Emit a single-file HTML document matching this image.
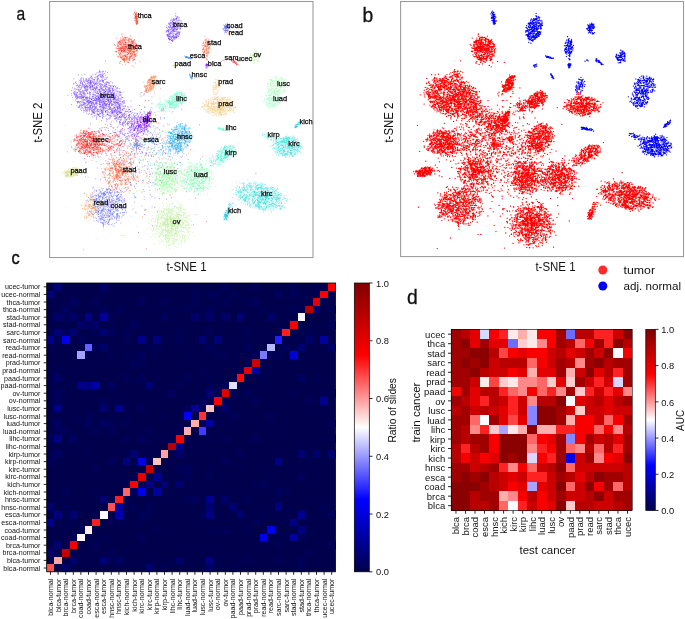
<!DOCTYPE html><html><head><meta charset="utf-8"><title>figure</title><style>html,body{margin:0;padding:0;background:#fff}svg{display:block;will-change:transform}text{font-family:"Liberation Sans",sans-serif;fill:#111}</style></head><body>
<svg width="685" height="619" viewBox="0 0 685 619">
<rect width="685" height="619" fill="#fff"/>
<defs>
<path id="p_thca_T" d="M118.4 53.3h0M129.8 60.7h0M124.7 39.7h0M131.2 49.3h0M127.0 55.0h0M136.4 46.2h0M127.3 48.6h0M121.1 41.3h0M134.4 54.9h0M124.3 55.6h0M131.5 50.0h0M127.8 55.0h0M132.2 50.0h0M130.8 53.7h0M121.9 42.7h0M132.6 53.9h0M132.2 58.2h0M135.3 42.1h0M122.9 56.8h0M120.7 61.5h0M130.4 51.5h0M128.0 44.5h0M123.3 40.7h0M125.2 48.4h0M125.5 47.6h0M132.7 54.0h0M126.4 57.7h0M118.1 43.1h0M133.8 46.5h0M129.8 41.2h0M122.2 42.4h0M121.5 48.3h0M127.6 49.1h0M130.1 45.9h0M133.3 52.4h0M130.1 53.0h0M124.9 43.1h0M127.0 48.6h0M129.0 38.1h0M122.8 50.5h0M128.7 53.5h0M135.4 51.3h0M130.9 42.7h0M135.3 47.6h0M127.2 59.1h0M132.3 41.8h0M124.7 50.7h0M123.8 57.7h0M120.1 48.7h0M137.2 49.6h0M121.8 51.2h0M129.0 56.7h0M126.4 47.0h0M119.2 48.9h0M130.6 44.3h0M129.9 46.3h0M123.0 59.2h0M125.6 56.3h0M136.7 44.4h0M117.2 48.7h0M132.7 53.8h0M133.5 51.3h0M134.5 48.5h0M124.1 47.2h0M133.7 51.9h0M121.6 48.6h0M121.1 48.8h0M124.6 50.1h0M136.5 45.4h0M131.8 47.1h0M131.0 53.9h0M130.2 54.5h0M119.5 54.6h0M131.6 39.4h0M124.7 46.5h0M125.6 38.1h0M119.1 44.4h0M129.1 59.2h0M130.6 39.4h0M130.8 49.4h0M125.5 44.5h0M130.0 59.2h0M120.9 50.3h0M130.7 48.3h0M117.2 46.2h0M134.6 52.4h0M119.9 52.9h0M123.9 43.6h0M132.9 51.6h0M126.8 54.6h0M128.8 49.3h0M115.2 45.5h0M121.8 54.5h0M119.8 48.8h0M125.2 55.3h0M122.1 40.7h0M127.4 50.3h0M131.9 45.0h0M128.1 48.6h0M123.3 49.2h0M116.7 51.6h0M132.4 41.2h0M125.2 56.4h0M129.1 41.4h0M124.8 59.1h0M125.8 42.4h0M123.1 56.6h0M119.7 42.8h0M132.2 45.9h0M132.8 51.5h0M130.1 38.9h0M118.5 46.4h0M124.3 51.8h0M121.0 58.4h0M127.2 49.2h0M126.4 59.8h0M119.9 41.1h0M129.7 51.3h0M123.8 42.6h0M135.7 46.5h0M127.7 48.9h0M133.0 43.0h0M129.9 39.3h0M130.1 56.8h0M134.5 47.3h0M128.2 54.3h0M129.8 45.2h0M131.1 44.2h0M124.0 45.8h0M120.6 48.0h0M129.4 58.4h0M118.7 47.8h0M125.3 55.8h0M130.6 53.4h0M134.4 58.1h0M128.8 42.0h0M135.9 43.4h0M131.8 56.2h0M134.6 49.8h0M126.0 61.0h0M131.9 55.6h0M130.0 58.0h0M120.3 44.6h0M117.1 55.1h0M120.8 52.4h0M129.2 58.5h0M125.5 46.4h0M125.2 56.4h0M122.5 52.7h0M116.3 51.9h0M130.2 46.3h0M127.0 58.5h0M125.3 39.8h0M123.1 60.0h0M133.1 43.3h0M118.3 56.8h0M119.9 48.7h0M132.2 42.9h0M124.8 44.5h0M128.5 50.3h0M129.4 52.4h0M136.2 48.4h0M136.8 51.2h0M125.8 52.6h0M134.7 46.6h0M134.7 49.9h0M130.7 56.3h0M128.8 58.6h0M132.0 52.6h0M115.9 51.3h0M120.3 44.0h0M123.3 58.1h0M133.1 54.9h0M128.5 44.3h0M127.5 46.8h0M121.9 46.6h0M133.2 57.7h0M117.7 46.1h0M120.5 41.1h0M124.5 50.3h0M133.3 40.4h0M120.0 55.6h0M117.8 48.3h0M131.1 53.3h0M117.8 44.5h0M127.1 46.5h0M126.7 47.2h0M126.8 50.3h0M131.8 48.7h0M125.8 42.9h0M124.2 50.6h0M120.2 53.6h0M127.2 46.9h0M130.7 57.9h0M123.9 44.8h0M125.0 37.9h0M125.6 48.8h0M130.9 44.2h0M115.8 51.6h0M119.9 50.8h0M124.8 59.8h0M135.0 43.7h0M122.8 59.5h0M125.4 44.4h0M120.3 53.9h0M128.5 48.2h0M137.1 44.9h0M137.1 51.3h0M138.2 48.5h0M125.4 47.7h0M132.0 52.0h0M121.3 49.1h0M130.1 50.2h0M118.1 45.8h0M129.9 57.4h0M123.4 53.3h0M123.4 60.2h0M119.8 42.9h0M128.1 46.0h0M136.3 44.3h0M121.8 59.8h0M122.7 46.7h0M134.3 49.3h0M120.4 56.8h0M134.5 46.7h0M129.2 51.6h0M132.1 42.5h0M122.5 41.8h0M124.2 60.0h0M128.4 39.0h0M125.3 56.0h0M134.1 42.4h0M134.6 54.2h0M134.3 57.0h0M126.8 44.7h0M125.4 49.6h0M131.5 56.3h0M122.5 48.6h0M124.3 58.8h0M114.5 44.4h0M126.5 40.1h0M129.9 44.4h0M133.4 52.0h0M118.6 42.7h0M129.8 48.6h0M121.4 50.6h0M127.3 44.9h0M134.2 55.0h0M133.0 41.7h0M122.4 46.1h0M130.8 45.1h0M128.7 39.8h0M129.7 45.5h0M131.4 51.0h0M125.6 42.3h0M129.3 57.1h0M126.6 51.9h0M122.5 59.0h0M120.9 44.5h0M123.2 44.6h0M128.9 47.9h0M137.2 50.0h0M128.0 52.7h0M124.8 51.8h0M128.2 45.5h0M124.4 48.1h0M115.9 48.0h0M127.1 44.1h0M124.1 44.3h0M124.5 59.5h0M135.8 55.4h0M122.3 50.3h0M131.7 43.7h0M118.0 41.7h0M134.0 51.9h0M118.8 52.7h0M124.8 51.2h0M118.0 43.1h0M118.5 43.0h0M136.7 45.4h0M122.6 57.1h0M120.6 53.7h0M124.8 46.9h0M132.8 43.0h0M124.2 37.9h0M123.6 49.7h0M129.0 43.1h0M119.5 49.8h0M136.1 46.5h0M124.6 61.4h0M129.1 51.7h0M128.5 45.5h0M124.0 60.0h0M131.3 41.7h0M120.2 42.6h0M116.9 48.3h0M135.3 55.0h0M128.5 40.7h0M136.5 54.0h0M133.2 47.3h0M133.6 41.4h0M125.2 54.6h0M133.2 56.7h0M132.4 43.4h0M118.9 50.2h0M131.0 53.9h0M121.0 49.1h0M127.0 56.8h0M125.8 49.8h0M120.4 39.9h0M132.3 45.2h0M128.9 41.8h0M130.8 56.5h0M118.3 50.4h0M120.7 49.4h0M135.9 48.3h0M135.0 54.8h0M121.7 48.6h0M129.9 46.9h0M117.9 56.7h0M125.9 64.1h0M122.9 47.3h0M122.8 59.1h0M134.8 44.4h0M137.0 56.0h0M127.7 52.7h0M129.3 50.6h0M124.4 37.3h0M126.0 52.7h0M130.0 46.4h0M133.0 43.4h0M132.4 46.3h0M126.5 59.2h0M132.1 49.0h0M119.1 56.7h0M131.2 47.8h0M127.7 37.6h0M129.2 50.1h0M125.0 42.1h0M128.2 48.1h0M132.9 47.6h0M125.6 42.4h0M132.7 41.0h0M131.2 41.1h0M125.6 50.8h0M135.6 56.3h0M125.5 38.1h0M134.6 59.5h0M124.0 52.0h0M132.7 48.8h0M122.7 47.1h0M123.3 48.4h0M128.4 48.4h0M125.1 58.6h0M129.6 49.0h0M130.6 46.3h0M120.6 57.4h0M123.8 55.8h0M129.9 52.7h0M133.5 44.5h0M128.4 53.2h0M134.0 49.5h0M130.2 45.7h0M121.2 44.4h0M122.8 40.2h0M126.0 39.9h0M134.1 51.3h0M134.5 54.8h0M118.6 49.0h0M130.4 50.4h0M123.7 48.9h0M126.6 45.8h0M120.7 38.2h0M119.7 41.5h0M130.4 50.2h0M127.8 62.2h0M130.4 45.9h0M132.3 55.2h0M119.7 47.2h0M137.2 52.9h0M128.5 48.2h0M129.9 55.6h0M119.7 54.3h0M124.5 48.2h0M125.9 43.3h0M132.3 46.4h0M126.0 37.6h0M121.7 57.5h0M135.6 54.2h0M124.8 40.2h0M137.1 46.9h0M136.7 50.2h0M128.0 40.4h0M130.1 56.6h0M121.7 50.5h0M123.0 48.4h0M120.5 42.5h0M130.8 48.7h0M123.2 38.8h0M120.2 55.2h0M125.7 43.0h0M116.8 51.5h0M123.3 51.5h0M120.5 57.3h0M124.3 49.1h0M124.9 60.4h0M127.2 57.3h0M133.0 58.7h0M122.6 51.0h0M124.4 59.1h0M131.4 40.3h0M131.2 41.9h0M121.7 58.0h0M122.2 44.0h0M131.0 45.6h0M122.2 55.6h0M118.1 45.4h0M121.3 51.4h0M121.9 41.1h0M130.3 48.0h0M131.5 55.5h0M136.7 46.5h0M125.6 46.5h0M129.4 39.1h0M126.2 48.2h0M134.5 39.5h0M123.8 55.8h0M125.4 42.6h0M126.1 58.4h0M118.2 48.5h0M123.0 39.2h0M127.8 52.4h0M133.2 59.6h0M124.5 55.3h0M129.7 60.9h0M133.8 60.1h0M132.2 65.6h0M128.1 50.6h0M121.8 50.8h0M134.7 53.8h0M133.0 60.9h0M135.3 63.0h0M126.8 57.0h0M127.7 58.9h0M124.8 57.8h0M134.8 49.5h0M128.5 53.5h0M128.2 62.2h0M127.0 61.9h0M119.9 63.5h0M124.5 61.1h0M128.2 45.1h0M123.8 59.1h0M134.5 59.4h0M128.5 50.9h0M134.0 67.0h0M127.4 56.9h0M119.8 62.4h0M139.9 61.6h0M133.2 60.7h0M122.7 64.7h0M121.6 56.9h0M128.6 62.4h0M129.2 59.9h0M123.8 51.6h0M127.6 54.4h0M121.2 51.7h0M125.0 48.7h0M121.0 49.8h0M128.2 60.0h0M136.7 50.5h0M124.1 62.6h0M126.3 56.4h0M135.3 56.3h0M121.9 51.4h0M125.8 46.2h0M119.4 41.1h0M126.5 47.3h0M122.1 47.5h0M126.6 37.9h0M123.3 46.7h0M122.4 36.4h0M123.5 48.0h0M130.4 36.2h0M134.2 40.5h0M128.1 49.9h0M128.2 45.6h0M120.2 47.5h0M121.8 34.9h0M135.1 47.8h0M131.3 41.4h0M130.0 51.4h0M130.3 44.9h0M120.0 44.3h0M116.3 38.2h0M124.9 41.0h0M123.9 44.6h0M131.7 50.2h0M124.3 49.8h0M121.6 43.7h0M127.9 40.0h0M123.5 39.7h0M124.9 51.5h0M121.7 45.9h0M121.2 40.4h0M119.9 50.8h0M133.3 46.9h0M121.8 47.8h0M123.3 48.2h0M125.6 46.1h0M126.8 42.7h0M123.0 38.1h0M122.9 39.3h0M124.0 41.2h0M124.9 46.8h0M119.2 41.7h0M121.0 48.0h0M130.9 48.4h0M123.2 50.9h0M118.9 51.0h0M122.1 33.9h0M134.4 51.3h0M120.7 45.7h0M123.7 45.4h0M119.0 42.3h0M126.3 45.9h0M129.0 45.3h0M133.3 42.1h0M125.5 37.3h0M119.8 50.3h0M121.0 47.1h0M124.3 40.8h0M123.2 42.9h0M172.3 111.8h0M92.4 192.9h0M111.7 219.2h0M152.0 96.9h0"/>
<path id="p_brca_T" d="M107.8 96.0h0M92.1 112.2h0M110.5 86.1h0M83.4 108.9h0M83.4 97.5h0M103.5 106.9h0M113.1 95.2h0M78.9 101.4h0M97.0 88.3h0M105.6 101.7h0M97.4 96.3h0M96.5 103.7h0M76.1 92.9h0M93.8 83.0h0M102.3 114.0h0M93.1 94.4h0M107.5 91.7h0M103.3 114.2h0M75.6 91.1h0M98.2 101.1h0M104.0 110.3h0M78.2 89.6h0M77.5 92.7h0M92.7 87.1h0M104.2 94.7h0M97.3 76.5h0M84.1 104.1h0M76.9 89.6h0M93.5 81.8h0M101.7 94.9h0M95.8 88.5h0M92.8 94.9h0M102.3 105.6h0M106.3 94.6h0M90.9 105.8h0M85.6 97.6h0M110.8 94.8h0M97.5 114.8h0M100.0 97.0h0M96.4 103.1h0M112.9 113.2h0M81.2 88.7h0M106.9 87.1h0M85.2 97.8h0M110.5 90.9h0M87.1 98.0h0M109.9 87.6h0M109.0 112.8h0M93.0 102.8h0M99.3 99.7h0M101.1 83.8h0M84.1 93.3h0M91.8 82.7h0M93.6 111.6h0M101.1 81.4h0M120.3 106.0h0M110.2 109.3h0M80.3 109.2h0M111.6 93.3h0M107.5 93.0h0M110.6 93.8h0M95.8 107.8h0M80.5 82.9h0M112.1 112.1h0M89.5 96.3h0M90.9 90.8h0M92.9 106.9h0M81.2 96.3h0M78.5 102.4h0M112.8 112.6h0M117.6 114.5h0M105.0 86.9h0M115.2 105.0h0M111.1 101.9h0M106.7 96.1h0M98.3 97.3h0M108.7 83.0h0M106.9 101.2h0M101.7 102.9h0M91.6 101.2h0M100.0 109.2h0M116.7 112.6h0M98.9 97.0h0M107.6 96.8h0M106.2 81.4h0M91.8 111.0h0M113.8 90.7h0M107.5 89.9h0M90.6 101.5h0M109.7 117.1h0M105.6 111.8h0M82.0 97.4h0M103.8 93.4h0M104.0 103.2h0M81.6 95.7h0M86.5 101.1h0M101.4 96.5h0M102.5 109.0h0M92.9 85.3h0M90.0 102.0h0M92.0 85.3h0M105.6 91.6h0M108.1 90.2h0M110.7 91.1h0M88.1 107.4h0M93.4 103.1h0M109.6 115.6h0M92.8 107.9h0M105.4 108.7h0M105.7 86.5h0M116.4 110.5h0M100.0 116.8h0M110.9 81.6h0M105.8 82.6h0M118.4 103.3h0M89.9 98.3h0M115.4 109.5h0M104.2 91.3h0M91.2 104.8h0M100.8 91.8h0M109.8 103.7h0M99.7 98.4h0M83.3 80.3h0M94.3 79.6h0M81.0 83.4h0M89.6 92.1h0M85.7 83.4h0M107.5 114.2h0M100.3 99.4h0M91.5 99.5h0M86.6 89.2h0M93.9 106.7h0M99.0 104.0h0M81.5 94.4h0M83.5 97.3h0M90.3 109.4h0M114.5 98.2h0M113.7 99.4h0M106.9 103.7h0M80.7 91.4h0M93.5 112.6h0M82.1 105.1h0M102.4 99.9h0M118.5 117.5h0M114.5 107.6h0M103.7 107.0h0M91.9 84.3h0M109.6 108.6h0M114.4 94.3h0M104.6 90.4h0M93.7 103.4h0M95.9 84.5h0M120.1 101.4h0M106.8 110.3h0M94.1 94.3h0M83.9 93.5h0M92.2 101.3h0M96.3 98.5h0M114.7 114.9h0M93.6 88.5h0M98.6 111.3h0M84.5 96.4h0M101.2 97.3h0M84.1 102.7h0M85.2 106.2h0M107.3 97.9h0M86.9 86.3h0M87.0 87.7h0M96.6 104.1h0M89.0 80.2h0M83.0 99.9h0M80.0 84.9h0M80.8 98.5h0M99.1 98.6h0M106.4 95.1h0M95.8 83.6h0M117.1 101.4h0M90.4 103.2h0M90.8 106.0h0M109.4 118.8h0M95.9 98.4h0M91.0 101.1h0M99.4 107.2h0M88.4 114.1h0M91.7 103.3h0M100.6 95.9h0M80.8 94.3h0M108.9 89.0h0M103.8 101.6h0M100.0 113.7h0M107.3 98.9h0M115.7 110.4h0M104.7 103.4h0M76.2 85.7h0M92.0 103.3h0M99.3 113.6h0M83.2 78.3h0M91.9 89.6h0M98.2 101.3h0M80.2 85.6h0M83.4 94.1h0M109.6 91.7h0M113.8 111.2h0M95.1 108.2h0M85.1 86.5h0M114.4 107.5h0M106.2 93.1h0M113.8 101.4h0M89.9 101.6h0M102.6 89.2h0M94.5 105.2h0M109.6 99.1h0M96.8 117.0h0M103.5 99.8h0M105.4 103.9h0M80.7 93.2h0M109.4 104.8h0M108.6 100.7h0M90.4 84.9h0M85.3 86.3h0M87.8 81.3h0M75.7 96.5h0M116.3 94.0h0M98.0 85.3h0M82.2 95.7h0M91.4 104.8h0M102.5 107.4h0M82.7 108.1h0M93.8 98.4h0M105.6 105.0h0M115.0 98.0h0M91.5 110.1h0M87.0 90.0h0M116.4 113.2h0M84.9 87.6h0M91.0 83.1h0M102.1 101.5h0M125.5 105.7h0M98.9 101.2h0M92.5 106.7h0M101.8 79.4h0M82.2 105.0h0M114.7 93.3h0M92.3 116.9h0M91.0 102.0h0M97.1 93.5h0M111.1 92.5h0M102.2 96.2h0M85.2 111.6h0M95.9 96.0h0M83.3 97.2h0M95.4 88.4h0M97.2 98.7h0M110.0 90.7h0M97.7 91.8h0M102.7 117.5h0M86.5 105.5h0M88.0 102.0h0M120.3 98.9h0M77.3 92.7h0M90.6 87.2h0M117.3 98.7h0M76.2 99.0h0M117.1 100.2h0M89.8 105.6h0M119.4 108.0h0M115.4 119.0h0M96.2 86.2h0M90.0 98.4h0M115.4 87.1h0M79.1 85.6h0M96.1 88.7h0M87.7 100.8h0M88.9 88.0h0M96.0 78.0h0M83.2 100.1h0M89.3 93.8h0M101.4 95.2h0M110.4 98.0h0M76.9 105.4h0M103.3 102.0h0M109.6 91.3h0M74.2 93.1h0M99.1 97.4h0M101.7 88.7h0M81.2 101.5h0M103.2 94.7h0M76.0 81.6h0M98.3 78.7h0M105.7 95.6h0M82.7 82.5h0M115.1 100.0h0M81.6 98.4h0M88.0 98.9h0M90.7 83.7h0M86.2 97.5h0M97.5 87.2h0M89.6 92.2h0M102.5 80.3h0M113.1 87.1h0M87.2 88.1h0M115.3 97.0h0M106.6 84.7h0M107.5 93.5h0M109.3 103.4h0M116.8 107.0h0M92.0 87.1h0M83.6 104.7h0M119.7 91.7h0M86.3 98.4h0M102.4 81.3h0M95.8 102.0h0M88.9 82.6h0M120.9 95.3h0M116.6 91.0h0M71.5 104.4h0M79.1 90.7h0M76.3 83.6h0M87.5 101.5h0M81.1 91.2h0M106.3 99.2h0M102.3 96.1h0M87.7 104.5h0M94.3 79.9h0M118.6 100.7h0M95.2 97.7h0M117.9 88.4h0M103.7 90.7h0M108.7 95.3h0M112.6 112.4h0M121.4 98.1h0M120.1 104.6h0M94.7 106.6h0M89.9 83.6h0M111.9 112.6h0M90.3 88.2h0M97.6 81.8h0M103.0 80.5h0M111.1 92.2h0M83.5 112.2h0M105.4 108.3h0M112.0 86.3h0M117.5 108.5h0M95.2 107.8h0M94.6 108.8h0M105.0 85.7h0M79.9 94.5h0M102.2 94.6h0M91.1 76.1h0M117.7 87.6h0M99.2 94.8h0M123.1 92.0h0M90.5 107.4h0M91.5 99.2h0M87.2 80.0h0M87.5 86.9h0M106.6 83.9h0M110.6 85.9h0M85.7 107.6h0M100.0 100.8h0M102.4 80.2h0M95.0 81.3h0M89.2 109.2h0M107.0 104.4h0M115.4 107.0h0M91.1 114.7h0M92.0 105.6h0M97.5 110.8h0M109.5 105.9h0M97.8 98.2h0M88.8 100.5h0M106.5 106.9h0M97.5 103.0h0M74.3 94.1h0M108.4 92.4h0M113.7 93.0h0M82.6 97.7h0M104.3 107.9h0M89.8 110.1h0M94.4 84.9h0M82.8 97.5h0M84.4 85.4h0M100.7 84.0h0M90.2 77.6h0M109.0 93.1h0M112.6 112.6h0M87.9 106.8h0M103.7 100.9h0M73.8 83.9h0M87.9 83.5h0M94.1 105.1h0M114.7 110.3h0M71.7 90.5h0M102.5 113.5h0M99.5 116.4h0M91.1 98.2h0M116.3 100.0h0M79.6 102.9h0M97.7 78.0h0M77.8 101.8h0M79.0 97.9h0M103.4 108.5h0M99.9 110.1h0M104.0 86.2h0M77.2 95.4h0M87.0 110.2h0M118.5 104.7h0M113.5 93.7h0M95.6 100.5h0M74.9 94.6h0M84.9 86.1h0M102.3 112.3h0M83.5 96.0h0M90.6 105.8h0M109.0 87.6h0M99.7 99.5h0M109.5 101.7h0M94.3 110.4h0M79.7 107.3h0M106.4 105.4h0M115.9 96.9h0M104.6 92.7h0M106.3 104.6h0M81.8 87.7h0M83.2 98.9h0M83.6 79.4h0M79.8 106.4h0M108.6 99.4h0M96.1 113.8h0M108.6 89.3h0M93.0 104.8h0M90.4 80.9h0M71.8 95.2h0M81.0 87.5h0M77.0 85.6h0M93.2 90.0h0M104.2 102.8h0M117.3 112.9h0M110.8 100.8h0M92.6 108.9h0M82.9 102.2h0M96.0 102.5h0M90.3 81.8h0M114.8 103.1h0M89.4 97.5h0M90.0 102.1h0M80.7 103.9h0M117.7 108.8h0M115.3 116.2h0M110.9 106.7h0M88.9 102.6h0M115.0 103.2h0M101.9 105.7h0M83.0 86.5h0M97.5 103.9h0M104.8 101.7h0M108.6 91.2h0M100.1 101.2h0M105.8 112.1h0M108.3 89.1h0M92.8 111.8h0M98.7 114.9h0M123.7 100.9h0M99.1 112.1h0M115.6 86.6h0M89.0 104.4h0M83.2 84.8h0M91.0 102.2h0M85.7 102.9h0M118.8 99.0h0M117.4 96.3h0M101.5 112.7h0M99.8 80.3h0M102.2 106.1h0M85.6 108.7h0M99.3 98.7h0M92.8 86.7h0M98.6 89.7h0M100.4 88.4h0M106.8 82.7h0M95.3 97.2h0M99.7 106.3h0M112.6 103.9h0M76.6 94.2h0M118.8 99.1h0M84.4 94.7h0M92.0 89.2h0M123.0 97.4h0M103.1 95.3h0M98.4 93.5h0M90.5 89.3h0M95.2 108.3h0M103.3 81.1h0M76.3 96.6h0M97.3 80.3h0M96.1 107.4h0M117.4 99.7h0M102.6 112.5h0M104.1 89.5h0M103.3 96.2h0M100.8 104.8h0M117.4 91.1h0M90.5 82.4h0M84.5 80.9h0M96.3 100.0h0M81.3 106.8h0M95.1 107.3h0M71.4 93.3h0M90.7 82.1h0M99.8 83.6h0M97.2 79.8h0M84.6 102.6h0M84.5 103.8h0M100.1 91.9h0M116.4 102.7h0M96.4 106.7h0M92.6 97.0h0M94.1 102.1h0M114.7 102.2h0M106.2 101.6h0M120.5 94.2h0M100.3 92.1h0M95.9 97.9h0M92.8 74.8h0M86.5 99.9h0M90.7 84.4h0M85.0 96.3h0M106.2 97.1h0M82.9 93.8h0M111.9 85.6h0M94.9 94.6h0M78.5 101.6h0M123.0 103.8h0M99.2 114.9h0M109.4 96.6h0M108.2 100.6h0M105.4 93.7h0M89.9 86.9h0M87.5 81.7h0M98.5 97.1h0M76.0 94.9h0M111.3 88.1h0M98.7 95.1h0M102.5 95.3h0M76.0 94.1h0M90.6 80.5h0M105.0 105.3h0M114.3 112.2h0M103.7 105.0h0M100.0 86.3h0M91.6 99.2h0M114.2 96.5h0M102.8 102.1h0M100.1 106.4h0M112.2 89.3h0M80.6 96.6h0M96.0 111.5h0M108.0 82.8h0M94.2 111.3h0M107.5 100.0h0M89.4 109.2h0M103.6 94.9h0M87.1 93.6h0M114.2 98.8h0M93.9 100.7h0M104.7 97.4h0M86.4 107.3h0M74.2 92.9h0M91.1 85.8h0M84.2 86.8h0M95.4 89.6h0M96.1 82.5h0M91.0 108.4h0M120.5 108.0h0M97.9 93.9h0M81.4 77.7h0M82.5 84.5h0M83.8 91.4h0M114.4 98.3h0M84.2 110.6h0M112.0 96.9h0M100.2 105.9h0M96.2 84.7h0M124.3 100.8h0M99.5 101.9h0M103.8 86.5h0M96.4 98.7h0M111.9 108.5h0M77.2 95.2h0M97.2 93.3h0M88.1 109.2h0M119.6 101.1h0M104.6 100.2h0M91.2 108.1h0M83.2 103.8h0M85.6 100.0h0M86.4 107.8h0M120.8 109.8h0M97.2 112.2h0M92.3 107.4h0M96.4 93.0h0M89.8 98.6h0M99.3 82.0h0M78.8 94.3h0M81.2 104.9h0M102.7 111.0h0M94.7 113.4h0M109.5 96.2h0M75.9 92.5h0M88.7 103.8h0M96.5 108.2h0M110.6 94.2h0M97.0 80.9h0M96.5 87.2h0M99.1 95.6h0M96.4 100.8h0M99.0 89.3h0M117.4 114.9h0M92.3 81.0h0M87.0 104.0h0M92.3 82.3h0M96.7 102.1h0M83.2 102.4h0M92.2 78.7h0M113.6 99.1h0M84.1 103.5h0M101.5 110.4h0M102.4 104.8h0M94.2 85.2h0M111.1 95.5h0M112.6 105.0h0M89.1 100.8h0M101.6 110.9h0M110.5 99.7h0M105.6 111.2h0M106.3 104.7h0M104.8 84.2h0M110.8 102.7h0M103.7 87.3h0M111.0 115.9h0M79.8 97.6h0M78.9 86.9h0M109.8 96.0h0M104.7 79.4h0M109.5 106.7h0M73.3 92.2h0M108.0 82.0h0M80.0 85.0h0M91.2 76.8h0M115.9 102.0h0M122.0 105.0h0M103.9 93.7h0M79.1 80.4h0M85.3 107.4h0M100.2 104.4h0M100.4 106.6h0M90.2 82.6h0M104.5 85.8h0M103.0 95.1h0M121.5 97.0h0M90.4 105.5h0M78.4 107.4h0M98.8 111.3h0M81.8 86.2h0M110.6 99.2h0M99.6 92.3h0M90.9 96.2h0M102.7 111.1h0M112.4 90.0h0M114.2 95.4h0M102.1 88.9h0M87.9 107.7h0M85.6 98.6h0M80.6 80.0h0M122.5 97.5h0M95.5 103.4h0M77.0 96.4h0M114.3 110.6h0M116.0 105.4h0M92.2 114.0h0M108.2 88.1h0M94.5 84.8h0M83.5 92.6h0M75.7 97.5h0M89.6 111.7h0M101.0 90.7h0M72.6 87.8h0M106.2 104.8h0M93.0 89.7h0M104.8 99.9h0M110.8 109.1h0M108.6 101.7h0M102.8 103.3h0M93.4 100.5h0M111.4 101.3h0M117.0 102.7h0M97.9 99.2h0M98.6 85.8h0M86.2 81.5h0M93.9 97.3h0M103.0 89.9h0M84.9 74.4h0M94.8 115.6h0M74.3 88.1h0M97.6 90.0h0M88.0 82.5h0M84.0 87.7h0M99.3 90.1h0M103.9 108.6h0M118.5 111.4h0M120.7 111.4h0M89.0 84.3h0M93.2 96.5h0M112.4 89.1h0M117.5 102.8h0M108.2 111.6h0M87.5 99.0h0M79.2 96.5h0M82.1 86.1h0M111.1 96.7h0M88.8 86.6h0M91.0 102.9h0M94.4 87.8h0M94.3 98.9h0M87.4 89.3h0M113.0 115.3h0M96.3 96.0h0M81.8 91.9h0M89.5 80.1h0M85.8 86.9h0M84.1 84.8h0M99.3 89.7h0M105.7 111.5h0M103.4 81.8h0M87.1 80.8h0M95.5 83.5h0M77.3 98.6h0M112.2 112.1h0M115.4 97.8h0M109.5 89.5h0M107.7 100.2h0M74.5 91.6h0M117.0 93.8h0M117.7 91.9h0M85.6 88.3h0M120.0 95.4h0M101.7 93.8h0M106.5 108.0h0M100.5 102.4h0M86.8 97.4h0M77.9 84.9h0M95.5 92.3h0M85.3 86.8h0M106.0 95.1h0M109.6 85.3h0M101.3 101.6h0M86.9 102.3h0M118.9 93.9h0M103.7 82.6h0M116.7 107.0h0M86.6 79.3h0M98.9 99.3h0M80.6 89.4h0M120.1 106.1h0M109.4 108.1h0M110.7 88.3h0M90.4 94.5h0M103.4 98.9h0M112.7 91.9h0M112.1 109.3h0M92.2 86.3h0M98.9 96.5h0M89.5 108.2h0M97.4 91.9h0M91.7 110.8h0M97.8 111.2h0M82.0 105.8h0M94.3 100.5h0M113.2 100.8h0M96.3 102.2h0M75.6 95.8h0M78.5 90.2h0M96.3 88.1h0M117.7 102.7h0M85.8 80.7h0M108.1 93.5h0M107.6 114.4h0M94.0 87.3h0M102.4 115.1h0M107.3 94.5h0M81.7 79.0h0M99.4 100.5h0M113.7 90.4h0M86.1 90.5h0M84.3 92.3h0M110.2 109.6h0M101.3 96.9h0M86.5 91.4h0M101.7 95.8h0M112.3 110.8h0M96.0 90.0h0M83.7 100.1h0M84.8 88.8h0M92.4 89.0h0M113.7 86.7h0M112.4 97.7h0M103.5 116.1h0M115.6 90.9h0M110.9 116.3h0M106.9 101.6h0M94.6 99.8h0M89.1 107.6h0M100.9 91.3h0M95.3 95.2h0M75.4 100.2h0M105.6 87.7h0M113.6 98.8h0M94.2 90.5h0M90.0 79.0h0M110.7 92.8h0M92.5 102.5h0M119.3 106.0h0M102.7 118.4h0M120.1 112.8h0M113.6 86.3h0M101.3 111.8h0M87.8 102.2h0M84.7 90.5h0M102.8 104.2h0M79.7 96.1h0M93.2 98.6h0M99.0 98.5h0M86.9 84.0h0M84.8 94.6h0M103.9 114.5h0M109.5 82.7h0M77.7 97.4h0M112.9 105.9h0M120.4 92.4h0M80.7 97.4h0M116.8 118.2h0M86.1 110.4h0M96.4 99.6h0M108.7 104.7h0M85.5 104.0h0M99.8 104.8h0M97.1 105.5h0M92.9 79.1h0M98.6 99.9h0M105.9 101.6h0M100.7 111.1h0M91.6 103.2h0M100.9 107.3h0M78.5 74.9h0M119.7 92.6h0M109.3 90.1h0M89.7 94.8h0M102.7 90.5h0M109.2 83.6h0M88.8 81.3h0M100.5 94.2h0M84.7 99.6h0M101.1 86.8h0M78.7 86.5h0M100.6 85.4h0M99.2 90.8h0M99.5 98.7h0M106.9 91.8h0M114.7 108.0h0M76.3 95.5h0M86.9 85.5h0M113.6 86.4h0M106.0 103.7h0M94.8 87.3h0M80.0 104.9h0M120.9 112.7h0M85.9 103.6h0M88.4 79.1h0M112.6 112.2h0M115.1 89.6h0M108.3 104.4h0M93.3 112.5h0M88.3 102.4h0M108.5 106.3h0M115.1 98.1h0M108.3 99.8h0M100.3 96.9h0M98.7 114.3h0M113.1 88.3h0M78.1 107.0h0M93.0 102.3h0M96.2 87.4h0M109.0 108.9h0M118.4 106.7h0M114.6 98.5h0M88.2 100.5h0M108.5 85.3h0M67.9 95.2h0M113.0 114.2h0M73.9 89.8h0M101.3 110.5h0M105.8 105.2h0M118.5 108.3h0M79.6 98.3h0M89.7 113.8h0M88.2 101.9h0M110.4 100.1h0M103.9 93.1h0M97.2 77.0h0M92.8 111.8h0M101.5 86.3h0M96.3 82.0h0M85.1 89.7h0M94.0 109.8h0M97.5 109.8h0M87.1 96.7h0M92.8 103.9h0M105.3 95.7h0M85.5 93.9h0M94.1 82.6h0M103.0 96.5h0M85.7 79.2h0M99.9 103.9h0M88.5 103.3h0M116.2 97.9h0M103.9 101.5h0M95.9 111.2h0M89.6 85.5h0M112.6 91.3h0M114.1 85.5h0M99.9 84.5h0M97.3 92.2h0M77.1 101.8h0M110.8 107.8h0M88.5 80.5h0M104.9 103.8h0M105.8 88.6h0M105.7 111.2h0M111.3 104.9h0M119.0 106.3h0M99.8 104.6h0M81.1 80.7h0M112.1 109.0h0M114.0 102.5h0M122.4 110.1h0M95.4 83.6h0M116.9 88.1h0M87.0 107.9h0M117.3 106.4h0M109.3 104.6h0M110.6 107.7h0M99.8 91.5h0M77.5 85.2h0M119.4 94.9h0M93.3 89.7h0M84.6 82.5h0M98.3 115.1h0M97.1 100.0h0M113.7 102.3h0M112.6 99.9h0M85.8 95.6h0M99.5 94.9h0M99.1 81.2h0M91.9 105.0h0M98.3 109.4h0M100.2 89.6h0M115.2 101.3h0M111.0 101.7h0M81.3 102.7h0M113.7 110.8h0M85.0 105.8h0M104.5 103.3h0M103.0 99.0h0M85.1 107.7h0M116.5 88.9h0M92.7 111.1h0M124.1 103.2h0M75.3 88.6h0M109.9 90.2h0M88.1 85.9h0M101.7 89.3h0M112.1 110.4h0M105.1 105.0h0M83.2 102.0h0M111.7 94.0h0M100.1 96.9h0M97.8 83.7h0M89.7 87.8h0M113.7 108.8h0M119.1 98.6h0M91.5 80.7h0M86.2 80.9h0M109.0 91.5h0M95.2 106.4h0M90.5 86.5h0M94.2 79.9h0M106.0 77.7h0M104.3 104.7h0M97.7 95.6h0M115.5 95.9h0M86.5 78.8h0M102.1 113.0h0M118.6 97.5h0M107.3 108.9h0M94.5 112.8h0M105.2 94.2h0M86.6 85.4h0M82.0 105.2h0M104.1 91.0h0M90.5 81.8h0M103.9 106.3h0M94.2 112.9h0M109.9 86.9h0M106.5 89.7h0M119.9 117.8h0M79.6 87.1h0M98.3 79.1h0M95.7 98.1h0M103.2 101.8h0M81.5 96.7h0M121.0 99.5h0M100.5 81.0h0M96.5 119.3h0M101.8 95.0h0M91.3 76.8h0M86.1 110.1h0M90.9 108.4h0M100.4 109.2h0M77.1 98.0h0M89.1 99.8h0M87.3 109.7h0M112.9 93.4h0M102.1 87.7h0M87.4 93.0h0M98.1 97.2h0M95.7 90.2h0M122.5 101.8h0M104.3 92.6h0M94.9 92.3h0M96.4 86.9h0M105.4 84.9h0M102.8 85.3h0M120.1 91.7h0M80.1 105.6h0M77.4 103.1h0M91.6 114.0h0M110.4 97.5h0M104.6 96.6h0M73.9 93.6h0M86.7 97.7h0M105.7 111.4h0M108.9 100.5h0M92.1 77.3h0M109.1 99.9h0M90.0 83.9h0M86.2 91.3h0M103.0 81.9h0M113.9 94.5h0M112.4 90.3h0M88.0 101.2h0M89.1 93.1h0M124.1 101.2h0M77.7 87.8h0M107.8 87.3h0M73.9 83.5h0M112.6 88.5h0M104.8 103.3h0M117.9 106.0h0M105.3 105.5h0M81.6 95.2h0M85.1 100.4h0M115.1 101.0h0M124.9 108.5h0M106.0 112.3h0M110.2 90.1h0M78.9 88.0h0M113.9 89.1h0M77.7 102.3h0M105.0 85.1h0M120.4 107.5h0M84.0 93.3h0M92.3 99.9h0M94.6 104.3h0M83.7 110.3h0M83.9 96.6h0M82.4 90.8h0M85.7 90.3h0M99.0 90.2h0M101.3 94.6h0M102.5 98.2h0M92.9 81.4h0M93.3 106.4h0M86.9 86.7h0M75.2 94.2h0M93.8 112.9h0M83.7 104.8h0M95.2 109.6h0M75.6 82.6h0M101.2 100.1h0M85.7 88.9h0M72.3 97.3h0M111.4 103.5h0M86.6 113.2h0M106.3 99.5h0M93.2 92.8h0M118.2 114.5h0M87.1 87.1h0M97.1 84.0h0M107.0 114.2h0M87.4 97.6h0M96.4 118.1h0M86.9 89.8h0M105.7 91.5h0M95.6 103.7h0M103.9 109.4h0M102.9 107.4h0M81.8 75.1h0M101.1 100.1h0M93.5 94.7h0M102.3 93.1h0M105.0 83.5h0M93.6 83.6h0M112.9 104.6h0M74.5 94.9h0M93.4 110.1h0M95.0 95.7h0M101.6 106.8h0M107.3 114.9h0M110.8 99.5h0M120.8 92.5h0M108.3 109.6h0M105.0 92.4h0M98.1 97.5h0M89.5 101.0h0M110.3 102.1h0M115.4 99.4h0M80.6 92.5h0M96.9 83.5h0M86.9 98.9h0M100.5 95.7h0M89.5 103.0h0M97.7 114.0h0M98.5 99.1h0M89.1 82.6h0M83.0 85.6h0M114.3 96.0h0M102.2 107.2h0M105.7 89.5h0M116.7 99.9h0M103.2 80.6h0M104.7 107.1h0M99.4 101.7h0M100.7 100.4h0M79.2 107.0h0M101.5 88.4h0M99.9 102.1h0M80.7 94.0h0M117.9 111.2h0M94.3 83.2h0M103.4 104.0h0M105.4 88.4h0M90.7 87.7h0M97.8 99.1h0M96.0 76.8h0M86.3 101.6h0M90.4 93.0h0M74.0 78.7h0M89.2 110.4h0M77.3 96.7h0M103.5 89.5h0M105.5 94.6h0M109.6 91.9h0M85.5 86.6h0M118.3 91.9h0M108.5 118.6h0M124.1 106.3h0M109.1 105.1h0M116.5 95.5h0M100.9 93.2h0M81.7 99.1h0M100.1 94.1h0M104.8 98.6h0M99.7 103.7h0M92.4 85.6h0M108.4 102.0h0M91.3 78.3h0M101.9 100.6h0M95.9 91.8h0M114.8 107.1h0M81.9 97.9h0M114.6 92.2h0M85.2 107.7h0M116.6 102.3h0M78.9 91.6h0M100.7 113.2h0M103.5 97.7h0M100.3 104.1h0M83.8 81.6h0M106.3 98.3h0M113.8 99.2h0M88.1 89.8h0M97.1 109.2h0M79.9 89.3h0M89.3 106.1h0M88.1 104.2h0M89.5 102.8h0M98.3 114.9h0M116.1 109.3h0M102.2 84.7h0M120.1 108.4h0M82.5 83.3h0M79.3 102.1h0M91.3 82.8h0M81.7 81.5h0M79.5 91.1h0M106.3 84.2h0M80.6 81.8h0M103.4 96.5h0M85.4 84.6h0M114.1 93.4h0M101.8 95.7h0M97.3 79.5h0M84.2 104.9h0M76.8 89.5h0M108.3 107.4h0M99.3 84.3h0M88.9 78.6h0M106.6 90.4h0M117.0 116.8h0M104.1 108.0h0M92.5 86.4h0M99.4 87.9h0M104.2 103.2h0M111.5 105.5h0M90.4 101.6h0M79.5 106.0h0M119.0 113.1h0M102.0 102.3h0M97.6 100.9h0M98.6 97.6h0M106.0 115.8h0M102.5 99.9h0M80.4 101.5h0M101.0 87.3h0M94.5 88.6h0M90.2 87.9h0M82.0 92.8h0M97.9 99.4h0M121.5 114.3h0M100.4 113.6h0M108.0 98.8h0M103.2 92.6h0M82.2 83.5h0M88.0 83.9h0M100.7 87.1h0M105.7 91.4h0M93.8 109.7h0M112.5 82.9h0M92.6 86.1h0M87.6 111.1h0M89.0 107.3h0M100.9 109.2h0M84.5 87.7h0M116.8 102.3h0M106.6 86.5h0M101.9 110.9h0M103.0 105.3h0M90.3 106.6h0M104.0 116.8h0M103.7 109.5h0M100.9 80.5h0M84.6 106.8h0M82.5 84.3h0M93.0 100.4h0M119.9 104.9h0M80.8 78.6h0M103.0 107.7h0M107.5 82.4h0M88.0 108.0h0M93.3 96.1h0M95.2 99.8h0M87.4 93.2h0M87.3 105.7h0M82.1 107.6h0M99.5 102.3h0M101.0 97.8h0M97.5 114.2h0M90.1 106.7h0M83.2 97.3h0M110.1 115.3h0M94.1 116.1h0M77.2 97.7h0M81.9 81.2h0M96.5 96.4h0M90.1 99.0h0M93.3 79.6h0M103.9 77.7h0M95.5 100.6h0M94.1 109.4h0M90.9 86.5h0M82.3 97.2h0M104.9 92.6h0M109.8 103.0h0M87.5 90.3h0M91.6 99.5h0M97.0 110.5h0M108.6 94.0h0M96.1 115.7h0M106.6 86.2h0M119.4 88.8h0M111.5 100.8h0M110.9 116.2h0M103.0 111.1h0M111.7 111.4h0M81.1 108.3h0M109.1 96.5h0M90.8 83.2h0M103.5 112.0h0M101.7 102.4h0M102.0 84.9h0M94.0 91.6h0M109.6 102.4h0M87.2 86.2h0M100.2 116.5h0M85.8 109.6h0M105.6 106.8h0M105.3 100.0h0M79.6 93.1h0M89.4 85.4h0M97.8 109.1h0M77.0 101.6h0M90.2 81.3h0M101.8 84.4h0M112.6 96.4h0M92.8 110.2h0M93.2 112.6h0M76.6 98.2h0M81.6 110.4h0M109.6 88.5h0M82.1 100.9h0M92.4 98.2h0M83.1 90.6h0M80.6 82.9h0M87.7 100.7h0M115.0 105.4h0M98.4 93.2h0M102.8 104.4h0M107.6 93.2h0M96.3 100.4h0M91.9 109.8h0M90.4 92.5h0M118.6 96.3h0M84.2 99.5h0M82.5 92.0h0M78.4 96.9h0M107.5 110.7h0M95.0 99.9h0M109.0 97.2h0M114.2 99.2h0M94.3 104.4h0M108.8 97.4h0M117.3 107.3h0M98.8 82.4h0M107.8 103.0h0M82.8 96.1h0M78.4 97.1h0M92.7 96.5h0M110.2 98.8h0M98.4 75.8h0M106.8 78.9h0M101.1 77.2h0M99.3 71.4h0M102.8 75.6h0M102.7 74.9h0M102.1 73.7h0M102.5 77.1h0M101.1 77.0h0M96.3 73.0h0M105.3 79.4h0M101.9 74.7h0M97.7 75.9h0M103.4 71.3h0M102.8 76.2h0M102.4 72.2h0M102.7 71.3h0M105.4 75.3h0M98.0 78.4h0M104.4 73.4h0M107.4 72.5h0M102.1 78.0h0M94.9 77.5h0M101.0 75.0h0M98.2 75.8h0M98.1 72.6h0M100.0 71.9h0M105.6 71.7h0M99.1 74.2h0M101.2 77.0h0M103.5 74.2h0M100.1 75.1h0M103.5 76.7h0M99.8 69.9h0M107.2 77.4h0M102.0 75.9h0M99.8 72.5h0M100.3 74.4h0M99.5 71.4h0M100.3 76.4h0M99.8 75.1h0M95.4 74.5h0M100.9 71.9h0M135.7 118.2h0M128.5 109.4h0M124.9 118.3h0M110.7 117.8h0M107.5 103.3h0M124.1 103.1h0M123.1 114.1h0M131.5 113.4h0M128.8 112.3h0M131.7 118.3h0M121.2 118.0h0M119.7 123.2h0M130.8 111.4h0M119.7 111.3h0M119.4 117.0h0M132.1 121.8h0M120.8 117.0h0M120.3 101.2h0M123.7 108.3h0M114.5 113.1h0M128.8 115.4h0M117.5 109.6h0M110.0 103.0h0M115.0 111.5h0M109.3 109.7h0M109.2 112.8h0M127.4 111.6h0M121.0 112.7h0M119.2 119.4h0M116.4 110.7h0M136.7 118.7h0M120.2 108.8h0M127.9 123.7h0M119.9 112.4h0M115.1 109.2h0M126.4 116.9h0M132.5 119.0h0M134.8 117.3h0M128.1 123.8h0M118.8 109.8h0M115.2 115.3h0M119.9 122.7h0M115.8 118.3h0M131.4 123.7h0M121.5 104.1h0M116.0 112.6h0M122.5 102.2h0M126.5 111.4h0M117.9 108.1h0M111.0 114.0h0M122.6 115.5h0M118.6 102.2h0M120.5 103.5h0M126.2 109.6h0M124.3 120.0h0M130.1 121.9h0M124.6 113.4h0M119.9 109.9h0M126.2 119.9h0M121.8 112.5h0M125.8 117.7h0M119.3 107.1h0M114.0 104.3h0M123.2 106.2h0M124.9 117.9h0M134.2 116.6h0M134.5 118.7h0M135.7 122.3h0M127.4 106.9h0M117.6 114.5h0M133.9 120.7h0M117.0 103.9h0M122.7 109.2h0M119.6 103.6h0M120.7 120.5h0M132.6 112.7h0M119.0 104.6h0M119.4 121.3h0M110.6 111.6h0M124.9 122.3h0M118.0 111.5h0M128.3 117.6h0M106.3 110.5h0M116.1 111.7h0M129.4 109.5h0M125.0 117.7h0M127.4 124.7h0M125.5 106.5h0M125.5 122.1h0M114.3 99.2h0M128.0 111.0h0M117.2 107.7h0M124.9 117.4h0M120.8 119.5h0M113.1 104.3h0M137.3 121.0h0M119.6 105.3h0M122.3 101.6h0M115.6 103.3h0M120.7 113.2h0M119.0 108.1h0M132.6 121.8h0M118.6 112.0h0M125.6 111.6h0M120.6 122.3h0M118.6 102.8h0M122.6 109.6h0M122.5 116.0h0M134.6 113.1h0M118.2 119.2h0M129.1 117.1h0M111.6 113.8h0M115.9 102.1h0M139.0 121.4h0M124.9 112.1h0M109.4 104.7h0M121.5 119.9h0M119.1 107.9h0M116.1 104.7h0M122.9 114.5h0M117.5 112.4h0M126.0 114.5h0M110.5 102.8h0M122.5 123.2h0M119.7 107.0h0M113.5 108.8h0M134.6 117.1h0M113.4 107.2h0M129.1 119.7h0M123.9 122.8h0M122.9 122.7h0M130.7 117.5h0M111.0 112.8h0M119.6 113.1h0M131.4 119.1h0M120.5 122.4h0M117.3 103.7h0M137.2 120.5h0M129.4 115.3h0M123.6 121.4h0M115.2 109.1h0M119.3 116.5h0M122.0 109.9h0M119.6 116.5h0M122.1 116.6h0M117.4 117.1h0M125.1 121.1h0M124.1 102.5h0M114.6 118.6h0M111.7 110.5h0M115.0 118.8h0M112.8 111.7h0M116.7 115.2h0M113.0 113.2h0M122.8 106.1h0M123.4 126.0h0M121.3 102.1h0M119.1 113.2h0M127.5 122.0h0M123.4 116.5h0M134.4 116.2h0M131.8 123.3h0M116.2 117.6h0M125.9 113.2h0M126.6 119.7h0M121.1 116.2h0M116.5 118.2h0M130.7 111.7h0M127.2 123.8h0M129.5 116.7h0M126.7 123.3h0M117.5 107.8h0M128.3 107.0h0M111.7 101.4h0M119.7 111.4h0M109.8 107.8h0M116.6 120.4h0M128.4 117.7h0M120.3 112.6h0M121.6 112.6h0M114.3 102.6h0M123.0 113.7h0M119.4 117.2h0M125.1 125.9h0M124.6 113.7h0M111.4 104.7h0M118.8 104.8h0M130.1 114.5h0M122.9 130.4h0M129.3 109.5h0M120.9 115.6h0M130.0 126.9h0M132.0 116.1h0M131.0 106.8h0M90.4 123.8h0M107.6 112.2h0M113.8 132.7h0M113.7 128.0h0M123.7 108.4h0M108.5 130.4h0M135.9 134.4h0M156.1 127.9h0M134.4 122.7h0M131.9 119.7h0M117.9 150.2h0M104.3 127.5h0M136.5 126.2h0M116.9 121.7h0M123.8 110.2h0M129.6 118.8h0M122.5 133.0h0M115.4 129.8h0M121.6 129.6h0M131.1 127.2h0M116.4 113.9h0M118.1 126.2h0M140.5 138.0h0M123.1 125.0h0M107.5 95.1h0M117.9 115.3h0M108.3 100.8h0M137.4 113.4h0M106.5 154.0h0M132.3 119.7h0M139.3 113.9h0M152.0 103.8h0M111.6 122.0h0M119.2 142.0h0M107.5 114.2h0M133.1 131.0h0M143.7 128.1h0M160.4 117.5h0M132.1 134.7h0M125.3 119.8h0M123.2 115.2h0M113.9 116.4h0M108.0 128.4h0M107.4 150.2h0M153.2 137.8h0M126.6 115.9h0M146.6 125.8h0M137.3 114.1h0M144.3 113.1h0M131.0 101.0h0M120.3 129.9h0M123.2 117.6h0M140.4 122.4h0M146.7 92.1h0M137.3 129.9h0M107.9 106.5h0M141.6 109.5h0M120.5 131.1h0M124.8 129.5h0M117.3 127.2h0M144.4 127.5h0M98.8 131.7h0M130.2 111.6h0M148.7 100.7h0M155.4 115.1h0M151.3 122.7h0M110.8 124.5h0M134.0 130.3h0M144.1 111.7h0M136.2 132.8h0M125.6 111.2h0M116.0 133.0h0M140.5 112.6h0M110.7 139.3h0M107.7 125.3h0M118.1 100.6h0M131.1 120.8h0M149.4 152.7h0M126.7 136.5h0M143.9 116.5h0M117.3 144.1h0M124.2 122.9h0M125.3 121.5h0M120.9 133.0h0M146.8 118.4h0M110.1 123.9h0M108.6 115.0h0M146.4 153.3h0M134.5 109.5h0M140.2 94.2h0M119.7 143.0h0M139.7 105.4h0M106.2 134.3h0M128.7 115.6h0M135.1 115.8h0M102.6 133.7h0M120.3 110.3h0M110.8 126.5h0M118.1 131.3h0M125.6 137.3h0M123.9 114.8h0M101.9 109.1h0M139.3 162.8h0M111.9 109.9h0M134.0 129.5h0M119.9 124.3h0M107.0 119.4h0M141.9 144.4h0M127.0 119.9h0M135.6 137.6h0M136.1 113.6h0M134.3 135.8h0M119.4 106.0h0M136.4 128.0h0M142.8 124.4h0M120.4 117.7h0M115.0 111.1h0M121.6 117.1h0M144.9 107.5h0M128.7 115.7h0M150.1 126.7h0M124.2 133.9h0M130.3 117.2h0M150.7 132.5h0M153.5 138.3h0M140.2 125.1h0M114.4 132.6h0M130.5 132.1h0M129.3 114.5h0M115.5 132.5h0M147.4 119.7h0M135.8 141.3h0M117.9 119.0h0M113.9 138.7h0M133.1 117.5h0M106.5 121.1h0M143.4 119.6h0M99.9 128.7h0M115.0 169.2h0M116.9 149.9h0M132.3 167.7h0M103.1 135.1h0M134.6 186.5h0M119.6 136.9h0M151.7 156.4h0M135.1 197.3h0M118.3 172.2h0M178.7 144.0h0M187.5 172.0h0M143.2 189.5h0M140.9 96.2h0M142.0 151.4h0M102.7 172.2h0M123.5 134.7h0M186.3 182.7h0M171.4 197.6h0M106.8 199.7h0M112.8 131.3h0M144.4 147.7h0M175.7 147.5h0M151.4 155.6h0M119.4 149.6h0M126.8 159.9h0M133.3 176.1h0M130.2 162.8h0M174.1 167.6h0M200.4 159.0h0M144.1 170.6h0M163.5 174.6h0M136.3 151.8h0M127.9 156.4h0M102.1 127.5h0M110.6 189.8h0M142.8 180.5h0M131.6 164.0h0M118.0 110.5h0M131.0 144.3h0M122.6 123.4h0M150.1 174.5h0M149.1 181.5h0M117.8 170.0h0M135.2 144.7h0M137.1 133.7h0M129.1 155.6h0M96.3 191.3h0M158.9 174.7h0M175.9 171.8h0M150.4 194.7h0M125.8 124.7h0M158.2 150.5h0M160.2 171.6h0M120.9 154.7h0M111.7 157.2h0M132.9 175.1h0M179.8 162.6h0M130.5 159.0h0M134.9 145.6h0M142.4 129.9h0M117.8 162.0h0M158.4 168.4h0M130.6 182.6h0M144.2 196.9h0M148.5 156.1h0M109.5 186.2h0M159.4 188.6h0M169.5 156.6h0M144.1 191.4h0M120.9 150.3h0M145.7 100.6h0M131.5 171.0h0M142.2 166.9h0M141.3 92.5h0M112.1 92.9h0M152.0 196.5h0M146.8 90.4h0M129.2 190.9h0M157.7 189.8h0M169.3 124.8h0M150.2 174.1h0M108.8 142.5h0M138.4 232.4h0M177.4 164.4h0M144.7 106.9h0"/>
<path id="p_sarc_T" d="M151.5 88.4h0M146.4 89.5h0M149.2 79.3h0M153.4 81.0h0M145.5 90.5h0M151.9 87.5h0M151.1 87.2h0M146.5 89.6h0M150.9 77.3h0M153.3 76.0h0M152.7 77.2h0M153.8 81.4h0M151.9 79.2h0M151.9 78.2h0M150.2 80.5h0M152.0 77.3h0M153.8 76.6h0M153.5 84.6h0M149.7 87.4h0M150.7 82.9h0M150.4 90.0h0M148.9 88.8h0M154.4 82.7h0M144.3 87.4h0M149.2 79.6h0M148.2 90.5h0M147.8 81.8h0M152.4 86.1h0M149.6 78.9h0M154.4 83.7h0M151.2 82.0h0M152.0 77.0h0M149.8 82.2h0M144.4 91.8h0M151.4 82.6h0M145.4 87.6h0M148.7 86.1h0M149.0 80.8h0M153.7 84.5h0M153.3 77.9h0M151.5 80.2h0M150.3 89.0h0M155.4 77.4h0M149.5 84.4h0M151.1 75.2h0M150.1 82.7h0M155.7 76.0h0M153.5 87.9h0M150.8 86.1h0M145.9 91.7h0M148.5 90.4h0M151.8 79.5h0M150.6 91.2h0M151.1 87.9h0M149.6 82.7h0M151.4 86.6h0M155.5 76.7h0M144.9 90.7h0M147.6 88.2h0M150.2 79.8h0M153.8 84.6h0M146.3 90.9h0M150.3 84.7h0M145.7 88.2h0M155.4 76.1h0M153.2 83.2h0M149.9 88.5h0M153.5 87.7h0M148.0 87.6h0M147.4 88.0h0M154.1 76.8h0M151.9 78.9h0M154.0 76.9h0M148.1 85.6h0M146.9 85.3h0M153.2 83.5h0M152.6 88.0h0M153.3 86.8h0M153.0 86.2h0M154.4 79.2h0M147.7 81.3h0M152.4 78.0h0M151.6 77.8h0M152.4 81.6h0M148.2 80.9h0M146.8 88.5h0M150.7 86.8h0M147.4 85.6h0M148.4 91.2h0M152.6 83.3h0M153.8 78.0h0M145.8 91.6h0M148.6 82.4h0M149.9 83.9h0M150.3 79.5h0M153.8 83.5h0M146.0 91.7h0M150.6 78.0h0M147.7 82.1h0M153.3 83.8h0M147.4 92.3h0M151.6 76.8h0M150.8 85.5h0M148.3 80.0h0M154.7 83.9h0M153.5 76.7h0M153.4 87.7h0M152.8 84.7h0M149.2 81.7h0M149.5 78.9h0M153.0 83.6h0M149.8 79.4h0M148.4 89.4h0M145.6 85.7h0M154.4 76.3h0M146.7 86.5h0M150.1 86.2h0M149.4 84.8h0M150.9 89.1h0M151.0 89.1h0M150.5 86.4h0M149.2 83.0h0M147.1 88.3h0M149.7 87.7h0M154.0 76.5h0M150.5 81.2h0M156.3 76.8h0M149.2 91.3h0M150.7 79.8h0M146.8 91.0h0M147.3 82.4h0M148.4 84.4h0M149.8 79.9h0M150.2 82.8h0M151.5 83.6h0M150.9 77.3h0M145.9 88.6h0M154.7 77.8h0M150.2 86.0h0M154.2 77.9h0M149.7 80.0h0M147.9 89.2h0M153.0 79.2h0M150.6 89.2h0M150.8 84.3h0M146.9 90.4h0M148.7 82.7h0M150.9 79.9h0M146.3 89.6h0M149.8 80.3h0M154.4 85.0h0M153.8 85.8h0M153.5 76.6h0M145.4 91.3h0M147.5 83.4h0M153.0 80.8h0M155.1 80.8h0M152.0 83.9h0M146.2 87.0h0M145.5 89.6h0M149.2 85.6h0M152.6 80.8h0M154.2 83.9h0M149.1 79.6h0M147.6 84.6h0M151.9 77.8h0M147.0 85.5h0M149.6 80.4h0M148.8 90.3h0M151.1 89.3h0M145.9 86.6h0M146.8 90.7h0M149.7 89.6h0M154.4 84.2h0M151.6 80.7h0M148.9 85.2h0M154.1 85.5h0M150.7 87.3h0M147.5 87.1h0M156.3 79.8h0M152.2 84.1h0M154.2 78.5h0M149.5 87.9h0M149.3 79.9h0M152.1 89.3h0M152.3 89.0h0M154.7 80.3h0M152.7 85.3h0M151.1 89.1h0M150.7 86.6h0M151.6 81.3h0M151.0 77.4h0M149.9 85.9h0M146.1 86.2h0M154.3 93.8h0M155.0 87.7h0M146.1 85.6h0M149.4 89.8h0M147.3 88.1h0M153.5 89.4h0M160.0 98.4h0M144.3 85.1h0M143.5 82.1h0M152.0 83.0h0M144.7 86.5h0M153.2 86.1h0M147.9 92.4h0M151.7 90.1h0M153.9 82.9h0M150.5 84.7h0M154.2 91.9h0M144.8 94.4h0M144.2 93.6h0M150.5 83.6h0M144.4 86.4h0M149.4 84.4h0M112.0 146.6h0M141.0 146.2h0M146.3 182.7h0M116.2 117.7h0M114.6 116.3h0M117.5 148.6h0M95.4 155.5h0M133.6 115.7h0M124.5 114.1h0M125.2 201.7h0M121.8 235.4h0M145.9 119.2h0M170.9 176.5h0"/>
<path id="p_lihc_T" d="M184.4 99.2h0M171.8 106.8h0M174.8 95.1h0M172.1 102.0h0M182.1 100.7h0M176.8 96.2h0M180.5 92.4h0M171.8 104.1h0M175.3 103.3h0M180.8 98.1h0M179.1 99.5h0M174.4 104.3h0M181.5 100.1h0M181.9 96.1h0M169.2 98.4h0M176.1 107.0h0M170.2 100.9h0M181.9 102.1h0M180.2 95.8h0M173.3 101.9h0M173.2 97.4h0M178.2 100.8h0M175.1 101.2h0M172.8 96.3h0M175.2 102.4h0M185.7 97.8h0M170.2 104.9h0M177.7 93.8h0M169.3 105.9h0M179.1 98.4h0M171.7 101.3h0M179.5 95.1h0M186.3 96.1h0M174.9 99.8h0M169.9 103.5h0M173.7 107.4h0M178.6 97.4h0M183.8 99.3h0M170.3 104.2h0M176.5 104.2h0M181.9 95.7h0M175.5 93.1h0M180.3 102.7h0M180.8 100.4h0M183.4 97.0h0M177.8 100.6h0M182.9 93.4h0M177.5 98.4h0M176.6 92.3h0M171.6 107.2h0M170.1 104.4h0M167.1 101.8h0M177.1 93.6h0M181.6 97.3h0M181.8 102.7h0M168.9 101.2h0M179.4 100.5h0M183.1 93.7h0M181.5 98.3h0M182.6 95.7h0M178.8 102.1h0M179.4 101.8h0M170.2 107.2h0M169.9 98.9h0M178.0 99.1h0M169.3 105.2h0M180.6 94.4h0M181.6 92.2h0M184.2 95.0h0M175.0 104.1h0M170.3 104.6h0M181.4 97.8h0M172.3 107.4h0M174.2 106.6h0M180.8 100.3h0M178.4 92.6h0M177.9 106.5h0M180.3 100.4h0M180.0 100.1h0M177.3 99.7h0M174.3 94.6h0M174.5 100.9h0M172.0 102.1h0M170.6 107.5h0M181.6 96.2h0M174.5 104.1h0M174.6 101.5h0M175.3 99.2h0M181.7 94.7h0M177.8 97.3h0M181.5 91.6h0M177.5 100.5h0M180.4 96.6h0M177.2 97.2h0M175.1 107.4h0M176.9 94.0h0M179.1 97.9h0M176.0 98.9h0M175.6 98.4h0M178.7 92.5h0M179.9 94.2h0M175.6 94.0h0M182.7 98.9h0M180.6 103.4h0M183.5 100.4h0M174.4 101.8h0M185.6 97.9h0M168.9 102.4h0M182.2 93.9h0M180.7 97.3h0M180.6 98.5h0M170.0 96.4h0M183.6 101.4h0M179.8 92.8h0M183.8 97.1h0M182.9 99.7h0M175.4 107.6h0M184.6 95.7h0M172.4 98.5h0M182.4 104.8h0M175.6 98.8h0M181.3 95.9h0M169.8 105.2h0M170.4 104.7h0M182.8 96.4h0M176.1 106.1h0M180.8 93.1h0M174.6 98.0h0M183.8 96.3h0M176.9 105.2h0M174.7 97.8h0M178.3 99.5h0M179.3 93.6h0M178.7 97.4h0M175.0 95.7h0M177.1 94.9h0M172.3 100.3h0M177.1 92.3h0M174.7 101.6h0M172.8 105.0h0M173.2 97.3h0M173.7 102.3h0M176.4 104.3h0M178.7 106.0h0M173.6 103.1h0M172.7 106.9h0M175.4 97.0h0M176.0 95.5h0M176.5 95.2h0M177.2 98.3h0M173.3 107.6h0M174.3 104.9h0M177.6 96.6h0M179.8 101.6h0M171.3 95.8h0M168.0 103.8h0M172.2 98.3h0M173.3 97.6h0M172.1 98.1h0M177.5 101.1h0M185.7 96.0h0M177.1 99.6h0M177.9 98.2h0M171.2 103.0h0M171.6 98.3h0M177.1 100.0h0M172.6 103.4h0M167.9 101.1h0M171.7 96.3h0M177.7 101.1h0M184.8 99.2h0M182.3 95.5h0M179.9 90.7h0M180.6 101.9h0M177.3 95.9h0M177.1 95.1h0M181.6 102.6h0M176.8 95.9h0M173.5 105.4h0M175.3 105.9h0M180.8 101.4h0M169.1 100.8h0M168.5 99.9h0M169.7 103.6h0M183.2 99.6h0M176.5 96.8h0M176.1 105.4h0M177.5 102.5h0M173.8 99.5h0M180.5 102.1h0M179.1 96.9h0M174.4 99.4h0M176.1 94.3h0M174.4 108.0h0M175.4 101.4h0M178.5 103.7h0M177.3 101.3h0M172.6 105.0h0M176.1 95.1h0M169.5 104.0h0M177.0 98.6h0M182.9 100.0h0M177.3 105.4h0M183.8 97.3h0M181.4 94.2h0M186.1 97.6h0M170.2 102.3h0M170.5 97.2h0M178.7 101.6h0M182.3 96.1h0M179.6 98.0h0M178.9 103.4h0M184.3 101.4h0M169.5 98.2h0M171.1 102.7h0M172.2 100.2h0M171.6 99.8h0M184.4 93.5h0M175.5 96.1h0M176.4 103.3h0M173.7 94.4h0M171.1 105.0h0M182.6 95.8h0M169.4 105.1h0M184.4 96.0h0M177.2 99.3h0M178.0 106.2h0M177.6 93.9h0M173.0 100.0h0M174.1 95.4h0M174.3 96.3h0M181.1 94.1h0M178.5 92.4h0M173.5 99.3h0M175.3 107.7h0M170.1 104.0h0M177.0 101.5h0M175.2 105.6h0M175.9 100.7h0M170.3 107.3h0M177.3 106.1h0M176.6 103.9h0M176.2 106.8h0M182.0 103.4h0M169.4 101.1h0M181.1 99.6h0M177.4 101.4h0M182.9 102.6h0M172.1 96.1h0M177.5 104.1h0M181.8 99.7h0M177.4 95.3h0M173.0 103.6h0M176.8 93.9h0M175.9 105.7h0M174.7 106.1h0M169.7 101.9h0M179.1 99.5h0M178.8 98.5h0M179.8 100.4h0M181.6 93.9h0M170.8 98.1h0M174.6 93.7h0M181.4 104.2h0M181.3 92.9h0M170.2 102.5h0M171.3 103.7h0M162.7 107.5h0M163.7 108.7h0M157.4 104.2h0M158.6 104.4h0M161.3 110.0h0M159.5 103.9h0M159.9 103.5h0M164.3 102.8h0M169.8 108.3h0M160.7 104.1h0M161.5 109.4h0M169.8 100.6h0M160.2 105.1h0M166.6 101.4h0M166.1 103.3h0M169.9 111.3h0M167.6 105.9h0M164.2 100.6h0M172.7 104.9h0M170.0 103.1h0M160.9 102.3h0M164.3 107.0h0M162.3 104.2h0M169.5 107.0h0M159.5 104.2h0M170.8 101.5h0M171.9 103.5h0M172.6 100.9h0M165.3 106.8h0M161.5 110.2h0M169.1 103.4h0M166.1 100.7h0M162.1 110.1h0M171.2 103.2h0M166.1 105.9h0M162.2 104.5h0M160.2 107.8h0M168.5 102.5h0M170.4 104.5h0M164.0 110.7h0M161.0 108.2h0M172.8 105.5h0M161.1 104.5h0M167.4 102.4h0M169.4 102.3h0M171.6 108.0h0M159.8 108.1h0M175.4 101.4h0M165.8 106.0h0M160.7 101.0h0M165.5 108.1h0M171.5 100.3h0M163.8 105.8h0M169.6 101.6h0M171.4 105.0h0M158.0 105.3h0M161.4 109.5h0M170.0 106.5h0M163.3 108.1h0M164.8 104.4h0M158.8 106.2h0M160.2 105.8h0M165.5 106.8h0M162.2 107.2h0M162.3 108.1h0M168.6 103.1h0M168.5 102.1h0M158.3 111.2h0M159.4 108.3h0M165.1 111.0h0M163.1 106.2h0M171.1 107.4h0M171.6 102.6h0M160.4 110.6h0M172.3 103.6h0M165.0 110.9h0M174.1 100.4h0M165.1 108.0h0M160.9 111.4h0M173.0 102.2h0M165.5 100.3h0M163.2 109.6h0M167.0 106.8h0M163.3 108.5h0M161.8 111.0h0M168.3 102.9h0M158.3 107.6h0M167.7 104.2h0M172.9 102.6h0M169.2 100.8h0M162.5 108.9h0M162.7 109.2h0M160.0 107.0h0M171.9 113.2h0M158.6 102.9h0M195.5 107.9h0M166.2 108.9h0M176.6 102.4h0M170.8 108.0h0M174.0 109.0h0M164.2 104.0h0M148.8 112.9h0M156.6 106.2h0M182.0 106.1h0M173.5 107.1h0M174.2 108.3h0M164.4 114.6h0M166.4 101.7h0M165.9 110.7h0M159.5 111.9h0M174.7 118.3h0M163.3 111.3h0M155.1 106.1h0M169.4 110.1h0M168.1 107.7h0M148.0 146.2h0M144.6 186.3h0M148.9 152.4h0M140.3 141.2h0M132.3 194.2h0M119.5 149.6h0M138.3 160.7h0M150.0 124.5h0M121.1 149.8h0M139.3 166.9h0M142.2 153.6h0M96.1 238.8h0M131.9 188.7h0M238.5 143.1h0M122.5 184.9h0M66.2 207.9h0M117.4 220.3h0"/>
<path id="p_prad_T" d="M210.2 110.1h0M204.5 106.6h0M220.5 106.6h0M222.7 108.7h0M209.4 113.7h0M221.9 108.5h0M221.0 115.4h0M222.4 101.2h0M219.4 104.8h0M217.3 97.7h0M212.0 104.7h0M234.2 101.8h0M220.8 114.5h0M209.1 101.0h0M206.3 110.6h0M222.5 105.7h0M217.9 107.5h0M219.8 112.2h0M220.2 100.8h0M222.5 101.5h0M217.2 100.9h0M222.2 97.9h0M224.3 114.6h0M208.3 101.6h0M206.1 104.7h0M232.0 101.7h0M215.8 108.0h0M219.1 107.5h0M216.0 111.3h0M205.4 105.9h0M229.9 105.8h0M217.7 104.2h0M218.2 103.7h0M213.1 107.2h0M208.1 111.4h0M227.2 104.3h0M208.4 108.5h0M226.5 110.9h0M221.8 98.0h0M223.6 115.0h0M213.8 109.1h0M213.8 103.8h0M223.0 102.5h0M220.4 106.5h0M210.5 99.4h0M223.9 109.7h0M211.4 101.6h0M213.1 103.8h0M206.8 105.8h0M210.5 109.0h0M208.0 104.8h0M224.8 105.6h0M215.1 109.7h0M213.6 107.1h0M223.2 109.7h0M207.0 112.5h0M231.1 108.9h0M220.4 106.0h0M212.3 112.3h0M230.9 103.6h0M221.9 108.4h0M215.7 103.3h0M205.8 100.6h0M215.8 103.4h0M223.3 98.0h0M229.3 109.5h0M218.0 96.7h0M229.2 107.5h0M217.3 109.7h0M226.2 100.6h0M208.9 103.7h0M222.5 105.6h0M228.9 99.7h0M207.0 110.2h0M216.2 115.0h0M222.1 112.5h0M230.0 108.2h0M217.8 102.9h0M224.9 97.2h0M230.0 108.5h0M202.0 107.0h0M225.3 100.0h0M208.6 99.1h0M210.7 109.3h0M222.3 105.9h0M205.6 110.7h0M218.1 107.9h0M213.5 106.6h0M212.5 112.0h0M217.3 107.4h0M211.3 106.6h0M232.3 110.6h0M211.4 103.1h0M208.7 103.0h0M218.7 105.6h0M219.5 111.8h0M224.2 107.3h0M215.7 99.2h0M212.5 110.7h0M210.6 103.0h0M218.0 111.3h0M211.7 112.6h0M218.2 112.7h0M201.6 107.0h0M213.8 102.3h0M219.6 109.9h0M215.6 111.1h0M200.9 109.1h0M216.7 102.5h0M208.8 113.0h0M231.7 109.5h0M211.5 106.0h0M213.8 107.4h0M223.2 106.5h0M210.5 103.7h0M231.6 108.7h0M214.8 103.3h0M230.9 110.5h0M218.0 107.2h0M234.1 108.5h0M214.7 104.6h0M225.9 114.1h0M222.8 105.7h0M225.8 117.1h0M228.9 105.3h0M225.8 104.1h0M216.2 106.3h0M210.8 107.6h0M211.1 110.4h0M219.0 99.0h0M224.9 114.8h0M216.9 108.2h0M229.3 108.8h0M217.3 107.0h0M220.6 108.8h0M228.3 103.5h0M208.2 108.6h0M221.6 115.1h0M217.2 113.8h0M221.1 108.9h0M228.9 110.1h0M233.2 109.4h0M216.1 98.2h0M228.1 110.6h0M222.8 103.1h0M229.8 105.2h0M226.7 103.8h0M224.0 112.3h0M222.5 99.3h0M212.3 103.7h0M227.8 104.7h0M215.6 113.8h0M206.7 100.8h0M213.9 103.8h0M222.7 111.9h0M208.4 101.9h0M217.6 101.0h0M223.9 98.9h0M225.9 101.4h0M223.8 107.0h0M219.6 100.7h0M216.6 109.4h0M220.2 99.8h0M224.4 110.9h0M213.6 109.7h0M209.6 110.2h0M214.5 98.9h0M209.1 101.3h0M224.6 98.8h0M235.6 106.9h0M216.1 114.6h0M218.6 103.3h0M220.1 115.9h0M222.6 103.4h0M216.4 110.4h0M211.9 99.2h0M224.8 107.7h0M232.9 101.8h0M230.5 112.2h0M219.0 106.5h0M208.3 111.8h0M213.8 115.5h0M208.0 105.0h0M208.6 105.5h0M221.9 100.8h0M230.1 105.4h0M222.7 100.1h0M216.7 98.2h0M223.4 113.9h0M220.1 109.1h0M226.1 106.8h0M219.9 106.8h0M219.7 104.7h0M225.3 107.9h0M217.0 116.3h0M212.9 109.8h0M224.6 111.4h0M214.9 110.4h0M218.9 116.2h0M214.6 108.2h0M222.5 110.7h0M228.2 107.4h0M224.1 104.6h0M218.9 104.2h0M220.1 101.8h0M218.9 109.5h0M220.7 106.1h0M227.7 97.8h0M212.5 109.0h0M218.8 107.2h0M222.4 99.5h0M228.3 107.2h0M206.2 102.8h0M225.2 102.6h0M223.8 104.8h0M228.0 103.8h0M212.2 108.4h0M229.2 107.1h0M214.2 110.4h0M218.2 110.4h0M213.2 104.7h0M217.7 101.5h0M225.9 106.0h0M214.6 112.2h0M212.9 110.7h0M234.6 112.0h0M222.0 103.5h0M202.8 106.6h0M220.0 111.4h0M209.0 106.4h0M202.4 107.4h0M224.2 99.8h0M220.8 114.4h0M207.1 106.2h0M211.3 108.1h0M229.0 110.8h0M227.2 112.1h0M219.2 108.1h0M215.1 107.5h0M203.5 103.2h0M218.7 98.4h0M233.0 101.3h0M225.0 108.8h0M235.9 104.8h0M212.4 108.9h0M220.1 103.4h0M215.0 110.7h0M217.7 99.8h0M217.9 104.8h0M234.2 107.6h0M230.7 99.4h0M224.3 107.4h0M208.8 106.8h0M221.9 114.5h0M212.3 103.9h0M222.9 111.5h0M213.9 104.0h0M220.6 99.6h0M211.7 103.6h0M226.5 99.4h0M214.9 108.8h0M218.2 105.5h0M203.9 109.6h0M224.4 104.7h0M227.3 109.8h0M228.2 100.8h0M227.3 106.9h0M227.9 99.9h0M225.7 108.8h0M217.2 103.2h0M221.6 107.6h0M222.1 97.5h0M220.3 110.5h0M233.0 110.4h0M225.9 102.2h0M206.2 102.6h0M221.9 104.1h0M222.1 100.0h0M233.7 112.3h0M230.2 111.0h0M218.0 103.5h0M227.5 99.3h0M224.9 113.7h0M223.4 104.3h0M232.1 107.8h0M219.5 104.2h0M216.2 104.8h0M217.9 107.1h0M209.3 111.7h0M217.0 109.7h0M215.8 106.8h0M208.1 106.5h0M226.7 114.1h0M223.3 106.7h0M206.4 105.2h0M221.4 109.9h0M228.8 110.5h0M218.9 112.6h0M223.8 110.1h0M220.1 105.9h0M216.7 111.9h0M213.2 101.9h0M230.2 106.9h0M215.3 103.0h0M238.0 103.2h0M219.1 105.4h0M219.6 103.3h0M208.5 110.0h0M214.0 106.9h0M225.3 103.9h0M220.1 113.5h0M204.2 106.2h0M217.7 100.5h0M214.1 111.3h0M207.5 107.7h0M220.8 106.7h0M212.0 97.3h0M225.2 112.8h0M218.4 113.9h0M220.0 109.8h0M217.0 100.3h0M207.2 111.6h0M221.4 106.4h0M223.4 98.6h0M230.0 103.2h0M212.8 97.7h0M219.8 109.7h0M212.0 114.9h0M211.4 111.7h0M220.7 109.6h0M214.2 107.1h0M222.9 98.0h0M210.2 105.8h0M222.6 110.1h0M218.1 101.3h0M230.7 105.0h0M213.8 107.0h0M222.7 109.1h0M217.6 99.5h0M205.0 104.4h0M223.5 99.7h0M204.7 99.9h0M224.5 103.2h0M227.3 106.9h0M213.9 102.3h0M211.4 103.2h0M220.4 102.2h0M221.8 114.4h0M212.6 104.2h0M218.0 112.2h0M219.4 100.1h0M233.6 111.2h0M222.9 109.9h0M229.8 104.3h0M218.6 103.0h0M218.9 115.4h0M215.1 112.2h0M217.2 107.0h0M220.2 113.0h0M225.3 110.9h0M226.4 105.7h0M220.9 111.0h0M219.1 106.3h0M216.7 99.5h0M218.1 100.3h0M214.7 114.0h0M221.4 114.4h0M212.6 103.1h0M229.7 106.3h0M210.9 110.6h0M221.8 114.4h0M212.0 106.3h0M221.0 109.3h0M217.2 108.1h0M218.3 101.7h0M219.6 113.2h0M208.2 108.6h0M211.0 100.5h0M226.2 113.0h0M221.3 108.1h0M229.1 105.2h0M224.1 103.3h0M222.6 104.7h0M208.1 103.3h0M206.6 106.3h0M220.8 107.3h0M219.8 113.4h0M222.5 108.2h0M204.5 104.7h0M207.7 109.4h0M220.7 108.3h0M228.0 110.2h0M212.0 104.4h0M223.4 109.6h0M230.3 107.0h0M220.6 112.1h0M224.3 97.6h0M210.7 98.9h0M204.4 105.6h0M220.5 112.0h0M204.7 108.3h0M222.3 106.6h0M213.8 112.5h0M209.2 107.3h0M230.4 110.8h0M217.1 105.9h0M210.0 108.5h0M222.5 107.2h0M223.4 109.9h0M203.9 107.2h0M222.8 104.9h0M229.9 108.9h0M208.0 103.8h0M217.4 110.9h0M212.5 109.7h0M228.2 103.7h0M217.3 105.4h0M216.7 113.0h0M205.7 109.0h0M233.1 105.5h0M228.2 100.6h0M211.3 108.8h0M207.6 105.2h0M209.3 108.0h0M221.3 108.3h0M231.3 105.0h0M220.0 110.6h0M221.1 112.7h0M228.3 111.0h0M230.6 103.9h0M225.5 104.2h0M209.2 99.7h0M214.9 106.1h0M208.5 103.0h0M215.0 109.1h0M230.6 100.9h0M202.2 102.8h0M226.6 100.9h0M214.4 98.9h0M213.4 99.6h0M212.8 99.7h0M221.4 98.4h0M225.5 97.6h0M216.8 103.4h0M213.2 113.7h0M218.6 110.0h0M222.4 112.0h0M224.5 102.4h0M209.5 107.0h0M231.7 106.5h0M206.8 101.3h0M227.0 101.1h0M222.0 105.5h0M225.5 105.0h0M220.9 105.4h0M225.3 113.8h0M210.6 106.0h0M215.4 98.5h0M215.4 103.7h0M209.8 113.2h0M234.1 108.6h0M230.7 101.1h0M221.0 100.1h0M230.0 99.3h0M213.9 109.2h0M219.3 114.4h0M227.7 99.0h0M213.0 101.3h0M213.9 101.2h0M226.8 107.5h0M225.7 109.6h0M220.6 99.3h0M224.2 103.8h0M217.5 107.8h0M229.5 100.2h0M215.4 93.0h0M215.3 94.6h0M215.8 98.5h0M213.7 99.6h0M219.3 96.1h0M213.6 94.8h0M215.3 94.4h0M213.8 97.1h0M215.1 96.6h0M214.0 101.6h0M217.4 97.2h0M215.7 103.5h0M214.9 99.3h0M217.3 93.1h0M214.7 99.6h0M218.0 97.3h0M216.3 97.3h0M214.9 97.7h0M214.0 94.0h0M216.7 94.7h0M217.5 97.7h0M218.3 101.8h0"/>
<path id="p_blca_T" d="M145.2 119.8h0M150.6 116.0h0M149.6 120.7h0M148.2 116.3h0M145.5 120.9h0M147.8 116.9h0M147.1 119.6h0M147.9 113.6h0M149.6 115.6h0M148.3 120.7h0M148.0 117.9h0M147.6 120.9h0M149.2 119.4h0M150.4 113.7h0M146.0 117.0h0M148.9 120.1h0M147.7 114.9h0M145.5 116.8h0M149.2 118.8h0M150.7 118.4h0M150.7 115.1h0M146.0 116.7h0M149.7 114.7h0M149.1 113.5h0M145.5 121.6h0M149.8 112.2h0M144.9 122.1h0M143.2 120.1h0M147.8 119.8h0M147.0 123.4h0M145.5 117.0h0M148.8 116.2h0M149.9 113.7h0M147.2 119.1h0M146.5 116.7h0M144.5 122.4h0M146.0 122.4h0M145.4 119.9h0M147.8 116.0h0M148.7 117.4h0M147.6 120.0h0M145.1 121.8h0M147.6 117.4h0M146.0 117.4h0M145.1 119.8h0M151.0 112.2h0M150.1 120.4h0M149.8 117.4h0M146.1 120.4h0M148.5 116.6h0M151.2 113.0h0M150.3 114.3h0M147.3 115.5h0M147.7 114.6h0M149.1 121.3h0M144.5 119.2h0M147.4 112.2h0M145.9 120.8h0M147.8 116.0h0M145.9 115.1h0M147.7 116.1h0M148.4 116.9h0M146.1 119.6h0M147.4 115.2h0M148.1 119.3h0M148.9 115.5h0M150.5 113.4h0M148.6 112.6h0M147.5 117.3h0M145.9 114.4h0M144.1 122.4h0M151.2 111.7h0M147.2 120.7h0M146.6 114.6h0M147.6 121.4h0M149.6 112.6h0M144.6 116.5h0M147.4 116.7h0M146.3 123.6h0M143.7 120.0h0M148.1 113.0h0M144.9 118.7h0M149.0 113.2h0M147.6 119.3h0M144.7 120.8h0M147.6 122.0h0M149.2 113.4h0M144.3 120.3h0M148.1 116.3h0M147.8 117.1h0M147.9 118.8h0M147.3 117.1h0M150.3 113.3h0M148.4 117.4h0M147.9 121.2h0M148.0 121.8h0M145.7 118.4h0M150.0 111.8h0M147.6 123.3h0M148.8 118.7h0M148.8 113.3h0M149.4 119.6h0M150.7 109.9h0M144.3 119.2h0M146.7 121.2h0M147.5 116.8h0M149.5 111.4h0M147.3 114.2h0M144.1 125.2h0M146.6 121.5h0M148.9 121.7h0M146.6 122.4h0M145.2 120.3h0M145.9 119.8h0M147.5 118.5h0M149.7 115.2h0M146.4 121.8h0M148.2 121.4h0M146.2 121.6h0M145.5 118.5h0M147.4 113.6h0M147.9 120.5h0M140.8 126.8h0M139.8 125.1h0M144.1 126.5h0M148.6 120.4h0M145.4 118.9h0M136.6 132.0h0M132.8 123.6h0M144.2 124.2h0M141.7 118.4h0M137.8 119.1h0M144.7 122.4h0M146.2 128.9h0M137.6 119.4h0M147.6 122.2h0M144.4 122.1h0M149.1 125.1h0M146.6 125.8h0M138.2 117.3h0M138.5 116.8h0M131.3 125.5h0M140.7 127.7h0M139.5 120.6h0M131.1 121.9h0M147.5 122.4h0M145.4 127.5h0M136.8 121.2h0M131.7 125.7h0M137.3 130.1h0M133.1 127.0h0M144.2 130.4h0M134.1 124.5h0M144.2 125.0h0M145.9 120.0h0M140.4 121.6h0M138.2 125.4h0M149.0 117.2h0M134.9 120.8h0M138.5 124.2h0M134.4 122.1h0M137.6 121.6h0M148.0 118.7h0M139.3 119.7h0M140.7 124.6h0M147.3 122.3h0M145.1 117.1h0M136.0 117.4h0M132.4 124.8h0M138.3 125.4h0M143.6 120.6h0M146.9 121.8h0M145.0 125.8h0M140.4 127.1h0M144.5 121.4h0M137.3 121.7h0M132.2 123.9h0M139.1 131.7h0M145.7 126.2h0M146.7 120.8h0M147.7 126.1h0M146.6 127.4h0M136.4 126.2h0M139.1 128.1h0M148.2 117.8h0M145.2 117.0h0M133.4 125.8h0M146.1 126.8h0M140.4 130.8h0M144.3 122.3h0M133.9 121.2h0M138.7 127.8h0M141.8 122.0h0M140.4 129.0h0M141.9 116.5h0M139.0 126.7h0M139.0 123.5h0M139.5 127.5h0M139.9 117.5h0M144.6 129.2h0M144.4 125.7h0M148.4 121.7h0M138.2 129.3h0M136.9 119.1h0M134.3 129.6h0M141.4 117.4h0M133.2 124.6h0M131.7 127.4h0M135.0 127.4h0M144.7 122.5h0M131.4 124.5h0M144.8 127.3h0M145.8 123.4h0M143.6 124.1h0M144.2 125.8h0M134.0 123.2h0M142.1 131.7h0M141.6 131.5h0M137.5 128.5h0M146.6 117.9h0M142.7 129.0h0M141.3 132.0h0M141.3 125.7h0M140.4 125.6h0M141.4 131.5h0M140.9 117.0h0M144.3 120.9h0M139.1 126.5h0M140.9 122.3h0M144.8 124.2h0M134.1 128.7h0M140.4 121.0h0M144.4 123.8h0M147.2 119.7h0M138.6 127.3h0M137.4 125.9h0M147.2 116.5h0M145.9 115.9h0M146.3 129.7h0M139.3 125.0h0M138.5 121.4h0M135.6 128.5h0M143.6 120.2h0M146.7 129.3h0M144.0 121.0h0M134.4 123.2h0M136.8 123.7h0M137.7 122.3h0M143.0 130.5h0M134.8 130.2h0M144.3 128.4h0M140.0 119.6h0M139.9 129.9h0M148.0 126.2h0M142.8 118.7h0M140.1 125.3h0M142.9 121.4h0M134.5 130.5h0M137.6 123.0h0M138.5 115.9h0M137.1 125.7h0M145.5 118.3h0M140.0 118.3h0M142.7 119.2h0M135.9 125.8h0M148.1 125.5h0M146.1 127.1h0M146.7 126.0h0M134.8 126.2h0M141.5 122.8h0M131.2 126.5h0M138.7 126.2h0M145.1 124.4h0M137.7 131.4h0M147.2 128.4h0M133.9 130.4h0M138.3 126.0h0M147.3 115.3h0M139.7 125.3h0M140.9 122.6h0M149.2 121.0h0M138.7 133.3h0M136.2 119.2h0M135.0 129.8h0M146.7 123.2h0M139.8 126.1h0M133.3 125.9h0M146.0 118.4h0M142.8 127.7h0M147.0 123.6h0M138.0 119.0h0M137.7 123.7h0M139.0 130.6h0M138.8 127.3h0M140.2 126.8h0M138.2 123.0h0M142.3 117.4h0M141.0 128.9h0M142.2 120.9h0M138.6 126.6h0M136.0 127.0h0M140.6 124.5h0M146.3 123.5h0M142.0 125.4h0M141.7 126.6h0M138.8 125.8h0M132.8 129.0h0M141.8 115.2h0M138.6 130.6h0M137.6 117.0h0M142.3 127.9h0M135.7 127.7h0M148.0 122.9h0M143.4 117.6h0M138.4 132.8h0M136.4 122.9h0M131.7 125.9h0M131.8 130.0h0M144.4 130.3h0M140.6 117.6h0M134.5 128.9h0M149.3 125.9h0M144.7 124.0h0M133.2 128.2h0M138.4 124.4h0M141.5 127.6h0M143.8 128.9h0M140.9 116.6h0M137.4 122.1h0M146.6 125.9h0M139.9 118.2h0M142.9 123.4h0M140.6 122.6h0M140.9 118.9h0M147.7 125.1h0M147.0 119.4h0M144.1 117.1h0M143.2 125.7h0M131.5 135.6h0M128.7 121.7h0M145.9 129.4h0M135.8 141.2h0M119.6 121.9h0M159.7 129.8h0M122.3 128.8h0M127.3 118.8h0M129.0 131.2h0M133.2 137.0h0M115.0 116.0h0M141.6 126.9h0M146.2 134.5h0M118.4 136.9h0M122.6 134.1h0M146.3 153.2h0M132.6 138.6h0M136.5 139.6h0M106.4 127.4h0M136.4 136.2h0M125.4 139.9h0M145.0 132.1h0M130.9 127.7h0M134.8 143.5h0M149.1 126.6h0M123.5 123.3h0M143.7 133.7h0M136.5 136.4h0M137.3 130.2h0M122.4 125.1h0M134.6 135.4h0M129.4 127.2h0M147.7 126.6h0M135.7 128.2h0M124.3 115.9h0M127.7 123.0h0M142.2 119.6h0M129.0 138.1h0M132.1 136.5h0M142.1 114.4h0M129.0 121.6h0M147.5 130.2h0M138.5 148.8h0M129.6 132.2h0M137.6 128.7h0M146.5 139.8h0M143.8 131.9h0M129.7 127.8h0M129.5 114.7h0M137.1 139.7h0M133.2 126.4h0M133.7 133.7h0M136.7 149.7h0M124.4 135.1h0M140.5 132.2h0M130.9 121.0h0M127.1 138.6h0M148.4 124.7h0M138.2 136.7h0M143.8 133.9h0M137.9 140.5h0M121.2 131.9h0M114.9 111.4h0M124.7 115.8h0M138.5 141.4h0M130.1 130.0h0M130.9 128.7h0M134.7 134.9h0M128.5 123.4h0M127.9 139.5h0M128.9 146.0h0M130.8 145.2h0M120.9 124.4h0M138.2 136.3h0M131.6 151.9h0M134.0 134.3h0M127.4 148.0h0M142.1 135.5h0M116.4 135.0h0M128.4 135.3h0M142.7 123.8h0M135.5 140.2h0M134.9 128.0h0M122.3 124.6h0M120.2 141.3h0M134.3 119.1h0M133.2 118.4h0M99.4 143.5h0M145.3 116.5h0M125.8 133.4h0M129.3 122.7h0M127.9 128.9h0M127.5 133.4h0M130.8 123.7h0M133.5 114.6h0M148.1 113.9h0M132.3 134.7h0M137.5 133.9h0M146.2 120.0h0M132.5 132.8h0M128.1 125.3h0M146.4 124.1h0M128.3 128.5h0M131.0 132.9h0M131.1 135.0h0M134.6 136.1h0M147.2 122.8h0M150.1 126.8h0M140.0 132.9h0M130.1 111.7h0M149.7 123.7h0M125.1 141.9h0M133.9 150.2h0M150.4 138.3h0M135.7 138.8h0M167.9 173.2h0M129.4 171.8h0M120.0 133.3h0M146.0 155.1h0M144.8 214.5h0M147.7 161.5h0M186.1 138.2h0M134.5 145.7h0M135.9 212.6h0M92.3 188.1h0M106.7 118.8h0M134.2 155.0h0M130.6 130.3h0M153.6 126.0h0M152.6 225.8h0M107.1 163.8h0M140.9 120.1h0M138.3 181.3h0M160.3 174.2h0M124.5 154.8h0M117.4 186.1h0M120.8 131.5h0M124.5 199.0h0M100.4 179.3h0M156.4 144.5h0M143.3 121.6h0M147.5 169.2h0M120.4 162.3h0M139.2 171.9h0M155.1 184.2h0M136.1 172.3h0M159.7 198.6h0M104.2 144.9h0M105.4 61.0h0M85.8 162.4h0M170.7 160.0h0M141.6 129.5h0M120.9 140.5h0M105.8 160.9h0M166.5 199.1h0M203.1 188.0h0M255.9 173.3h0M108.8 114.9h0M154.9 198.0h0M178.0 168.8h0"/>
<path id="p_ucec_T" d="M82.0 146.2h0M80.9 142.8h0M82.7 139.7h0M92.1 141.4h0M94.6 144.3h0M82.3 139.5h0M77.8 143.5h0M90.5 145.7h0M84.1 135.8h0M85.9 132.0h0M94.7 148.3h0M100.4 151.4h0M81.6 143.4h0M101.3 139.7h0M89.5 140.1h0M80.3 132.3h0M75.6 151.0h0M98.6 140.0h0M82.0 143.8h0M96.5 152.1h0M77.0 136.4h0M97.7 148.7h0M94.9 135.9h0M81.0 142.9h0M86.6 130.7h0M91.8 138.2h0M90.2 134.4h0M89.8 136.2h0M89.0 138.2h0M82.4 147.0h0M103.1 145.4h0M87.6 145.6h0M81.2 135.2h0M83.9 150.4h0M92.5 142.6h0M86.4 145.5h0M85.3 135.2h0M92.9 147.3h0M80.7 144.7h0M90.0 137.1h0M92.5 140.4h0M97.0 146.9h0M92.3 131.9h0M93.8 141.8h0M95.4 144.0h0M91.9 134.5h0M95.5 144.9h0M85.4 138.9h0M98.5 142.3h0M94.4 146.5h0M87.7 142.4h0M93.3 147.0h0M76.4 137.3h0M86.0 145.2h0M74.7 138.7h0M88.3 133.6h0M92.0 152.9h0M84.0 153.0h0M96.0 149.4h0M76.2 149.5h0M91.9 145.0h0M91.6 143.6h0M86.6 133.8h0M85.1 135.4h0M98.2 144.7h0M83.0 137.1h0M82.2 133.6h0M83.2 148.9h0M84.3 153.1h0M87.9 144.6h0M81.2 138.7h0M92.5 147.6h0M75.1 139.6h0M83.5 145.4h0M78.2 142.4h0M88.4 132.5h0M89.2 151.5h0M82.6 153.6h0M78.6 143.9h0M85.5 146.8h0M84.6 137.0h0M93.8 149.5h0M96.6 138.5h0M94.4 140.8h0M95.3 149.7h0M77.1 143.8h0M83.7 148.0h0M80.9 151.8h0M90.4 150.2h0M75.1 140.3h0M91.2 134.0h0M87.8 143.8h0M89.8 134.6h0M87.6 138.6h0M83.4 139.0h0M96.0 136.9h0M76.8 135.9h0M92.0 131.5h0M93.4 141.6h0M93.0 137.0h0M76.5 138.0h0M84.3 154.0h0M85.1 141.3h0M86.4 136.8h0M85.6 133.4h0M83.8 145.5h0M87.7 141.6h0M84.4 148.1h0M94.1 148.8h0M98.7 140.4h0M97.2 138.4h0M77.0 147.8h0M77.9 140.2h0M96.9 143.8h0M100.7 139.5h0M80.0 151.7h0M78.3 136.1h0M97.7 152.8h0M90.6 145.9h0M85.7 142.0h0M83.2 135.6h0M96.3 142.0h0M83.7 132.5h0M81.7 138.7h0M78.6 136.9h0M85.8 153.2h0M83.0 147.4h0M87.0 142.4h0M92.6 147.9h0M86.0 147.4h0M90.2 146.8h0M94.9 144.4h0M82.4 144.5h0M81.4 148.6h0M78.9 140.0h0M81.0 147.3h0M98.0 147.4h0M91.3 139.3h0M99.1 145.5h0M100.7 144.5h0M100.1 144.5h0M88.8 139.3h0M82.1 148.2h0M99.2 139.5h0M83.8 150.5h0M80.9 146.8h0M84.1 133.7h0M100.2 139.3h0M96.7 138.2h0M82.2 147.7h0M80.8 130.2h0M97.2 146.3h0M79.8 139.7h0M84.9 139.8h0M84.6 158.6h0M80.1 133.1h0M86.2 146.5h0M88.3 138.0h0M100.7 148.5h0M83.9 142.6h0M99.0 139.8h0M80.2 136.2h0M95.8 140.2h0M100.0 139.4h0M88.4 136.1h0M91.7 133.1h0M86.4 131.7h0M79.2 142.5h0M90.3 134.1h0M90.7 132.6h0M90.8 139.8h0M94.7 143.3h0M99.0 145.3h0M77.7 145.0h0M87.0 140.0h0M73.8 149.7h0M80.5 148.7h0M93.8 143.7h0M84.6 140.9h0M101.5 139.5h0M76.7 134.5h0M88.0 150.1h0M83.4 138.8h0M79.6 150.5h0M84.3 146.3h0M95.6 145.5h0M84.6 131.2h0M102.5 143.1h0M92.5 136.4h0M91.0 143.1h0M89.6 134.0h0M79.6 152.8h0M83.8 147.7h0M83.8 143.2h0M89.1 145.9h0M91.3 154.3h0M85.2 133.6h0M95.4 138.7h0M91.7 147.3h0M86.5 149.7h0M93.4 142.4h0M84.3 135.9h0M95.0 139.4h0M80.1 148.8h0M88.1 139.8h0M84.0 130.4h0M87.3 133.7h0M76.8 144.4h0M84.3 153.5h0M85.8 144.9h0M94.2 150.2h0M95.0 146.4h0M80.0 149.2h0M96.5 133.4h0M86.4 145.0h0M81.2 140.7h0M91.0 137.2h0M95.8 148.4h0M79.3 150.7h0M79.8 150.2h0M85.1 133.9h0M92.2 140.3h0M97.1 143.4h0M80.3 141.2h0M91.5 143.1h0M84.0 152.8h0M75.0 151.0h0M85.9 150.9h0M82.7 145.6h0M80.7 150.2h0M78.8 143.1h0M87.7 151.0h0M86.2 144.0h0M89.8 152.4h0M78.2 147.5h0M84.7 133.3h0M96.0 144.4h0M98.9 142.9h0M91.7 147.7h0M90.4 134.4h0M85.8 150.0h0M100.4 148.3h0M91.1 131.2h0M81.3 140.6h0M86.8 152.4h0M85.2 145.0h0M93.8 137.0h0M84.1 131.9h0M86.8 147.3h0M88.7 153.1h0M79.3 139.8h0M98.9 152.2h0M88.9 150.9h0M92.1 132.5h0M86.2 134.5h0M101.5 144.9h0M71.8 147.7h0M79.4 148.3h0M87.2 137.3h0M78.9 146.8h0M89.3 152.7h0M93.7 134.9h0M91.1 150.9h0M81.6 136.0h0M86.9 146.3h0M84.0 140.1h0M93.4 152.3h0M93.5 138.1h0M78.9 151.2h0M83.8 135.7h0M87.7 135.8h0M82.7 143.9h0M73.2 139.9h0M93.4 147.5h0M77.5 140.7h0M83.9 142.3h0M98.9 135.5h0M84.6 146.6h0M93.8 150.6h0M77.0 149.2h0M89.2 137.4h0M97.1 143.6h0M95.9 144.6h0M99.0 142.9h0M82.5 141.3h0M86.4 137.4h0M76.9 145.0h0M92.1 153.6h0M81.3 133.3h0M88.0 148.3h0M80.1 145.1h0M88.5 145.5h0M94.9 139.0h0M82.2 146.8h0M83.5 133.1h0M91.3 149.8h0M85.5 141.4h0M87.4 143.9h0M93.2 147.4h0M84.9 148.5h0M100.4 147.6h0M77.9 136.6h0M82.0 141.2h0M91.6 138.6h0M91.1 143.5h0M83.9 145.2h0M97.8 142.1h0M86.1 145.0h0M99.8 147.0h0M90.1 136.7h0M98.1 149.0h0M85.5 134.6h0M83.8 142.4h0M96.4 135.7h0M71.1 141.8h0M86.0 139.8h0M87.1 154.5h0M101.4 141.7h0M90.3 151.6h0M93.9 134.1h0M86.9 141.5h0M81.3 143.6h0M78.2 151.4h0M97.5 148.0h0M89.6 137.1h0M89.1 151.6h0M93.1 138.2h0M91.4 140.3h0M90.2 151.6h0M85.0 152.1h0M87.1 140.8h0M88.8 132.6h0M89.0 143.4h0M89.4 140.2h0M90.6 137.3h0M86.2 141.7h0M94.5 138.2h0M99.4 141.5h0M89.6 148.7h0M98.2 139.6h0M89.8 140.8h0M84.2 141.1h0M96.6 149.4h0M89.5 142.6h0M87.1 131.5h0M78.7 151.3h0M87.4 143.6h0M101.5 139.2h0M89.0 152.4h0M93.9 131.7h0M75.3 147.0h0M83.3 132.1h0M92.8 133.9h0M100.5 151.0h0M86.8 154.7h0M98.3 151.0h0M84.4 145.0h0M96.8 152.8h0M97.5 138.0h0M89.7 135.7h0M80.1 139.3h0M89.3 146.7h0M89.5 149.1h0M75.1 135.8h0M96.0 138.3h0M101.0 137.8h0M94.1 140.4h0M85.0 147.7h0M83.4 132.0h0M73.9 141.6h0M80.3 140.7h0M83.9 136.4h0M87.0 145.2h0M86.9 149.2h0M75.3 149.6h0M89.4 156.5h0M93.0 137.5h0M78.7 151.8h0M93.1 144.2h0M80.1 135.7h0M103.2 141.8h0M79.9 140.8h0M85.4 152.3h0M98.9 136.2h0M84.0 139.6h0M81.7 138.2h0M79.4 144.8h0M88.6 137.0h0M85.3 139.3h0M83.2 141.8h0M81.3 152.5h0M89.4 136.1h0M94.3 139.4h0M96.1 147.7h0M95.0 144.1h0M98.8 149.9h0M93.6 137.7h0M85.3 141.1h0M81.5 147.1h0M97.0 141.7h0M98.4 139.6h0M75.0 148.7h0M86.2 144.4h0M77.9 141.2h0M80.3 138.8h0M93.0 136.0h0M93.1 138.6h0M85.9 150.0h0M94.7 135.1h0M95.9 146.8h0M90.8 152.9h0M77.8 147.7h0M90.6 144.3h0M82.5 149.4h0M99.5 144.8h0M89.8 137.9h0M83.1 135.1h0M87.1 150.7h0M82.9 142.4h0M82.2 146.9h0M90.8 137.2h0M84.4 153.0h0M88.1 146.8h0M89.6 133.2h0M88.0 135.8h0M83.6 131.0h0M93.4 145.1h0M98.0 145.4h0M98.2 138.7h0M95.7 141.8h0M91.0 152.8h0M79.4 143.4h0M76.4 145.3h0M85.7 151.1h0M98.7 148.1h0M87.4 156.3h0M99.2 140.5h0M78.1 146.1h0M89.3 147.8h0M97.9 147.5h0M79.8 134.1h0M95.2 132.8h0M87.6 147.6h0M88.0 133.3h0M89.1 143.2h0M90.3 145.3h0M82.6 137.7h0M91.6 145.2h0M76.4 145.2h0M78.2 143.8h0M96.8 144.4h0M94.3 131.3h0M87.2 136.6h0M89.6 136.6h0M83.2 137.5h0M87.3 144.5h0M84.7 135.8h0M77.3 138.7h0M80.5 136.8h0M87.9 132.2h0M85.3 151.2h0M93.0 140.3h0M85.9 143.4h0M85.4 147.6h0M78.4 141.6h0M96.0 141.8h0M85.2 135.6h0M90.4 144.6h0M87.4 144.5h0M82.3 134.0h0M95.0 141.3h0M76.6 140.6h0M74.7 140.1h0M95.3 143.0h0M92.8 149.3h0M91.9 133.2h0M87.9 147.1h0M74.2 140.3h0M84.1 136.0h0M81.6 139.4h0M88.7 134.7h0M81.2 135.8h0M83.8 151.7h0M77.0 137.5h0M87.0 141.3h0M91.5 144.5h0M96.8 141.3h0M86.0 141.6h0M97.1 141.7h0M94.1 136.5h0M97.3 144.7h0M96.7 147.4h0M91.7 138.6h0M88.0 151.5h0M90.6 141.4h0M89.8 142.8h0M88.9 134.2h0M84.1 139.9h0M83.3 144.5h0M93.3 139.9h0M80.1 136.1h0M92.2 145.6h0M85.9 132.8h0M80.8 153.6h0M96.3 142.4h0M95.1 146.7h0M114.9 132.7h0M122.1 143.8h0M104.5 135.1h0M120.3 145.8h0M98.7 151.1h0M112.5 139.0h0M101.2 144.9h0M118.7 145.1h0M109.7 146.1h0M117.1 139.6h0M95.0 145.2h0M93.6 148.3h0M106.5 140.5h0M109.4 136.6h0M103.4 150.8h0M116.6 149.8h0M115.2 136.3h0M95.8 146.1h0M89.6 144.1h0M110.5 148.9h0M88.7 147.5h0M109.1 139.1h0M117.8 136.2h0M105.5 145.7h0M93.7 134.8h0M106.3 144.4h0M91.8 141.7h0M105.1 136.4h0M102.1 152.8h0M96.3 139.4h0M108.5 151.1h0M100.1 151.8h0M93.5 134.8h0M101.8 143.3h0M104.2 145.4h0M94.8 152.6h0M104.0 134.3h0M94.0 145.2h0M88.2 135.3h0M102.2 149.9h0M93.9 136.4h0M112.3 143.5h0M107.3 143.0h0M104.3 145.7h0M103.9 140.0h0M109.4 149.6h0M85.4 148.0h0M109.5 141.8h0M104.6 150.9h0M113.0 150.0h0M100.0 153.4h0M79.8 139.1h0M114.0 136.9h0M118.0 143.8h0M87.3 140.1h0M115.0 142.8h0M120.7 141.4h0M87.4 144.7h0M99.0 137.0h0M102.3 151.1h0M92.9 143.0h0M106.0 138.4h0M111.0 146.4h0M105.7 149.1h0M98.9 149.3h0M107.9 135.8h0M117.6 135.5h0M103.1 134.0h0M103.2 143.8h0M96.1 151.8h0M101.1 129.1h0M91.0 144.7h0M93.6 150.3h0M111.7 141.9h0M102.5 151.1h0M105.1 135.2h0M109.3 149.7h0M118.5 136.2h0M100.3 149.6h0M109.7 139.8h0M98.4 130.7h0M114.7 134.8h0M95.6 136.7h0M112.1 146.2h0M87.8 149.1h0M121.3 140.5h0M108.6 145.4h0M85.5 139.8h0M90.9 141.0h0M88.5 145.8h0M102.0 145.3h0M96.1 153.1h0M106.7 149.3h0M101.5 154.2h0M111.6 143.2h0M103.0 134.7h0M111.0 138.1h0M105.9 151.1h0M113.3 144.4h0M90.8 148.7h0M113.9 147.4h0M89.3 146.2h0M102.7 149.6h0M92.5 138.6h0M102.6 136.1h0M112.8 136.2h0M99.7 132.2h0M108.0 136.4h0M119.5 141.7h0M97.6 144.4h0M109.4 147.9h0M108.5 148.0h0M89.5 143.9h0M96.9 131.5h0M104.5 140.5h0M108.9 148.1h0M96.7 141.4h0M114.0 145.5h0M90.8 138.3h0M112.5 135.5h0M94.0 150.3h0M94.9 131.6h0M95.9 137.2h0M98.1 137.0h0M106.5 146.7h0M92.8 141.6h0M119.0 145.5h0M89.3 147.2h0M120.0 145.6h0M117.8 140.0h0M100.8 144.0h0M103.3 150.9h0M119.4 135.0h0M86.2 146.7h0M101.0 141.9h0M110.4 137.1h0M90.5 140.9h0M90.7 148.1h0M101.6 130.7h0M102.4 143.3h0M114.7 152.0h0M100.6 134.6h0M86.1 142.2h0M121.8 141.8h0M92.8 140.1h0M116.3 135.8h0M116.4 144.3h0M109.2 142.6h0M98.7 145.7h0M110.9 133.8h0M84.7 143.8h0M95.6 138.3h0M88.1 152.7h0M97.9 146.6h0M93.5 152.6h0M100.7 148.8h0M120.3 144.4h0M98.3 136.1h0M97.9 150.3h0M110.8 139.3h0M90.3 137.1h0M114.6 152.5h0M97.5 154.0h0M108.0 148.7h0M103.4 134.2h0M102.9 148.3h0M93.9 139.8h0M87.0 146.4h0M92.3 149.2h0M109.8 137.4h0M87.5 141.3h0M96.2 152.7h0M111.0 150.9h0M98.0 152.0h0M108.7 150.6h0M95.0 133.8h0M102.5 134.1h0M91.7 137.1h0M99.8 133.9h0M103.0 137.8h0M87.0 137.1h0M111.0 153.9h0M99.1 139.1h0M121.4 143.7h0M86.9 143.5h0M109.1 147.9h0M99.8 136.2h0M100.1 138.8h0M96.5 149.2h0M95.4 139.2h0M99.1 132.3h0M84.5 141.2h0M116.8 151.1h0M88.6 128.2h0M104.7 143.7h0M117.9 147.9h0M142.2 152.4h0M123.6 141.1h0M126.2 152.8h0M124.7 144.8h0M124.1 161.1h0M105.6 124.4h0M126.6 153.2h0M113.0 141.5h0M151.7 141.3h0M100.1 141.1h0M122.4 139.8h0M110.9 148.9h0M110.4 147.1h0M115.4 135.3h0M116.8 134.3h0M128.0 136.6h0M112.8 127.8h0M110.1 133.4h0M135.2 144.6h0M122.6 128.5h0M99.8 144.1h0M98.3 157.1h0M110.6 147.3h0M119.8 144.3h0M125.9 139.1h0M120.6 157.6h0M118.6 147.0h0M111.5 146.3h0M124.5 143.3h0M94.1 147.4h0M113.9 150.4h0M116.3 161.3h0M100.3 136.2h0M124.2 135.6h0M120.0 145.6h0M90.5 152.3h0M133.4 147.8h0M97.8 153.5h0M102.4 144.5h0M121.1 138.1h0M94.0 144.3h0M115.2 137.3h0M105.7 153.0h0M114.6 141.1h0M108.1 147.4h0M116.9 144.0h0M97.9 142.0h0M107.7 146.3h0M130.5 155.0h0M123.9 146.8h0M111.6 148.9h0M109.6 142.3h0M105.0 145.1h0M114.7 163.6h0M122.7 142.0h0M125.5 141.1h0M128.5 153.2h0M152.4 135.1h0M114.7 144.5h0M119.4 152.6h0M103.3 138.6h0M119.5 155.1h0M101.5 130.6h0M130.1 153.8h0M129.4 136.2h0M113.1 147.9h0M121.2 144.5h0M115.0 155.4h0M110.2 140.4h0M110.2 140.7h0M117.3 143.6h0M110.2 159.4h0M119.5 142.4h0M131.6 140.4h0M115.7 144.8h0M92.7 154.4h0M93.8 152.9h0M93.0 155.3h0M94.2 155.4h0M97.9 155.9h0M93.4 154.8h0M93.7 155.6h0M93.2 157.1h0M91.7 155.9h0M147.1 148.1h0M121.0 180.4h0M137.8 177.3h0M199.7 124.7h0M116.9 140.1h0M135.2 197.1h0M148.0 183.3h0M181.7 109.3h0M129.3 140.6h0M147.4 132.2h0M175.3 144.9h0M119.6 131.7h0M106.9 155.7h0M123.6 164.3h0M126.1 167.7h0M142.2 182.8h0M154.3 143.8h0M166.1 143.0h0M116.2 177.7h0M107.9 140.2h0M101.7 120.6h0M143.8 134.2h0M175.9 191.1h0M145.1 140.3h0M136.3 150.1h0M163.0 110.7h0M132.9 158.0h0M146.1 172.8h0M127.6 170.8h0M109.2 182.9h0M145.4 153.1h0M162.6 138.9h0M97.3 168.0h0M138.7 147.9h0M120.8 167.0h0M157.0 134.1h0M104.1 172.3h0M111.5 186.4h0M169.6 142.3h0M190.4 149.8h0M134.7 153.6h0M147.0 176.0h0M144.8 139.4h0M129.2 119.1h0M113.0 160.2h0M136.8 142.5h0M141.9 138.2h0M135.8 157.4h0M159.6 180.4h0M113.3 146.7h0M206.6 221.7h0M202.0 167.2h0M158.7 123.2h0M115.9 187.2h0M121.6 168.0h0M109.9 141.5h0M105.0 177.5h0M121.2 171.5h0M165.3 153.9h0M146.3 248.9h0M164.1 223.7h0M195.8 198.2h0M163.6 109.0h0M162.3 131.4h0M101.2 164.5h0M184.1 188.3h0M170.2 195.0h0M172.0 129.4h0"/>
<path id="p_hnsc_T" d="M167.6 137.6h0M175.2 128.9h0M185.5 124.2h0M179.3 136.3h0M168.5 138.1h0M179.1 149.1h0M171.4 138.6h0M176.7 137.2h0M175.1 141.8h0M180.4 149.3h0M187.0 135.9h0M176.8 151.7h0M169.5 141.3h0M174.1 136.5h0M179.4 141.0h0M180.8 136.3h0M179.4 145.4h0M189.1 131.3h0M187.5 145.3h0M187.2 144.8h0M179.1 137.7h0M175.5 133.9h0M175.7 137.0h0M184.7 137.7h0M181.6 134.1h0M181.1 136.8h0M185.2 130.6h0M185.4 133.2h0M185.3 132.5h0M184.9 136.6h0M185.5 127.7h0M178.4 146.2h0M175.6 135.0h0M181.2 131.1h0M174.9 134.7h0M174.2 134.3h0M172.9 143.3h0M179.1 143.6h0M188.9 136.5h0M175.6 139.7h0M187.4 145.2h0M168.8 143.1h0M186.3 142.2h0M186.8 144.0h0M183.9 140.2h0M178.3 144.9h0M187.1 145.9h0M185.8 141.5h0M173.5 147.8h0M190.0 141.9h0M173.0 148.8h0M172.1 141.8h0M185.6 140.7h0M178.0 140.4h0M190.8 128.8h0M189.2 131.7h0M177.2 138.4h0M182.0 149.6h0M184.0 133.7h0M179.6 149.9h0M176.2 139.3h0M179.1 139.6h0M189.0 136.3h0M172.2 147.5h0M173.5 130.5h0M180.6 123.7h0M177.8 140.7h0M177.5 134.7h0M183.4 126.3h0M187.8 141.9h0M170.8 137.6h0M173.7 141.5h0M171.2 142.6h0M179.4 137.9h0M173.9 142.8h0M169.1 139.1h0M178.7 131.1h0M181.4 133.7h0M182.7 129.2h0M179.4 125.0h0M180.3 145.9h0M180.5 126.7h0M175.4 150.9h0M184.0 135.4h0M185.5 136.9h0M170.7 149.9h0M188.6 140.0h0M178.0 128.3h0M182.4 131.0h0M183.2 128.4h0M180.1 124.3h0M180.9 149.5h0M174.9 127.4h0M186.8 140.9h0M186.7 132.5h0M169.5 136.0h0M189.3 142.4h0M187.7 136.6h0M177.5 137.7h0M184.3 135.4h0M174.2 146.0h0M180.4 150.2h0M169.2 131.5h0M188.2 130.0h0M181.6 128.5h0M170.0 146.7h0M172.3 134.0h0M182.3 133.9h0M184.3 126.0h0M182.7 138.6h0M180.0 148.0h0M184.3 127.6h0M179.9 127.0h0M173.0 146.1h0M187.1 139.9h0M172.8 134.2h0M178.7 130.8h0M185.9 141.5h0M173.2 131.2h0M179.8 129.6h0M174.0 126.9h0M186.8 133.4h0M180.6 124.2h0M180.2 147.8h0M186.1 147.2h0M184.2 137.2h0M183.3 131.3h0M180.8 145.0h0M188.1 134.6h0M179.7 126.9h0M176.2 127.4h0M184.2 129.5h0M187.7 138.2h0M171.1 146.4h0M186.8 148.2h0M180.2 130.8h0M169.3 147.1h0M181.7 131.6h0M181.1 126.2h0M180.6 126.2h0M184.8 133.3h0M179.5 142.0h0M179.2 140.6h0M178.8 137.4h0M179.0 148.0h0M172.1 133.1h0M177.4 141.1h0M181.6 139.0h0M180.6 137.3h0M187.1 129.1h0M190.6 133.5h0M174.9 147.1h0M173.7 132.3h0M176.5 126.0h0M183.2 142.7h0M178.4 140.0h0M187.3 131.9h0M176.2 143.5h0M185.9 137.2h0M176.3 136.9h0M171.1 132.8h0M182.4 152.2h0M189.4 132.8h0M175.1 138.5h0M177.5 143.5h0M179.2 142.8h0M179.0 150.9h0M185.1 130.3h0M176.1 139.4h0M175.9 129.2h0M174.8 140.7h0M182.7 138.0h0M175.0 134.5h0M177.8 137.5h0M186.0 138.9h0M186.7 131.7h0M185.5 140.7h0M185.1 129.5h0M175.0 149.2h0M173.4 136.3h0M183.8 133.0h0M175.7 147.3h0M173.0 136.9h0M180.4 143.4h0M168.1 136.4h0M176.7 134.2h0M178.7 146.9h0M177.7 133.3h0M180.2 150.7h0M170.8 133.1h0M182.2 123.5h0M181.9 132.0h0M170.5 137.4h0M178.7 147.8h0M183.1 139.5h0M175.9 133.9h0M170.3 133.5h0M184.3 143.3h0M182.0 133.8h0M182.2 134.8h0M181.4 132.5h0M171.1 135.9h0M175.4 136.8h0M183.7 134.7h0M190.2 138.6h0M177.3 132.7h0M178.2 125.7h0M189.1 131.8h0M171.4 143.2h0M178.5 148.4h0M184.1 129.7h0M176.4 125.8h0M173.6 141.7h0M189.5 131.8h0M184.8 128.6h0M182.3 140.9h0M178.9 137.6h0M182.2 127.0h0M186.6 137.1h0M182.2 128.3h0M175.1 147.7h0M179.7 143.4h0M183.5 139.2h0M187.9 134.0h0M173.6 138.0h0M171.6 138.7h0M180.5 136.4h0M178.4 124.6h0M177.0 141.8h0M168.7 132.8h0M189.2 142.0h0M172.6 136.7h0M185.1 142.8h0M181.2 143.2h0M179.5 139.0h0M179.2 128.5h0M176.5 139.2h0M179.5 132.4h0M177.7 140.2h0M185.5 131.2h0M171.8 133.5h0M191.5 139.0h0M182.6 133.2h0M170.2 134.1h0M185.5 140.2h0M178.7 138.7h0M173.7 136.0h0M168.9 143.3h0M187.6 146.1h0M172.8 144.1h0M183.9 145.6h0M182.9 151.2h0M181.4 146.1h0M175.7 139.4h0M178.1 136.1h0M174.7 130.2h0M178.9 133.4h0M177.2 152.4h0M169.4 149.7h0M181.0 146.5h0M188.3 136.8h0M179.5 142.8h0M177.7 126.5h0M173.8 134.7h0M184.4 147.0h0M186.7 132.9h0M171.7 132.7h0M177.3 134.7h0M186.2 125.6h0M172.3 145.0h0M172.5 139.8h0M180.2 146.7h0M185.0 136.2h0M170.5 140.7h0M188.3 133.1h0M187.6 133.7h0M172.6 138.9h0M176.2 129.4h0M176.3 145.0h0M172.2 134.8h0M172.3 144.2h0M188.2 138.3h0M180.3 125.1h0M181.0 137.7h0M173.9 148.5h0M177.4 145.8h0M185.4 141.8h0M175.7 129.7h0M171.2 147.2h0M178.1 139.9h0M168.0 135.7h0M174.3 129.4h0M184.6 128.7h0M187.3 135.9h0M177.8 146.7h0M170.2 132.9h0M187.7 137.7h0M169.6 146.2h0M173.5 129.9h0M170.6 136.6h0M186.1 125.5h0M180.1 136.5h0M167.6 140.1h0M174.6 145.6h0M178.8 133.8h0M189.5 138.7h0M174.1 138.9h0M171.6 133.2h0M174.9 146.9h0M191.2 134.9h0M185.9 146.7h0M171.2 140.5h0M183.9 148.4h0M169.6 136.8h0M178.0 133.8h0M181.6 145.4h0M179.7 134.0h0M177.6 140.9h0M177.2 146.0h0M177.8 139.1h0M185.0 138.2h0M185.0 136.3h0M173.7 143.9h0M185.0 143.5h0M181.2 142.6h0M168.9 135.8h0M187.4 145.2h0M181.2 127.3h0M176.1 128.7h0M169.7 138.8h0M179.7 143.4h0M189.9 140.4h0M173.4 140.5h0M176.8 143.3h0M184.4 140.4h0M185.7 126.5h0M174.4 132.2h0M169.9 143.2h0M189.3 128.8h0M182.4 126.0h0M186.7 136.0h0M188.4 141.7h0M176.0 131.1h0M182.4 135.8h0M190.6 137.1h0M176.6 149.1h0M178.4 132.0h0M186.2 134.2h0M185.7 131.5h0M185.6 125.1h0M172.7 136.2h0M189.4 133.7h0M177.0 136.7h0M172.5 145.7h0M174.0 137.2h0M187.0 132.2h0M181.9 142.6h0M181.9 139.8h0M182.7 143.0h0M181.1 148.8h0M176.1 146.0h0M180.3 145.0h0M188.5 145.4h0M177.6 140.7h0M176.8 129.7h0M184.6 127.6h0M175.6 136.6h0M184.4 138.1h0M184.3 143.6h0M184.5 136.4h0M184.4 144.2h0M177.2 131.5h0M177.0 147.6h0M180.0 136.3h0M184.4 128.5h0M185.7 132.6h0M177.4 140.3h0M179.5 146.2h0M182.5 133.0h0M180.4 132.2h0M167.3 135.3h0M176.2 137.8h0M170.0 132.0h0M184.7 139.2h0M181.1 146.8h0M178.3 134.9h0M191.9 132.0h0M183.5 149.6h0M184.1 128.6h0M184.3 134.1h0M175.6 145.4h0M170.5 143.4h0M173.6 137.9h0M187.1 142.0h0M191.0 136.7h0M184.5 138.2h0M175.1 139.8h0M189.7 135.1h0M169.6 132.2h0M178.8 136.1h0M179.5 133.8h0M184.6 126.7h0M167.7 146.0h0M168.9 142.0h0M180.4 142.4h0M187.0 135.1h0M170.7 136.1h0M190.1 140.8h0M174.0 146.4h0M179.1 136.0h0M181.9 139.4h0M181.4 129.3h0M183.3 137.2h0M187.3 138.5h0M173.9 132.2h0M178.1 148.5h0M177.8 128.0h0M179.4 136.5h0M172.0 144.0h0M179.3 139.7h0M172.4 142.0h0M182.3 134.3h0M172.9 143.5h0M188.5 128.2h0M167.6 143.3h0M189.8 127.7h0M176.3 127.0h0M187.9 139.0h0M175.5 148.5h0M181.4 135.3h0M177.9 137.7h0M176.5 149.4h0M179.0 150.1h0M175.4 145.8h0M180.3 131.1h0M189.7 132.4h0M175.0 142.5h0M174.2 141.3h0M182.1 150.3h0M172.6 131.4h0M182.4 148.2h0M171.3 145.2h0M193.0 136.3h0M174.8 134.2h0M174.7 142.4h0M184.3 129.5h0M185.0 141.5h0M182.5 131.5h0M186.5 131.3h0M168.5 132.6h0M176.5 148.1h0M176.9 145.1h0M183.5 137.3h0M182.6 128.4h0M189.8 141.9h0M178.6 143.2h0M170.6 138.3h0M181.8 135.1h0M178.3 135.5h0M173.7 135.3h0M181.4 150.7h0M187.9 139.1h0M175.9 149.9h0M183.1 127.4h0M176.0 127.3h0M187.0 128.6h0M184.4 130.9h0M171.4 135.8h0M179.2 137.7h0M180.8 140.5h0M182.7 132.1h0M174.8 143.9h0M181.5 146.7h0M180.0 138.6h0M168.8 150.0h0M180.9 146.8h0M179.2 143.3h0M171.0 139.2h0M170.5 143.2h0M172.9 147.7h0M177.9 151.9h0M177.0 129.3h0M179.4 138.0h0M174.3 139.2h0M177.8 146.6h0M184.1 132.3h0M181.8 144.6h0M170.4 140.7h0M176.4 149.5h0M180.4 135.6h0M169.9 141.6h0M173.9 155.6h0M167.7 139.8h0M168.4 153.0h0M168.9 146.5h0M171.3 146.4h0M163.1 147.7h0M166.8 141.2h0M166.1 153.3h0M162.7 142.8h0M174.5 139.9h0M177.0 142.2h0M180.4 144.3h0M170.1 150.7h0M178.5 151.8h0M181.3 148.6h0M175.3 152.4h0M170.2 143.3h0M174.0 153.2h0M172.1 138.7h0M180.8 150.0h0M172.8 140.4h0M163.5 151.4h0M175.7 153.3h0M164.5 143.1h0M171.2 144.7h0M177.6 149.1h0M165.6 149.9h0M179.4 151.9h0M174.2 146.2h0M166.2 149.1h0M165.9 147.9h0M165.9 143.8h0M175.5 138.7h0M178.3 144.4h0M162.5 152.3h0M163.1 150.8h0M172.3 145.3h0M170.4 138.8h0M168.2 141.6h0M173.9 139.9h0M176.1 145.0h0M176.7 148.7h0M163.0 143.7h0M170.6 151.5h0M176.9 144.2h0M177.5 147.8h0M168.9 148.4h0M168.5 147.4h0M175.4 149.1h0M168.3 151.4h0M163.2 153.3h0M177.1 150.9h0M171.7 142.4h0M165.8 153.1h0M161.6 149.0h0M174.4 138.6h0M179.3 142.6h0M170.7 153.4h0M171.3 139.1h0M170.4 149.1h0M178.4 145.0h0M172.4 146.4h0M162.7 147.2h0M178.2 151.1h0M175.0 142.5h0M169.6 143.9h0M172.9 141.2h0M167.3 146.7h0M177.2 145.7h0M165.5 153.3h0M171.3 145.4h0M178.6 151.7h0M181.4 142.1h0M169.1 150.0h0M177.6 153.8h0M163.8 150.5h0M178.1 153.6h0M166.0 144.7h0M161.5 140.2h0M149.6 172.0h0M154.2 163.9h0M154.7 164.9h0M170.4 149.9h0M185.0 142.7h0M160.1 143.5h0M154.1 148.4h0M152.1 148.7h0M180.2 134.7h0M148.7 142.5h0M157.5 162.0h0M170.7 156.7h0M165.0 175.8h0M150.2 140.5h0M162.4 154.0h0M160.1 143.6h0M148.2 149.2h0M154.8 147.2h0M150.7 165.3h0M167.7 170.4h0M157.0 152.6h0M159.9 152.2h0M159.9 150.4h0M140.8 149.3h0M170.4 132.6h0M158.8 157.7h0M176.8 151.1h0M167.8 169.4h0M177.1 147.5h0M156.0 162.1h0M165.2 146.6h0M160.1 155.1h0M160.5 149.5h0M160.1 137.2h0M182.0 164.1h0M179.5 150.7h0M164.1 157.7h0M171.8 133.8h0M166.6 142.1h0M161.9 145.4h0M181.6 157.3h0M162.4 165.8h0M95.8 203.7h0M87.3 154.1h0M100.4 157.0h0M141.4 170.3h0M122.0 172.6h0M120.3 133.2h0M117.8 137.2h0M175.2 177.0h0M151.0 107.5h0M134.2 170.9h0M95.4 178.9h0M111.2 155.2h0M142.1 152.9h0M135.8 166.9h0M163.4 192.2h0M168.1 159.1h0M89.8 129.1h0M125.2 170.9h0M163.9 146.7h0M120.9 158.1h0M141.2 172.4h0M154.3 150.8h0M78.9 145.8h0M67.4 151.8h0M199.0 185.4h0M145.0 209.2h0M112.2 165.7h0M149.0 139.4h0M123.3 172.6h0M109.4 170.2h0M180.8 165.7h0M121.0 147.7h0M130.1 143.6h0M109.6 224.6h0M152.1 107.9h0M152.1 185.9h0M174.2 130.3h0M83.7 249.4h0M102.6 116.2h0M152.0 206.8h0"/>
<path id="p_esca_T" d="M136.5 143.6h0M136.2 144.3h0M136.7 146.7h0M136.3 144.9h0M139.0 145.6h0M138.8 145.3h0M133.6 142.8h0M132.8 147.3h0M137.6 144.1h0M134.3 145.7h0M136.3 145.6h0M134.7 142.8h0M140.2 143.1h0M136.6 147.7h0M132.4 146.4h0M136.8 144.7h0M137.2 142.6h0M131.5 148.7h0M136.0 146.8h0M139.2 145.6h0M137.7 146.4h0M140.3 146.0h0M139.5 144.4h0M135.6 145.2h0M137.5 146.1h0M141.1 146.7h0M136.8 148.9h0M137.4 145.7h0M137.8 144.3h0M134.1 145.3h0M135.9 143.3h0M136.9 144.6h0M135.3 141.5h0M136.2 148.5h0M138.7 147.1h0M136.6 147.1h0M135.1 144.1h0M137.8 142.2h0M136.8 145.6h0M140.5 143.6h0M137.6 143.7h0M135.4 139.7h0M134.5 147.3h0M137.8 145.3h0M142.3 146.1h0M133.8 144.6h0M136.5 148.2h0M134.6 145.8h0M138.9 143.4h0M136.8 141.0h0M152.2 134.7h0M151.3 142.4h0M152.8 139.1h0M152.3 143.3h0M153.0 141.1h0M151.2 138.2h0M150.1 138.7h0M150.7 141.0h0M153.2 138.8h0M151.0 133.3h0M150.9 139.6h0M153.2 132.9h0M147.6 139.3h0M150.1 138.6h0M151.1 140.2h0M148.6 137.9h0M153.7 139.4h0M150.5 139.9h0M152.5 137.3h0M153.3 140.3h0M151.8 140.9h0M149.8 140.5h0M151.7 137.2h0M150.9 141.3h0M151.0 138.3h0M150.8 137.4h0M153.8 143.4h0M154.5 140.0h0M153.4 138.3h0M138.2 127.0h0M165.0 137.7h0M135.2 133.9h0M147.7 135.0h0M145.3 144.2h0M163.6 126.1h0M149.2 133.2h0M139.2 162.9h0M153.7 137.1h0M151.9 141.8h0M160.4 135.8h0M151.9 139.4h0M145.3 140.1h0M136.6 143.5h0M158.7 134.3h0M139.8 146.8h0M134.7 153.3h0M154.9 112.6h0M136.1 128.3h0M156.6 154.2h0M128.6 133.3h0M144.0 137.4h0M155.1 154.7h0M153.3 156.1h0M158.1 141.2h0M139.2 132.7h0M156.4 153.6h0M159.2 137.9h0M139.8 145.5h0M162.4 146.7h0M148.3 131.6h0M151.3 149.0h0M132.1 164.7h0M132.5 154.1h0M142.4 144.2h0M134.4 134.9h0M154.8 139.7h0M140.5 153.5h0M155.0 144.3h0M148.4 164.2h0M142.9 147.2h0M151.1 124.3h0M118.6 143.8h0M157.2 144.8h0M137.9 133.8h0M156.4 138.4h0M123.1 150.9h0M148.5 147.1h0M159.5 159.1h0M152.9 140.0h0M116.1 146.0h0M143.2 159.1h0M162.8 148.3h0M164.1 141.2h0M144.6 131.4h0M140.9 144.9h0M159.8 132.8h0M156.2 172.1h0M126.7 138.9h0M145.5 155.0h0M172.5 158.0h0M144.7 131.3h0M144.4 141.7h0M148.5 130.7h0M166.2 132.9h0M154.6 144.9h0M130.1 143.0h0M145.5 139.8h0M156.3 136.1h0M180.2 156.6h0M132.6 110.2h0M162.5 145.4h0M146.3 129.6h0M125.3 118.2h0M180.5 162.7h0M137.5 166.2h0M119.6 151.1h0M154.9 131.1h0M138.8 128.7h0M145.7 159.0h0M158.9 147.5h0M160.6 119.1h0M173.1 141.4h0M126.9 137.2h0M136.1 143.3h0M149.4 112.0h0M162.5 164.3h0M130.7 161.1h0M162.5 155.1h0M167.7 124.1h0M155.1 129.0h0M177.9 129.5h0M128.1 156.6h0M153.7 142.4h0M147.0 150.0h0M169.1 132.8h0M137.3 134.6h0M144.0 142.2h0M127.1 146.0h0M127.4 138.0h0M141.6 138.9h0M165.7 163.3h0M160.1 162.6h0M141.0 160.3h0M144.3 145.0h0M148.8 124.7h0M136.5 140.0h0M150.1 140.4h0M133.1 127.0h0M145.2 126.7h0M128.6 140.7h0M147.5 131.2h0M120.2 145.7h0M156.4 136.7h0M139.8 111.8h0M157.6 127.8h0M155.1 134.3h0M143.0 139.6h0M119.9 177.7h0M123.2 143.4h0M133.7 138.9h0M164.3 117.8h0M66.8 175.5h0M148.4 155.0h0M158.2 165.4h0M152.7 152.5h0M135.0 167.8h0M131.2 129.5h0M109.4 164.9h0M119.0 136.8h0M122.4 174.4h0M88.6 97.6h0M142.6 152.3h0M172.9 149.9h0M103.3 163.8h0M145.0 165.4h0M146.0 209.4h0M129.3 166.5h0M136.4 115.2h0M109.0 134.6h0M129.7 127.1h0M170.1 154.0h0M114.1 138.5h0M138.0 140.9h0M111.5 126.2h0M136.0 197.9h0M71.6 146.4h0M137.1 135.7h0M188.1 159.6h0M96.2 161.7h0M108.2 174.5h0M136.2 183.9h0M113.5 164.5h0M174.1 149.1h0M116.7 157.6h0M148.1 166.0h0M119.3 180.3h0M78.9 137.6h0M148.0 168.1h0M143.3 181.1h0M153.1 156.7h0M201.0 164.5h0M235.4 107.5h0M177.1 122.3h0M89.4 132.5h0M143.5 130.9h0M130.9 184.2h0"/>
<path id="p_stad_T" d="M117.7 173.2h0M119.1 172.7h0M114.6 161.5h0M111.7 168.2h0M122.3 170.9h0M126.7 171.1h0M119.4 171.6h0M109.6 173.7h0M112.8 168.4h0M130.5 163.7h0M119.1 172.1h0M119.1 170.5h0M115.6 181.5h0M108.2 164.9h0M126.1 173.5h0M114.5 165.6h0M117.2 185.0h0M121.0 164.8h0M119.7 167.1h0M126.1 172.1h0M124.9 171.4h0M128.9 172.8h0M119.9 164.9h0M116.3 172.6h0M115.9 184.2h0M118.4 166.3h0M123.5 167.6h0M120.5 170.0h0M114.8 178.1h0M118.9 176.5h0M116.7 162.7h0M112.1 167.6h0M117.5 170.8h0M121.1 163.7h0M119.6 163.8h0M114.9 184.6h0M125.0 168.5h0M127.6 178.3h0M123.0 178.6h0M117.2 169.8h0M114.0 173.7h0M112.0 167.7h0M120.8 167.7h0M120.2 180.5h0M113.4 178.2h0M115.0 165.4h0M119.6 176.2h0M114.8 166.5h0M116.2 166.5h0M119.4 166.6h0M117.1 172.4h0M116.3 176.8h0M115.0 166.3h0M128.9 178.8h0M118.8 175.1h0M120.2 167.7h0M121.9 172.2h0M125.0 160.4h0M122.6 171.4h0M114.9 168.1h0M116.4 163.2h0M115.5 174.8h0M110.7 168.4h0M106.3 167.3h0M120.5 170.2h0M118.7 164.3h0M121.4 165.5h0M123.1 171.7h0M116.5 178.7h0M116.4 176.1h0M119.0 170.5h0M123.6 172.9h0M118.4 169.9h0M119.5 171.0h0M116.8 164.8h0M105.2 169.9h0M117.2 177.2h0M120.8 176.8h0M127.4 169.9h0M114.1 175.0h0M115.4 169.1h0M125.8 173.5h0M124.1 163.1h0M118.6 176.7h0M111.9 171.6h0M120.5 157.8h0M126.6 166.6h0M117.8 179.7h0M109.3 173.1h0M116.2 170.8h0M114.3 178.0h0M112.7 172.5h0M121.2 170.0h0M117.1 169.1h0M123.7 173.0h0M118.0 164.5h0M119.3 173.5h0M118.3 178.4h0M108.7 184.2h0M117.5 164.2h0M109.5 175.3h0M121.4 169.3h0M118.2 171.5h0M116.3 176.9h0M121.7 169.9h0M110.1 178.1h0M116.0 164.8h0M125.1 173.3h0M108.2 161.4h0M116.4 163.6h0M117.7 184.9h0M133.8 170.3h0M122.6 175.4h0M117.9 162.4h0M124.0 169.6h0M120.8 174.4h0M114.3 179.8h0M118.9 171.8h0M116.3 174.5h0M123.7 167.5h0M121.5 168.2h0M112.2 168.7h0M121.6 173.6h0M124.0 166.8h0M116.9 171.0h0M121.7 169.9h0M113.6 162.0h0M124.6 176.5h0M115.1 178.7h0M118.2 173.1h0M125.0 167.9h0M114.5 161.0h0M120.1 173.1h0M123.0 173.9h0M119.1 176.9h0M113.3 172.7h0M121.2 169.9h0M127.4 173.0h0M125.5 175.5h0M117.6 181.3h0M124.2 170.7h0M117.9 164.9h0M117.8 169.3h0M119.6 168.3h0M121.5 170.1h0M110.4 167.8h0M113.9 163.6h0M117.2 175.6h0M112.8 159.5h0M117.7 187.1h0M115.5 172.1h0M116.4 175.3h0M126.0 169.7h0M124.6 164.6h0M119.6 163.6h0M119.5 167.2h0M119.8 164.4h0M119.7 171.2h0M115.6 166.2h0M112.5 168.4h0M120.6 169.9h0M119.4 177.6h0M116.9 172.2h0M122.8 173.5h0M120.6 171.1h0M128.5 170.2h0M116.6 173.9h0M127.0 178.4h0M118.7 175.2h0M121.2 171.1h0M121.9 174.1h0M119.3 180.2h0M116.6 178.3h0M129.4 182.3h0M120.0 169.6h0M110.4 170.3h0M131.1 162.0h0M110.6 175.3h0M121.8 160.6h0M118.3 172.5h0M110.8 175.9h0M111.8 176.9h0M119.6 166.8h0M110.3 168.8h0M118.1 169.9h0M115.5 169.5h0M123.1 165.6h0M117.5 173.2h0M118.5 175.4h0M126.6 168.7h0M119.7 154.4h0M116.8 174.3h0M112.8 178.0h0M108.9 178.1h0M115.9 165.0h0M116.1 169.1h0M113.3 163.0h0M115.9 175.8h0M120.6 178.0h0M115.4 168.6h0M116.8 171.4h0M120.9 180.3h0M128.9 176.6h0M121.1 168.6h0M113.4 163.7h0M116.9 175.0h0M113.4 179.2h0M119.0 161.7h0M131.9 173.3h0M108.0 175.0h0M124.5 172.3h0M105.6 170.4h0M121.4 184.2h0M117.3 160.5h0M123.2 165.0h0M130.8 184.8h0M121.4 177.6h0M127.0 180.4h0M138.9 179.1h0M119.0 177.8h0M107.1 175.6h0M112.1 170.5h0M110.4 175.3h0M124.7 167.7h0M125.4 183.9h0M139.5 169.9h0M121.4 162.2h0M126.8 176.9h0M133.7 179.7h0M126.8 179.7h0M112.0 167.7h0M105.9 168.9h0M120.4 184.5h0M118.3 170.4h0M112.6 187.5h0M124.6 159.9h0M119.4 163.6h0M122.5 191.6h0M130.5 179.4h0M115.2 170.4h0M128.3 179.2h0M107.6 169.2h0M112.0 159.9h0M126.5 182.6h0M122.4 162.2h0M108.8 183.2h0M115.3 169.5h0M105.4 173.4h0M118.5 165.4h0M113.4 175.3h0M109.4 173.5h0M112.5 176.5h0M127.2 184.4h0M109.3 163.2h0M126.0 175.8h0M108.8 181.6h0M122.8 163.9h0M124.4 170.6h0M129.6 162.5h0M120.4 167.5h0M135.9 172.1h0M135.3 174.0h0M109.5 182.6h0M117.1 168.2h0M123.9 179.6h0M116.3 170.4h0M115.5 184.3h0M130.3 165.8h0M124.6 179.1h0M126.8 184.4h0M114.3 167.0h0M104.3 168.8h0M111.0 166.0h0M112.1 169.4h0M131.9 178.2h0M111.4 168.6h0M107.4 180.2h0M124.3 184.6h0M123.4 170.2h0M119.2 159.6h0M112.5 163.3h0M116.8 177.3h0M125.8 182.5h0M133.6 175.0h0M123.5 172.2h0M109.3 177.1h0M117.5 175.3h0M116.8 188.1h0M110.3 180.7h0M109.2 163.8h0M105.8 180.5h0M124.1 168.2h0M125.7 187.6h0M135.3 188.5h0M123.9 171.0h0M125.1 187.2h0M118.9 179.8h0M120.2 167.2h0M133.6 177.3h0M119.7 174.9h0M115.5 185.4h0M127.0 172.5h0M117.6 174.5h0M109.1 174.0h0M116.0 169.1h0M123.2 168.0h0M116.8 189.1h0M131.5 176.6h0M110.0 168.5h0M117.0 176.3h0M125.0 191.6h0M117.9 160.9h0M119.8 165.4h0M133.7 173.4h0M133.1 170.9h0M121.8 185.0h0M113.1 181.5h0M120.7 170.6h0M136.8 176.8h0M122.0 172.5h0M118.9 172.3h0M115.6 188.2h0M133.7 163.2h0M105.8 178.1h0M121.4 182.0h0M126.6 161.3h0M125.6 172.3h0M125.1 180.4h0M132.3 171.1h0M128.5 188.1h0M115.9 163.9h0M104.7 175.8h0M128.8 166.9h0M131.4 174.4h0M130.7 182.1h0M114.9 176.6h0M130.6 164.3h0M114.9 178.8h0M125.0 182.7h0M115.5 175.5h0M134.5 178.7h0M125.6 184.4h0M130.0 163.3h0M124.0 169.8h0M124.8 164.5h0M136.4 180.9h0M111.5 162.4h0M114.0 176.9h0M118.7 171.5h0M114.3 184.8h0M116.4 189.2h0M131.1 170.2h0M116.1 163.5h0M109.6 163.3h0M103.3 173.8h0M117.8 184.7h0M115.9 176.8h0M124.3 172.2h0M130.2 162.5h0M127.3 179.5h0M124.0 161.9h0M114.9 164.8h0M108.9 158.4h0M115.8 185.0h0M127.2 172.5h0M105.9 168.8h0M129.0 163.3h0M136.3 183.5h0M104.1 174.5h0M121.8 191.9h0M110.0 181.4h0M120.5 175.4h0M105.0 169.3h0M126.9 181.5h0M116.9 176.3h0M114.8 186.8h0M112.9 158.1h0M121.0 190.2h0M117.5 179.8h0M120.3 183.5h0M129.5 171.6h0M128.5 180.1h0M127.0 189.5h0M131.3 165.1h0M113.4 182.1h0M120.8 164.1h0M128.4 179.0h0M125.6 180.7h0M109.6 166.9h0M128.2 187.1h0M121.5 188.9h0M108.4 188.5h0M108.3 163.2h0M130.5 190.8h0M133.8 180.4h0M113.7 180.5h0M115.0 164.2h0M125.7 162.5h0M113.4 171.8h0M116.4 183.5h0M122.7 174.1h0M114.3 189.8h0M122.9 156.8h0M121.1 170.4h0M115.0 166.2h0M112.6 173.5h0M123.0 183.2h0M109.1 170.0h0M137.8 175.9h0M130.7 171.9h0M109.6 173.3h0M102.9 177.3h0M138.0 169.6h0M122.3 173.1h0M118.1 184.0h0M135.1 169.0h0M126.8 171.5h0M125.5 183.1h0M106.1 181.6h0M114.8 180.0h0M110.5 171.2h0M113.4 164.9h0M117.1 177.4h0M116.4 168.1h0M119.0 173.4h0M117.4 175.0h0M134.2 177.2h0M119.7 187.7h0M110.7 184.3h0M118.8 166.6h0M111.3 185.7h0M120.6 181.4h0M128.1 176.9h0M120.0 172.2h0M108.8 187.3h0M110.6 173.4h0M127.2 169.1h0M113.8 164.8h0M121.0 182.1h0M117.5 192.0h0M115.4 170.0h0M122.3 172.4h0M127.1 188.1h0M109.4 181.3h0M122.4 180.4h0M128.5 181.8h0M118.5 169.1h0M108.1 183.5h0M108.5 182.4h0M122.5 172.5h0M128.9 175.7h0M122.0 183.9h0M135.1 179.9h0M133.7 176.6h0M103.9 171.9h0M112.7 190.7h0M114.5 162.2h0M125.9 187.8h0M131.2 185.6h0M119.6 163.0h0M132.8 178.8h0M105.9 170.3h0M133.0 179.0h0M128.4 171.8h0M122.8 173.5h0M135.1 180.1h0M122.9 174.2h0M109.7 171.1h0M119.7 158.9h0M124.4 169.7h0M105.4 179.5h0M108.9 178.1h0M112.2 189.1h0M106.9 163.4h0M122.9 175.4h0M118.1 169.2h0M119.1 160.1h0M116.4 164.0h0M116.2 170.9h0M115.5 185.5h0M116.8 166.5h0M112.1 182.3h0M118.0 171.6h0M120.6 190.9h0M119.4 189.3h0M115.4 167.8h0M125.5 183.5h0M130.2 159.5h0M127.4 161.5h0M101.6 168.7h0M129.2 146.6h0M125.3 167.0h0M139.8 138.7h0M119.5 148.5h0M139.5 149.7h0M134.4 153.9h0M112.7 161.3h0M115.7 168.6h0M135.6 175.7h0M117.0 178.5h0M137.0 138.7h0M149.6 179.8h0M116.7 163.8h0M113.6 158.3h0M129.1 167.2h0M118.9 159.5h0M117.8 164.4h0M133.9 160.7h0M138.8 168.8h0M130.9 173.6h0M114.6 159.4h0M109.2 159.6h0M122.4 169.7h0M122.7 152.3h0M126.2 158.3h0M132.4 149.5h0M112.0 141.0h0M138.8 144.9h0M122.5 146.7h0M136.1 153.2h0M139.6 151.5h0M130.2 168.9h0M137.0 145.7h0M123.5 158.9h0M108.7 168.3h0M131.2 165.9h0M113.1 162.1h0M131.6 172.1h0M121.9 168.0h0M147.1 154.8h0M123.1 156.1h0M112.1 155.6h0M143.7 148.9h0M125.3 174.1h0M133.0 162.7h0M123.9 158.6h0M127.4 168.1h0M128.1 171.1h0M108.4 169.7h0M121.9 160.1h0M123.0 167.6h0M126.1 167.4h0M119.1 162.2h0M139.7 173.2h0M123.7 161.7h0M123.6 158.6h0M127.5 174.4h0M133.2 177.3h0M142.9 145.0h0M130.4 154.7h0M111.0 147.2h0M122.2 179.8h0M128.2 157.8h0M127.0 151.2h0M129.1 159.0h0M110.9 153.8h0M161.3 167.5h0M126.4 167.9h0M117.5 161.1h0M136.2 141.1h0M120.0 155.3h0M124.5 154.0h0M130.1 172.1h0M130.8 172.1h0M137.9 153.1h0M130.1 155.7h0M134.0 156.0h0M125.5 180.1h0M125.6 141.8h0M128.6 163.6h0M122.3 160.9h0M137.6 154.0h0M125.5 151.8h0M130.7 158.6h0M118.1 158.3h0M145.8 140.1h0M124.5 131.0h0M168.2 156.3h0M81.3 171.6h0M107.9 189.3h0M161.8 109.9h0M144.6 155.9h0M150.9 127.8h0M104.3 177.4h0M91.8 153.8h0M146.7 173.6h0M144.7 210.2h0M164.3 152.5h0M133.6 139.0h0M141.3 206.1h0M153.0 154.0h0M109.6 97.5h0M135.0 138.1h0M145.3 129.8h0M153.8 150.7h0M122.6 163.4h0M125.9 155.1h0M119.7 167.1h0M98.1 153.6h0M149.6 176.5h0M149.2 186.7h0M142.4 216.9h0M124.8 108.3h0M86.6 111.3h0M135.9 115.5h0M102.7 172.1h0M95.3 157.2h0M156.3 183.5h0M141.7 122.7h0M113.5 189.6h0M172.7 145.6h0M156.3 173.5h0M128.3 180.5h0M115.8 169.6h0M150.2 152.2h0M123.4 192.4h0M118.1 134.6h0M104.2 150.4h0M132.1 136.5h0M162.2 158.8h0M150.0 123.0h0M129.1 193.1h0M161.1 167.2h0M163.3 173.7h0M144.1 166.1h0M148.3 147.1h0M177.9 214.3h0M141.3 156.3h0M192.0 168.0h0M151.4 168.6h0M140.2 149.5h0M156.5 122.7h0M162.7 193.5h0M133.1 148.8h0M183.8 153.8h0M125.6 180.2h0M113.0 108.3h0M138.6 145.5h0M120.4 140.2h0M124.1 150.6h0M85.6 176.4h0M130.5 148.7h0M131.0 177.2h0M145.2 210.6h0M88.1 177.3h0M160.7 88.3h0M151.2 154.6h0M134.8 157.1h0M144.2 199.5h0M129.6 183.0h0M188.8 153.1h0M92.2 160.4h0M140.2 160.2h0M176.7 137.6h0M132.0 158.6h0M137.0 177.4h0M148.6 80.7h0M180.2 147.8h0M166.2 167.1h0M163.3 211.2h0M136.9 148.4h0M156.2 160.8h0M202.6 156.5h0M124.2 235.3h0M121.1 192.7h0M124.0 188.5h0M196.8 214.5h0M131.1 185.4h0M184.3 170.2h0"/>
<path id="p_paad_T" d="M67.7 174.2h0M75.8 168.7h0M68.6 176.2h0M75.7 173.0h0M75.5 168.3h0M69.7 177.3h0M65.5 176.4h0M72.5 168.6h0M72.1 174.0h0M76.4 170.7h0M77.5 172.0h0M71.8 168.3h0M76.4 168.2h0M67.9 171.4h0M73.9 174.5h0M78.2 173.7h0M72.1 170.1h0M70.7 169.9h0M72.8 167.8h0M76.0 171.4h0M64.1 171.0h0M73.2 172.0h0M74.2 172.0h0M67.5 172.0h0M72.3 169.0h0M73.7 173.5h0M80.9 170.7h0M65.8 173.7h0M70.1 172.8h0M70.2 171.2h0M76.0 168.7h0M71.6 173.8h0M71.8 172.0h0M73.3 170.7h0M71.0 173.0h0M68.8 173.7h0M76.5 169.3h0M68.8 176.3h0M73.4 169.4h0M76.9 169.2h0M70.4 173.7h0M70.2 175.2h0M75.0 175.1h0M74.0 174.8h0M77.3 167.8h0M71.4 174.9h0M71.6 176.4h0M70.0 171.7h0M71.0 176.0h0M70.9 176.7h0M78.8 169.5h0M75.2 171.8h0M71.9 169.5h0M73.1 167.8h0M68.3 175.2h0M67.8 176.5h0M75.0 167.6h0M67.7 172.9h0M73.8 175.1h0M70.1 174.9h0M70.1 168.8h0M70.7 173.3h0M73.6 169.3h0M72.0 172.7h0M73.6 172.2h0M77.0 174.6h0M74.7 173.1h0M75.1 175.3h0M79.0 170.6h0M69.8 171.5h0M67.4 174.4h0M76.3 174.2h0M73.5 169.5h0M67.0 170.7h0M71.9 174.3h0M66.1 174.0h0M75.1 169.3h0M77.2 170.8h0M78.0 170.3h0M65.3 171.8h0M66.6 173.0h0M66.8 175.0h0M77.0 171.7h0M70.9 175.0h0M72.4 171.7h0M66.9 176.8h0M69.2 171.1h0M79.0 170.7h0M72.5 170.6h0M70.0 175.5h0M72.9 175.6h0M77.9 169.7h0M73.6 174.9h0M69.2 168.5h0M69.9 171.8h0M63.6 172.3h0M71.1 173.8h0M78.6 170.7h0M71.9 172.3h0M70.4 173.3h0M76.9 175.4h0M67.1 175.1h0M73.0 172.4h0M72.9 173.3h0M72.3 173.8h0M77.2 175.2h0M66.1 172.9h0M77.5 174.8h0M76.7 173.1h0M78.3 172.8h0M74.0 171.0h0M77.8 173.0h0M75.7 171.2h0M76.4 170.5h0M69.0 172.9h0M74.5 170.7h0M79.5 171.6h0M71.7 171.4h0M68.9 172.8h0M68.4 171.7h0M75.2 171.9h0M76.6 175.1h0M69.9 176.2h0M68.6 169.7h0M75.1 174.9h0M76.5 170.2h0M75.2 174.4h0M67.8 175.0h0M71.2 168.9h0M76.6 168.6h0M72.8 169.5h0M72.2 171.9h0M65.6 175.9h0M67.7 175.6h0M64.1 172.8h0M74.2 174.1h0M68.1 172.8h0M65.6 172.6h0M70.5 174.6h0M75.3 173.9h0M76.0 173.0h0M68.6 175.4h0M70.8 172.6h0M77.9 171.0h0M72.8 173.4h0M77.4 171.8h0M70.8 175.0h0M65.0 174.5h0M64.5 171.9h0M68.1 176.9h0M75.4 170.7h0M73.7 175.3h0M71.9 177.1h0M72.1 176.3h0M77.7 170.8h0M67.4 173.7h0M69.9 174.4h0M77.2 172.4h0M68.5 172.3h0M70.7 175.2h0M70.9 174.0h0M70.0 170.7h0M71.9 171.9h0M66.2 172.2h0M66.4 173.7h0M70.4 175.3h0M68.2 171.8h0M67.8 170.7h0M66.6 176.7h0M66.5 172.1h0M70.1 173.4h0M70.5 171.3h0M65.7 175.4h0M66.7 172.7h0M69.1 169.5h0M68.0 171.7h0M69.9 172.3h0M62.6 174.4h0M61.8 172.2h0M66.7 171.8h0M68.5 174.7h0M66.2 171.8h0M70.4 173.9h0M70.4 173.5h0M67.9 172.0h0M67.2 174.6h0M72.4 176.6h0M65.8 172.5h0M68.5 172.6h0M65.5 177.0h0M72.5 172.6h0M67.3 172.9h0M65.3 172.3h0M70.5 176.0h0M81.6 174.6h0M73.1 161.7h0M83.8 171.4h0M77.4 175.6h0M73.5 168.2h0M74.5 175.5h0M81.9 165.8h0M85.0 170.9h0M79.6 168.7h0M86.0 172.1h0M83.6 168.1h0M80.8 171.1h0M76.8 168.6h0M74.7 167.6h0"/>
<path id="p_lusc_T" d="M163.4 177.2h0M164.1 167.2h0M178.6 183.1h0M165.8 184.6h0M172.7 170.1h0M175.7 179.3h0M161.2 163.3h0M172.5 175.0h0M175.9 163.4h0M173.9 188.7h0M174.3 186.1h0M155.4 190.2h0M173.3 180.7h0M166.0 177.2h0M160.7 167.8h0M160.2 162.2h0M174.5 162.1h0M164.7 183.0h0M169.3 178.2h0M171.9 189.2h0M171.0 168.8h0M170.6 183.4h0M178.1 187.4h0M163.0 167.8h0M157.1 169.3h0M177.3 171.6h0M172.5 163.4h0M171.2 173.6h0M170.0 175.7h0M175.5 178.7h0M168.1 177.6h0M166.3 185.5h0M178.7 186.4h0M175.4 171.6h0M162.2 194.3h0M175.1 189.3h0M162.4 175.9h0M173.8 163.8h0M160.7 191.2h0M167.9 176.6h0M182.6 174.6h0M163.0 177.1h0M168.0 187.5h0M163.4 189.8h0M172.2 188.0h0M153.7 183.5h0M162.3 181.7h0M162.9 194.4h0M157.4 185.1h0M166.6 183.0h0M167.3 177.5h0M173.7 173.8h0M164.8 179.0h0M169.2 180.2h0M163.1 192.6h0M166.0 175.7h0M174.2 177.0h0M167.0 175.1h0M172.1 180.5h0M160.6 187.5h0M179.5 184.1h0M155.4 173.0h0M162.8 181.4h0M153.4 183.0h0M163.7 193.5h0M173.1 182.2h0M168.3 171.0h0M161.6 186.5h0M181.3 185.3h0M170.9 191.8h0M177.2 181.6h0M173.1 171.3h0M171.7 187.8h0M175.7 174.2h0M172.6 176.9h0M176.0 187.4h0M169.5 167.1h0M168.6 186.2h0M164.1 165.5h0M178.1 175.4h0M162.3 179.2h0M169.3 189.5h0M160.7 167.5h0M157.8 170.1h0M167.0 181.8h0M162.0 176.7h0M156.1 177.4h0M156.3 185.2h0M162.3 183.1h0M174.2 173.9h0M160.0 166.2h0M159.2 183.2h0M155.5 172.8h0M162.5 173.2h0M173.7 170.2h0M159.0 180.7h0M172.0 165.3h0M171.2 185.1h0M165.6 167.5h0M163.4 165.8h0M172.5 178.5h0M159.8 168.3h0M172.0 180.7h0M171.1 175.1h0M153.1 172.7h0M174.8 189.6h0M166.1 170.6h0M165.7 187.1h0M176.5 182.8h0M156.7 173.5h0M170.4 166.4h0M165.2 170.1h0M171.9 162.4h0M165.0 170.0h0M158.3 186.2h0M170.1 194.6h0M162.6 185.4h0M171.6 169.1h0M180.2 180.1h0M173.0 181.4h0M179.3 170.6h0M176.8 178.7h0M156.6 174.0h0M174.1 172.0h0M156.7 176.5h0M166.8 173.8h0M181.4 181.0h0M165.6 158.6h0M158.3 169.6h0M156.9 166.1h0M164.7 192.4h0M157.1 169.3h0M167.1 175.7h0M174.1 166.6h0M180.3 185.6h0M174.0 171.4h0M163.7 164.0h0M156.4 174.7h0M165.7 162.6h0M166.7 166.6h0M158.1 174.9h0M169.1 175.2h0M173.4 170.9h0M168.4 173.9h0M168.5 187.5h0M155.2 188.9h0M178.2 171.4h0M157.6 173.6h0M172.1 188.0h0M170.2 168.5h0M171.6 188.1h0M182.3 174.2h0M158.3 163.4h0M173.5 175.6h0M161.6 191.8h0M174.5 170.6h0M163.6 187.7h0M174.0 182.0h0M167.1 170.4h0M173.4 174.8h0M180.6 170.4h0M176.5 189.5h0M162.2 176.2h0M159.1 163.3h0M162.8 188.4h0M165.2 163.2h0M158.8 186.5h0M173.9 169.5h0M162.5 176.1h0M161.7 180.7h0M155.0 177.9h0M154.5 185.9h0M158.0 178.9h0M162.6 164.3h0M163.8 184.2h0M171.4 178.7h0M165.6 175.1h0M154.9 182.2h0M174.0 169.2h0M175.4 179.3h0M168.0 166.7h0M165.4 182.9h0M171.3 167.2h0M161.4 190.1h0M172.4 183.7h0M163.4 173.0h0M170.2 192.6h0M170.1 166.9h0M161.8 176.1h0M174.2 167.4h0M159.5 162.5h0M159.0 180.6h0M156.9 169.9h0M178.0 182.3h0M174.2 183.7h0M166.9 188.4h0M159.4 177.3h0M176.8 170.0h0M173.1 178.4h0M166.2 187.8h0M169.4 179.7h0M172.0 166.3h0M169.1 175.9h0M158.1 174.7h0M169.2 190.9h0M172.3 166.8h0M162.2 187.0h0M157.9 169.1h0M167.9 174.3h0M162.4 185.7h0M169.5 190.3h0M172.3 180.7h0M178.6 171.0h0M180.0 181.3h0M171.4 167.6h0M180.5 171.8h0M162.3 180.9h0M172.3 184.5h0M163.9 170.2h0M169.3 185.3h0M159.9 181.1h0M162.7 186.0h0M164.9 162.7h0M166.8 168.4h0M156.0 167.2h0M152.7 177.2h0M166.0 162.3h0M171.3 188.2h0M169.7 188.0h0M169.8 183.8h0M172.3 193.1h0M158.9 180.6h0M175.2 189.2h0M178.5 171.9h0M177.3 183.3h0M174.3 174.4h0M171.7 159.8h0M162.4 176.3h0M153.6 175.6h0M168.8 171.3h0M161.8 188.3h0M169.7 171.0h0M154.0 184.3h0M170.3 167.4h0M163.2 177.6h0M178.1 176.2h0M160.5 171.9h0M164.4 174.6h0M168.1 190.7h0M170.4 178.0h0M173.3 180.9h0M172.6 179.0h0M160.8 186.3h0M184.7 175.8h0M166.7 181.9h0M180.9 185.0h0M163.9 184.8h0M167.9 166.6h0M169.8 166.2h0M177.8 184.2h0M162.7 180.6h0M157.5 182.9h0M172.0 188.4h0M169.0 181.1h0M159.9 193.7h0M160.2 184.5h0M157.3 169.9h0M159.5 166.5h0M162.8 174.2h0M161.0 181.4h0M170.8 186.2h0M180.5 190.4h0M176.8 190.4h0M165.6 164.0h0M169.6 185.5h0M158.2 179.6h0M167.2 188.5h0M166.0 188.4h0M166.5 164.2h0M168.8 169.8h0M159.7 176.2h0M157.9 168.4h0M158.5 167.7h0M171.2 163.3h0M172.6 178.1h0M165.6 190.1h0M168.5 172.0h0M181.8 177.9h0M163.4 166.3h0M167.5 176.8h0M172.0 190.5h0M180.4 181.5h0M171.0 176.2h0M167.5 191.7h0M166.4 181.5h0M157.8 166.8h0M151.4 176.3h0M172.3 169.4h0M167.6 191.2h0M171.4 187.6h0M175.0 182.7h0M170.0 165.6h0M157.9 164.0h0M163.1 169.6h0M165.7 190.3h0M169.0 184.5h0M165.1 163.8h0M169.3 170.4h0M164.3 189.5h0M164.3 184.4h0M169.4 168.3h0M169.1 171.4h0M168.6 181.4h0M166.2 188.0h0M167.1 174.6h0M165.6 172.8h0M159.9 185.0h0M171.0 164.3h0M163.4 168.2h0M164.6 179.1h0M156.7 178.2h0M169.4 188.3h0M161.4 181.9h0M174.2 184.7h0M156.4 176.9h0M177.3 183.5h0M177.1 178.6h0M179.6 174.7h0M176.4 189.9h0M162.1 189.0h0M173.9 171.3h0M168.2 178.8h0M157.2 172.6h0M159.0 178.0h0M158.1 172.3h0M162.9 171.7h0M156.2 178.2h0M172.4 173.8h0M163.3 173.3h0M168.6 180.7h0M156.9 172.2h0M172.8 180.2h0M166.4 184.8h0M174.0 172.7h0M171.9 180.0h0M166.1 179.2h0M171.0 180.0h0M176.5 169.8h0M177.1 182.0h0M155.0 172.6h0M154.2 181.3h0M174.7 170.3h0M179.6 182.2h0M180.6 179.4h0M168.5 174.7h0M170.2 185.9h0M166.1 178.3h0M175.9 171.9h0M160.1 194.1h0M169.1 187.8h0M173.1 165.3h0M171.3 164.1h0M170.3 177.9h0M167.9 174.2h0M157.1 170.4h0M170.1 190.9h0M167.0 172.7h0M154.4 173.2h0M156.0 184.2h0M163.1 175.6h0M171.8 185.6h0M179.6 171.9h0M157.3 188.6h0M179.3 171.7h0M169.6 162.7h0M160.0 168.0h0M163.9 193.5h0M163.4 166.5h0M160.3 185.8h0M174.4 173.4h0M162.8 183.2h0M171.8 171.6h0M172.1 179.7h0M170.6 167.4h0M156.7 177.9h0M155.6 169.1h0M163.3 174.4h0M180.5 176.4h0M157.9 168.9h0M181.7 172.6h0M166.5 176.2h0M155.1 182.2h0M177.8 171.6h0M167.0 175.1h0M163.9 168.3h0M173.7 173.9h0M169.8 186.0h0M167.8 180.0h0M155.4 168.6h0M163.9 182.4h0M175.7 192.1h0M166.2 183.9h0M177.3 180.9h0M174.8 163.2h0M174.4 185.8h0M179.8 180.4h0M159.4 175.1h0M166.4 184.7h0M174.9 189.9h0M157.1 176.7h0M156.7 184.4h0M159.6 184.7h0M159.7 165.7h0M172.3 187.8h0M157.4 178.7h0M178.4 171.1h0M156.1 191.8h0M166.1 169.2h0M161.9 183.3h0M167.6 191.3h0M161.4 182.8h0M171.8 180.5h0M164.7 188.1h0M163.6 187.2h0M169.0 173.8h0M173.5 168.5h0M167.9 167.2h0M163.1 178.1h0M174.9 182.1h0M163.3 168.6h0M160.6 177.9h0M171.1 166.2h0M152.7 184.0h0M163.3 188.4h0M167.2 175.3h0M161.4 177.7h0M168.2 175.6h0M182.2 180.4h0M158.7 179.5h0M172.3 181.9h0M163.5 174.4h0M160.8 170.8h0M162.4 180.8h0M162.1 190.2h0M167.7 175.9h0M165.3 189.1h0M155.3 180.6h0M181.5 185.9h0M160.1 179.8h0M164.1 198.2h0M161.5 177.1h0M163.5 169.2h0M145.8 177.3h0M168.6 176.0h0M168.4 184.2h0M169.7 167.3h0M174.5 184.9h0M170.3 179.1h0M165.5 175.2h0M168.0 185.3h0M162.1 184.6h0M162.7 183.1h0M164.6 184.9h0M177.0 180.5h0M162.6 176.0h0M169.2 175.6h0M171.3 181.0h0M170.9 175.2h0M159.8 173.9h0M167.9 173.6h0M169.7 164.8h0M161.5 177.9h0M154.6 174.8h0M156.6 178.5h0M164.1 184.1h0M160.5 167.8h0M162.3 179.9h0M166.1 180.2h0M172.8 176.6h0M164.3 173.2h0M162.0 186.2h0M167.7 161.0h0M172.7 165.3h0M163.1 185.7h0M166.3 182.9h0M170.7 181.1h0M158.0 181.6h0M161.4 162.4h0M163.8 182.8h0M166.3 179.1h0M175.9 180.9h0M171.0 181.3h0M175.4 176.5h0M172.6 191.6h0M163.3 186.3h0M157.5 181.3h0M170.0 173.3h0M154.9 179.4h0M163.6 180.4h0M167.3 184.8h0M174.9 182.1h0M156.5 183.8h0M167.9 180.1h0M175.1 181.0h0M163.5 182.3h0M156.1 185.8h0M166.0 190.8h0M169.7 181.8h0M166.8 171.0h0M165.2 181.2h0M171.6 182.2h0M169.8 183.9h0M162.5 181.3h0M164.4 170.6h0M156.7 184.9h0M174.3 189.0h0M160.6 189.6h0M175.0 174.0h0M168.6 191.0h0M166.3 187.4h0M162.0 176.9h0M171.0 178.1h0M166.5 179.9h0M159.6 189.6h0M164.9 177.0h0M163.1 179.7h0M160.2 185.2h0M163.7 184.7h0M160.5 172.2h0M160.2 180.8h0M157.9 185.1h0M163.8 185.4h0M163.4 184.8h0M159.6 171.7h0M169.3 175.4h0M172.0 174.4h0M168.8 173.6h0M155.3 189.1h0M164.5 185.9h0M166.8 167.4h0M168.0 186.7h0M173.4 190.5h0M168.0 178.5h0M166.1 171.2h0M170.1 184.2h0M167.8 173.8h0M169.5 175.4h0M173.1 175.0h0M162.5 177.0h0M159.5 173.0h0M164.0 162.2h0M177.6 181.7h0M167.4 173.1h0M166.8 179.1h0M166.2 168.9h0M164.9 166.1h0M164.4 173.0h0M162.0 176.9h0M170.6 187.6h0M165.8 171.7h0M174.5 169.4h0M162.3 177.6h0M161.2 188.3h0M168.0 186.5h0M163.8 185.1h0M164.7 178.1h0M167.4 181.8h0M169.0 177.6h0M156.6 176.9h0M149.5 177.1h0M160.7 184.7h0M149.3 192.9h0M163.5 168.0h0M168.1 182.4h0M168.1 194.1h0M160.5 181.1h0M166.4 174.3h0M167.3 187.7h0M160.4 182.1h0M171.6 183.5h0M155.9 181.0h0M163.2 187.5h0M164.8 192.6h0M158.1 182.5h0M160.3 191.3h0M174.9 172.6h0M170.0 178.7h0M155.8 171.8h0M166.1 182.6h0M163.3 181.1h0M167.4 181.0h0M158.4 180.0h0M168.7 168.7h0M174.8 189.1h0M166.5 193.5h0M160.7 172.5h0M161.8 174.0h0M176.6 179.4h0M165.2 181.5h0M175.1 180.2h0M163.3 180.9h0M173.1 177.6h0M174.0 181.1h0M164.5 182.4h0M177.4 177.3h0M173.8 182.9h0M166.5 179.4h0M170.5 183.3h0M167.8 183.6h0M160.4 174.5h0M159.5 176.6h0M164.3 176.5h0M168.7 172.5h0M164.1 185.0h0M175.6 179.4h0M172.7 188.5h0M159.5 180.7h0M159.3 176.4h0M168.0 170.3h0M168.7 178.1h0M164.1 182.7h0M160.6 167.3h0M165.7 174.1h0M164.3 171.4h0M159.9 171.9h0M157.9 173.4h0M160.8 179.2h0M184.4 174.7h0M156.0 183.0h0M158.1 172.8h0M163.4 179.2h0M165.9 180.6h0M164.8 186.6h0M170.5 175.2h0M164.2 169.6h0M169.4 177.5h0M176.8 174.3h0M174.5 172.6h0M155.4 173.0h0M167.5 185.9h0M160.2 185.5h0M162.3 175.4h0M163.6 190.2h0M166.5 181.0h0M156.5 180.0h0M167.1 190.1h0M160.3 174.0h0M160.0 174.4h0M169.4 173.4h0M173.0 179.1h0M160.0 174.4h0M157.3 168.9h0M172.2 184.9h0M159.6 175.8h0M174.9 173.9h0M166.7 182.3h0M164.2 177.5h0M163.3 179.6h0M156.1 179.1h0M166.4 169.7h0M168.0 172.4h0M149.8 165.5h0M165.9 182.6h0M162.8 168.8h0M164.3 185.0h0M165.0 168.7h0M168.1 177.4h0M164.2 179.2h0M168.6 178.0h0M159.6 178.0h0M161.7 174.2h0M149.3 161.2h0M152.5 165.2h0M155.5 132.5h0M169.2 156.1h0M150.5 147.8h0M150.7 149.9h0M159.1 164.0h0M159.7 166.1h0M152.9 168.5h0M159.5 166.9h0M166.1 159.0h0M171.8 170.4h0M156.7 179.8h0M175.6 147.6h0M140.0 156.5h0M164.7 171.8h0M166.5 162.5h0M169.3 169.6h0M156.5 164.4h0M170.2 156.4h0M154.8 154.5h0M173.8 169.2h0M168.2 159.1h0M160.3 174.6h0M158.0 174.3h0M160.4 162.5h0M165.6 171.1h0M176.5 159.4h0M175.9 155.3h0M152.8 141.0h0M168.3 177.2h0M149.7 159.6h0M158.3 147.6h0M161.3 165.7h0M156.1 152.8h0M161.9 168.6h0M147.8 161.8h0M165.7 135.5h0M163.6 179.6h0M149.0 175.6h0M158.0 168.7h0M159.2 151.7h0M142.5 142.3h0M133.7 172.0h0M131.9 138.4h0M145.7 153.0h0M139.7 127.9h0M135.5 147.2h0M103.0 192.9h0M140.0 162.0h0M156.9 189.5h0M160.5 139.8h0M142.0 141.9h0M131.5 165.5h0M164.5 130.6h0M154.8 165.4h0M112.9 226.0h0M134.3 185.1h0M135.7 165.3h0M157.7 157.7h0M137.3 186.5h0M162.9 215.8h0M144.2 113.9h0M103.6 169.2h0M113.7 122.0h0M163.9 117.4h0M99.0 160.6h0M165.1 176.0h0M110.3 174.8h0M113.4 163.7h0M65.3 125.8h0M145.5 152.5h0M146.2 62.6h0M169.4 177.2h0M179.2 137.3h0M146.7 140.3h0M145.7 142.4h0M229.6 209.6h0M139.4 161.8h0M192.3 141.9h0M136.9 150.0h0M146.6 228.1h0M124.1 121.9h0M107.8 144.3h0M99.0 121.9h0"/>
<path id="p_luad_T" d="M182.7 188.4h0M183.1 183.9h0M203.2 183.5h0M203.5 189.3h0M203.1 176.4h0M192.2 163.3h0M206.4 168.8h0M204.0 171.4h0M199.8 171.9h0M189.1 185.5h0M211.5 182.7h0M184.4 183.0h0M199.4 177.6h0M207.7 188.7h0M184.8 175.3h0M203.3 189.7h0M197.5 175.3h0M205.9 164.1h0M205.5 185.9h0M193.7 175.2h0M196.6 178.0h0M193.4 184.2h0M179.1 178.1h0M187.0 181.8h0M190.1 183.4h0M187.5 177.9h0M199.8 188.2h0M187.8 177.7h0M192.4 179.4h0M207.5 173.9h0M188.5 184.5h0M208.7 170.3h0M195.3 174.7h0M206.0 172.8h0M211.3 173.1h0M203.0 171.1h0M182.2 180.4h0M190.0 165.4h0M203.0 190.2h0M202.4 176.1h0M199.2 174.1h0M184.0 179.7h0M201.9 163.6h0M188.0 169.1h0M204.8 181.4h0M191.4 190.4h0M204.6 181.0h0M188.9 169.1h0M197.1 176.9h0M204.2 188.5h0M209.6 189.7h0M209.2 183.4h0M190.4 177.5h0M202.4 177.0h0M207.7 174.2h0M192.4 171.9h0M190.6 187.8h0M206.5 168.3h0M207.4 179.4h0M188.0 178.5h0M186.3 172.4h0M209.5 177.3h0M188.6 189.1h0M210.6 176.5h0M185.3 187.2h0M206.2 175.1h0M185.8 171.8h0M192.3 185.7h0M184.8 174.7h0M193.4 175.6h0M194.6 179.2h0M207.0 189.8h0M210.0 180.1h0M186.0 176.2h0M197.4 177.7h0M201.4 182.4h0M194.3 191.5h0M191.3 176.3h0M196.9 179.8h0M181.5 183.0h0M204.6 169.4h0M191.7 179.9h0M199.5 171.2h0M210.2 171.8h0M206.4 170.9h0M190.7 182.9h0M193.9 165.1h0M189.5 185.1h0M197.3 172.3h0M189.5 169.3h0M192.6 170.4h0M195.0 192.2h0M190.0 191.2h0M209.1 171.0h0M200.7 164.7h0M190.6 186.8h0M193.9 168.5h0M202.3 181.5h0M193.1 186.7h0M185.1 184.4h0M193.6 177.0h0M194.8 174.7h0M209.5 184.6h0M190.7 180.3h0M199.2 188.8h0M205.5 176.5h0M201.7 179.7h0M189.7 191.8h0M195.7 188.3h0M197.8 179.5h0M194.4 190.9h0M201.0 191.1h0M191.8 174.7h0M183.4 173.3h0M193.8 173.6h0M203.7 177.8h0M187.0 186.4h0M206.1 163.9h0M189.5 161.9h0M199.1 163.2h0M190.8 165.8h0M201.1 179.5h0M199.4 176.7h0M193.0 175.4h0M207.5 175.9h0M198.7 176.9h0M202.0 179.8h0M196.0 180.2h0M187.6 179.6h0M202.4 169.5h0M200.0 183.0h0M190.2 173.8h0M199.0 191.7h0M188.4 183.7h0M193.3 185.8h0M207.9 189.2h0M206.8 168.9h0M191.5 169.9h0M200.1 176.0h0M199.4 184.3h0M187.8 167.0h0M188.5 175.1h0M200.8 174.2h0M198.7 183.9h0M197.7 189.1h0M184.0 186.4h0M211.6 177.2h0M200.7 194.7h0M180.8 177.5h0M193.6 191.9h0M209.1 181.4h0M202.0 168.9h0M190.0 180.5h0M187.5 187.7h0M201.0 174.1h0M191.3 171.6h0M207.8 174.4h0M201.2 186.2h0M196.6 175.6h0M203.2 186.0h0M197.8 164.8h0M185.8 181.4h0M206.7 170.0h0M193.4 181.3h0M201.3 165.5h0M191.4 184.7h0M203.3 181.8h0M186.2 169.5h0M197.5 188.0h0M197.2 168.5h0M197.8 170.5h0M190.1 183.9h0M202.8 191.0h0M199.9 169.4h0M207.0 172.2h0M211.2 172.0h0M197.7 168.0h0M200.1 190.1h0M198.3 175.7h0M188.6 183.7h0M183.6 178.2h0M195.8 191.3h0M196.8 166.6h0M205.3 176.4h0M186.6 188.4h0M198.2 183.1h0M185.4 179.5h0M199.2 185.3h0M197.0 179.0h0M183.6 180.1h0M183.0 182.3h0M211.4 179.1h0M201.0 176.7h0M208.9 177.4h0M200.3 170.1h0M193.7 185.2h0M189.4 170.2h0M208.3 171.9h0M200.8 164.7h0M204.8 176.6h0M195.1 163.5h0M191.0 188.3h0M194.4 187.6h0M197.8 194.1h0M204.9 176.5h0M192.5 180.8h0M187.8 172.5h0M197.1 167.2h0M208.5 181.1h0M194.4 189.3h0M198.2 176.6h0M189.7 180.3h0M194.7 183.0h0M188.6 168.1h0M197.1 181.6h0M196.9 165.4h0M193.0 173.0h0M207.8 168.9h0M199.9 188.7h0M204.4 187.9h0M190.3 162.2h0M180.9 172.3h0M200.1 176.0h0M208.2 173.1h0M208.2 171.2h0M205.6 180.1h0M195.7 173.0h0M200.1 165.6h0M189.9 166.8h0M196.5 183.4h0M185.2 184.9h0M184.2 180.8h0M204.3 186.5h0M187.1 168.9h0M198.6 188.2h0M198.6 193.3h0M190.6 170.4h0M190.9 184.3h0M200.9 169.5h0M204.9 178.5h0M209.4 174.1h0M191.8 165.3h0M191.7 188.3h0M182.7 186.4h0M204.8 170.4h0M205.8 174.9h0M193.8 186.5h0M189.3 167.0h0M184.8 179.8h0M194.9 170.2h0M196.5 172.3h0M189.1 181.5h0M204.1 188.1h0M199.7 181.5h0M202.5 166.8h0M183.7 181.6h0M200.3 171.1h0M198.7 173.9h0M194.5 165.9h0M200.9 186.7h0M209.6 177.3h0M183.0 185.4h0M201.6 177.0h0M208.9 179.1h0M196.7 172.1h0M204.2 170.9h0M199.0 173.6h0M190.6 170.3h0M205.3 177.9h0M196.5 183.2h0M191.6 179.5h0M197.3 187.2h0M199.0 170.8h0M184.1 173.5h0M197.3 172.4h0M203.4 181.5h0M212.8 182.7h0M204.5 182.6h0M199.6 174.0h0M190.7 176.9h0M209.0 183.1h0M202.0 180.1h0M195.7 172.5h0M201.6 189.1h0M192.7 171.6h0M197.4 181.1h0M204.9 172.0h0M193.1 183.1h0M197.0 169.4h0M193.1 186.0h0M206.5 178.5h0M199.1 182.4h0M200.3 165.8h0M192.7 183.0h0M191.3 162.5h0M200.5 187.9h0M193.8 178.9h0M182.2 173.5h0M196.7 170.8h0M197.3 177.6h0M186.4 188.6h0M194.1 185.4h0M198.2 186.6h0M190.6 163.5h0M188.2 163.0h0M195.6 182.7h0M200.4 191.1h0M206.7 185.3h0M207.7 188.6h0M196.9 171.0h0M197.1 175.5h0M186.5 179.7h0M197.6 167.5h0M188.3 176.5h0M185.6 170.2h0M197.8 176.5h0M182.4 181.3h0M186.3 176.2h0M199.0 177.9h0M203.3 177.5h0M186.4 169.6h0M189.1 178.1h0M203.5 178.7h0M188.2 180.2h0M194.1 186.7h0M191.1 179.7h0M197.0 185.2h0M208.6 177.0h0M197.4 188.6h0M193.5 173.6h0M209.5 180.3h0M189.6 182.2h0M206.6 177.6h0M188.8 184.5h0M208.1 185.7h0M190.9 167.2h0M202.6 170.2h0M205.7 180.5h0M190.6 173.0h0M206.0 183.5h0M199.4 167.4h0M188.4 171.7h0M198.2 174.2h0M205.6 174.9h0M196.2 174.5h0M200.5 165.2h0M191.0 180.3h0M192.2 187.0h0M205.9 173.9h0M195.9 178.8h0M205.9 169.0h0M190.4 179.4h0M208.1 179.7h0M184.1 169.8h0M196.3 169.9h0M203.0 179.0h0M199.5 177.8h0M192.2 184.4h0M184.2 181.2h0M195.9 168.1h0M189.8 174.4h0M184.7 180.0h0M211.5 174.8h0M202.7 184.8h0M194.9 171.5h0M204.9 178.8h0M196.9 172.8h0M193.7 167.1h0M185.8 184.4h0M192.6 180.1h0M191.5 175.8h0M207.7 170.1h0M201.8 186.1h0M190.3 183.1h0M181.4 181.8h0M191.2 184.5h0M196.8 188.1h0M183.6 179.1h0M188.7 190.4h0M187.4 172.5h0M194.7 178.7h0M201.3 169.3h0M202.7 167.6h0M186.1 175.1h0M199.5 174.9h0M185.2 177.4h0M188.1 188.4h0M186.4 173.1h0M202.1 170.2h0M181.7 173.8h0M198.5 171.7h0M191.7 183.8h0M191.8 170.6h0M188.5 174.7h0M189.6 168.4h0M182.0 182.9h0M203.4 185.5h0M209.4 179.3h0M211.5 187.1h0M209.0 184.0h0M185.0 183.6h0M184.6 189.1h0M191.4 172.9h0M202.0 182.6h0M196.9 175.4h0M197.7 181.8h0M196.5 172.3h0M197.1 176.0h0M202.5 175.8h0M196.7 190.6h0M201.6 173.3h0M206.0 176.7h0M194.4 183.0h0M190.9 178.6h0M202.3 183.6h0M196.0 175.9h0M198.6 186.5h0M188.8 184.1h0M200.8 187.5h0M192.6 186.1h0M194.1 180.9h0M196.8 163.9h0M198.7 181.5h0M204.0 175.1h0M192.4 183.4h0M197.0 185.5h0M207.3 177.6h0M198.1 174.6h0M187.4 179.0h0M203.3 185.6h0M199.0 190.5h0M196.1 178.9h0M196.0 176.3h0M197.5 174.8h0M196.7 180.8h0M199.8 172.6h0M202.0 174.0h0M201.8 179.5h0M188.1 172.7h0M204.6 175.1h0M195.4 176.4h0M199.8 182.6h0M197.4 189.5h0M195.9 176.2h0M198.1 180.1h0M207.6 193.6h0M197.2 178.1h0M202.8 178.4h0M204.1 172.5h0M204.1 165.6h0M202.2 183.3h0M213.5 173.5h0M203.2 183.1h0M193.7 180.7h0M194.3 171.9h0M190.4 177.7h0M193.0 166.2h0M200.8 168.4h0M203.1 180.6h0M194.3 169.2h0M193.8 170.6h0M196.9 176.7h0M213.5 166.0h0M195.6 182.5h0M205.1 187.4h0M193.3 184.1h0M182.2 177.6h0M204.1 183.5h0M190.8 173.8h0M186.4 174.3h0M191.0 180.7h0M194.6 182.8h0M198.4 176.9h0M209.4 186.3h0M191.3 187.7h0M203.5 187.4h0M201.7 167.6h0M196.8 163.6h0M190.8 174.6h0M206.5 179.2h0M200.3 183.6h0M193.7 186.0h0M200.3 172.9h0M195.6 177.4h0M202.6 188.0h0M197.2 177.5h0M209.6 199.2h0M209.7 180.2h0M196.9 183.3h0M200.8 173.9h0M207.0 195.1h0M194.0 174.0h0M196.0 170.9h0M203.8 169.8h0M203.0 181.5h0M203.4 169.5h0M199.9 180.7h0M204.3 181.4h0M195.6 186.2h0M207.2 187.6h0M194.6 182.3h0M193.6 177.9h0M203.5 169.8h0M215.5 186.8h0M194.5 175.3h0M198.6 178.1h0M191.8 178.1h0M189.8 175.0h0M209.7 178.6h0M196.7 189.0h0M200.9 183.0h0M195.6 186.0h0M197.1 184.6h0M202.9 190.0h0M205.0 178.9h0M192.7 177.0h0M194.9 188.8h0M196.4 164.3h0M201.3 184.2h0M193.5 183.6h0M191.1 180.5h0M198.1 181.0h0M201.6 174.6h0M203.9 175.7h0M199.7 188.1h0M193.5 179.4h0M208.6 187.1h0M194.9 175.0h0M202.3 174.8h0M199.5 170.2h0M202.8 168.6h0M199.8 183.5h0M195.0 168.8h0M191.4 166.6h0M209.8 166.5h0M191.3 181.1h0M199.3 185.6h0M206.9 181.9h0M198.6 175.3h0M197.9 185.1h0M202.7 183.0h0M188.9 174.0h0M194.9 175.4h0M192.6 183.4h0M205.4 190.7h0M195.8 178.3h0M199.6 178.9h0M194.0 184.1h0M186.8 175.8h0M187.5 183.0h0M190.6 171.5h0M198.9 172.2h0M200.5 176.4h0M210.9 171.0h0M194.1 182.7h0M199.7 181.9h0M197.3 185.1h0M201.1 187.6h0M190.8 180.6h0M197.7 181.6h0M193.3 184.3h0M191.0 184.8h0M202.4 167.3h0M201.5 166.4h0M202.5 168.6h0M198.6 177.2h0M189.2 166.9h0M202.1 175.8h0M205.6 178.7h0M215.8 180.1h0M209.8 181.3h0M199.6 182.5h0M194.5 174.8h0M209.1 177.8h0M192.1 182.4h0M194.0 179.6h0M206.0 187.5h0M210.2 186.7h0M203.2 182.7h0M201.0 178.9h0M213.0 178.7h0M209.4 178.4h0M206.6 160.7h0M200.2 175.2h0M208.8 189.1h0M195.5 178.8h0M205.0 181.3h0M200.0 185.7h0M191.4 189.9h0M202.2 160.6h0M193.9 178.9h0M213.3 179.4h0M190.4 188.4h0M202.0 179.5h0M206.0 177.1h0M198.9 186.2h0M202.3 186.0h0M197.4 190.7h0M191.1 170.7h0M202.8 177.7h0M201.0 180.0h0M198.8 172.8h0M201.6 188.3h0M194.7 192.1h0M209.3 174.3h0M204.7 172.7h0M199.1 172.7h0M196.6 167.7h0M198.9 173.0h0M194.4 167.0h0M200.1 192.2h0M197.6 178.8h0M192.9 176.7h0M194.6 169.6h0M194.4 176.4h0M201.7 177.6h0M201.5 188.2h0M205.4 177.0h0M189.0 178.5h0M188.7 184.9h0M189.3 199.2h0M184.9 182.1h0M179.4 168.8h0M185.1 178.4h0M194.3 151.6h0M198.3 188.8h0M200.5 183.6h0M186.7 181.2h0M199.8 169.0h0M194.1 180.8h0M186.5 191.1h0M181.3 168.9h0M187.3 171.7h0M200.2 163.4h0M175.5 179.2h0M194.7 167.1h0M199.8 161.3h0M197.3 169.5h0M183.2 191.0h0M187.0 171.4h0M189.8 191.7h0M188.2 170.4h0M189.5 166.6h0M181.1 172.0h0M193.5 172.6h0M192.0 185.7h0M202.2 163.0h0M187.0 167.2h0M193.4 178.4h0M187.4 172.2h0M178.5 162.9h0M196.4 174.8h0M187.7 179.0h0M194.8 191.5h0M185.8 181.6h0M172.2 173.3h0M180.8 171.4h0M198.2 177.3h0M188.0 177.0h0M185.3 174.7h0M181.4 172.1h0M183.4 175.0h0M170.0 176.9h0M187.1 179.7h0M177.1 169.0h0M194.8 170.7h0M191.8 171.0h0M176.3 164.8h0M181.7 172.6h0M185.9 142.9h0M158.8 171.0h0M132.2 168.8h0M139.2 173.0h0M132.8 158.5h0M119.4 146.5h0M142.1 164.1h0M146.2 178.2h0M119.8 138.1h0M98.0 187.8h0M182.7 165.7h0M152.2 138.1h0M140.3 191.0h0M144.8 122.5h0M144.3 156.8h0M158.0 196.8h0M138.7 169.1h0M160.8 136.0h0M132.5 116.9h0M143.6 174.6h0M146.0 168.1h0M120.0 137.0h0M117.3 184.6h0M154.1 153.7h0M158.0 168.1h0M141.8 134.6h0M172.4 165.4h0M138.5 153.4h0M150.5 163.2h0"/>
<path id="p_kirp_T" d="M220.4 149.1h0M217.6 156.5h0M235.4 151.5h0M225.6 145.4h0M229.4 153.3h0M225.9 151.0h0M232.2 155.2h0M230.6 148.9h0M221.5 147.9h0M218.6 157.4h0M217.8 162.7h0M221.7 153.8h0M230.6 152.1h0M230.3 146.1h0M226.0 152.5h0M228.5 145.7h0M230.2 148.3h0M219.9 151.0h0M224.1 153.0h0M224.5 147.5h0M225.3 154.4h0M230.3 147.0h0M229.8 159.4h0M221.9 152.6h0M218.2 155.5h0M226.6 149.7h0M229.9 148.7h0M224.0 160.6h0M217.8 157.3h0M221.2 160.5h0M224.6 161.8h0M226.9 152.2h0M218.8 150.9h0M224.2 147.7h0M233.3 156.5h0M227.8 148.9h0M226.3 150.0h0M230.1 158.7h0M227.8 156.2h0M220.5 154.5h0M218.1 152.4h0M225.1 155.9h0M229.2 149.4h0M226.9 149.0h0M220.2 158.9h0M235.3 152.4h0M227.4 155.2h0M227.1 156.2h0M218.1 151.6h0M221.6 153.5h0M232.3 149.1h0M218.4 154.3h0M220.6 160.1h0M221.0 155.1h0M225.2 147.1h0M223.2 149.7h0M226.7 151.6h0M224.8 154.8h0M221.7 153.4h0M226.0 151.7h0M232.1 152.7h0M220.8 156.5h0M221.9 151.1h0M227.3 146.6h0M231.1 149.8h0M233.4 152.5h0M233.6 147.6h0M227.3 152.6h0M225.5 151.4h0M227.4 152.8h0M232.1 152.9h0M224.9 155.5h0M227.4 147.5h0M225.3 157.0h0M232.1 150.2h0M220.1 155.9h0M222.1 158.8h0M227.0 153.1h0M232.4 150.0h0M224.3 149.6h0M224.8 157.9h0M225.5 157.8h0M225.1 153.7h0M233.3 153.1h0M223.1 149.0h0M217.7 153.5h0M228.6 156.1h0M222.4 152.5h0M225.3 153.7h0M224.8 155.3h0M216.7 158.5h0M228.5 147.4h0M235.5 149.5h0M228.4 152.2h0M225.5 155.2h0M228.0 157.8h0M224.4 154.3h0M223.5 148.6h0M220.0 156.6h0M223.5 158.6h0M219.4 151.6h0M225.4 152.1h0M231.3 148.7h0M220.1 151.1h0M232.3 146.3h0M233.2 150.9h0M225.5 149.1h0M231.5 154.0h0M227.2 155.4h0M233.7 148.4h0M232.8 147.6h0M224.3 156.9h0M227.1 146.4h0M221.7 156.0h0M230.5 155.1h0M235.3 152.7h0M221.9 160.3h0M226.0 157.3h0M221.1 153.8h0M217.6 151.3h0M235.0 147.4h0M218.8 158.8h0M224.3 148.5h0M224.2 148.4h0M222.2 161.4h0M231.2 152.2h0M224.0 152.7h0M229.7 146.2h0M220.6 159.4h0M231.9 155.9h0M230.5 153.7h0M226.5 157.5h0M226.7 152.7h0M229.0 148.0h0M233.9 146.1h0M227.6 154.9h0M222.9 158.6h0M221.8 150.8h0M232.2 155.9h0M234.6 152.6h0M233.8 152.8h0M218.1 158.2h0M224.4 153.1h0M226.2 157.2h0M225.2 149.0h0M217.9 155.9h0M224.8 155.5h0M228.0 155.4h0M224.8 151.3h0M221.8 158.9h0M226.2 152.8h0M231.0 149.7h0M222.1 151.1h0M224.2 146.8h0M224.5 154.4h0M226.6 146.4h0M225.6 158.4h0M230.2 154.3h0M225.1 152.5h0M221.9 150.7h0M223.8 161.5h0M221.0 149.8h0M228.3 150.7h0M226.0 155.7h0M223.5 149.1h0M218.9 157.5h0M223.3 160.2h0M234.7 147.3h0M218.2 150.0h0M229.7 151.8h0M224.3 149.7h0M226.7 150.2h0M221.6 155.5h0M230.8 152.5h0M224.9 147.9h0M219.8 160.1h0M226.5 149.5h0M219.9 160.6h0M220.8 157.6h0M224.1 150.1h0M227.7 159.4h0M230.6 146.0h0M227.5 157.2h0M229.8 146.2h0M225.3 147.1h0M226.3 158.0h0M222.1 147.6h0M216.6 153.4h0M223.2 158.8h0M218.0 155.2h0M231.0 155.1h0M231.7 150.6h0M231.3 149.6h0M222.8 150.1h0M224.6 146.5h0M224.2 157.5h0M231.1 150.8h0M231.6 151.1h0M225.7 157.8h0M226.8 154.6h0M224.4 153.8h0M226.8 156.8h0M229.1 149.6h0M221.8 159.9h0M224.3 159.2h0M221.8 161.5h0M227.9 156.3h0M233.2 153.9h0M219.8 151.1h0M224.8 157.7h0M224.2 155.3h0M232.3 145.7h0M224.4 147.6h0M227.8 151.3h0M222.7 152.2h0M224.9 146.2h0M224.1 148.0h0M218.5 159.0h0M228.9 148.2h0M224.7 156.5h0M225.8 156.0h0M217.1 155.0h0M220.2 153.2h0M220.3 152.0h0M219.8 153.1h0M232.9 151.9h0M227.0 148.8h0M225.6 151.4h0M233.0 147.0h0M226.2 155.6h0M218.9 157.1h0M212.3 157.0h0M215.4 158.7h0M215.4 163.6h0M210.5 165.7h0M221.4 159.2h0M220.5 162.1h0M219.2 162.9h0M210.1 158.3h0M211.7 158.7h0M221.7 158.8h0M218.2 164.6h0M212.7 155.4h0M218.6 156.0h0M214.0 157.7h0M211.6 161.1h0M221.1 158.9h0M216.2 160.3h0M217.7 159.6h0M219.2 161.3h0M218.8 164.2h0M217.9 153.7h0M216.8 159.6h0M216.8 159.7h0M212.2 163.6h0M224.5 157.9h0M216.6 155.2h0M218.7 158.2h0M213.8 160.5h0M213.6 163.9h0M223.1 162.4h0M217.1 166.4h0M211.5 161.4h0M216.2 155.8h0M222.3 160.7h0M213.7 161.6h0M224.4 157.7h0M214.0 160.4h0M210.3 162.6h0M211.9 162.3h0M218.3 164.7h0M223.1 162.2h0M218.2 158.0h0M222.1 156.1h0M209.0 161.2h0M222.4 156.3h0M213.9 163.3h0M215.3 162.0h0M215.6 161.9h0M222.6 160.1h0M215.0 164.3h0M210.6 165.5h0M213.2 156.1h0M216.2 164.2h0M211.9 166.1h0M215.8 156.4h0M211.2 162.3h0M209.9 158.8h0M210.8 165.4h0M221.2 164.1h0M213.3 163.7h0M211.2 160.7h0M217.9 158.0h0M213.0 165.5h0M220.1 160.9h0M223.4 158.3h0M217.9 159.4h0M213.4 159.2h0M217.5 157.7h0M217.3 156.9h0M210.2 160.6h0M219.5 163.2h0M215.3 160.7h0M221.4 160.2h0M215.8 160.1h0M220.6 156.7h0M211.0 165.2h0M211.6 162.4h0M217.2 163.2h0M123.7 146.5h0M126.1 157.3h0M126.2 165.6h0M130.9 216.7h0"/>
<path id="p_kirc_T" d="M236.2 188.4h0M282.1 205.5h0M239.7 191.3h0M263.4 204.1h0M260.5 191.6h0M275.2 195.7h0M253.6 191.1h0M254.6 191.4h0M265.5 203.5h0M261.0 202.5h0M273.8 205.5h0M272.5 191.7h0M278.0 198.4h0M278.0 195.4h0M249.2 184.6h0M255.7 189.4h0M247.2 185.8h0M279.0 194.6h0M267.1 188.5h0M247.7 192.7h0M241.0 192.0h0M264.2 188.9h0M264.0 209.2h0M244.4 183.7h0M246.6 199.0h0M252.7 186.7h0M245.0 199.1h0M258.5 207.6h0M270.4 189.0h0M243.2 190.1h0M256.1 186.0h0M244.0 187.2h0M275.6 190.7h0M260.8 192.5h0M276.8 198.6h0M258.1 192.2h0M261.1 194.7h0M265.7 194.6h0M247.8 179.5h0M275.0 198.5h0M272.8 208.6h0M269.1 206.3h0M240.6 191.8h0M260.3 189.6h0M250.2 185.6h0M270.2 195.5h0M250.7 186.8h0M248.0 200.3h0M257.6 205.0h0M266.9 197.4h0M250.2 186.1h0M272.5 199.4h0M258.1 196.9h0M236.8 192.6h0M252.4 196.1h0M282.1 199.4h0M252.9 203.6h0M254.1 202.9h0M263.1 196.9h0M259.4 195.0h0M239.3 196.1h0M279.0 205.6h0M251.9 189.5h0M262.7 208.4h0M264.1 203.4h0M265.6 191.1h0M268.5 198.6h0M274.2 197.2h0M277.8 192.4h0M260.0 205.7h0M259.4 201.6h0M241.1 192.6h0M284.6 207.4h0M266.5 190.9h0M248.7 192.5h0M274.9 188.3h0M263.3 193.7h0M249.4 186.9h0M259.0 187.2h0M277.1 199.9h0M255.5 200.5h0M257.7 202.0h0M250.1 193.9h0M266.6 207.1h0M250.4 183.8h0M261.0 196.0h0M252.1 189.7h0M252.2 199.9h0M243.9 185.3h0M248.7 186.9h0M277.4 202.3h0M260.2 186.8h0M257.4 200.3h0M254.3 201.7h0M265.5 199.7h0M266.4 187.8h0M262.6 185.9h0M261.8 207.0h0M247.8 196.9h0M260.4 187.0h0M254.0 195.0h0M250.9 186.7h0M250.5 195.6h0M268.0 187.5h0M265.1 188.7h0M259.6 191.6h0M272.5 206.9h0M243.8 192.4h0M243.1 186.0h0M279.3 206.4h0M257.7 194.4h0M264.4 191.5h0M246.3 187.2h0M267.1 196.4h0M256.2 204.8h0M261.7 185.5h0M259.9 191.8h0M264.0 183.0h0M249.3 194.6h0M247.0 187.1h0M269.5 189.7h0M266.6 197.6h0M245.3 199.8h0M247.3 205.2h0M260.3 197.3h0M255.6 204.7h0M253.8 206.4h0M252.0 198.3h0M253.8 202.7h0M265.7 203.3h0M256.1 193.8h0M254.4 192.6h0M249.1 202.9h0M257.3 189.0h0M253.1 205.0h0M238.6 193.4h0M272.1 205.5h0M274.1 203.4h0M243.4 186.8h0M260.5 195.3h0M287.0 201.0h0M276.4 207.4h0M279.2 203.0h0M242.0 197.2h0M253.0 185.1h0M260.1 196.0h0M241.0 197.0h0M245.3 190.5h0M260.9 196.4h0M258.9 204.5h0M281.4 194.0h0M253.6 203.4h0M268.4 194.4h0M263.9 208.8h0M262.5 209.8h0M254.8 197.9h0M239.5 200.0h0M250.9 195.8h0M253.3 195.0h0M257.5 194.3h0M250.0 206.2h0M239.3 187.4h0M239.5 186.6h0M261.1 188.7h0M266.3 197.3h0M247.2 191.0h0M265.8 193.5h0M274.6 192.0h0M244.8 188.5h0M276.4 197.9h0M269.5 202.7h0M255.3 200.4h0M261.4 186.4h0M268.1 201.6h0M271.6 211.9h0M275.6 204.9h0M271.0 193.7h0M238.5 197.2h0M258.4 200.8h0M276.9 189.9h0M253.8 183.9h0M258.0 203.8h0M261.2 201.0h0M258.8 184.8h0M264.0 196.6h0M261.9 208.2h0M279.6 201.2h0M267.0 195.8h0M259.4 195.7h0M263.3 200.1h0M266.1 208.4h0M254.6 203.0h0M265.5 209.4h0M262.7 193.4h0M286.6 200.9h0M239.9 196.2h0M258.7 203.2h0M257.9 198.2h0M281.8 195.1h0M251.3 183.8h0M277.6 195.2h0M260.6 192.9h0M258.9 197.8h0M259.8 201.8h0M267.2 187.3h0M261.6 195.7h0M280.0 209.1h0M257.7 201.2h0M253.0 200.4h0M255.3 184.4h0M260.9 208.3h0M240.3 192.5h0M241.3 191.3h0M272.6 192.9h0M281.1 203.4h0M232.9 189.7h0M247.4 192.8h0M237.9 199.6h0M279.8 208.2h0M242.3 197.9h0M259.3 193.4h0M275.6 199.2h0M279.5 198.2h0M268.7 195.5h0M274.1 193.0h0M272.0 202.4h0M268.9 195.2h0M258.3 204.7h0M266.9 192.4h0M261.4 183.1h0M262.7 194.3h0M237.5 191.6h0M246.6 196.2h0M241.4 183.7h0M267.3 193.6h0M256.9 193.1h0M255.1 195.2h0M263.5 203.6h0M251.9 192.8h0M275.9 199.2h0M258.7 207.1h0M265.5 184.8h0M266.7 189.2h0M276.7 197.7h0M264.9 191.3h0M257.7 194.3h0M242.1 191.9h0M249.6 195.8h0M243.4 182.4h0M260.3 208.1h0M257.5 197.2h0M271.0 193.3h0M265.0 199.2h0M259.8 196.0h0M258.6 187.6h0M281.4 203.6h0M252.0 194.2h0M236.5 194.5h0M251.6 188.3h0M246.2 196.5h0M279.3 199.5h0M246.6 194.6h0M266.6 198.5h0M250.5 207.2h0M254.6 207.1h0M275.1 207.2h0M279.2 205.5h0M270.4 191.2h0M280.0 205.5h0M272.0 203.3h0M273.6 203.8h0M255.3 191.4h0M243.1 194.2h0M242.2 197.8h0M262.2 190.9h0M252.0 194.7h0M253.4 196.1h0M258.2 188.5h0M254.6 198.7h0M258.0 203.3h0M274.3 191.5h0M264.5 197.6h0M247.6 184.4h0M266.1 198.7h0M265.2 200.8h0M259.7 206.3h0M258.1 208.4h0M254.3 192.6h0M242.2 183.3h0M277.2 196.7h0M263.0 190.8h0M277.0 201.7h0M248.8 196.9h0M261.6 188.3h0M277.9 199.5h0M243.9 195.7h0M281.0 206.1h0M262.0 198.1h0M262.4 184.8h0M261.8 192.1h0M243.8 188.1h0M256.9 192.8h0M264.0 192.2h0M243.4 190.4h0M256.0 204.4h0M248.6 185.5h0M270.8 204.6h0M258.1 189.1h0M242.7 196.9h0M248.3 196.4h0M254.1 191.5h0M256.8 182.8h0M243.7 199.6h0M267.6 194.9h0M263.7 196.3h0M279.0 198.2h0M280.2 195.9h0M255.2 194.7h0M257.6 202.9h0M273.5 190.8h0M246.3 190.8h0M249.5 206.2h0M255.8 194.9h0M242.3 196.5h0M249.4 194.5h0M277.9 197.5h0M257.4 195.5h0M245.2 200.8h0M261.2 187.8h0M272.3 191.2h0M257.8 190.6h0M277.9 206.2h0M247.3 202.7h0M263.0 195.9h0M236.3 181.7h0M265.0 199.2h0M257.0 188.2h0M256.7 188.1h0M255.9 208.1h0M257.9 184.5h0M259.8 199.0h0M285.6 198.6h0M254.3 190.8h0M268.8 207.2h0M252.9 193.0h0M269.7 192.3h0M262.6 200.1h0M271.6 192.6h0M271.6 193.5h0M271.1 204.6h0M277.2 189.1h0M281.7 203.3h0M253.9 191.3h0M244.9 188.0h0M278.7 197.8h0M250.6 190.0h0M255.2 195.6h0M262.9 203.1h0M258.6 189.1h0M268.1 193.6h0M254.7 198.4h0M266.0 196.6h0M272.9 188.0h0M245.7 197.3h0M260.9 207.2h0M244.5 201.0h0M239.4 188.0h0M275.4 207.0h0M284.0 198.2h0M253.5 197.4h0M260.4 202.0h0M243.6 184.0h0M260.6 188.2h0M264.3 201.7h0M249.4 198.7h0M246.5 197.2h0M274.8 189.2h0M256.8 204.8h0M245.3 201.3h0M261.5 200.7h0M238.2 191.0h0M240.4 199.1h0M258.2 191.9h0M244.6 200.8h0M266.3 207.2h0M270.0 206.4h0M255.2 182.8h0M268.3 206.0h0M265.1 204.0h0M257.5 189.4h0M261.6 187.7h0M282.0 206.4h0M272.9 205.8h0M255.5 205.9h0M243.3 203.0h0M240.3 190.9h0M265.9 204.9h0M267.1 195.9h0M267.0 205.4h0M275.8 193.5h0M258.2 198.3h0M258.7 195.5h0M237.1 194.6h0M261.0 198.1h0M273.5 206.8h0M241.1 195.0h0M239.9 195.7h0M275.8 202.2h0M248.3 199.7h0M268.7 199.1h0M276.2 203.9h0M260.0 185.8h0M269.2 195.2h0M265.6 211.0h0M249.2 195.2h0M276.2 195.2h0M249.0 203.8h0M266.7 206.7h0M257.3 189.3h0M258.6 204.0h0M238.7 191.4h0M249.8 205.2h0M244.4 198.4h0M263.4 209.2h0M277.9 201.6h0M243.4 199.5h0M268.0 193.8h0M255.0 187.8h0M269.3 193.9h0M247.5 204.4h0M284.7 203.6h0M263.3 210.3h0M253.8 203.6h0M276.1 193.1h0M279.8 194.6h0M258.8 201.4h0M257.3 205.7h0M253.0 196.0h0M255.9 205.6h0M272.4 187.7h0M256.9 188.5h0M273.6 196.3h0M254.7 196.2h0M275.8 199.8h0M241.2 197.7h0M258.9 209.5h0M267.6 191.1h0M256.0 188.9h0M240.7 195.1h0M255.0 191.8h0M271.3 200.8h0M244.7 189.4h0M281.7 202.8h0M244.1 190.8h0M276.8 189.6h0M276.2 205.5h0M251.2 203.9h0M245.4 204.3h0M265.5 199.6h0M243.2 189.3h0M271.3 187.0h0M251.0 189.6h0M267.7 201.5h0M259.6 202.2h0M238.6 192.6h0M260.3 184.6h0M248.1 198.9h0M265.5 197.3h0M236.2 190.4h0M261.4 196.4h0M263.6 192.7h0M264.6 206.7h0M275.6 193.8h0M244.1 195.7h0M278.0 197.0h0M244.8 198.3h0M265.5 187.6h0M260.0 187.7h0M258.7 198.2h0M267.9 200.3h0M263.8 202.5h0M246.5 198.3h0M269.9 195.1h0M238.1 189.1h0M267.8 195.7h0M263.9 193.9h0M279.9 194.0h0M243.9 187.8h0M251.3 187.5h0M256.6 192.3h0M266.8 196.7h0M271.8 191.3h0M244.5 186.1h0M257.7 194.5h0M247.1 189.0h0M255.3 187.5h0M272.5 189.5h0M266.7 198.3h0M250.8 188.5h0M253.9 182.8h0M271.9 204.9h0M270.5 208.6h0M258.6 187.5h0M252.4 198.9h0M260.0 193.1h0M272.1 198.6h0M258.9 187.7h0M242.3 188.1h0M280.9 208.9h0M267.9 191.1h0M256.4 185.7h0M259.6 200.3h0M269.3 191.9h0M271.2 188.4h0M266.0 193.2h0M253.4 196.9h0M259.8 192.8h0M258.9 195.5h0M257.4 200.5h0M260.5 199.4h0M257.4 199.6h0M274.3 199.9h0M276.9 205.2h0M255.9 183.6h0M278.1 195.6h0M266.3 195.2h0M277.9 188.3h0M249.3 202.8h0M259.7 209.5h0M246.2 197.1h0M255.3 189.1h0M280.5 193.6h0M235.4 193.0h0M270.5 194.4h0M276.2 191.0h0M245.6 197.7h0M263.6 199.5h0M249.7 186.2h0M245.1 197.7h0M278.0 194.2h0M236.7 190.3h0M250.9 192.1h0M246.6 186.1h0M253.0 200.8h0M261.9 209.5h0M253.6 193.3h0M262.0 197.6h0M247.2 187.6h0M244.5 189.3h0M268.9 196.0h0M278.7 203.3h0M258.3 202.2h0M258.7 202.9h0M276.3 195.7h0M232.0 190.0h0M274.3 197.6h0M244.0 190.5h0M260.3 198.9h0M284.1 208.1h0M249.3 186.0h0M275.6 195.9h0M244.0 193.9h0M261.8 196.1h0M242.6 197.4h0M268.9 198.5h0M265.7 195.4h0M236.1 194.8h0M249.8 199.7h0M279.1 200.5h0M240.6 195.2h0M267.0 207.3h0M245.7 200.6h0M255.1 193.8h0M279.3 197.3h0M261.8 194.8h0M247.6 196.8h0M278.3 195.1h0M246.6 184.9h0M257.2 206.1h0M263.8 206.9h0M279.8 205.3h0M264.7 209.9h0M266.3 207.5h0M264.2 202.6h0M261.8 199.6h0M244.0 199.7h0M279.8 203.0h0M258.5 206.3h0M243.6 184.2h0M256.1 195.2h0M254.8 192.2h0M251.9 187.1h0M257.6 185.7h0M267.8 209.9h0M258.7 184.1h0M263.1 193.2h0M256.9 186.6h0M240.2 190.0h0M273.8 206.7h0M259.5 207.2h0M239.2 192.5h0M248.1 201.6h0M240.9 198.4h0M256.9 203.3h0M244.5 193.7h0M267.5 188.6h0M272.3 203.9h0M283.0 199.6h0M264.6 202.6h0M273.6 189.6h0M260.2 202.0h0M256.3 206.7h0M270.4 194.1h0M280.5 197.8h0M237.4 186.1h0M260.7 183.3h0M256.6 205.8h0M264.2 199.0h0M249.2 201.2h0M253.1 201.8h0M247.9 204.1h0M250.1 187.1h0M262.5 202.6h0M245.6 199.5h0M247.9 190.1h0M278.8 198.7h0M246.7 190.0h0M255.9 186.5h0M238.6 191.7h0M266.0 188.4h0M274.9 202.5h0M254.8 196.5h0M261.9 204.5h0M241.1 202.9h0M250.7 205.0h0M254.7 181.5h0M254.8 192.5h0M248.9 182.2h0M243.2 195.5h0M266.2 207.1h0M260.7 206.5h0M242.5 189.2h0M258.7 200.9h0M247.6 195.5h0M273.8 196.0h0M250.9 204.3h0M265.6 200.3h0M264.9 196.7h0M270.5 188.1h0M270.5 204.1h0M274.5 193.6h0M253.6 192.0h0M261.4 199.8h0M261.5 186.5h0M251.3 196.0h0M284.7 195.6h0M268.1 196.9h0M278.1 205.6h0M267.2 193.5h0M272.1 201.2h0M270.7 194.7h0M256.3 195.3h0M271.8 203.3h0M240.7 198.2h0M251.8 200.7h0M257.2 189.9h0M257.4 188.0h0M243.0 200.7h0M257.4 185.3h0M276.2 200.7h0M259.6 207.6h0M263.5 198.9h0M265.5 203.5h0M254.4 202.1h0M263.9 203.5h0M242.7 190.8h0M280.1 198.3h0M274.4 195.9h0M264.4 184.8h0M267.3 189.8h0M273.3 210.2h0M272.4 203.5h0M251.5 185.5h0M240.9 196.5h0M260.0 196.9h0M280.4 208.3h0M252.6 202.3h0M244.6 194.9h0M266.5 198.3h0M253.1 196.6h0M266.0 204.1h0M277.0 191.6h0M259.1 187.3h0M263.5 212.0h0M274.3 208.9h0M263.6 190.0h0M261.5 190.4h0M286.0 200.0h0M266.4 202.7h0M245.4 189.7h0M265.3 192.3h0M233.9 194.4h0M257.4 206.8h0M270.7 205.7h0M252.0 205.9h0M245.6 200.6h0M249.1 183.7h0M274.6 204.4h0M262.6 184.1h0M269.2 204.5h0M255.4 205.9h0M244.8 194.8h0M273.8 202.0h0M247.2 201.8h0M277.6 197.4h0M276.6 197.3h0M266.9 189.7h0M256.9 198.8h0M255.3 194.4h0M270.4 187.9h0M276.6 200.2h0M232.2 197.2h0M245.5 191.0h0M255.8 192.7h0M259.0 206.5h0M252.6 199.5h0M276.1 199.9h0M262.8 197.8h0M273.1 187.2h0M252.3 191.7h0M272.5 198.7h0M247.4 189.0h0M245.8 197.6h0M290.2 199.8h0M239.9 182.6h0M248.7 188.9h0M266.3 192.1h0M246.8 201.6h0M250.7 190.0h0M263.0 191.7h0M261.2 206.1h0M258.1 206.4h0M261.4 188.9h0M266.1 193.6h0M257.0 187.9h0M251.0 187.2h0M266.2 202.3h0M268.6 192.1h0M267.8 197.5h0M270.0 194.0h0M240.4 189.4h0M267.7 203.1h0M245.2 195.2h0M278.7 195.0h0M257.4 192.4h0M269.1 207.3h0M284.0 197.9h0M249.3 183.4h0M263.1 186.8h0M263.0 198.5h0M250.5 189.5h0M262.2 192.9h0M262.6 199.9h0M257.4 199.9h0M263.1 195.0h0M236.2 187.6h0M264.2 188.7h0M263.3 188.7h0M246.1 191.4h0M258.8 196.0h0M259.8 194.0h0M245.1 199.4h0M253.5 186.1h0M269.8 202.4h0M260.8 187.8h0M262.8 188.4h0M271.5 189.2h0M239.3 190.7h0M267.6 190.2h0M259.7 196.5h0M276.5 201.3h0M278.5 192.6h0M266.1 201.8h0M259.8 202.3h0M252.2 207.8h0M268.2 198.8h0M259.3 205.7h0M245.9 197.4h0M268.5 209.1h0M280.8 195.3h0M282.0 206.3h0M255.6 201.0h0M261.9 207.1h0M243.5 189.9h0M273.4 203.8h0M255.0 194.2h0M267.4 206.8h0M262.0 187.6h0M243.6 199.0h0M245.6 199.8h0M265.5 194.0h0M266.2 204.9h0M251.0 193.4h0M259.4 191.3h0M241.8 192.5h0M281.6 201.1h0M280.7 200.9h0M280.7 207.9h0M267.8 196.5h0M264.8 195.1h0M271.7 204.8h0M261.4 190.0h0M253.1 199.4h0M257.9 200.6h0M248.1 192.0h0M277.8 206.4h0M264.2 190.4h0M274.8 197.8h0M256.6 199.6h0M278.8 199.9h0M284.0 197.0h0M246.7 195.4h0M240.1 193.6h0M253.2 189.1h0M265.6 199.0h0M261.2 202.0h0M258.4 195.4h0M244.7 201.1h0M268.4 195.4h0M275.2 193.8h0M271.2 198.1h0M255.9 194.2h0M264.2 202.9h0M271.5 206.8h0M272.9 198.4h0M262.5 199.0h0M265.2 190.4h0M248.6 198.6h0M265.1 208.9h0M261.0 203.1h0M266.9 201.8h0M265.6 204.6h0M270.9 197.8h0M265.6 197.8h0M266.7 200.4h0M263.3 195.4h0M268.0 190.4h0M269.2 201.7h0M242.0 187.5h0M268.4 188.1h0M268.8 204.8h0M269.1 204.6h0M264.5 203.0h0M272.1 199.9h0M268.7 191.1h0M254.1 201.2h0M275.5 197.2h0M255.7 186.3h0M275.3 203.1h0M280.5 209.1h0M281.9 207.2h0M261.9 196.2h0M276.8 194.3h0M271.3 198.2h0M277.3 198.9h0M259.1 202.2h0M238.7 197.7h0M269.2 196.7h0M272.1 198.0h0M271.2 200.7h0M273.3 195.9h0M258.7 206.6h0M268.9 198.7h0M259.3 194.6h0M269.3 193.5h0M266.0 197.6h0M250.0 195.0h0M276.6 199.3h0M264.1 199.8h0M263.0 189.2h0M266.8 196.8h0M259.3 204.4h0M267.8 195.5h0M258.8 205.3h0M274.6 191.9h0M271.6 197.8h0M260.1 203.3h0M272.9 196.3h0M265.3 202.0h0M264.7 200.8h0M259.0 203.9h0M278.7 198.7h0M255.0 193.8h0M273.0 201.7h0M265.5 199.7h0M254.0 195.7h0M265.9 195.7h0M273.3 197.4h0M260.1 201.1h0M271.2 200.6h0M267.6 201.4h0M269.9 194.9h0M270.8 210.5h0M269.6 198.5h0M275.1 204.4h0M260.1 197.0h0M260.3 202.8h0M254.0 202.5h0M260.3 199.1h0M262.2 200.0h0M275.0 204.4h0M256.4 195.3h0M265.3 208.5h0M262.4 196.0h0M259.8 197.2h0M272.6 195.5h0M276.3 208.0h0M272.1 203.7h0M287.3 198.8h0M259.4 208.4h0M255.7 198.0h0M265.7 194.1h0M258.6 196.0h0M267.8 202.0h0M270.9 200.5h0M265.8 202.1h0M262.3 191.2h0M275.2 190.5h0M269.4 206.4h0M258.2 185.5h0M258.8 198.8h0M257.1 202.1h0M272.5 195.4h0M274.0 193.5h0M262.2 199.2h0M276.2 205.6h0M121.1 130.3h0M132.3 174.9h0M143.3 180.5h0"/>
<path id="p_kich_T" d="M229.9 207.8h0M229.8 203.4h0M228.3 209.4h0M227.1 215.0h0M232.7 207.0h0M227.8 210.8h0M232.3 203.2h0M230.1 205.0h0M229.1 205.0h0M235.8 205.8h0M228.3 204.8h0M228.5 207.0h0M228.1 211.7h0M228.9 209.8h0M228.6 211.5h0M233.5 203.6h0M228.0 209.1h0M229.3 205.2h0M227.7 208.8h0M228.1 207.7h0M230.7 204.4h0M226.4 211.0h0M230.4 206.8h0M229.2 203.2h0M231.5 205.2h0M229.6 207.3h0M231.0 209.9h0M229.7 207.5h0M225.3 211.0h0M228.4 207.9h0M230.7 212.7h0M229.1 209.7h0M226.1 215.6h0M224.8 219.1h0M225.5 214.8h0M225.0 216.9h0M228.2 217.4h0M226.7 215.2h0M227.6 214.1h0M227.1 220.0h0M227.1 217.4h0M224.5 219.2h0M225.4 212.6h0M229.5 215.0h0M226.9 210.6h0M226.8 218.4h0M228.1 211.2h0M227.1 213.1h0M226.4 219.0h0M226.7 216.3h0M227.0 219.9h0M224.7 215.6h0M225.7 212.6h0M228.9 212.9h0M225.3 218.0h0M228.5 211.3h0M226.6 214.5h0M223.8 219.6h0M226.6 215.3h0M227.7 216.0h0M224.9 214.5h0M226.9 215.7h0M227.1 217.8h0M227.3 215.0h0M225.0 219.9h0M223.6 217.1h0M227.7 213.7h0M226.1 216.7h0M224.7 214.9h0M228.0 213.3h0M225.6 218.6h0M227.5 213.2h0M226.1 210.2h0M227.9 215.2h0M226.6 214.7h0M224.2 219.1h0M226.2 219.1h0M224.6 216.1h0M228.3 212.8h0M226.2 212.8h0M227.6 216.2h0M225.1 216.6h0M225.7 215.2h0M227.2 213.1h0M227.7 215.8h0M224.0 213.7h0M230.2 210.5h0M227.5 216.2h0M225.1 214.6h0M226.4 211.0h0M226.8 216.1h0M224.8 213.1h0M227.9 211.4h0M228.5 213.9h0M226.5 216.9h0M225.2 215.6h0M226.4 216.2h0M225.3 217.3h0M226.2 219.2h0M229.0 212.5h0M225.5 216.0h0M228.3 214.0h0M226.3 216.0h0M225.6 217.6h0M225.0 216.0h0M225.3 215.9h0M225.7 214.1h0M228.5 213.3h0M226.1 216.8h0M226.7 214.5h0M227.3 213.1h0"/>
<path id="p_ov_T" d="M178.2 231.6h0M186.1 227.5h0M180.9 220.4h0M176.0 216.6h0M174.1 222.1h0M179.9 206.5h0M170.8 222.2h0M177.5 218.5h0M168.8 236.4h0M167.1 221.4h0M181.3 205.9h0M175.4 228.1h0M174.2 208.8h0M160.8 217.4h0M165.3 231.0h0M168.6 237.9h0M171.9 230.5h0M166.8 219.6h0M175.6 232.9h0M166.9 236.6h0M170.2 239.2h0M162.3 221.8h0M177.4 224.3h0M167.6 230.8h0M179.7 221.3h0M178.3 221.1h0M165.8 236.6h0M167.7 220.6h0M178.3 216.1h0M164.6 222.6h0M172.9 233.4h0M170.7 219.1h0M161.9 222.1h0M168.5 235.0h0M159.3 208.9h0M157.2 222.8h0M175.6 239.6h0M159.2 226.3h0M167.1 239.6h0M174.8 238.7h0M171.9 234.6h0M174.9 219.1h0M179.6 222.1h0M154.0 223.9h0M162.2 229.6h0M184.3 227.6h0M176.5 213.6h0M165.7 219.5h0M187.8 221.0h0M174.2 208.1h0M168.0 225.9h0M170.9 222.1h0M175.5 229.2h0M162.3 212.6h0M176.5 232.1h0M161.0 230.9h0M160.7 223.2h0M182.2 209.9h0M171.9 222.7h0M162.8 231.7h0M164.4 218.6h0M163.0 228.7h0M176.4 237.1h0M169.9 217.1h0M183.9 219.0h0M177.4 239.4h0M178.3 208.0h0M163.4 217.4h0M178.6 217.5h0M178.0 226.6h0M173.1 224.4h0M165.7 237.1h0M172.8 238.3h0M164.4 209.0h0M183.1 213.8h0M172.6 221.0h0M170.4 221.4h0M162.8 213.4h0M173.4 217.8h0M185.6 225.1h0M182.9 220.0h0M178.1 218.8h0M163.9 222.1h0M169.9 248.2h0M160.7 218.2h0M177.3 222.7h0M172.7 231.4h0M170.4 217.6h0M160.5 223.6h0M175.9 226.1h0M181.0 220.4h0M173.7 216.5h0M155.8 229.5h0M167.7 230.1h0M166.4 209.9h0M164.1 221.4h0M165.8 221.5h0M175.9 224.0h0M175.2 222.7h0M165.8 215.0h0M153.5 229.5h0M180.3 214.9h0M163.6 216.1h0M174.1 224.9h0M169.4 223.6h0M157.8 222.8h0M169.8 228.5h0M165.5 219.1h0M173.0 248.7h0M166.4 242.8h0M163.8 224.6h0M163.8 236.6h0M172.4 225.9h0M179.7 236.1h0M166.0 226.4h0M167.4 234.8h0M154.3 244.3h0M169.6 205.0h0M173.7 216.4h0M171.7 225.3h0M180.1 207.3h0M174.6 234.8h0M160.9 231.0h0M178.0 219.2h0M155.9 225.6h0M167.6 238.6h0M169.6 230.7h0M174.3 226.0h0M161.4 217.5h0M172.3 223.4h0M170.6 231.3h0M171.9 230.8h0M172.2 227.7h0M167.2 210.4h0M178.4 232.2h0M176.7 216.8h0M180.4 225.1h0M172.8 218.0h0M167.5 218.4h0M174.5 217.9h0M171.2 219.1h0M161.1 224.7h0M172.5 224.9h0M147.5 233.7h0M171.4 215.4h0M187.0 224.4h0M177.5 225.4h0M152.7 235.2h0M162.2 234.2h0M170.4 216.3h0M151.6 219.8h0M163.3 224.5h0M162.5 230.8h0M167.1 220.0h0M187.6 231.4h0M166.2 227.5h0M158.4 217.3h0M170.0 217.3h0M163.3 230.0h0M166.5 216.7h0M166.6 218.1h0M177.8 226.8h0M159.3 236.4h0M180.1 221.5h0M163.4 224.3h0M166.8 228.8h0M171.1 235.7h0M158.3 218.5h0M173.7 219.6h0M168.0 213.5h0M186.8 222.4h0M177.0 217.0h0M167.6 223.4h0M184.6 236.6h0M188.1 238.0h0M183.3 222.1h0M165.8 236.0h0M165.6 229.0h0M166.4 214.5h0M171.9 215.9h0M168.9 232.1h0M169.8 233.2h0M167.8 227.2h0M163.3 236.1h0M155.0 226.7h0M175.9 200.3h0M158.2 210.2h0M170.7 221.7h0M168.6 229.6h0M189.6 214.8h0M174.2 224.5h0M180.1 204.7h0M158.4 214.3h0M162.6 226.2h0M167.5 205.7h0M165.3 209.3h0M165.2 222.2h0M165.0 235.1h0M189.4 228.5h0M158.9 237.0h0M188.1 222.3h0M174.3 234.0h0M172.9 235.4h0M175.7 218.4h0M167.4 221.7h0M165.8 235.9h0M173.9 222.2h0M177.8 224.7h0M179.6 238.7h0M172.7 218.6h0M161.8 240.1h0M174.4 218.5h0M170.5 213.7h0M182.0 226.8h0M168.3 210.6h0M188.2 225.1h0M153.4 218.7h0M171.0 225.3h0M162.5 234.4h0M175.9 224.4h0M166.0 207.8h0M167.6 222.0h0M161.7 226.6h0M177.6 219.6h0M168.0 223.8h0M184.6 236.9h0M157.9 219.4h0M191.7 220.9h0M185.3 228.5h0M181.4 220.7h0M172.0 228.9h0M171.2 223.5h0M182.7 222.5h0M181.9 218.5h0M168.8 230.6h0M175.4 232.8h0M171.6 223.8h0M167.5 209.7h0M168.0 233.4h0M170.8 225.9h0M181.3 215.7h0M174.1 218.9h0M180.4 210.7h0M168.5 219.4h0M168.6 219.0h0M186.3 222.1h0M170.2 211.0h0M160.7 217.2h0M161.6 228.7h0M166.7 219.9h0M170.2 215.8h0M161.2 217.9h0M173.0 223.0h0M164.5 238.4h0M174.3 230.1h0M183.6 215.7h0M179.0 226.3h0M173.7 210.3h0M164.9 224.1h0M171.0 238.0h0M168.3 226.3h0M168.9 212.3h0M168.6 225.0h0M185.2 235.3h0M167.1 216.0h0M171.2 219.0h0M190.9 231.7h0M171.0 219.3h0M162.9 223.3h0M151.0 220.7h0M167.8 237.9h0M157.5 232.3h0M168.7 231.2h0M165.6 227.8h0M178.1 247.1h0M165.1 223.0h0M170.6 218.9h0M170.7 224.4h0M168.8 208.7h0M173.6 211.1h0M170.8 233.3h0M161.4 223.0h0M173.0 223.8h0M167.8 224.4h0M176.9 215.1h0M170.2 230.6h0M166.8 213.4h0M177.6 230.5h0M179.1 224.1h0M166.4 237.9h0M181.3 231.4h0M167.6 225.3h0M164.6 214.9h0M172.3 227.1h0M176.0 225.2h0M187.7 215.5h0M181.9 220.7h0M178.9 216.1h0M188.9 237.2h0M158.9 236.0h0M173.1 232.5h0M171.6 223.2h0M160.7 220.2h0M171.5 209.4h0M163.9 224.5h0M175.2 220.4h0M182.8 219.9h0M176.6 236.3h0M165.5 234.9h0M170.7 216.9h0M184.5 239.3h0M169.4 234.2h0M179.7 224.4h0M189.2 223.6h0M166.7 224.9h0M171.0 220.8h0M169.7 212.7h0M176.8 212.5h0M180.7 231.0h0M168.9 221.3h0M166.8 224.8h0M185.9 227.7h0M168.6 240.6h0M168.8 221.6h0M189.0 230.8h0M181.5 230.4h0M176.3 231.0h0M178.1 244.7h0M162.8 203.4h0M169.8 211.5h0M173.3 214.1h0M172.3 234.8h0M168.0 218.2h0M178.3 218.0h0M171.4 223.5h0M161.8 233.3h0M163.4 232.9h0M175.0 215.2h0M169.2 232.6h0M169.7 244.7h0M164.1 235.6h0M158.8 222.5h0M179.9 207.5h0M174.1 214.8h0M161.4 218.1h0M167.6 220.2h0M167.2 216.9h0M151.1 236.9h0M188.7 228.8h0M169.6 215.7h0M174.1 227.2h0M164.7 223.0h0M177.8 227.3h0M171.5 225.8h0M166.0 224.1h0M172.4 217.9h0M170.9 232.9h0M180.2 204.8h0M160.4 233.7h0M175.2 228.6h0M160.7 225.3h0M176.5 228.5h0M166.0 219.4h0M174.3 226.3h0M182.2 204.1h0M167.1 235.8h0M162.7 225.6h0M183.3 215.4h0M174.5 242.0h0M161.6 206.6h0M180.3 220.2h0M171.4 225.2h0M181.7 222.0h0M179.8 231.5h0M171.7 234.2h0M174.2 223.7h0M196.0 206.4h0M162.5 215.3h0M168.4 226.1h0M170.0 245.2h0M167.6 214.7h0M171.9 220.6h0M167.8 232.9h0M174.3 234.8h0M163.2 230.1h0M171.9 218.8h0M159.1 223.7h0M162.4 231.0h0M175.4 228.8h0M194.2 236.0h0M155.4 229.9h0M173.4 226.4h0M167.7 232.8h0M149.0 212.3h0M176.6 226.2h0M179.1 220.9h0M167.4 231.6h0M173.0 208.6h0M179.3 214.5h0M178.8 226.1h0M176.3 233.8h0M163.5 230.4h0M171.2 222.1h0M171.7 219.8h0M172.0 226.6h0M166.5 234.4h0M172.4 214.3h0M175.3 229.2h0M160.1 227.0h0M168.6 226.7h0M170.3 227.9h0M173.1 203.6h0M172.3 229.4h0M177.5 235.7h0M174.4 236.4h0M178.6 220.1h0M166.0 236.1h0M177.3 208.4h0M163.1 235.0h0M172.9 208.6h0M175.2 233.5h0M176.9 224.0h0M170.1 219.5h0M167.5 226.9h0M192.0 248.1h0M170.3 210.8h0M170.9 221.8h0M169.6 209.1h0M171.1 218.4h0M172.0 210.2h0M171.9 213.2h0M164.9 218.4h0M167.2 219.4h0M167.1 218.7h0M165.9 219.1h0M168.8 241.7h0M179.1 218.9h0M160.5 234.8h0M171.5 227.6h0M181.0 206.9h0M166.7 226.1h0M182.9 223.6h0M172.3 224.0h0M171.3 225.8h0M167.0 217.8h0M168.5 230.1h0M181.1 225.6h0M169.4 235.7h0M176.1 231.1h0M170.6 220.5h0M175.6 222.9h0M181.1 216.3h0M174.3 224.6h0M163.4 221.1h0M163.2 221.2h0M169.5 248.7h0M163.2 230.3h0M167.9 227.7h0M168.9 217.0h0M183.2 234.7h0M157.6 223.1h0M168.8 209.8h0M173.0 229.0h0M172.1 228.6h0M186.0 220.3h0M181.8 244.4h0M148.2 222.3h0M182.6 227.5h0M166.7 237.5h0M178.9 209.7h0M178.4 222.8h0M173.3 213.7h0M176.1 226.0h0M164.1 221.4h0M183.2 238.6h0M159.7 229.1h0M169.3 219.8h0M173.8 238.4h0M176.2 215.7h0M172.2 228.6h0M180.8 223.9h0M172.9 226.7h0M177.1 207.3h0M183.0 227.5h0M171.9 214.6h0M173.9 242.7h0M167.0 209.6h0M175.4 224.8h0M171.4 210.6h0M175.2 230.5h0M136.8 226.1h0M178.0 216.3h0M154.5 225.4h0M189.2 227.9h0M190.1 227.7h0M170.0 217.4h0M183.3 212.4h0M166.9 220.8h0M174.2 225.0h0M159.8 213.8h0M185.8 225.4h0M171.9 221.4h0M174.1 217.7h0M180.9 232.5h0M171.8 233.1h0M170.5 220.7h0M179.9 223.8h0M165.3 239.3h0M170.4 228.8h0M184.2 212.9h0M169.4 233.6h0M169.5 220.5h0M170.7 221.9h0M169.3 228.4h0M172.6 240.5h0M174.5 240.1h0M173.0 240.7h0M170.8 236.0h0M173.3 239.6h0M165.6 220.5h0M175.1 215.9h0M183.9 223.1h0M176.3 234.2h0M176.9 218.0h0M161.2 209.4h0M164.6 217.8h0M165.5 228.9h0M160.9 209.8h0M173.4 241.2h0M164.4 223.6h0M171.5 234.7h0M178.9 220.6h0M179.4 225.3h0M178.4 241.4h0M154.2 211.6h0M160.9 213.2h0M172.7 225.8h0M186.0 237.7h0M174.2 223.4h0M177.3 228.5h0M168.0 231.0h0M167.7 223.7h0M170.6 219.1h0M166.6 225.2h0M170.8 213.2h0M185.2 240.2h0M185.1 235.3h0M171.0 215.8h0M163.5 208.6h0M169.1 208.7h0M172.6 226.9h0M167.4 219.5h0M171.2 229.6h0M169.0 239.9h0M164.5 218.8h0M167.8 222.6h0M173.4 229.4h0M169.0 238.8h0M156.7 226.8h0M172.0 211.9h0M160.1 225.3h0M180.8 227.9h0M170.9 221.3h0M167.5 220.6h0M176.6 233.9h0M175.8 217.9h0M176.0 233.5h0M156.8 227.0h0M167.1 225.2h0M161.2 214.5h0M170.5 219.1h0M167.4 216.1h0M174.9 233.8h0M163.7 226.4h0M167.8 226.4h0M180.2 226.4h0M184.8 209.3h0M162.5 224.3h0M181.0 212.5h0M184.9 220.9h0M170.8 219.4h0M169.3 204.6h0M157.9 228.9h0M186.8 232.6h0M172.7 204.3h0M186.4 218.5h0M162.6 218.0h0M170.7 244.5h0M172.1 221.0h0M158.3 219.3h0M172.0 224.6h0M171.9 209.1h0M157.3 219.6h0M171.7 218.1h0M172.1 211.3h0M163.9 224.5h0M172.3 203.1h0M165.9 235.0h0M171.5 209.9h0M175.5 228.7h0M181.8 240.8h0M171.3 213.4h0M195.2 218.3h0M188.0 231.7h0M176.5 222.8h0M177.1 228.3h0M176.0 220.6h0M153.0 218.5h0M159.0 233.2h0M169.4 224.6h0M164.4 210.5h0M185.0 232.4h0M173.5 222.9h0M164.6 229.7h0M166.1 231.6h0M165.6 225.2h0M166.3 221.8h0M185.7 226.6h0M170.1 231.9h0M166.6 203.3h0M169.6 238.3h0M177.9 220.4h0M175.0 210.2h0M182.0 242.8h0M173.2 244.2h0M154.1 222.0h0M158.7 236.3h0M168.0 215.7h0M163.6 223.9h0M161.3 239.8h0M161.1 211.3h0M148.8 218.9h0M174.3 243.4h0M167.5 205.3h0M154.9 233.8h0M170.3 212.5h0M156.7 211.5h0M164.3 210.2h0M176.6 207.7h0M180.3 243.5h0M168.6 240.6h0M186.4 229.1h0M165.0 220.2h0M165.2 227.8h0M181.5 246.4h0M170.3 223.7h0M181.4 208.1h0M159.4 210.8h0M166.9 208.8h0M175.9 232.9h0M154.9 235.6h0M155.7 233.3h0M159.5 226.2h0M180.7 208.9h0M161.3 216.1h0M161.8 228.3h0M186.8 215.2h0M185.1 209.9h0M168.5 238.0h0M161.1 241.1h0M185.4 243.0h0M166.7 219.7h0M165.6 232.6h0M179.3 242.9h0M179.8 210.7h0M172.6 218.6h0M169.7 238.3h0M183.6 224.7h0M156.3 215.9h0M177.8 223.0h0M189.5 216.0h0M178.8 203.1h0M157.7 220.9h0M180.1 208.6h0M181.4 211.2h0M181.2 241.1h0M182.2 221.9h0M186.2 221.2h0M183.9 214.5h0M191.7 221.5h0M149.1 223.6h0M178.7 222.2h0M160.5 235.4h0M179.0 209.8h0M176.7 227.8h0M160.8 213.7h0M169.4 216.8h0M180.2 219.8h0M181.1 215.9h0M171.2 230.0h0M167.5 216.3h0M174.9 237.1h0M168.6 223.2h0M152.3 215.7h0M166.9 248.2h0M156.9 233.5h0M180.1 207.9h0M165.8 231.4h0M182.9 231.5h0M174.3 221.2h0M167.7 230.3h0M172.9 219.2h0M157.2 211.9h0M184.6 241.1h0M175.8 231.1h0M169.5 217.8h0M167.9 229.1h0M189.7 219.1h0M168.4 213.7h0M183.0 225.7h0M181.1 240.9h0M171.8 222.5h0M162.7 215.3h0M171.0 236.7h0M166.6 230.7h0M180.5 236.3h0M160.7 242.6h0M175.2 230.1h0M165.8 221.2h0M186.7 229.8h0M182.4 237.7h0M172.0 244.4h0M163.6 205.8h0M167.0 241.7h0M185.2 225.1h0M183.8 227.7h0M158.2 218.0h0M181.2 229.5h0M186.9 212.0h0M173.8 231.1h0M153.7 228.4h0M173.1 230.0h0M162.2 217.3h0M172.3 212.1h0M158.9 207.3h0M168.5 245.5h0M158.7 240.3h0M170.6 209.5h0M166.2 208.3h0M175.1 232.3h0M185.9 235.4h0M167.8 241.8h0M161.5 211.5h0M159.2 226.5h0M179.5 221.6h0M157.3 221.4h0M160.8 228.0h0M169.4 240.0h0M167.1 245.3h0M167.5 213.7h0M165.9 239.9h0M183.3 235.9h0M170.3 216.4h0M166.3 240.4h0M186.5 225.7h0M187.4 217.6h0M178.0 207.2h0M174.6 224.0h0M167.7 212.9h0M170.3 226.1h0M178.8 208.4h0M180.6 205.2h0M160.1 233.9h0M157.9 218.5h0M159.6 243.7h0M165.3 215.1h0M158.9 217.0h0M179.7 233.5h0M188.1 227.2h0M168.4 224.3h0M165.3 224.7h0M158.6 215.3h0M165.2 230.5h0M164.7 208.3h0M167.7 218.8h0M153.3 227.6h0M156.9 225.5h0M168.4 224.3h0M168.9 211.4h0M173.1 235.5h0M184.6 217.9h0M177.1 214.8h0M178.1 203.3h0M175.2 240.1h0M164.5 245.7h0M177.9 234.3h0M165.7 225.1h0M169.4 232.9h0M152.9 234.7h0M159.0 220.2h0M157.2 219.0h0M179.7 215.6h0M155.5 237.4h0M171.4 228.3h0M149.1 222.7h0M151.5 229.5h0M163.5 218.3h0M182.9 236.3h0M180.6 224.7h0M179.4 216.7h0M158.3 217.0h0M182.6 231.4h0M187.8 225.6h0M161.8 211.3h0M171.9 223.6h0M179.5 230.7h0M173.5 223.0h0M176.7 207.7h0M157.1 226.8h0M192.8 232.7h0M166.4 236.1h0M179.4 211.6h0M182.6 207.9h0M177.0 231.2h0M157.8 225.0h0M184.7 212.8h0M162.9 233.9h0M158.3 220.8h0M173.1 225.6h0M159.4 226.0h0M183.6 228.4h0M184.2 212.4h0M152.7 231.2h0M188.6 232.8h0M173.5 243.2h0M174.3 211.7h0M183.3 216.8h0M185.3 217.4h0M169.0 211.3h0M181.5 227.5h0M163.3 204.8h0M160.8 226.1h0M167.0 222.3h0M171.6 226.9h0M182.1 224.6h0M171.2 219.8h0M154.2 226.7h0M167.4 219.6h0M168.6 213.0h0M176.7 239.6h0M151.1 211.9h0M186.7 217.4h0M156.8 231.5h0M155.4 218.4h0M166.9 234.9h0M148.8 211.3h0M180.7 215.1h0M163.2 241.5h0M158.3 228.9h0M162.6 232.9h0M177.5 216.2h0M184.9 241.4h0M168.9 240.7h0M155.8 220.4h0M165.5 239.4h0M180.8 237.3h0M163.3 236.7h0M167.1 241.5h0M165.8 214.2h0M175.6 221.5h0M176.9 240.2h0M181.6 225.8h0M157.9 215.6h0M189.4 234.8h0M151.6 224.5h0M172.0 228.7h0M165.6 239.0h0M166.7 202.3h0M165.9 218.9h0M188.1 216.4h0M171.6 209.7h0M155.6 220.1h0M168.7 246.1h0M151.2 220.3h0M171.0 218.6h0M187.5 231.7h0M184.4 220.6h0M189.5 215.2h0M156.8 228.5h0M155.8 222.2h0M189.7 225.5h0M185.2 225.2h0M172.4 242.5h0M164.1 212.7h0M184.7 238.3h0M178.0 222.9h0M185.4 216.2h0M163.4 211.7h0M171.2 236.4h0M183.4 223.0h0M171.8 238.4h0M167.2 224.4h0M181.6 220.0h0M162.6 241.1h0M167.0 230.7h0M185.3 221.9h0M168.6 209.2h0M166.3 243.0h0M178.4 232.3h0M183.4 231.2h0M175.5 246.6h0M158.6 228.8h0M168.6 206.8h0M182.0 234.8h0M159.7 236.0h0M183.3 223.2h0M188.5 224.7h0M185.5 213.9h0M157.3 225.7h0M169.9 217.3h0M175.8 241.8h0M159.3 214.8h0M161.5 232.5h0M176.6 232.1h0M162.2 211.9h0M167.3 231.9h0M184.3 240.2h0M165.7 222.4h0M153.5 221.7h0M172.6 224.9h0M187.3 229.5h0M180.3 221.6h0M176.1 227.6h0M169.0 232.6h0M155.6 220.0h0M156.7 217.6h0M177.5 221.7h0M165.5 215.6h0M173.7 233.6h0M177.9 238.0h0M161.6 232.1h0M189.2 233.5h0M187.1 222.6h0M183.8 209.3h0M180.5 209.7h0M180.5 225.2h0M174.6 219.1h0M177.4 235.0h0M175.8 240.1h0M178.9 221.9h0M159.5 241.4h0M166.8 213.3h0M171.2 231.3h0M169.6 245.0h0M175.9 214.5h0M179.1 220.4h0M154.1 230.0h0M159.7 211.8h0M187.5 224.0h0M182.1 224.1h0M177.1 202.1h0M174.3 225.7h0M185.9 217.3h0M178.4 217.4h0M175.6 211.8h0M183.3 217.9h0M169.2 212.6h0M166.2 234.7h0M188.0 228.1h0M171.8 203.2h0M192.1 224.9h0M188.3 219.2h0M168.7 236.0h0M159.9 232.8h0M176.4 247.5h0M172.9 218.3h0M172.3 223.7h0M185.4 219.3h0M161.6 211.7h0M157.1 225.7h0M179.0 212.3h0M163.2 222.2h0M185.6 210.2h0M155.0 207.8h0M178.3 214.3h0M176.8 212.7h0M157.1 235.2h0M179.9 234.9h0M159.6 226.7h0M189.2 231.2h0M165.1 226.0h0M164.1 225.5h0M184.6 214.4h0M163.0 215.8h0M160.7 223.8h0M165.7 226.1h0M179.7 218.6h0M191.3 225.0h0M178.7 212.8h0M165.1 224.7h0M162.5 225.1h0M171.2 232.6h0M149.6 228.1h0M177.9 228.1h0M179.3 214.5h0M164.2 213.8h0M172.7 223.7h0M172.3 206.8h0M169.2 235.1h0M182.2 239.4h0M184.8 220.7h0M169.5 214.0h0M165.6 229.7h0M181.5 215.6h0M168.6 242.9h0M173.8 244.4h0M176.9 239.9h0M157.0 215.6h0M111.5 124.7h0M105.3 171.5h0M168.7 131.8h0M100.5 143.0h0M137.5 138.7h0M127.0 167.4h0M140.6 140.8h0M102.5 148.0h0M157.0 111.5h0M167.5 155.7h0M167.0 136.0h0M114.1 119.8h0M137.7 154.7h0M127.6 153.7h0M188.9 127.4h0M102.3 214.2h0M105.3 169.3h0M163.2 200.2h0M148.9 139.1h0M175.9 185.8h0"/>
<path id="p_coad_T" d="M104.5 220.9h0M100.4 202.3h0M109.9 213.4h0M119.1 217.3h0M116.6 219.7h0M98.3 211.7h0M103.9 196.4h0M107.2 199.9h0M109.8 216.1h0M105.5 191.5h0M98.4 211.4h0M107.8 223.4h0M117.1 208.3h0M105.4 224.1h0M99.6 197.1h0M100.2 220.6h0M103.2 226.2h0M121.1 194.5h0M105.9 203.3h0M105.5 222.0h0M93.4 196.7h0M100.2 213.6h0M108.6 210.8h0M108.3 194.8h0M102.1 218.6h0M114.7 205.8h0M113.6 208.5h0M112.4 213.8h0M98.1 211.9h0M109.1 196.6h0M117.2 217.8h0M98.6 211.9h0M102.4 210.5h0M121.7 208.4h0M103.9 224.3h0M113.3 207.7h0M111.0 214.3h0M105.0 200.4h0M114.8 192.9h0M100.0 205.4h0M93.1 214.6h0M98.7 216.5h0M101.6 206.1h0M108.8 217.4h0M125.4 209.0h0M109.5 199.8h0M105.5 213.2h0M90.9 199.9h0M91.7 206.5h0M106.8 217.2h0M99.3 209.9h0M114.7 223.3h0M108.9 211.0h0M94.0 207.5h0M113.1 198.5h0M102.8 223.1h0M100.8 196.6h0M102.6 215.7h0M93.7 208.2h0M117.4 213.6h0M96.6 220.4h0M111.1 206.8h0M103.2 192.8h0M92.2 208.5h0M110.4 214.3h0M112.5 219.0h0M102.4 198.8h0M105.7 217.4h0M107.7 213.8h0M108.3 222.5h0M108.1 201.6h0M124.3 212.6h0M99.0 210.3h0M103.9 217.5h0M103.6 209.9h0M104.8 216.2h0M109.3 191.3h0M97.7 208.8h0M109.4 192.3h0M116.8 218.4h0M88.7 201.7h0M108.4 215.0h0M89.7 211.2h0M122.6 202.6h0M115.9 208.2h0M109.9 212.2h0M106.0 202.2h0M105.4 194.6h0M116.6 222.3h0M96.2 206.3h0M101.2 213.0h0M103.7 221.0h0M118.5 192.2h0M93.6 207.8h0M120.7 196.7h0M104.7 203.0h0M103.5 225.1h0M113.0 196.5h0M110.4 207.4h0M121.6 201.9h0M117.9 214.1h0M116.8 201.6h0M115.5 210.0h0M110.8 213.2h0M104.0 218.9h0M119.5 200.3h0M102.2 210.1h0M112.9 200.4h0M106.6 215.0h0M108.6 199.7h0M98.6 206.2h0M108.1 204.8h0M102.4 199.3h0M106.6 188.8h0M109.6 210.3h0M111.0 210.5h0M114.2 212.7h0M121.0 194.5h0M93.5 199.9h0M111.1 217.9h0M102.7 209.2h0M107.5 204.8h0M96.8 195.6h0M103.0 193.6h0M106.7 199.0h0M116.8 196.4h0M100.9 211.1h0M109.4 216.7h0M121.5 200.3h0M120.1 196.8h0M102.4 223.6h0M107.8 189.6h0M104.2 205.5h0M103.0 198.0h0M117.5 197.7h0M100.7 207.4h0M111.0 193.7h0M102.9 216.4h0M104.0 194.7h0M105.8 208.7h0M123.9 203.4h0M121.6 217.2h0M100.7 215.3h0M96.7 210.3h0M114.0 226.0h0M96.4 212.5h0M103.5 217.4h0M91.6 199.8h0M108.2 222.1h0M109.6 219.6h0M123.8 215.5h0M103.6 227.2h0M122.9 216.0h0M100.9 191.9h0M98.8 195.1h0M102.3 203.2h0M92.7 194.1h0M108.2 205.0h0M121.4 200.7h0M108.5 206.2h0M115.7 203.0h0M110.3 211.0h0M101.5 202.6h0M110.1 189.7h0M105.6 197.6h0M102.6 205.6h0M103.7 223.4h0M115.3 206.0h0M109.6 207.2h0M113.9 209.5h0M98.3 197.6h0M93.0 212.0h0M105.5 194.6h0M111.9 209.5h0M113.8 204.2h0M109.2 201.5h0M103.5 193.7h0M116.6 199.3h0M101.5 211.3h0M106.8 209.7h0M107.2 190.2h0M100.8 212.8h0M120.2 213.2h0M99.2 205.4h0M111.2 190.2h0M90.0 211.5h0M117.1 216.2h0M111.1 201.7h0M112.5 206.8h0M93.9 207.2h0M99.5 217.0h0M107.3 223.9h0M107.2 215.1h0M117.6 198.6h0M112.1 212.5h0M106.5 221.7h0M94.3 189.9h0M105.5 209.6h0M117.4 191.9h0M111.0 195.2h0M110.2 208.8h0M98.5 204.0h0M121.5 208.6h0M119.6 197.2h0M112.0 202.9h0M94.1 220.9h0M122.8 214.2h0M100.1 191.1h0M117.0 196.4h0M104.2 193.4h0M109.2 218.4h0M106.7 206.5h0M107.8 192.3h0M94.2 195.5h0M101.2 193.3h0M101.9 222.3h0M109.0 210.1h0M119.4 192.8h0M104.0 210.8h0M105.2 222.5h0M116.6 214.3h0M119.6 198.9h0M113.1 214.0h0M101.7 217.6h0M112.1 218.0h0M117.5 195.9h0M103.0 219.6h0M97.3 207.1h0M107.7 205.5h0M116.9 215.8h0M93.3 203.8h0M113.5 203.0h0M120.4 190.6h0M113.1 202.9h0M103.4 225.3h0M105.5 212.4h0M111.0 209.5h0M119.8 199.7h0M118.5 208.0h0M122.1 207.8h0M117.7 217.1h0M98.2 220.0h0M116.0 191.9h0M94.2 199.8h0M92.8 197.1h0M116.5 210.0h0M103.4 195.9h0M118.3 194.9h0M117.4 209.6h0M111.6 192.7h0M90.2 212.2h0M102.7 219.3h0M108.1 193.8h0M112.8 213.2h0M91.3 213.3h0M98.1 193.9h0M103.7 207.6h0M95.7 209.2h0M98.3 212.2h0M103.0 222.5h0M115.5 201.8h0M110.7 211.7h0M115.9 188.1h0M106.9 215.6h0M120.4 212.9h0M110.9 192.5h0M95.4 206.7h0M103.1 198.4h0M95.6 207.9h0M114.8 192.3h0M118.5 194.7h0M96.2 210.7h0M110.6 202.5h0M110.9 201.6h0M100.7 205.8h0M117.4 203.7h0M123.4 212.7h0M100.3 208.1h0M94.2 204.9h0M112.3 214.8h0M117.5 214.4h0M97.0 198.6h0M122.6 209.5h0M120.1 200.4h0M124.8 206.9h0M117.2 215.7h0M111.6 213.8h0M116.9 192.1h0M112.5 201.3h0M99.1 199.5h0M94.2 200.2h0M109.9 197.5h0M100.7 219.0h0M106.6 193.1h0M109.9 216.0h0M97.7 210.8h0M117.4 199.4h0M100.0 213.1h0M96.7 204.2h0M98.0 214.9h0M103.2 213.7h0M125.7 210.4h0M107.7 199.6h0M118.3 201.2h0M117.3 195.6h0M98.4 214.5h0M107.8 213.1h0M104.8 193.2h0M92.5 207.4h0M95.6 200.2h0M96.8 211.0h0M111.3 195.3h0M102.3 206.0h0M113.9 211.4h0M95.3 211.7h0M100.1 197.3h0M122.8 199.2h0M100.4 222.4h0M100.8 195.8h0M107.4 207.4h0M98.5 208.4h0M116.5 202.0h0M93.9 205.0h0M101.6 218.7h0M101.5 210.5h0M91.5 212.0h0M102.2 204.0h0M118.2 203.8h0M114.8 200.1h0M119.1 218.5h0M101.3 203.8h0M113.3 205.5h0M107.8 196.6h0M122.8 209.8h0M119.1 216.1h0M94.2 192.0h0M118.0 200.1h0M112.6 196.9h0M108.1 198.8h0M108.0 203.7h0M88.2 215.0h0M97.4 213.2h0M101.3 216.3h0M117.3 204.5h0M105.9 213.6h0M118.2 215.4h0M101.3 200.2h0M111.9 205.4h0M95.7 206.6h0M93.5 199.8h0M103.4 203.7h0M102.5 197.7h0M108.8 210.3h0M124.7 212.2h0M95.1 210.0h0M120.9 223.0h0M96.5 200.3h0M109.4 200.3h0M90.9 199.7h0M114.8 216.9h0M111.3 224.6h0M107.5 211.6h0M113.8 200.4h0M101.8 193.8h0M116.1 217.2h0M116.9 211.2h0M114.1 191.3h0M103.1 204.8h0M116.2 218.0h0M98.7 211.2h0M112.3 214.6h0M107.2 203.3h0M106.6 196.8h0M117.4 203.1h0M101.4 200.8h0M100.1 219.4h0M95.4 204.0h0M108.8 197.8h0M115.8 204.3h0M103.9 209.1h0M114.5 203.4h0M103.0 203.6h0M104.8 215.0h0M104.9 201.2h0M118.3 206.3h0M110.2 204.7h0M113.1 200.8h0M103.1 188.5h0M102.7 193.8h0M100.2 218.8h0M98.7 195.2h0M96.7 199.1h0M92.8 213.9h0M125.6 204.5h0M114.4 218.7h0M109.6 219.4h0M101.4 188.1h0M113.4 207.9h0M92.3 196.3h0M119.0 220.3h0M97.0 214.2h0M121.1 195.2h0M91.4 210.1h0M101.9 219.2h0M103.8 206.6h0M95.7 212.4h0M101.0 210.8h0M118.7 210.6h0M109.6 202.8h0M113.3 216.3h0M106.6 189.8h0M96.3 218.4h0M109.2 220.7h0M108.2 209.5h0M104.1 219.9h0M112.7 209.9h0M107.0 190.0h0M117.0 195.5h0M98.2 216.8h0M101.8 212.7h0M103.3 211.3h0M100.5 192.8h0M112.8 204.3h0M120.3 206.3h0M109.4 198.1h0M109.1 202.9h0M104.1 220.6h0M99.3 218.9h0M93.5 217.8h0M110.8 190.3h0M118.7 200.1h0M94.3 206.0h0M109.0 216.4h0M93.2 216.8h0M118.5 198.4h0M106.5 203.0h0M111.8 216.0h0M107.5 204.7h0M117.0 210.7h0M126.6 212.3h0M104.5 215.2h0M121.1 197.7h0M107.3 192.1h0M104.5 201.4h0M117.3 209.9h0M104.8 195.5h0M100.2 195.8h0M104.7 193.6h0M108.6 221.7h0M109.7 192.6h0M101.2 222.9h0M109.1 215.5h0M102.3 190.1h0M115.5 208.9h0M109.9 199.1h0M119.6 204.8h0M107.9 223.1h0M96.7 198.6h0M110.1 219.5h0M108.3 203.1h0M104.9 203.1h0M90.9 195.0h0M96.2 195.6h0M113.6 195.2h0M98.5 213.9h0M103.1 224.1h0M93.0 205.2h0M110.2 211.0h0M110.2 190.8h0M108.4 224.7h0M96.9 198.8h0M118.5 198.1h0M116.1 198.6h0M110.3 204.2h0M123.5 208.0h0M117.8 194.8h0M98.6 196.4h0M109.6 220.9h0M93.3 214.8h0M119.1 206.0h0M108.8 206.9h0M101.0 205.4h0M111.4 199.6h0M116.5 214.0h0M99.1 207.7h0M122.6 212.6h0M108.5 208.9h0M112.9 224.0h0M114.8 211.6h0M112.1 199.2h0M117.5 214.1h0M104.7 203.9h0M114.7 217.4h0M107.3 200.3h0M108.5 212.7h0M110.2 212.0h0M100.5 200.7h0M95.9 199.3h0M94.4 199.3h0M109.8 195.7h0M106.3 197.8h0M115.1 195.5h0M99.0 202.0h0M115.3 208.3h0M102.2 211.9h0M102.1 214.1h0M90.0 205.9h0M110.3 193.4h0M98.7 198.0h0M107.8 192.2h0M117.8 216.1h0M122.2 197.2h0M102.8 214.6h0M97.0 201.4h0M124.4 200.5h0M109.6 200.8h0M102.7 197.4h0M124.2 201.7h0M97.7 206.0h0M103.9 208.2h0M98.0 201.1h0M96.0 200.8h0M102.2 210.5h0M111.3 196.5h0M94.8 213.3h0M112.6 192.1h0M98.7 209.2h0M104.1 209.3h0M114.8 206.4h0M104.3 211.6h0M108.4 216.1h0M89.0 215.2h0M95.8 217.7h0M102.8 217.4h0M98.2 221.9h0M96.1 196.4h0M109.0 193.0h0M114.2 189.7h0M88.9 205.3h0M101.5 203.6h0M94.4 200.4h0M106.6 189.8h0M106.8 192.3h0M107.1 220.0h0M116.6 199.8h0M101.6 210.0h0M104.4 191.9h0M105.2 194.0h0M108.3 204.5h0M103.7 192.7h0M122.9 201.4h0M94.8 204.8h0M115.4 201.8h0M104.5 206.9h0M105.4 217.5h0M111.4 200.8h0M110.9 205.6h0M119.3 216.4h0M119.2 202.1h0M100.8 218.0h0M107.1 217.2h0M113.6 211.8h0M111.1 203.1h0M91.2 208.5h0M101.2 216.2h0M106.3 210.7h0M123.3 200.1h0M108.2 219.7h0M105.1 192.0h0M93.9 199.5h0M95.8 209.8h0M113.2 215.9h0M103.9 215.3h0M103.1 203.4h0M103.3 208.6h0M116.4 196.9h0M91.6 197.7h0M103.0 194.8h0M98.2 202.5h0M109.4 199.9h0M104.9 200.0h0M95.4 195.1h0M99.9 190.0h0M105.5 206.7h0M114.7 194.2h0M96.2 190.7h0M104.7 195.1h0M108.3 189.0h0M100.8 191.9h0M101.6 194.2h0M86.0 200.4h0M100.1 196.5h0M99.0 189.9h0M99.9 200.2h0M112.0 196.8h0M95.7 202.5h0M98.2 194.1h0M99.6 199.2h0M90.8 196.2h0M99.3 193.0h0M112.1 186.2h0M99.5 196.7h0M101.2 204.3h0M84.3 193.5h0M93.3 187.2h0M95.3 197.9h0M97.6 207.0h0M88.5 197.5h0M102.0 196.3h0M104.5 194.1h0M103.5 194.2h0M96.3 190.2h0M96.8 200.0h0M96.3 200.0h0M98.6 195.7h0M109.5 188.9h0M99.4 201.1h0M104.2 198.1h0M110.3 193.3h0M141.2 146.8h0M123.3 155.7h0M98.0 132.1h0M154.7 207.4h0M171.2 143.3h0M167.7 166.9h0M126.7 190.8h0M160.6 180.4h0M152.8 182.4h0M132.2 151.3h0M125.2 180.5h0M150.5 182.5h0M131.5 152.0h0M139.0 159.2h0M133.9 193.4h0M143.8 95.2h0M124.9 164.9h0M143.1 160.3h0M134.3 195.9h0M120.6 177.4h0M161.6 182.7h0M191.4 137.8h0M124.6 168.6h0M152.4 173.2h0M124.0 150.1h0M176.9 175.8h0M155.8 180.0h0M182.5 156.1h0M147.5 121.2h0M132.0 167.2h0M155.1 142.0h0M108.1 139.1h0M90.5 133.4h0M136.4 170.5h0M174.1 163.1h0M121.5 164.0h0M130.8 184.4h0M164.5 118.7h0M133.0 209.0h0M167.9 153.9h0M191.5 169.9h0M133.6 162.1h0M149.9 190.4h0M105.5 129.8h0M186.4 154.9h0M186.7 191.7h0M157.5 211.9h0M142.0 192.2h0M174.8 206.6h0M115.1 167.4h0M198.4 194.6h0M193.6 224.8h0M127.7 168.1h0M196.8 188.4h0M118.1 185.4h0M161.4 149.9h0M134.7 202.3h0M171.8 129.0h0"/>
<path id="p_read_T" d="M89.7 207.5h0M93.3 206.0h0M89.6 200.1h0M84.7 207.1h0M91.9 195.2h0M93.0 209.7h0M91.0 214.8h0M90.5 193.4h0M84.3 208.3h0M89.5 207.1h0M88.8 208.4h0M93.0 205.4h0M86.9 203.0h0M85.1 209.6h0M89.3 215.6h0M95.4 205.7h0M85.1 209.5h0M94.7 208.7h0M90.3 195.7h0M89.1 200.6h0M92.1 213.8h0M84.8 203.2h0M88.5 208.7h0M88.0 216.7h0M89.6 204.7h0M92.3 208.6h0M89.5 199.0h0M86.9 213.3h0M88.4 213.7h0M92.6 200.1h0M83.8 205.0h0M86.1 217.1h0M93.0 201.6h0M85.6 209.6h0M90.9 211.0h0M85.1 205.3h0M91.3 212.1h0M90.2 214.6h0M90.5 201.8h0M86.0 215.7h0M89.3 198.9h0M92.3 208.6h0M86.3 205.2h0M94.8 210.7h0M90.5 209.0h0M88.1 213.5h0M93.5 207.5h0M82.9 208.7h0M96.9 208.8h0M88.6 203.9h0M94.7 207.3h0M85.4 217.7h0M89.0 206.4h0M87.6 206.5h0M85.2 206.6h0M91.2 197.7h0M92.2 198.1h0M87.6 199.7h0M92.3 213.9h0M91.3 199.5h0M85.9 213.3h0M89.8 206.8h0M86.5 217.8h0M90.7 204.8h0M87.5 208.3h0M95.3 200.2h0M90.4 198.9h0M91.0 198.8h0M92.2 208.0h0M93.0 198.6h0M87.7 210.0h0M88.0 212.9h0M86.5 216.6h0M89.6 206.6h0M93.1 205.2h0M93.0 208.4h0M86.9 201.3h0M90.3 197.7h0M89.2 206.1h0M92.8 207.1h0M84.5 218.5h0M85.9 203.4h0M89.8 215.2h0M94.5 209.9h0M81.9 206.0h0M95.9 210.1h0M89.2 214.5h0M94.5 213.4h0M86.6 202.2h0M93.6 211.2h0M95.5 202.1h0M86.3 218.1h0M90.6 195.9h0M90.2 216.0h0M96.9 208.7h0M86.9 194.5h0M85.2 205.5h0M92.0 206.6h0M90.3 219.6h0M91.7 202.1h0M89.4 215.2h0M85.4 206.0h0M91.3 216.7h0M95.6 203.6h0M88.4 206.5h0M85.2 209.8h0M86.4 206.0h0M93.0 200.3h0M87.7 200.5h0M82.2 208.5h0M86.6 196.5h0M94.1 213.1h0M86.7 208.9h0M87.4 212.4h0M88.0 211.2h0M90.8 205.3h0M81.0 204.8h0M95.2 206.8h0M87.9 217.6h0M84.4 209.0h0M92.3 199.8h0M91.9 204.1h0M105.5 202.5h0M88.8 204.3h0M118.2 208.6h0M84.4 216.7h0M110.6 202.0h0M101.7 208.4h0M94.3 209.1h0M87.5 211.3h0M109.0 201.6h0M106.2 214.5h0M105.4 219.9h0M100.7 202.3h0M107.2 212.5h0M82.7 208.9h0M94.3 205.3h0M101.4 220.5h0M104.1 202.9h0M95.9 210.0h0M104.0 230.0h0M92.7 203.8h0M108.7 205.5h0M102.1 195.4h0M86.9 213.7h0M92.1 214.4h0M96.6 210.8h0M110.5 201.9h0M94.0 217.4h0M100.7 207.1h0M108.0 200.4h0M100.3 198.2h0M89.5 213.5h0M110.7 209.7h0M88.3 207.2h0M103.2 208.0h0M110.2 201.7h0M103.1 205.4h0M99.8 205.5h0M104.6 198.6h0M98.0 210.9h0M107.7 216.7h0M102.0 217.3h0M111.1 207.2h0M116.9 220.4h0M98.1 207.2h0M96.6 207.3h0M103.4 210.4h0M97.2 212.1h0M110.5 215.4h0M106.0 205.6h0M98.0 221.4h0M100.9 202.2h0M108.0 221.3h0M88.0 221.3h0M92.4 215.0h0M101.1 203.4h0M92.6 200.1h0M90.1 205.2h0M108.9 206.2h0M116.5 206.2h0M94.7 208.1h0M114.2 202.4h0M100.4 216.1h0M96.3 212.2h0M99.0 206.6h0M99.3 206.2h0M106.7 195.7h0M89.8 204.4h0M87.7 200.5h0M90.3 207.0h0M86.2 205.6h0M94.8 216.0h0M86.9 194.8h0M142.7 132.9h0M153.7 114.2h0M121.6 159.8h0M126.4 155.5h0M96.3 144.2h0M131.1 118.0h0M145.3 122.0h0M113.0 120.5h0M136.4 132.8h0M145.6 170.9h0M123.8 164.0h0M184.9 130.6h0M200.5 187.9h0M136.7 191.1h0M144.3 101.0h0M125.0 181.1h0M156.9 176.7h0"/>
<path id="p_thca_N" d="M136.0 22.2h0M136.0 16.6h0M135.3 17.1h0M135.7 20.0h0M136.1 16.7h0M134.5 15.3h0M137.1 21.9h0M135.6 14.2h0M137.4 22.8h0M135.8 16.6h0M137.3 18.8h0M136.7 20.3h0M135.9 15.4h0M135.6 14.4h0M136.4 18.8h0M137.0 15.1h0M135.0 13.3h0M134.5 12.5h0M136.6 24.5h0M137.2 22.0h0M137.9 23.6h0M136.6 15.1h0M136.1 20.8h0M134.2 17.2h0M136.3 22.5h0M135.6 16.7h0M135.9 23.2h0M136.1 19.1h0M133.7 14.0h0M136.3 12.5h0M135.4 18.2h0M136.9 23.5h0M136.7 24.1h0M135.8 19.9h0M136.1 17.8h0M137.5 18.6h0M137.4 22.1h0M138.9 21.0h0M137.2 16.6h0M136.9 21.5h0M137.6 20.4h0M136.0 15.4h0M134.2 18.4h0M136.8 21.1h0M135.6 16.2h0M137.1 23.2h0M136.8 19.9h0M135.6 17.6h0M136.6 18.2h0M135.5 14.5h0M137.3 14.7h0M135.7 21.2h0M134.7 20.5h0M137.1 23.7h0M137.2 20.2h0M136.4 13.9h0M136.0 16.5h0M136.6 19.4h0M136.2 17.5h0M135.9 12.3h0M136.6 16.8h0M136.6 14.9h0M136.1 18.6h0M135.0 17.8h0M136.0 18.8h0M136.4 13.8h0M137.1 22.4h0M136.7 23.4h0M138.2 17.3h0M135.5 14.0h0M136.2 17.7h0M135.7 16.7h0M136.7 16.7h0M137.6 21.2h0M135.0 11.2h0M136.8 21.4h0M136.4 16.2h0M137.5 16.7h0M135.7 14.4h0"/>
<path id="p_brca_N" d="M173.6 25.8h0M177.4 33.3h0M173.5 35.5h0M168.5 27.2h0M166.1 31.0h0M178.1 23.0h0M178.5 32.5h0M174.1 39.5h0M168.5 29.8h0M175.0 39.1h0M174.0 33.1h0M169.1 36.1h0M176.1 37.0h0M175.0 37.4h0M179.6 32.5h0M178.2 36.6h0M167.6 30.5h0M171.6 37.2h0M176.4 18.4h0M170.9 22.5h0M178.9 20.0h0M174.7 19.8h0M178.4 23.7h0M172.8 34.8h0M172.5 32.3h0M174.4 26.7h0M172.4 28.7h0M174.2 31.4h0M180.2 31.9h0M172.3 40.3h0M176.0 19.0h0M174.2 20.0h0M175.7 15.7h0M176.0 37.2h0M168.6 23.3h0M178.4 34.0h0M180.1 24.1h0M176.0 24.4h0M174.0 23.6h0M176.0 35.0h0M170.5 33.0h0M169.5 33.4h0M177.9 33.3h0M169.1 34.7h0M175.3 22.0h0M168.5 30.0h0M176.6 29.5h0M173.5 18.6h0M173.5 27.8h0M173.1 35.3h0M176.2 18.3h0M172.0 23.6h0M170.8 26.3h0M176.2 29.0h0M169.7 24.3h0M181.1 25.2h0M175.6 37.8h0M169.0 38.8h0M172.9 22.6h0M175.8 13.3h0M181.3 22.4h0M174.0 22.4h0M179.5 33.4h0M180.2 21.0h0M175.6 28.1h0M171.4 19.0h0M169.4 23.4h0M169.7 30.7h0M172.9 40.1h0M173.4 24.9h0M180.2 27.3h0M168.6 35.0h0M174.2 26.4h0M177.8 34.0h0M176.9 37.2h0M178.3 36.6h0M171.8 28.2h0M173.0 36.1h0M173.8 38.2h0M167.6 30.9h0M167.6 35.3h0M172.4 26.4h0M167.6 35.9h0M175.2 31.2h0M177.6 18.0h0M174.5 38.1h0M176.3 27.6h0M173.0 30.0h0M175.0 18.7h0M170.1 22.7h0M176.6 34.4h0M173.8 25.2h0M175.7 23.0h0M173.5 26.3h0M179.4 23.1h0M181.3 23.5h0M179.8 26.2h0M170.9 35.4h0M166.9 25.7h0M177.1 29.4h0M174.4 27.6h0M168.3 31.5h0M178.0 20.4h0M171.9 28.8h0M176.0 22.1h0M178.8 18.1h0M175.6 19.7h0M169.9 36.5h0M168.3 35.2h0M169.4 27.3h0M177.9 26.3h0M174.2 25.1h0M178.3 28.2h0M176.7 31.1h0M181.2 20.9h0M177.9 31.8h0M173.3 22.7h0M174.0 28.7h0M179.1 20.3h0M177.4 29.0h0M167.9 36.7h0M177.6 35.2h0M166.3 35.0h0M168.7 26.3h0M179.4 34.6h0M178.0 26.6h0M177.4 25.9h0M167.5 34.7h0M170.9 29.2h0M172.4 26.8h0M171.1 27.4h0M179.3 26.7h0M170.8 25.8h0M175.8 31.3h0M172.2 37.3h0M169.1 36.1h0M169.0 34.1h0M172.4 21.5h0M170.7 32.2h0M174.0 33.8h0M173.0 23.7h0M175.3 37.9h0M171.0 23.9h0M168.6 38.0h0M179.5 25.3h0M179.3 26.6h0M168.7 33.8h0M173.0 41.0h0M177.5 21.2h0M179.8 28.2h0M176.4 18.2h0M179.4 25.0h0M172.3 27.7h0M181.6 25.5h0M177.2 28.0h0M173.6 29.3h0M176.8 35.7h0M173.9 36.5h0M173.6 29.4h0M176.7 21.0h0M177.6 16.4h0M171.8 28.9h0M168.1 31.4h0M167.6 34.7h0M181.0 25.3h0M170.9 33.5h0M175.3 22.5h0M173.4 20.2h0M174.1 37.6h0M176.6 18.2h0M179.1 32.3h0M170.6 32.2h0M170.8 20.8h0M170.9 22.2h0M173.8 19.0h0M177.3 22.8h0M174.4 29.3h0M174.9 26.5h0M171.3 31.6h0M168.8 38.6h0M171.8 32.0h0M175.7 36.5h0M173.3 30.9h0M174.3 36.7h0M172.3 30.2h0M172.6 27.5h0M173.9 30.2h0M174.7 28.9h0M169.6 28.0h0M175.8 23.5h0M172.6 21.3h0M172.9 33.8h0M175.2 28.8h0M166.2 32.3h0M171.2 29.7h0M178.2 25.6h0M177.6 28.8h0M174.4 31.1h0M176.5 33.4h0M180.6 26.0h0M169.4 36.4h0M177.0 32.7h0M176.9 37.1h0M171.3 27.8h0M176.0 16.5h0M174.1 25.6h0M180.6 28.5h0M176.5 18.6h0M172.2 31.3h0M170.6 29.8h0M169.3 27.3h0M176.7 29.8h0M174.2 20.6h0M168.4 36.6h0M170.9 20.1h0M173.8 19.2h0M174.0 31.2h0M170.0 33.3h0M172.2 30.6h0M173.6 30.0h0M166.8 27.9h0M178.6 23.6h0M173.7 30.4h0M176.3 25.6h0M179.6 33.8h0M178.6 35.3h0M181.1 23.9h0M173.9 31.8h0M176.5 37.8h0M170.7 27.4h0M170.7 26.2h0M175.7 33.8h0M178.9 31.7h0M174.9 28.9h0M170.4 36.9h0M168.4 30.3h0M168.1 36.4h0M173.6 38.1h0M168.5 24.0h0M176.2 36.7h0M169.7 29.6h0M180.1 29.1h0M176.6 37.0h0M168.6 31.9h0M173.4 26.3h0M172.6 41.2h0M179.1 17.4h0M175.8 26.2h0M176.0 29.8h0M177.2 32.0h0M176.3 37.8h0M170.5 23.8h0M174.9 35.6h0M169.6 24.9h0M174.5 25.3h0M166.4 27.4h0M172.1 24.7h0M172.8 36.6h0M173.5 37.8h0M171.5 33.6h0M167.2 34.8h0M172.7 19.9h0M175.4 34.6h0M166.5 31.3h0M170.3 25.5h0M172.9 31.2h0M179.1 25.1h0M176.8 23.9h0M173.2 37.3h0M167.7 28.8h0M171.8 22.9h0M171.8 38.0h0M172.2 24.5h0M175.5 34.5h0M168.1 30.7h0M175.8 26.5h0M178.5 22.4h0M169.0 32.4h0M169.5 39.0h0M172.8 21.0h0M176.6 19.8h0M166.7 30.7h0M176.4 34.9h0M169.5 34.5h0M175.0 24.7h0M180.5 28.7h0M177.9 17.0h0M170.7 34.2h0M169.4 36.8h0M168.4 38.3h0M171.5 38.1h0M171.4 40.6h0M172.7 41.0h0M170.6 39.4h0M170.4 37.2h0M168.9 42.4h0M169.3 40.0h0M172.7 39.4h0M169.8 39.7h0M172.8 37.0h0M169.3 37.9h0M171.7 40.6h0M169.8 39.1h0M171.9 36.5h0M170.4 39.8h0M171.6 40.3h0M168.6 38.8h0M169.8 39.4h0M171.2 38.7h0M170.9 43.3h0"/>
<path id="p_coad_N" d="M225.0 26.8h0M226.9 30.0h0M224.6 30.8h0M224.5 32.9h0M224.4 27.7h0M227.7 26.7h0M227.3 31.2h0M225.2 27.4h0M225.2 26.4h0M227.3 30.5h0M226.3 27.4h0M229.3 25.7h0M224.5 26.3h0M228.2 30.4h0M224.9 26.1h0M223.1 28.5h0M227.0 24.1h0M226.6 25.6h0M225.9 28.4h0M228.6 27.7h0M224.9 30.4h0M227.5 24.9h0M225.2 27.5h0M225.7 26.8h0M226.5 30.7h0M225.2 27.9h0M224.9 30.4h0M226.0 27.0h0M225.7 24.2h0M225.7 29.4h0M227.7 24.9h0M228.8 28.8h0M227.1 29.4h0M227.7 27.3h0M223.7 25.0h0M225.7 26.0h0M226.2 27.4h0M227.8 28.2h0M226.6 32.7h0M225.6 26.6h0M229.4 28.0h0M229.4 28.4h0M225.5 28.4h0M226.9 26.8h0M228.9 26.2h0M228.4 25.3h0M228.0 24.2h0M226.1 28.2h0M226.3 30.4h0M222.9 28.9h0M229.3 26.3h0M227.6 23.2h0M230.0 27.0h0M224.7 25.5h0M229.1 25.9h0M226.5 26.8h0M226.3 26.2h0M227.6 24.3h0M225.5 31.1h0M228.5 24.5h0M227.8 24.9h0M227.9 25.9h0M225.3 31.2h0M227.3 30.4h0M226.0 24.4h0M226.6 26.6h0M225.6 32.3h0M228.9 28.4h0M227.1 31.1h0M223.7 29.9h0M224.0 30.0h0M226.6 28.5h0M224.2 28.4h0M227.9 25.7h0M229.6 24.2h0M227.0 30.6h0M229.5 28.0h0M229.6 27.5h0M225.6 29.9h0"/>
<path id="p_read_N" d="M230.0 32.8h0M226.4 33.0h0M228.1 34.1h0M228.2 33.0h0M229.2 33.8h0M228.1 33.1h0"/>
<path id="p_stad_N" d="M205.0 36.8h0M206.0 50.7h0M205.4 49.1h0M207.6 49.2h0M207.5 41.2h0M208.3 41.8h0M203.4 43.2h0M209.2 46.9h0M205.8 39.5h0M209.9 50.1h0M208.5 43.2h0M209.0 51.4h0M203.8 48.5h0M203.4 52.6h0M203.8 49.6h0M206.6 53.4h0M204.1 49.5h0M208.5 52.8h0M204.1 50.0h0M203.6 47.8h0M205.5 42.7h0M208.7 40.4h0M206.0 50.0h0M205.5 42.9h0M208.5 42.5h0M207.8 43.2h0M207.3 52.7h0M210.1 48.3h0M206.2 53.5h0M204.2 52.0h0M208.6 47.8h0M206.5 38.7h0M204.7 51.2h0M204.7 51.9h0M207.8 46.2h0M206.6 48.9h0M208.0 52.6h0M205.1 44.4h0M207.7 52.9h0M205.0 43.1h0M206.9 54.9h0M203.0 53.0h0M207.8 42.5h0M208.7 49.4h0M203.9 52.9h0M206.3 55.5h0M203.2 48.7h0M208.6 45.0h0M206.4 48.5h0M205.2 46.0h0M208.9 41.3h0M204.9 51.1h0M202.9 43.6h0M206.5 46.9h0M206.3 43.9h0M202.4 50.9h0M202.1 45.7h0M204.8 46.1h0M203.6 42.3h0M207.5 43.3h0M206.2 42.1h0M205.4 46.2h0M204.4 51.6h0M208.9 44.5h0M208.1 42.6h0M204.1 47.5h0M208.2 51.2h0M207.4 46.7h0M206.0 39.9h0M207.3 45.2h0M203.9 45.7h0M203.8 42.2h0M203.4 49.1h0M208.9 51.9h0M208.5 48.5h0M207.9 48.3h0M202.9 46.0h0M205.7 41.1h0M206.9 46.1h0M205.4 45.2h0M204.3 52.1h0M208.3 52.8h0M206.3 49.5h0M208.9 47.7h0M205.9 42.8h0M202.4 49.3h0M206.5 52.1h0M210.6 45.6h0M205.8 53.1h0M205.8 46.7h0M207.9 53.6h0M208.1 43.0h0M208.1 43.5h0M205.6 45.9h0M204.4 54.3h0M203.0 49.7h0M205.8 42.6h0M206.5 55.7h0M207.2 43.9h0M209.3 46.7h0M203.4 53.2h0M205.3 46.5h0M206.4 41.0h0M206.6 50.5h0M204.1 40.2h0M208.1 42.4h0M208.9 42.6h0M207.9 45.3h0M206.9 45.7h0M209.5 47.4h0M208.8 39.4h0M207.6 41.4h0M207.4 55.1h0M205.5 40.2h0M207.0 51.5h0M206.0 46.8h0M206.2 47.8h0M203.0 51.7h0M207.7 44.0h0M206.9 41.2h0M204.6 45.0h0M204.0 45.5h0M204.0 56.8h0M206.3 58.6h0M207.1 60.0h0M207.0 56.4h0M207.1 56.7h0M207.3 59.6h0M206.5 59.3h0"/>
<path id="p_esca_N" d="M187.2 56.8h0M188.9 57.5h0M189.9 58.3h0M186.3 56.9h0M192.0 58.3h0M192.0 58.2h0M189.3 57.8h0M186.5 56.9h0M188.8 57.5h0M190.8 58.7h0M187.7 56.9h0M186.7 57.4h0M185.6 57.1h0M188.9 58.0h0M188.9 57.3h0M185.7 57.3h0M185.9 57.2h0M186.7 57.3h0M186.4 56.5h0M188.7 58.2h0M187.5 57.7h0M184.8 55.8h0M185.0 56.8h0M188.6 58.5h0M190.1 58.2h0M190.5 58.4h0M185.8 57.7h0M190.0 58.7h0M191.7 58.3h0M187.2 57.8h0M186.2 56.8h0M187.7 57.5h0"/>
<path id="p_paad_N" d="M174.8 65.3h0M174.7 67.5h0M174.8 65.1h0M174.0 65.4h0M176.2 66.4h0M176.1 66.3h0M176.4 64.3h0M173.3 66.2h0M175.3 64.9h0M174.4 65.5h0M175.4 65.2h0M173.8 65.4h0M174.0 66.1h0M174.7 66.7h0"/>
<path id="p_blca_N" d="M206.4 65.0h0M206.2 68.0h0M206.3 66.2h0M207.4 64.2h0M207.6 66.0h0M206.3 63.6h0M206.6 64.8h0M206.1 64.4h0M207.3 64.5h0M206.0 65.6h0M208.1 64.2h0M205.9 67.1h0M205.2 65.1h0M208.0 65.3h0M206.4 65.5h0M207.5 64.6h0M206.9 64.8h0M207.3 65.8h0M206.4 65.3h0M207.1 66.9h0M206.9 64.5h0M207.0 67.9h0"/>
<path id="p_sarc_N" d="M224.2 61.0h0M221.3 61.4h0M223.4 60.2h0M222.9 60.4h0"/>
<path id="p_ucec_N" d="M233.6 62.2h0M236.3 63.2h0M236.0 63.1h0M234.7 62.3h0M232.3 59.2h0M231.6 60.2h0M234.8 61.0h0M237.1 64.0h0M232.4 62.0h0M233.6 60.9h0M232.1 61.0h0M234.5 61.7h0M234.1 62.5h0M232.0 60.3h0M235.1 62.8h0M234.4 61.4h0M235.2 62.2h0M238.1 64.8h0M236.0 63.1h0M233.7 60.7h0M235.6 63.2h0M231.7 60.0h0M237.1 64.4h0M231.6 59.2h0M231.3 61.0h0M233.3 60.7h0M236.2 64.3h0M236.6 64.9h0M234.1 62.3h0"/>
<path id="p_ov_N" d="M253.6 60.0h0M250.1 56.6h0M251.6 59.9h0M254.8 56.5h0M252.6 55.8h0M252.2 60.6h0M250.3 57.6h0M258.5 56.5h0M252.2 58.2h0M252.8 60.1h0M253.7 57.4h0M257.6 56.6h0M256.6 60.7h0M254.1 63.0h0M254.6 55.6h0M254.7 60.5h0M252.2 55.7h0M256.4 56.2h0M252.8 59.5h0M256.5 54.0h0M253.9 57.9h0M253.9 56.8h0M252.5 55.4h0M254.6 57.4h0M252.2 59.7h0M252.8 57.7h0M257.8 54.0h0M255.4 57.1h0M253.8 52.9h0M255.8 59.9h0M254.5 62.1h0M258.4 57.7h0M255.0 59.5h0M250.8 57.7h0M258.2 61.4h0M258.4 59.3h0M257.4 61.1h0M258.7 61.2h0M257.5 53.5h0M255.8 52.4h0M251.0 58.6h0M250.9 54.3h0M257.2 60.1h0M256.5 54.6h0M250.9 56.1h0M253.9 55.6h0M258.5 55.1h0M255.4 54.7h0M253.3 56.2h0M256.6 52.0h0M254.0 53.2h0M257.9 53.0h0M257.8 52.6h0M254.3 62.7h0M255.6 52.9h0M254.5 54.1h0M257.8 59.2h0M251.6 59.9h0M255.1 55.9h0M250.4 56.0h0M251.5 58.8h0M255.2 57.8h0M256.6 53.5h0M254.6 53.3h0M253.6 62.9h0M255.6 51.0h0M257.6 56.4h0M257.5 56.7h0M249.9 56.6h0M251.4 59.7h0M251.7 57.8h0M251.8 60.1h0M258.2 55.4h0M251.8 58.1h0M256.6 51.3h0M254.0 60.1h0M258.4 53.8h0M250.4 54.7h0M256.2 58.6h0M252.2 63.0h0M253.9 60.6h0M254.6 53.8h0M254.3 50.2h0M252.6 57.6h0M250.4 55.5h0M254.8 55.5h0"/>
<path id="p_hnsc_N" d="M190.9 75.8h0M191.9 78.2h0M190.3 77.5h0M190.8 76.6h0M192.2 78.7h0M191.0 76.9h0M191.2 77.8h0M190.3 75.9h0M191.1 76.6h0M190.9 77.5h0M189.4 74.7h0M189.6 74.0h0M189.8 75.5h0M191.5 77.1h0M191.5 77.1h0M190.1 74.8h0M191.5 79.0h0M191.9 78.4h0M191.5 78.1h0M190.0 74.9h0"/>
<path id="p_prad_N" d="M216.7 85.4h0M217.8 80.8h0M216.8 79.9h0M218.5 82.4h0M213.7 86.9h0M219.0 90.9h0M217.9 84.8h0M215.4 79.3h0M213.2 85.3h0M218.7 81.9h0M217.2 84.5h0M215.5 82.5h0M218.3 83.9h0M217.5 92.0h0M217.8 90.4h0M214.9 83.7h0M216.4 89.9h0M213.8 87.9h0M220.7 86.7h0M217.5 77.6h0M216.9 86.9h0M218.6 81.5h0M213.6 88.5h0M221.0 81.7h0M217.1 86.1h0M214.9 87.3h0M217.9 87.2h0M212.6 89.7h0M219.5 79.6h0M216.2 79.7h0M216.8 93.2h0M214.0 89.3h0M218.1 83.2h0M217.4 82.6h0M215.6 89.1h0M212.8 90.9h0M215.6 85.6h0M215.9 84.2h0M220.0 83.2h0M216.2 88.4h0M219.1 88.4h0M219.1 85.5h0M218.9 80.2h0M218.3 80.1h0M214.9 87.1h0M214.3 92.2h0M219.2 84.7h0M218.9 86.9h0M215.4 82.2h0M216.2 86.8h0M216.2 87.9h0M214.9 89.5h0M215.2 84.0h0M213.7 86.1h0M219.0 85.7h0M214.6 89.5h0M215.6 87.4h0M212.6 87.2h0M214.9 82.3h0M221.2 84.8h0M216.7 84.4h0M214.0 91.3h0M213.6 82.4h0M213.3 92.4h0M216.2 87.0h0"/>
<path id="p_lusc_N" d="M281.4 81.0h0M272.7 88.4h0M272.2 80.9h0M286.4 84.6h0M277.3 86.8h0M273.3 87.1h0M268.6 79.3h0M274.9 91.3h0M273.7 76.4h0M273.2 85.9h0M277.7 81.6h0M279.4 81.0h0M267.3 88.1h0M279.1 84.5h0M276.7 90.2h0M285.1 79.7h0M281.0 87.6h0M280.5 92.9h0M268.8 88.0h0M267.6 88.8h0M281.2 80.8h0M275.6 83.4h0M268.5 84.2h0M284.7 85.0h0M281.0 82.6h0M280.0 86.9h0M271.5 79.6h0M272.0 91.3h0M278.2 82.3h0M274.7 90.3h0M284.8 81.8h0M277.3 84.8h0M284.9 86.2h0M270.8 83.1h0M273.3 87.1h0M278.0 80.6h0M271.4 81.1h0M276.6 82.8h0M273.5 83.5h0M279.0 85.1h0M281.9 86.9h0M270.3 81.6h0M279.0 78.7h0M283.4 82.4h0M275.7 94.4h0M276.0 94.3h0M270.5 85.5h0M281.4 77.3h0M273.4 88.2h0M272.8 88.5h0M275.8 88.8h0M277.7 95.7h0M284.0 90.9h0M275.9 78.6h0M283.8 89.6h0M275.4 89.4h0M275.5 82.7h0M282.5 85.1h0M267.5 84.3h0M269.7 88.7h0M282.2 81.2h0M274.0 91.0h0M271.1 80.6h0M285.1 79.2h0M275.8 88.4h0M281.6 77.7h0M285.7 87.5h0M273.6 83.6h0M274.5 85.9h0M276.4 88.5h0M272.9 93.9h0M281.8 87.8h0M267.3 83.4h0M272.2 77.8h0M285.1 84.1h0M271.1 79.7h0M279.1 86.4h0M267.4 84.5h0M284.5 80.3h0M274.7 81.0h0M271.5 88.9h0M282.5 92.4h0M283.6 87.5h0M270.3 90.8h0M278.3 81.3h0M278.9 95.4h0M278.5 80.5h0M281.3 78.7h0M272.2 81.4h0M282.9 86.0h0M276.1 87.7h0M280.3 83.9h0M281.5 83.4h0M276.4 79.8h0M278.1 83.5h0M276.2 80.1h0M271.8 86.6h0M286.2 85.6h0M278.5 83.1h0M279.5 87.2h0M279.8 92.2h0M275.4 85.6h0M278.6 85.0h0M276.5 85.8h0M270.7 84.5h0M284.0 80.0h0M269.0 83.2h0M283.9 87.8h0M271.0 82.8h0M277.0 80.6h0M275.2 93.6h0M278.1 92.7h0M283.1 84.5h0M282.2 91.1h0M278.5 89.1h0M275.3 76.2h0M276.4 81.1h0M279.7 79.9h0M269.1 95.0h0M270.4 80.0h0M279.2 95.2h0M277.7 90.6h0M276.0 77.1h0M284.2 83.7h0M282.6 79.6h0M270.4 79.9h0M273.9 85.6h0M273.3 92.3h0M286.9 87.5h0M272.9 80.6h0M284.7 89.4h0M271.1 89.3h0M280.9 85.9h0M269.5 89.7h0M268.7 86.5h0M275.9 92.7h0M276.6 91.0h0M283.3 92.5h0M274.3 89.7h0M275.6 85.9h0M281.0 87.3h0M277.1 94.5h0M272.4 81.6h0M281.4 78.3h0M281.5 81.8h0M277.7 93.8h0M279.8 84.8h0M278.8 76.3h0M279.7 90.6h0M270.9 85.6h0M275.7 88.6h0M275.0 91.6h0M279.8 90.3h0M284.2 83.7h0M270.4 85.3h0M275.6 80.5h0M278.1 86.9h0M274.1 81.3h0M276.3 86.2h0M273.7 94.1h0M282.9 82.0h0M271.1 84.9h0M275.3 78.2h0M286.2 91.1h0M282.1 79.3h0M279.9 89.0h0M276.0 77.5h0M279.2 81.6h0M273.0 82.8h0M271.9 85.8h0M280.8 79.8h0M270.3 85.6h0M266.3 86.4h0M271.0 79.9h0M283.1 78.4h0M275.7 85.9h0M280.9 87.7h0M278.0 78.5h0M272.8 81.0h0M270.3 83.5h0M276.0 83.5h0M278.7 90.5h0M273.3 79.1h0M284.6 90.5h0M268.2 86.7h0M279.6 82.1h0M280.1 78.4h0M284.3 80.4h0M283.2 85.4h0M272.6 83.5h0M284.1 92.2h0M277.8 90.2h0M272.0 82.2h0M284.3 90.6h0"/>
<path id="p_luad_N" d="M269.9 102.3h0M271.9 99.2h0M268.8 95.5h0M280.7 98.6h0M269.1 102.7h0M276.6 91.1h0M275.9 96.8h0M273.8 106.7h0M273.8 97.7h0M267.5 92.6h0M277.6 96.9h0M273.2 99.6h0M279.7 91.0h0M278.0 94.0h0M272.1 91.8h0M276.8 91.7h0M277.6 91.3h0M269.9 92.6h0M269.2 92.5h0M276.9 99.8h0M273.6 104.2h0M279.5 101.9h0M268.6 97.4h0M277.7 103.1h0M267.5 99.2h0M280.8 98.6h0M270.5 108.9h0M274.4 96.8h0M270.6 97.9h0M275.6 100.7h0M269.8 107.1h0M272.0 106.3h0M271.1 99.4h0M277.1 104.6h0M273.7 97.5h0M265.0 100.2h0M275.1 100.9h0M279.1 97.5h0M270.9 104.6h0M276.0 93.8h0M273.7 90.8h0M278.9 102.4h0M272.4 100.3h0M270.0 106.2h0M271.2 90.6h0M273.0 100.3h0M275.0 94.4h0M274.7 105.4h0M273.4 95.2h0M274.9 96.3h0M274.3 93.4h0M271.5 105.8h0M272.2 90.2h0M278.9 99.2h0M278.8 104.2h0M278.0 94.4h0M277.4 101.2h0M280.0 97.7h0M274.8 100.8h0M266.7 99.8h0M270.1 98.0h0M273.3 106.4h0M268.6 105.5h0M279.1 97.9h0M267.0 98.2h0M276.5 101.6h0M264.9 102.8h0M268.8 92.2h0M272.2 98.6h0M279.0 97.4h0M270.6 89.6h0M265.4 93.4h0M264.2 99.2h0M268.3 98.6h0M277.9 91.6h0M265.9 104.0h0M280.4 99.4h0M272.9 100.6h0M274.0 104.5h0M267.6 102.1h0M266.6 102.7h0M266.9 91.6h0M279.5 102.8h0M278.0 96.1h0M268.4 106.8h0M274.5 100.9h0M272.3 102.6h0M278.9 102.7h0M269.7 95.0h0M276.1 91.7h0M266.6 105.5h0M269.6 100.7h0M274.1 103.2h0M274.6 106.5h0M275.3 104.1h0M277.1 99.7h0M272.5 105.6h0M268.4 99.3h0M273.8 90.6h0M274.9 93.3h0M268.7 103.6h0M273.6 104.9h0M274.2 92.5h0M268.9 107.3h0M270.1 95.5h0M270.2 100.5h0M269.7 96.6h0M270.6 94.0h0M270.8 100.3h0M271.8 98.0h0M267.9 99.9h0M269.3 89.7h0M270.4 95.2h0M276.2 100.1h0M272.2 97.4h0M278.4 91.9h0M269.8 105.8h0M278.8 98.1h0M269.2 100.6h0M269.3 103.2h0M275.0 102.8h0M269.5 98.0h0M273.9 105.5h0M273.1 107.1h0M266.6 96.6h0M271.4 100.5h0M270.2 103.8h0M271.8 88.0h0M275.6 101.2h0M268.3 90.4h0M274.0 92.5h0M279.9 99.8h0M280.0 97.4h0M275.9 96.1h0M270.0 94.8h0M269.1 90.7h0M277.9 103.3h0M278.3 103.2h0M271.4 93.2h0M272.3 103.8h0M276.5 107.2h0M271.4 93.8h0M271.0 102.1h0M263.1 102.2h0M276.2 98.7h0M274.9 96.6h0M267.3 99.2h0M275.1 104.1h0M268.1 106.2h0M266.6 95.4h0M272.2 92.7h0M268.2 90.5h0M268.5 103.8h0M265.4 95.1h0M273.2 102.2h0M267.7 99.3h0M268.3 98.3h0M264.6 98.5h0M275.5 97.9h0M266.7 105.1h0M272.0 98.2h0M274.8 104.3h0M261.6 97.1h0M264.0 101.4h0M270.1 102.7h0M274.3 91.6h0M275.8 103.0h0M271.1 99.0h0M276.5 104.7h0M269.7 98.2h0M268.8 93.0h0M279.5 93.2h0M268.3 94.0h0M277.8 92.6h0M267.0 104.0h0M277.9 95.7h0M269.9 100.3h0M278.5 96.7h0M269.8 102.7h0M272.1 98.2h0"/>
<path id="p_kich_N" d="M298.5 122.7h0M298.0 123.7h0M296.5 126.7h0M295.3 127.1h0M300.6 122.7h0M300.8 120.6h0M300.2 123.8h0M296.3 126.4h0M296.9 124.9h0M296.0 127.0h0M295.6 127.4h0M299.0 124.4h0M295.1 127.2h0M296.1 127.2h0M297.7 124.2h0M298.7 124.4h0M298.1 122.3h0M296.0 126.9h0M297.5 126.2h0M299.8 124.3h0M299.6 122.6h0M296.5 125.4h0M299.4 122.7h0M294.4 127.8h0M295.1 126.7h0M298.0 124.5h0M296.7 124.8h0M297.0 124.0h0M295.7 127.4h0M295.8 124.5h0M300.2 121.3h0M300.8 121.2h0M296.7 126.5h0M295.2 125.6h0M297.5 124.6h0M297.1 126.6h0M298.8 125.0h0M296.2 126.9h0M295.5 125.6h0M298.2 122.1h0"/>
<path id="p_lihc_N" d="M223.6 129.4h0M223.6 129.3h0M224.4 130.4h0M219.1 129.5h0M223.1 129.3h0M220.0 128.1h0M222.1 128.9h0M222.0 129.9h0M222.7 129.6h0M227.1 130.9h0M225.9 129.1h0M218.3 129.9h0M220.3 129.3h0M220.5 129.7h0M219.1 128.2h0M220.8 128.1h0M222.5 130.1h0M227.8 130.1h0M220.8 129.1h0M218.0 127.9h0M218.4 128.4h0M221.7 129.2h0M218.7 128.4h0M217.8 128.1h0M219.4 127.6h0M223.1 130.0h0M220.0 128.5h0M218.3 127.9h0M221.5 128.9h0M226.0 130.4h0M223.0 128.5h0M225.3 130.4h0M226.0 130.5h0M222.5 129.3h0M227.7 130.2h0M222.5 127.7h0M221.6 129.7h0M220.3 128.2h0M225.7 129.2h0M223.4 128.9h0M223.3 129.5h0M225.0 129.9h0M219.5 128.9h0M223.5 130.2h0M227.2 129.4h0M228.3 130.1h0M223.0 130.3h0M223.4 130.5h0M229.3 131.7h0M223.8 130.3h0"/>
<path id="p_kirp_N" d="M267.9 136.3h0M271.6 140.3h0M270.0 137.1h0M274.2 138.8h0M269.8 136.5h0M267.4 136.1h0M271.2 139.9h0M271.7 139.0h0M268.1 137.1h0M269.8 136.5h0M269.4 137.8h0M273.3 138.4h0M270.7 136.7h0M266.8 137.8h0M269.9 137.4h0M264.6 137.1h0M267.7 138.2h0M263.7 134.2h0M267.5 135.0h0M275.1 137.7h0M274.0 140.2h0M268.4 138.1h0M266.5 133.6h0M267.6 137.2h0M273.5 138.6h0M271.5 136.8h0M267.1 137.9h0M270.9 139.5h0M262.6 133.8h0M265.9 136.6h0M272.3 135.7h0M262.5 135.9h0M267.8 139.9h0M266.6 135.4h0M262.5 135.7h0M266.2 136.7h0M264.3 134.0h0M264.1 134.5h0M265.2 134.1h0M269.4 136.1h0"/>
<path id="p_kirc_N" d="M290.2 145.8h0M290.4 153.2h0M281.5 142.4h0M276.5 138.0h0M292.0 154.2h0M295.7 143.8h0M291.3 146.0h0M286.5 140.4h0M285.1 144.0h0M294.7 137.4h0M283.2 142.3h0M275.6 141.5h0M285.9 138.9h0M275.7 143.4h0M295.1 150.9h0M287.3 153.7h0M294.6 139.9h0M292.4 152.4h0M291.3 153.3h0M289.7 138.1h0M286.5 143.2h0M298.1 148.7h0M278.4 147.2h0M286.1 139.8h0M292.8 150.7h0M298.6 142.3h0M296.1 153.6h0M279.5 153.2h0M286.2 152.4h0M280.6 145.4h0M301.9 147.7h0M278.2 142.5h0M285.7 136.2h0M288.8 139.6h0M282.7 149.5h0M301.1 143.7h0M286.8 140.7h0M293.6 156.3h0M288.9 152.6h0M292.1 142.6h0M298.3 150.5h0M280.8 150.3h0M284.6 149.6h0M280.1 152.3h0M296.2 150.7h0M292.2 155.6h0M290.8 153.0h0M277.5 142.3h0M288.1 152.1h0M278.2 147.7h0M283.9 153.4h0M292.1 147.4h0M284.3 150.0h0M285.2 142.5h0M273.7 147.2h0M283.5 139.3h0M294.6 153.1h0M288.3 145.2h0M286.2 136.8h0M294.5 149.4h0M285.7 147.0h0M285.1 144.5h0M296.2 141.6h0M282.7 142.2h0M291.5 145.3h0M290.1 151.7h0M279.5 146.3h0M292.2 148.2h0M275.8 146.3h0M299.0 146.3h0M298.5 146.8h0M288.7 147.7h0M278.6 155.1h0M281.7 153.6h0M290.0 146.3h0M289.6 147.8h0M291.0 153.4h0M293.2 139.6h0M287.6 141.8h0M284.7 141.7h0M296.8 147.1h0M287.9 147.1h0M291.2 136.3h0M292.7 148.2h0M280.5 142.6h0M283.7 150.5h0M279.9 151.6h0M272.2 146.0h0M290.6 138.8h0M292.3 146.3h0M289.6 142.0h0M283.0 141.7h0M294.7 137.8h0M294.4 151.3h0M274.6 148.7h0M296.8 145.5h0M276.7 154.4h0M290.8 148.4h0M282.6 141.2h0M288.0 152.1h0M295.7 143.1h0M285.7 156.6h0M283.2 137.3h0M292.3 141.0h0M295.2 149.5h0M293.8 145.5h0M276.8 148.9h0M282.4 145.4h0M279.3 151.0h0M297.9 147.1h0M294.3 143.7h0M290.2 150.1h0M279.2 147.7h0M278.0 152.5h0M277.3 147.0h0M273.3 145.2h0M296.9 146.0h0M289.1 148.4h0M277.4 152.3h0M295.2 139.3h0M287.0 137.6h0M293.2 137.2h0M274.4 148.2h0M283.5 147.9h0M284.0 151.0h0M281.8 152.7h0M294.4 149.8h0M287.7 144.4h0M284.2 152.0h0M279.9 151.7h0M287.3 150.1h0M284.3 139.2h0M284.0 153.4h0M282.1 147.2h0M284.1 155.8h0M289.0 141.8h0M282.4 155.7h0M273.5 141.3h0M285.3 146.2h0M298.2 147.5h0M296.9 144.7h0M289.2 144.4h0M286.8 140.1h0M290.3 150.6h0M294.8 138.8h0M288.3 146.1h0M293.2 141.2h0M282.2 142.3h0M289.5 142.3h0M285.8 157.5h0M287.3 144.1h0M283.9 150.7h0M283.4 149.9h0M292.3 138.3h0M293.7 149.5h0M300.5 148.6h0M281.1 138.4h0M297.6 138.0h0M278.2 142.7h0M275.2 139.7h0M295.0 149.8h0M284.2 146.0h0M291.1 145.2h0M278.1 147.7h0M277.6 143.6h0M287.2 147.1h0M297.0 155.4h0M295.3 141.7h0M291.0 154.3h0M297.7 143.9h0M294.1 142.2h0M289.5 147.6h0M290.1 140.9h0M292.2 147.1h0M290.8 144.8h0M289.4 142.9h0M300.0 146.6h0M285.9 137.5h0M279.9 149.5h0M289.3 149.1h0M274.9 151.6h0M279.0 149.6h0M296.2 141.8h0M281.0 145.1h0M297.3 140.8h0M280.2 143.1h0M277.9 150.8h0M291.2 154.9h0M287.0 142.9h0M278.2 142.0h0M296.3 147.4h0M289.5 156.6h0M280.8 149.1h0M287.9 151.8h0M296.1 146.8h0M299.9 145.8h0M287.6 138.4h0M283.2 138.7h0M277.9 142.5h0M281.1 141.3h0M290.8 153.4h0M283.1 151.0h0M278.7 146.9h0M294.1 140.5h0M284.5 151.3h0M287.0 134.7h0M291.8 148.1h0M283.2 139.7h0M293.6 148.0h0M283.4 147.3h0M297.5 151.6h0M283.8 151.4h0M296.1 141.5h0M287.7 137.4h0M288.7 145.8h0M286.4 141.1h0M276.3 147.3h0M287.8 150.8h0M291.6 140.5h0M292.4 156.2h0M286.1 153.6h0M276.3 141.7h0M287.9 148.6h0M285.8 136.7h0M296.4 150.3h0M293.8 149.7h0M285.1 155.8h0M278.4 150.3h0M287.7 148.3h0M291.8 149.3h0M275.9 148.6h0M294.6 145.5h0M295.7 140.3h0M292.9 140.3h0M284.3 141.0h0M283.6 152.6h0M282.2 148.4h0M289.1 137.6h0M279.8 141.2h0M287.5 146.8h0M285.4 154.2h0M286.5 141.7h0M284.7 137.9h0M285.9 148.1h0M284.2 140.8h0M291.1 147.9h0M282.7 148.6h0M290.5 147.1h0M288.4 146.6h0M300.9 145.7h0M287.0 153.8h0M276.8 139.3h0M287.9 140.8h0M291.2 152.6h0M283.8 145.2h0M293.8 142.3h0M281.0 144.9h0M293.9 139.6h0M287.6 138.9h0M278.7 154.9h0M285.9 148.1h0M297.1 143.6h0M276.5 148.6h0M288.9 145.8h0M294.2 154.6h0M287.3 151.3h0M290.1 154.4h0M287.6 141.7h0M282.0 151.7h0M295.9 152.3h0M293.7 144.7h0M287.9 140.0h0M274.8 144.2h0M297.0 149.4h0M283.1 154.9h0M274.3 148.1h0M282.9 145.6h0M276.3 152.2h0M292.2 137.5h0M298.1 150.9h0M279.3 151.1h0M284.4 142.3h0M286.4 148.5h0M299.7 151.6h0M273.5 145.1h0M288.3 140.1h0M281.0 138.7h0M286.9 143.8h0M301.8 148.2h0M289.2 138.3h0M282.0 140.8h0M276.7 143.3h0M293.0 135.8h0M291.5 148.5h0M276.6 149.9h0M286.4 142.6h0M293.7 140.4h0M280.3 150.6h0M295.3 147.1h0M275.9 143.8h0M278.9 140.3h0M285.6 151.7h0M301.8 144.6h0M283.6 146.6h0M281.7 146.2h0M296.4 139.5h0M287.1 155.3h0M300.5 152.6h0M282.3 153.7h0M289.6 142.2h0M284.5 140.2h0M287.2 145.7h0M278.6 150.2h0M294.9 154.2h0M285.9 147.1h0M280.5 148.2h0M292.0 150.4h0M277.9 145.3h0M281.8 141.4h0M284.7 154.2h0M283.7 141.2h0M291.1 150.6h0M279.3 137.0h0M293.0 147.4h0M276.4 141.8h0M290.0 153.3h0M286.0 138.2h0M295.1 143.1h0M280.1 154.1h0M289.0 148.8h0M273.0 142.4h0M294.0 147.4h0M279.5 137.5h0M288.0 146.7h0M283.3 138.4h0M289.1 141.3h0M283.2 147.0h0M277.1 140.7h0M288.4 137.2h0M289.8 138.4h0M295.3 149.3h0M286.3 154.4h0M285.9 138.7h0M278.6 147.5h0M285.8 140.4h0M275.0 143.4h0M276.0 142.7h0M284.2 145.2h0M284.3 155.1h0M284.8 140.2h0M283.2 138.2h0M288.3 140.6h0M284.9 142.3h0M285.2 155.3h0M275.8 140.2h0M282.7 155.0h0M281.9 147.9h0M287.1 144.6h0M283.9 154.0h0M299.3 143.5h0M288.6 143.6h0M286.7 138.8h0M293.0 155.4h0M278.7 139.0h0M289.9 155.2h0M299.0 149.2h0M283.9 147.6h0M292.2 155.4h0M287.1 139.4h0M284.5 138.6h0M286.1 138.8h0M296.5 144.3h0M297.3 151.9h0M285.9 145.8h0M285.5 147.0h0M294.8 147.5h0M293.8 152.6h0M290.9 146.1h0M298.2 144.4h0M294.1 148.6h0M286.7 154.7h0M294.7 154.2h0M292.4 147.3h0M299.0 151.5h0M301.1 146.5h0M292.5 147.5h0M291.6 138.6h0M278.4 146.0h0M288.2 140.2h0M294.7 147.1h0M283.0 152.2h0M295.6 154.0h0M292.2 156.5h0M292.6 138.0h0M288.9 140.7h0M281.2 142.3h0M288.2 138.4h0M282.7 141.9h0M289.9 152.5h0M296.9 150.8h0M289.9 145.4h0M288.4 137.1h0M284.4 142.8h0M278.8 143.4h0M282.0 145.1h0M297.4 144.1h0M283.0 150.4h0M292.7 144.5h0M277.3 144.7h0M273.3 144.4h0M291.8 140.0h0M280.1 153.6h0M273.4 139.9h0M288.5 137.8h0M280.9 150.4h0M281.8 138.8h0M291.1 153.4h0M285.6 153.9h0M280.0 141.5h0M290.5 150.7h0M282.6 140.9h0M285.1 142.5h0M279.3 143.5h0M298.2 148.1h0M292.0 154.3h0M283.4 146.0h0M280.1 148.4h0M295.7 153.0h0M287.5 138.7h0M291.4 152.5h0M283.8 139.8h0M285.4 154.2h0M292.3 150.0h0M299.6 146.2h0M284.1 150.2h0M278.2 145.0h0M283.2 141.7h0M282.6 144.8h0M295.2 145.9h0M284.5 147.9h0M285.0 154.9h0M283.6 141.0h0M275.3 153.0h0M285.0 151.4h0M278.0 144.5h0M280.7 138.6h0M281.5 144.4h0M280.3 141.1h0M278.4 144.6h0M291.1 148.8h0M277.5 150.1h0M296.4 148.9h0M295.1 145.2h0M289.5 138.5h0M289.1 147.8h0M270.6 146.6h0M278.3 149.0h0M272.2 145.6h0M293.6 140.1h0M276.6 144.9h0M294.9 140.1h0M287.7 155.0h0M287.2 154.1h0M281.0 145.4h0M281.0 153.5h0M289.1 150.1h0M286.1 142.6h0M292.6 147.0h0M281.5 150.3h0M275.9 151.7h0M290.2 144.1h0M272.7 148.7h0M283.2 147.4h0M279.6 142.3h0M288.5 151.1h0M295.7 141.7h0M286.5 154.1h0M293.7 145.4h0M281.4 140.7h0M291.4 150.9h0M284.2 142.6h0M287.3 142.0h0M281.7 148.1h0M285.8 144.9h0M287.9 143.5h0M290.8 146.1h0M290.8 150.7h0M282.7 145.2h0M288.9 154.5h0M286.4 138.2h0M276.3 139.9h0M278.4 138.4h0M288.6 139.6h0M300.1 146.7h0M282.9 154.2h0M298.6 143.4h0M288.0 145.1h0M297.6 153.4h0M289.8 152.4h0M287.6 151.9h0M298.5 147.1h0M297.5 150.0h0M277.3 151.9h0M282.1 153.7h0"/>
</defs>
<g fill="none" stroke-linecap="round" stroke-width="0.9" stroke-opacity="0.68">
<use href="#p_thca_T" stroke="#ff2c16"/>
<use href="#p_brca_T" stroke="#632cfe"/>
<use href="#p_sarc_T" stroke="#ff7f42"/>
<use href="#p_lihc_T" stroke="#63fbc3"/>
<use href="#p_prad_T" stroke="#f1c36c"/>
<use href="#p_blca_T" stroke="#8000ff"/>
<use href="#p_ucec_T" stroke="#ff0000"/>
<use href="#p_hnsc_T" stroke="#0ea4f0"/>
<use href="#p_esca_T" stroke="#2b7ff6"/>
<use href="#p_stad_T" stroke="#ff572c"/>
<use href="#p_paad_T" stroke="#d4dd80"/>
<use href="#p_lusc_T" stroke="#9cfba4"/>
<use href="#p_luad_T" stroke="#80ffb4"/>
<use href="#p_kirp_T" stroke="#47f0d1"/>
<use href="#p_kirc_T" stroke="#2adddd"/>
<use href="#p_kich_T" stroke="#0ec3e7"/>
<use href="#p_ov_T" stroke="#b8f092"/>
<use href="#p_coad_T" stroke="#4757fb"/>
<use href="#p_read_T" stroke="#ffa457"/>
<use href="#p_thca_N" stroke="#ff2c16"/>
<use href="#p_brca_N" stroke="#632cfe"/>
<use href="#p_coad_N" stroke="#4757fb"/>
<use href="#p_read_N" stroke="#ffa457"/>
<use href="#p_stad_N" stroke="#ff572c"/>
<use href="#p_esca_N" stroke="#2b7ff6"/>
<use href="#p_paad_N" stroke="#d4dd80"/>
<use href="#p_blca_N" stroke="#8000ff"/>
<use href="#p_sarc_N" stroke="#ff7f42"/>
<use href="#p_ucec_N" stroke="#ff0000"/>
<use href="#p_ov_N" stroke="#b8f092"/>
<use href="#p_hnsc_N" stroke="#0ea4f0"/>
<use href="#p_prad_N" stroke="#f1c36c"/>
<use href="#p_lusc_N" stroke="#9cfba4"/>
<use href="#p_luad_N" stroke="#80ffb4"/>
<use href="#p_kich_N" stroke="#0ec3e7"/>
<use href="#p_lihc_N" stroke="#63fbc3"/>
<use href="#p_kirp_N" stroke="#47f0d1"/>
<use href="#p_kirc_N" stroke="#2adddd"/>
</g>
<g fill="none" stroke-linecap="round" stroke-width="1.25" stroke-opacity="1" transform="translate(347.255 0.005) scale(1.0744 0.9965)">
<use href="#p_thca_T" stroke="#ff0000"/>
<use href="#p_brca_T" stroke="#ff0000"/>
<use href="#p_sarc_T" stroke="#ff0000"/>
<use href="#p_lihc_T" stroke="#ff0000"/>
<use href="#p_prad_T" stroke="#ff0000"/>
<use href="#p_blca_T" stroke="#ff0000"/>
<use href="#p_ucec_T" stroke="#ff0000"/>
<use href="#p_hnsc_T" stroke="#ff0000"/>
<use href="#p_esca_T" stroke="#ff0000"/>
<use href="#p_stad_T" stroke="#ff0000"/>
<use href="#p_paad_T" stroke="#ff0000"/>
<use href="#p_lusc_T" stroke="#ff0000"/>
<use href="#p_luad_T" stroke="#ff0000"/>
<use href="#p_kirp_T" stroke="#ff0000"/>
<use href="#p_kirc_T" stroke="#ff0000"/>
<use href="#p_kich_T" stroke="#ff0000"/>
<use href="#p_ov_T" stroke="#ff0000"/>
<use href="#p_coad_T" stroke="#ff0000"/>
<use href="#p_read_T" stroke="#ff0000"/>
<use href="#p_thca_N" stroke="#0000ff"/>
<use href="#p_brca_N" stroke="#0000ff"/>
<use href="#p_coad_N" stroke="#0000ff"/>
<use href="#p_read_N" stroke="#0000ff"/>
<use href="#p_stad_N" stroke="#0000ff"/>
<use href="#p_esca_N" stroke="#0000ff"/>
<use href="#p_paad_N" stroke="#0000ff"/>
<use href="#p_blca_N" stroke="#0000ff"/>
<use href="#p_sarc_N" stroke="#0000ff"/>
<use href="#p_ucec_N" stroke="#0000ff"/>
<use href="#p_ov_N" stroke="#0000ff"/>
<use href="#p_hnsc_N" stroke="#0000ff"/>
<use href="#p_prad_N" stroke="#0000ff"/>
<use href="#p_lusc_N" stroke="#0000ff"/>
<use href="#p_luad_N" stroke="#0000ff"/>
<use href="#p_kich_N" stroke="#0000ff"/>
<use href="#p_lihc_N" stroke="#0000ff"/>
<use href="#p_kirp_N" stroke="#0000ff"/>
<use href="#p_kirc_N" stroke="#0000ff"/>
</g>
<rect x="49.6" y="1.5" width="263.4" height="256.0" fill="none" stroke="#999999" stroke-width="1.05"/>
<rect x="400.6" y="1.5" width="282.9" height="255.1" fill="none" stroke="#999999" stroke-width="1.05"/>
<text x="16.6" y="20.0" font-size="18.6" text-anchor="start" textLength="8.7" lengthAdjust="spacingAndGlyphs"  stroke="#111" stroke-width="0.3">a</text>
<text x="362.6" y="21.7" font-size="19.3" text-anchor="start"  stroke="#111" stroke-width="0.3">b</text>
<text x="11.5" y="263.5" font-size="19" text-anchor="start" textLength="8.2" lengthAdjust="spacingAndGlyphs"  stroke="#111" stroke-width="0.5">c</text>
<text x="407.1" y="303.5" font-size="19.3" text-anchor="start"  stroke="#111" stroke-width="0.3">d</text>
<text x="186.5" y="270.7" font-size="12.3" text-anchor="middle" textLength="40.2" lengthAdjust="spacingAndGlyphs" >t-SNE 1</text>
<text x="555.5" y="270.7" font-size="12.3" text-anchor="middle" textLength="40.2" lengthAdjust="spacingAndGlyphs" >t-SNE 1</text>
<text x="42.1" y="122.6" font-size="12.3" text-anchor="middle" transform="rotate(-90 42.1 122.6)" textLength="39.9" lengthAdjust="spacingAndGlyphs" >t-SNE 2</text>
<text x="392.6" y="122.6" font-size="12.3" text-anchor="middle" transform="rotate(-90 392.6 122.6)" textLength="39.9" lengthAdjust="spacingAndGlyphs" >t-SNE 2</text>
<circle cx="602.8" cy="270" r="4.5" fill="#ff2a2a"/>
<circle cx="602.8" cy="286" r="4.5" fill="#0000ff"/>
<text x="623.5" y="274.0" font-size="11.5" text-anchor="start" textLength="31.5" lengthAdjust="spacingAndGlyphs" >tumor</text>
<text x="623.5" y="290.0" font-size="11.5" text-anchor="start" textLength="57.5" lengthAdjust="spacingAndGlyphs" >adj. normal</text>
<text x="137.7" y="17.7" font-size="7.4" text-anchor="start" fill="#000" stroke="#000" stroke-width="0.25">thca</text>
<text x="128.0" y="49.2" font-size="7.4" text-anchor="start" fill="#000" stroke="#000" stroke-width="0.25">thca</text>
<text x="151.5" y="83.9" font-size="7.4" text-anchor="start" fill="#000" stroke="#000" stroke-width="0.25">sarc</text>
<text x="100.0" y="97.7" font-size="7.4" text-anchor="start" fill="#000" stroke="#000" stroke-width="0.25">brca</text>
<text x="142.7" y="122.2" font-size="7.4" text-anchor="start" fill="#000" stroke="#000" stroke-width="0.25">blca</text>
<text x="173.0" y="27.2" font-size="7.4" text-anchor="start" fill="#000" stroke="#000" stroke-width="0.25">brca</text>
<text x="226.6" y="28.1" font-size="7.4" text-anchor="start" fill="#000" stroke="#000" stroke-width="0.25">coad</text>
<text x="228.4" y="34.9" font-size="7.4" text-anchor="start" fill="#000" stroke="#000" stroke-width="0.25">read</text>
<text x="207.3" y="45.4" font-size="7.4" text-anchor="start" fill="#000" stroke="#000" stroke-width="0.25">stad</text>
<text x="189.7" y="57.5" font-size="7.4" text-anchor="start" fill="#000" stroke="#000" stroke-width="0.25">esca</text>
<text x="174.6" y="65.5" font-size="7.4" text-anchor="start" fill="#000" stroke="#000" stroke-width="0.25">paad</text>
<text x="207.8" y="65.8" font-size="7.4" text-anchor="start" fill="#000" stroke="#000" stroke-width="0.25">blca</text>
<text x="224.6" y="60.0" font-size="7.4" text-anchor="start" fill="#000" stroke="#000" stroke-width="0.25">sarc</text>
<text x="236.7" y="60.7" font-size="7.4" text-anchor="start" fill="#000" stroke="#000" stroke-width="0.25">ucec</text>
<text x="253.5" y="57.0" font-size="7.4" text-anchor="start" fill="#000" stroke="#000" stroke-width="0.25">ov</text>
<text x="191.5" y="76.8" font-size="7.4" text-anchor="start" fill="#000" stroke="#000" stroke-width="0.25">hnsc</text>
<text x="218.3" y="84.4" font-size="7.4" text-anchor="start" fill="#000" stroke="#000" stroke-width="0.25">prad</text>
<text x="218.3" y="106.0" font-size="7.4" text-anchor="start" fill="#000" stroke="#000" stroke-width="0.25">prad</text>
<text x="175.9" y="101.4" font-size="7.4" text-anchor="start" fill="#000" stroke="#000" stroke-width="0.25">lihc</text>
<text x="276.9" y="85.9" font-size="7.4" text-anchor="start" fill="#000" stroke="#000" stroke-width="0.25">lusc</text>
<text x="273.1" y="100.9" font-size="7.4" text-anchor="start" fill="#000" stroke="#000" stroke-width="0.25">luad</text>
<text x="299.5" y="123.6" font-size="7.4" text-anchor="start" fill="#000" stroke="#000" stroke-width="0.25">kich</text>
<text x="225.4" y="130.3" font-size="7.4" text-anchor="start" fill="#000" stroke="#000" stroke-width="0.25">lihc</text>
<text x="267.6" y="137.2" font-size="7.4" text-anchor="start" fill="#000" stroke="#000" stroke-width="0.25">kirp</text>
<text x="176.9" y="138.5" font-size="7.4" text-anchor="start" fill="#000" stroke="#000" stroke-width="0.25">hnsc</text>
<text x="288.2" y="146.0" font-size="7.4" text-anchor="start" fill="#000" stroke="#000" stroke-width="0.25">kirc</text>
<text x="224.9" y="154.8" font-size="7.4" text-anchor="start" fill="#000" stroke="#000" stroke-width="0.25">kirp</text>
<text x="163.8" y="174.4" font-size="7.4" text-anchor="start" fill="#000" stroke="#000" stroke-width="0.25">lusc</text>
<text x="194.0" y="177.4" font-size="7.4" text-anchor="start" fill="#000" stroke="#000" stroke-width="0.25">luad</text>
<text x="261.0" y="195.8" font-size="7.4" text-anchor="start" fill="#000" stroke="#000" stroke-width="0.25">kirc</text>
<text x="227.9" y="213.1" font-size="7.4" text-anchor="start" fill="#000" stroke="#000" stroke-width="0.25">kich</text>
<text x="172.6" y="224.2" font-size="7.4" text-anchor="start" fill="#000" stroke="#000" stroke-width="0.25">ov</text>
<text x="93.0" y="142.2" font-size="7.4" text-anchor="start" fill="#000" stroke="#000" stroke-width="0.25">ucec</text>
<text x="143.2" y="141.7" font-size="7.4" text-anchor="start" fill="#000" stroke="#000" stroke-width="0.25">esca</text>
<text x="70.4" y="172.9" font-size="7.4" text-anchor="start" fill="#000" stroke="#000" stroke-width="0.25">paad</text>
<text x="122.4" y="171.6" font-size="7.4" text-anchor="start" fill="#000" stroke="#000" stroke-width="0.25">stad</text>
<text x="93.5" y="204.6" font-size="7.4" text-anchor="start" fill="#000" stroke="#000" stroke-width="0.25">read</text>
<text x="110.6" y="207.6" font-size="7.4" text-anchor="start" fill="#000" stroke="#000" stroke-width="0.25">coad</text>
<rect x="46.70" y="283.00" width="288.80" height="288.80" fill="#00004c"/>
<g shape-rendering="crispEdges">
<rect x="46.70" y="564.20" width="7.65" height="7.65" fill="#ff5252"/>
<rect x="61.90" y="564.20" width="7.65" height="7.65" fill="#000068"/>
<rect x="145.50" y="564.20" width="7.65" height="7.65" fill="#000070"/>
<rect x="160.70" y="564.20" width="7.65" height="7.65" fill="#000058"/>
<rect x="206.30" y="564.20" width="7.65" height="7.65" fill="#000068"/>
<rect x="229.10" y="564.20" width="7.65" height="7.65" fill="#000053"/>
<rect x="297.50" y="564.20" width="7.65" height="7.65" fill="#000056"/>
<rect x="54.30" y="556.60" width="7.65" height="7.65" fill="#ffa3a3"/>
<rect x="69.50" y="556.60" width="7.65" height="7.65" fill="#000070"/>
<rect x="99.90" y="556.60" width="7.65" height="7.65" fill="#000078"/>
<rect x="107.50" y="556.60" width="7.65" height="7.65" fill="#000052"/>
<rect x="115.10" y="556.60" width="7.65" height="7.65" fill="#000060"/>
<rect x="168.30" y="556.60" width="7.65" height="7.65" fill="#000051"/>
<rect x="175.90" y="556.60" width="7.65" height="7.65" fill="#000068"/>
<rect x="206.30" y="556.60" width="7.65" height="7.65" fill="#000080"/>
<rect x="244.30" y="556.60" width="7.65" height="7.65" fill="#000055"/>
<rect x="274.70" y="556.60" width="7.65" height="7.65" fill="#000059"/>
<rect x="297.50" y="556.60" width="7.65" height="7.65" fill="#000059"/>
<rect x="46.70" y="549.00" width="7.65" height="7.65" fill="#000068"/>
<rect x="61.90" y="549.00" width="7.65" height="7.65" fill="#c20000"/>
<rect x="69.50" y="549.00" width="7.65" height="7.65" fill="#000050"/>
<rect x="107.50" y="549.00" width="7.65" height="7.65" fill="#000059"/>
<rect x="305.10" y="549.00" width="7.65" height="7.65" fill="#000054"/>
<rect x="54.30" y="541.40" width="7.65" height="7.65" fill="#000070"/>
<rect x="69.50" y="541.40" width="7.65" height="7.65" fill="#f50000"/>
<rect x="92.30" y="541.40" width="7.65" height="7.65" fill="#000057"/>
<rect x="274.70" y="541.40" width="7.65" height="7.65" fill="#000056"/>
<rect x="327.90" y="541.40" width="7.65" height="7.65" fill="#000057"/>
<rect x="69.50" y="533.80" width="7.65" height="7.65" fill="#000052"/>
<rect x="77.10" y="533.80" width="7.65" height="7.65" fill="#fff5f5"/>
<rect x="99.90" y="533.80" width="7.65" height="7.65" fill="#000052"/>
<rect x="137.90" y="533.80" width="7.65" height="7.65" fill="#000057"/>
<rect x="259.50" y="533.80" width="7.65" height="7.65" fill="#0000ea"/>
<rect x="282.30" y="533.80" width="7.65" height="7.65" fill="#000051"/>
<rect x="289.90" y="533.80" width="7.65" height="7.65" fill="#0000a0"/>
<rect x="297.50" y="533.80" width="7.65" height="7.65" fill="#000059"/>
<rect x="61.90" y="526.20" width="7.65" height="7.65" fill="#000051"/>
<rect x="84.70" y="526.20" width="7.65" height="7.65" fill="#ffebeb"/>
<rect x="153.10" y="526.20" width="7.65" height="7.65" fill="#000050"/>
<rect x="206.30" y="526.20" width="7.65" height="7.65" fill="#000050"/>
<rect x="213.90" y="526.20" width="7.65" height="7.65" fill="#000051"/>
<rect x="221.50" y="526.20" width="7.65" height="7.65" fill="#000059"/>
<rect x="244.30" y="526.20" width="7.65" height="7.65" fill="#000053"/>
<rect x="267.10" y="526.20" width="7.65" height="7.65" fill="#0000f1"/>
<rect x="297.50" y="526.20" width="7.65" height="7.65" fill="#000080"/>
<rect x="46.70" y="518.60" width="7.65" height="7.65" fill="#000090"/>
<rect x="69.50" y="518.60" width="7.65" height="7.65" fill="#000052"/>
<rect x="92.30" y="518.60" width="7.65" height="7.65" fill="#ff1f1f"/>
<rect x="107.50" y="518.60" width="7.65" height="7.65" fill="#000054"/>
<rect x="115.10" y="518.60" width="7.65" height="7.65" fill="#000052"/>
<rect x="137.90" y="518.60" width="7.65" height="7.65" fill="#000053"/>
<rect x="251.90" y="518.60" width="7.65" height="7.65" fill="#000055"/>
<rect x="289.90" y="518.60" width="7.65" height="7.65" fill="#000080"/>
<rect x="54.30" y="511.00" width="7.65" height="7.65" fill="#000080"/>
<rect x="61.90" y="511.00" width="7.65" height="7.65" fill="#000051"/>
<rect x="69.50" y="511.00" width="7.65" height="7.65" fill="#000070"/>
<rect x="92.30" y="511.00" width="7.65" height="7.65" fill="#000054"/>
<rect x="99.90" y="511.00" width="7.65" height="7.65" fill="#ffffff"/>
<rect x="115.10" y="511.00" width="7.65" height="7.65" fill="#0000b0"/>
<rect x="137.90" y="511.00" width="7.65" height="7.65" fill="#000056"/>
<rect x="145.50" y="511.00" width="7.65" height="7.65" fill="#000054"/>
<rect x="198.70" y="511.00" width="7.65" height="7.65" fill="#000058"/>
<rect x="206.30" y="511.00" width="7.65" height="7.65" fill="#000080"/>
<rect x="236.70" y="511.00" width="7.65" height="7.65" fill="#000070"/>
<rect x="259.50" y="511.00" width="7.65" height="7.65" fill="#000051"/>
<rect x="297.50" y="511.00" width="7.65" height="7.65" fill="#000090"/>
<rect x="327.90" y="511.00" width="7.65" height="7.65" fill="#00005b"/>
<rect x="46.70" y="503.40" width="7.65" height="7.65" fill="#000070"/>
<rect x="61.90" y="503.40" width="7.65" height="7.65" fill="#000052"/>
<rect x="107.50" y="503.40" width="7.65" height="7.65" fill="#ff5252"/>
<rect x="115.10" y="503.40" width="7.65" height="7.65" fill="#0000a0"/>
<rect x="130.30" y="503.40" width="7.65" height="7.65" fill="#000057"/>
<rect x="145.50" y="503.40" width="7.65" height="7.65" fill="#000057"/>
<rect x="206.30" y="503.40" width="7.65" height="7.65" fill="#000070"/>
<rect x="229.10" y="503.40" width="7.65" height="7.65" fill="#000070"/>
<rect x="274.70" y="503.40" width="7.65" height="7.65" fill="#000080"/>
<rect x="320.30" y="503.40" width="7.65" height="7.65" fill="#000054"/>
<rect x="99.90" y="495.80" width="7.65" height="7.65" fill="#000070"/>
<rect x="115.10" y="495.80" width="7.65" height="7.65" fill="#ff1f1f"/>
<rect x="183.50" y="495.80" width="7.65" height="7.65" fill="#000059"/>
<rect x="191.10" y="495.80" width="7.65" height="7.65" fill="#000058"/>
<rect x="206.30" y="495.80" width="7.65" height="7.65" fill="#000090"/>
<rect x="221.50" y="495.80" width="7.65" height="7.65" fill="#000068"/>
<rect x="244.30" y="495.80" width="7.65" height="7.65" fill="#000054"/>
<rect x="274.70" y="495.80" width="7.65" height="7.65" fill="#000052"/>
<rect x="61.90" y="488.20" width="7.65" height="7.65" fill="#000057"/>
<rect x="92.30" y="488.20" width="7.65" height="7.65" fill="#000051"/>
<rect x="122.70" y="488.20" width="7.65" height="7.65" fill="#ff6666"/>
<rect x="130.30" y="488.20" width="7.65" height="7.65" fill="#00005a"/>
<rect x="137.90" y="488.20" width="7.65" height="7.65" fill="#0000ea"/>
<rect x="153.10" y="488.20" width="7.65" height="7.65" fill="#0000a0"/>
<rect x="274.70" y="488.20" width="7.65" height="7.65" fill="#00005a"/>
<rect x="282.30" y="488.20" width="7.65" height="7.65" fill="#000053"/>
<rect x="130.30" y="480.60" width="7.65" height="7.65" fill="#ff0000"/>
<rect x="145.50" y="480.60" width="7.65" height="7.65" fill="#000080"/>
<rect x="160.70" y="480.60" width="7.65" height="7.65" fill="#000078"/>
<rect x="175.90" y="480.60" width="7.65" height="7.65" fill="#000070"/>
<rect x="251.90" y="480.60" width="7.65" height="7.65" fill="#000053"/>
<rect x="259.50" y="480.60" width="7.65" height="7.65" fill="#000058"/>
<rect x="137.90" y="473.00" width="7.65" height="7.65" fill="#e50000"/>
<rect x="153.10" y="473.00" width="7.65" height="7.65" fill="#000090"/>
<rect x="183.50" y="473.00" width="7.65" height="7.65" fill="#000056"/>
<rect x="206.30" y="473.00" width="7.65" height="7.65" fill="#000054"/>
<rect x="259.50" y="473.00" width="7.65" height="7.65" fill="#000051"/>
<rect x="267.10" y="473.00" width="7.65" height="7.65" fill="#000050"/>
<rect x="297.50" y="473.00" width="7.65" height="7.65" fill="#00005a"/>
<rect x="92.30" y="465.40" width="7.65" height="7.65" fill="#000057"/>
<rect x="145.50" y="465.40" width="7.65" height="7.65" fill="#c20000"/>
<rect x="175.90" y="465.40" width="7.65" height="7.65" fill="#000057"/>
<rect x="183.50" y="465.40" width="7.65" height="7.65" fill="#00005a"/>
<rect x="206.30" y="465.40" width="7.65" height="7.65" fill="#000051"/>
<rect x="236.70" y="465.40" width="7.65" height="7.65" fill="#000050"/>
<rect x="46.70" y="457.80" width="7.65" height="7.65" fill="#00005c"/>
<rect x="107.50" y="457.80" width="7.65" height="7.65" fill="#000059"/>
<rect x="122.70" y="457.80" width="7.65" height="7.65" fill="#000080"/>
<rect x="130.30" y="457.80" width="7.65" height="7.65" fill="#000053"/>
<rect x="137.90" y="457.80" width="7.65" height="7.65" fill="#0000ea"/>
<rect x="153.10" y="457.80" width="7.65" height="7.65" fill="#ffc2c2"/>
<rect x="221.50" y="457.80" width="7.65" height="7.65" fill="#00005a"/>
<rect x="274.70" y="457.80" width="7.65" height="7.65" fill="#000090"/>
<rect x="46.70" y="450.20" width="7.65" height="7.65" fill="#000051"/>
<rect x="54.30" y="450.20" width="7.65" height="7.65" fill="#000064"/>
<rect x="84.70" y="450.20" width="7.65" height="7.65" fill="#000052"/>
<rect x="130.30" y="450.20" width="7.65" height="7.65" fill="#000070"/>
<rect x="160.70" y="450.20" width="7.65" height="7.65" fill="#ffa3a3"/>
<rect x="175.90" y="450.20" width="7.65" height="7.65" fill="#000068"/>
<rect x="236.70" y="450.20" width="7.65" height="7.65" fill="#00005b"/>
<rect x="297.50" y="450.20" width="7.65" height="7.65" fill="#000070"/>
<rect x="312.70" y="450.20" width="7.65" height="7.65" fill="#000070"/>
<rect x="327.90" y="450.20" width="7.65" height="7.65" fill="#000070"/>
<rect x="168.30" y="442.60" width="7.65" height="7.65" fill="#b30000"/>
<rect x="175.90" y="442.60" width="7.65" height="7.65" fill="#000088"/>
<rect x="297.50" y="442.60" width="7.65" height="7.65" fill="#000051"/>
<rect x="46.70" y="435.00" width="7.65" height="7.65" fill="#000057"/>
<rect x="54.30" y="435.00" width="7.65" height="7.65" fill="#000080"/>
<rect x="69.50" y="435.00" width="7.65" height="7.65" fill="#000060"/>
<rect x="122.70" y="435.00" width="7.65" height="7.65" fill="#000054"/>
<rect x="137.90" y="435.00" width="7.65" height="7.65" fill="#00005c"/>
<rect x="145.50" y="435.00" width="7.65" height="7.65" fill="#000050"/>
<rect x="175.90" y="435.00" width="7.65" height="7.65" fill="#fa0000"/>
<rect x="206.30" y="435.00" width="7.65" height="7.65" fill="#000051"/>
<rect x="221.50" y="435.00" width="7.65" height="7.65" fill="#000055"/>
<rect x="251.90" y="435.00" width="7.65" height="7.65" fill="#000057"/>
<rect x="327.90" y="435.00" width="7.65" height="7.65" fill="#000051"/>
<rect x="54.30" y="427.40" width="7.65" height="7.65" fill="#00005a"/>
<rect x="61.90" y="427.40" width="7.65" height="7.65" fill="#000059"/>
<rect x="92.30" y="427.40" width="7.65" height="7.65" fill="#000057"/>
<rect x="107.50" y="427.40" width="7.65" height="7.65" fill="#000059"/>
<rect x="145.50" y="427.40" width="7.65" height="7.65" fill="#000055"/>
<rect x="183.50" y="427.40" width="7.65" height="7.65" fill="#ffadad"/>
<rect x="198.70" y="427.40" width="7.65" height="7.65" fill="#3d3dff"/>
<rect x="54.30" y="419.80" width="7.65" height="7.65" fill="#000060"/>
<rect x="77.10" y="419.80" width="7.65" height="7.65" fill="#000051"/>
<rect x="84.70" y="419.80" width="7.65" height="7.65" fill="#000060"/>
<rect x="99.90" y="419.80" width="7.65" height="7.65" fill="#000060"/>
<rect x="107.50" y="419.80" width="7.65" height="7.65" fill="#000057"/>
<rect x="122.70" y="419.80" width="7.65" height="7.65" fill="#000056"/>
<rect x="191.10" y="419.80" width="7.65" height="7.65" fill="#ffadad"/>
<rect x="198.70" y="419.80" width="7.65" height="7.65" fill="#000057"/>
<rect x="206.30" y="419.80" width="7.65" height="7.65" fill="#0000a0"/>
<rect x="267.10" y="419.80" width="7.65" height="7.65" fill="#000051"/>
<rect x="327.90" y="419.80" width="7.65" height="7.65" fill="#000058"/>
<rect x="69.50" y="412.20" width="7.65" height="7.65" fill="#000051"/>
<rect x="84.70" y="412.20" width="7.65" height="7.65" fill="#000056"/>
<rect x="92.30" y="412.20" width="7.65" height="7.65" fill="#000051"/>
<rect x="122.70" y="412.20" width="7.65" height="7.65" fill="#000050"/>
<rect x="160.70" y="412.20" width="7.65" height="7.65" fill="#000052"/>
<rect x="183.50" y="412.20" width="7.65" height="7.65" fill="#0000ff"/>
<rect x="198.70" y="412.20" width="7.65" height="7.65" fill="#ff3333"/>
<rect x="229.10" y="412.20" width="7.65" height="7.65" fill="#000059"/>
<rect x="267.10" y="412.20" width="7.65" height="7.65" fill="#000055"/>
<rect x="54.30" y="404.60" width="7.65" height="7.65" fill="#000088"/>
<rect x="99.90" y="404.60" width="7.65" height="7.65" fill="#000070"/>
<rect x="115.10" y="404.60" width="7.65" height="7.65" fill="#000090"/>
<rect x="137.90" y="404.60" width="7.65" height="7.65" fill="#000056"/>
<rect x="183.50" y="404.60" width="7.65" height="7.65" fill="#00005b"/>
<rect x="191.10" y="404.60" width="7.65" height="7.65" fill="#000098"/>
<rect x="206.30" y="404.60" width="7.65" height="7.65" fill="#ffc2c2"/>
<rect x="221.50" y="404.60" width="7.65" height="7.65" fill="#000068"/>
<rect x="54.30" y="397.00" width="7.65" height="7.65" fill="#00005a"/>
<rect x="99.90" y="397.00" width="7.65" height="7.65" fill="#00005b"/>
<rect x="122.70" y="397.00" width="7.65" height="7.65" fill="#000052"/>
<rect x="191.10" y="397.00" width="7.65" height="7.65" fill="#000051"/>
<rect x="198.70" y="397.00" width="7.65" height="7.65" fill="#000059"/>
<rect x="213.90" y="397.00" width="7.65" height="7.65" fill="#fa0000"/>
<rect x="221.50" y="397.00" width="7.65" height="7.65" fill="#000054"/>
<rect x="251.90" y="397.00" width="7.65" height="7.65" fill="#000056"/>
<rect x="305.10" y="397.00" width="7.65" height="7.65" fill="#000058"/>
<rect x="320.30" y="397.00" width="7.65" height="7.65" fill="#000090"/>
<rect x="54.30" y="389.40" width="7.65" height="7.65" fill="#00005a"/>
<rect x="61.90" y="389.40" width="7.65" height="7.65" fill="#000051"/>
<rect x="168.30" y="389.40" width="7.65" height="7.65" fill="#00005c"/>
<rect x="206.30" y="389.40" width="7.65" height="7.65" fill="#000070"/>
<rect x="213.90" y="389.40" width="7.65" height="7.65" fill="#000052"/>
<rect x="221.50" y="389.40" width="7.65" height="7.65" fill="#e00000"/>
<rect x="229.10" y="389.40" width="7.65" height="7.65" fill="#00005c"/>
<rect x="244.30" y="389.40" width="7.65" height="7.65" fill="#00005a"/>
<rect x="289.90" y="389.40" width="7.65" height="7.65" fill="#000052"/>
<rect x="320.30" y="389.40" width="7.65" height="7.65" fill="#000051"/>
<rect x="327.90" y="389.40" width="7.65" height="7.65" fill="#000050"/>
<rect x="77.10" y="381.80" width="7.65" height="7.65" fill="#000088"/>
<rect x="84.70" y="381.80" width="7.65" height="7.65" fill="#000080"/>
<rect x="92.30" y="381.80" width="7.65" height="7.65" fill="#0000a8"/>
<rect x="107.50" y="381.80" width="7.65" height="7.65" fill="#000060"/>
<rect x="145.50" y="381.80" width="7.65" height="7.65" fill="#000078"/>
<rect x="175.90" y="381.80" width="7.65" height="7.65" fill="#000054"/>
<rect x="206.30" y="381.80" width="7.65" height="7.65" fill="#000058"/>
<rect x="221.50" y="381.80" width="7.65" height="7.65" fill="#00005a"/>
<rect x="229.10" y="381.80" width="7.65" height="7.65" fill="#e0e0ff"/>
<rect x="54.30" y="374.20" width="7.65" height="7.65" fill="#000068"/>
<rect x="122.70" y="374.20" width="7.65" height="7.65" fill="#000059"/>
<rect x="137.90" y="374.20" width="7.65" height="7.65" fill="#000059"/>
<rect x="183.50" y="374.20" width="7.65" height="7.65" fill="#000055"/>
<rect x="206.30" y="374.20" width="7.65" height="7.65" fill="#000050"/>
<rect x="236.70" y="374.20" width="7.65" height="7.65" fill="#ff0a0a"/>
<rect x="259.50" y="374.20" width="7.65" height="7.65" fill="#000053"/>
<rect x="297.50" y="374.20" width="7.65" height="7.65" fill="#000060"/>
<rect x="312.70" y="374.20" width="7.65" height="7.65" fill="#000052"/>
<rect x="46.70" y="366.60" width="7.65" height="7.65" fill="#000051"/>
<rect x="54.30" y="366.60" width="7.65" height="7.65" fill="#000052"/>
<rect x="198.70" y="366.60" width="7.65" height="7.65" fill="#000055"/>
<rect x="236.70" y="366.60" width="7.65" height="7.65" fill="#000058"/>
<rect x="244.30" y="366.60" width="7.65" height="7.65" fill="#e00000"/>
<rect x="251.90" y="366.60" width="7.65" height="7.65" fill="#0000a0"/>
<rect x="130.30" y="359.00" width="7.65" height="7.65" fill="#000058"/>
<rect x="137.90" y="359.00" width="7.65" height="7.65" fill="#000057"/>
<rect x="251.90" y="359.00" width="7.65" height="7.65" fill="#d10000"/>
<rect x="77.10" y="351.40" width="7.65" height="7.65" fill="#a3a3ff"/>
<rect x="107.50" y="351.40" width="7.65" height="7.65" fill="#000052"/>
<rect x="122.70" y="351.40" width="7.65" height="7.65" fill="#000056"/>
<rect x="137.90" y="351.40" width="7.65" height="7.65" fill="#00005c"/>
<rect x="183.50" y="351.40" width="7.65" height="7.65" fill="#000050"/>
<rect x="213.90" y="351.40" width="7.65" height="7.65" fill="#000054"/>
<rect x="221.50" y="351.40" width="7.65" height="7.65" fill="#000057"/>
<rect x="244.30" y="351.40" width="7.65" height="7.65" fill="#000053"/>
<rect x="251.90" y="351.40" width="7.65" height="7.65" fill="#000057"/>
<rect x="259.50" y="351.40" width="7.65" height="7.65" fill="#7a7aff"/>
<rect x="267.10" y="351.40" width="7.65" height="7.65" fill="#000054"/>
<rect x="274.70" y="351.40" width="7.65" height="7.65" fill="#000057"/>
<rect x="289.90" y="351.40" width="7.65" height="7.65" fill="#0000db"/>
<rect x="46.70" y="343.80" width="7.65" height="7.65" fill="#000056"/>
<rect x="84.70" y="343.80" width="7.65" height="7.65" fill="#6161ff"/>
<rect x="92.30" y="343.80" width="7.65" height="7.65" fill="#000057"/>
<rect x="99.90" y="343.80" width="7.65" height="7.65" fill="#000068"/>
<rect x="145.50" y="343.80" width="7.65" height="7.65" fill="#000053"/>
<rect x="153.10" y="343.80" width="7.65" height="7.65" fill="#000055"/>
<rect x="206.30" y="343.80" width="7.65" height="7.65" fill="#000058"/>
<rect x="244.30" y="343.80" width="7.65" height="7.65" fill="#00005a"/>
<rect x="267.10" y="343.80" width="7.65" height="7.65" fill="#b8b8ff"/>
<rect x="282.30" y="343.80" width="7.65" height="7.65" fill="#00005a"/>
<rect x="289.90" y="343.80" width="7.65" height="7.65" fill="#000051"/>
<rect x="297.50" y="343.80" width="7.65" height="7.65" fill="#000070"/>
<rect x="327.90" y="343.80" width="7.65" height="7.65" fill="#000068"/>
<rect x="46.70" y="336.20" width="7.65" height="7.65" fill="#000088"/>
<rect x="54.30" y="336.20" width="7.65" height="7.65" fill="#000057"/>
<rect x="61.90" y="336.20" width="7.65" height="7.65" fill="#0000ea"/>
<rect x="77.10" y="336.20" width="7.65" height="7.65" fill="#000059"/>
<rect x="122.70" y="336.20" width="7.65" height="7.65" fill="#000057"/>
<rect x="137.90" y="336.20" width="7.65" height="7.65" fill="#000088"/>
<rect x="153.10" y="336.20" width="7.65" height="7.65" fill="#000078"/>
<rect x="175.90" y="336.20" width="7.65" height="7.65" fill="#000057"/>
<rect x="198.70" y="336.20" width="7.65" height="7.65" fill="#000078"/>
<rect x="213.90" y="336.20" width="7.65" height="7.65" fill="#000078"/>
<rect x="244.30" y="336.20" width="7.65" height="7.65" fill="#000052"/>
<rect x="274.70" y="336.20" width="7.65" height="7.65" fill="#1f1fff"/>
<rect x="289.90" y="336.20" width="7.65" height="7.65" fill="#000051"/>
<rect x="305.10" y="336.20" width="7.65" height="7.65" fill="#000068"/>
<rect x="320.30" y="336.20" width="7.65" height="7.65" fill="#0000a0"/>
<rect x="54.30" y="328.60" width="7.65" height="7.65" fill="#000078"/>
<rect x="61.90" y="328.60" width="7.65" height="7.65" fill="#00005c"/>
<rect x="69.50" y="328.60" width="7.65" height="7.65" fill="#000070"/>
<rect x="92.30" y="328.60" width="7.65" height="7.65" fill="#000056"/>
<rect x="99.90" y="328.60" width="7.65" height="7.65" fill="#000070"/>
<rect x="107.50" y="328.60" width="7.65" height="7.65" fill="#000059"/>
<rect x="122.70" y="328.60" width="7.65" height="7.65" fill="#00005b"/>
<rect x="175.90" y="328.60" width="7.65" height="7.65" fill="#000055"/>
<rect x="206.30" y="328.60" width="7.65" height="7.65" fill="#000057"/>
<rect x="244.30" y="328.60" width="7.65" height="7.65" fill="#000055"/>
<rect x="282.30" y="328.60" width="7.65" height="7.65" fill="#ff1f1f"/>
<rect x="305.10" y="328.60" width="7.65" height="7.65" fill="#000057"/>
<rect x="77.10" y="321.00" width="7.65" height="7.65" fill="#000068"/>
<rect x="84.70" y="321.00" width="7.65" height="7.65" fill="#00005a"/>
<rect x="92.30" y="321.00" width="7.65" height="7.65" fill="#000068"/>
<rect x="107.50" y="321.00" width="7.65" height="7.65" fill="#000052"/>
<rect x="130.30" y="321.00" width="7.65" height="7.65" fill="#00005c"/>
<rect x="137.90" y="321.00" width="7.65" height="7.65" fill="#000050"/>
<rect x="289.90" y="321.00" width="7.65" height="7.65" fill="#fa0000"/>
<rect x="327.90" y="321.00" width="7.65" height="7.65" fill="#000058"/>
<rect x="54.30" y="313.40" width="7.65" height="7.65" fill="#000068"/>
<rect x="61.90" y="313.40" width="7.65" height="7.65" fill="#000059"/>
<rect x="69.50" y="313.40" width="7.65" height="7.65" fill="#000068"/>
<rect x="84.70" y="313.40" width="7.65" height="7.65" fill="#000088"/>
<rect x="99.90" y="313.40" width="7.65" height="7.65" fill="#000098"/>
<rect x="107.50" y="313.40" width="7.65" height="7.65" fill="#000055"/>
<rect x="160.70" y="313.40" width="7.65" height="7.65" fill="#000060"/>
<rect x="191.10" y="313.40" width="7.65" height="7.65" fill="#000068"/>
<rect x="198.70" y="313.40" width="7.65" height="7.65" fill="#000053"/>
<rect x="206.30" y="313.40" width="7.65" height="7.65" fill="#000068"/>
<rect x="221.50" y="313.40" width="7.65" height="7.65" fill="#000068"/>
<rect x="236.70" y="313.40" width="7.65" height="7.65" fill="#000078"/>
<rect x="267.10" y="313.40" width="7.65" height="7.65" fill="#000068"/>
<rect x="297.50" y="313.40" width="7.65" height="7.65" fill="#f5f5ff"/>
<rect x="61.90" y="305.80" width="7.65" height="7.65" fill="#000060"/>
<rect x="99.90" y="305.80" width="7.65" height="7.65" fill="#00005a"/>
<rect x="115.10" y="305.80" width="7.65" height="7.65" fill="#00005b"/>
<rect x="168.30" y="305.80" width="7.65" height="7.65" fill="#000052"/>
<rect x="183.50" y="305.80" width="7.65" height="7.65" fill="#000055"/>
<rect x="191.10" y="305.80" width="7.65" height="7.65" fill="#000051"/>
<rect x="198.70" y="305.80" width="7.65" height="7.65" fill="#000051"/>
<rect x="206.30" y="305.80" width="7.65" height="7.65" fill="#00005a"/>
<rect x="259.50" y="305.80" width="7.65" height="7.65" fill="#000055"/>
<rect x="289.90" y="305.80" width="7.65" height="7.65" fill="#000055"/>
<rect x="297.50" y="305.80" width="7.65" height="7.65" fill="#000053"/>
<rect x="305.10" y="305.80" width="7.65" height="7.65" fill="#b80000"/>
<rect x="312.70" y="305.80" width="7.65" height="7.65" fill="#000070"/>
<rect x="327.90" y="305.80" width="7.65" height="7.65" fill="#000054"/>
<rect x="46.70" y="298.20" width="7.65" height="7.65" fill="#000052"/>
<rect x="69.50" y="298.20" width="7.65" height="7.65" fill="#000060"/>
<rect x="92.30" y="298.20" width="7.65" height="7.65" fill="#000057"/>
<rect x="137.90" y="298.20" width="7.65" height="7.65" fill="#000059"/>
<rect x="160.70" y="298.20" width="7.65" height="7.65" fill="#00005a"/>
<rect x="191.10" y="298.20" width="7.65" height="7.65" fill="#000056"/>
<rect x="213.90" y="298.20" width="7.65" height="7.65" fill="#000053"/>
<rect x="221.50" y="298.20" width="7.65" height="7.65" fill="#000054"/>
<rect x="244.30" y="298.20" width="7.65" height="7.65" fill="#000052"/>
<rect x="251.90" y="298.20" width="7.65" height="7.65" fill="#000058"/>
<rect x="312.70" y="298.20" width="7.65" height="7.65" fill="#e00000"/>
<rect x="46.70" y="290.60" width="7.65" height="7.65" fill="#000080"/>
<rect x="99.90" y="290.60" width="7.65" height="7.65" fill="#000053"/>
<rect x="191.10" y="290.60" width="7.65" height="7.65" fill="#000059"/>
<rect x="206.30" y="290.60" width="7.65" height="7.65" fill="#000055"/>
<rect x="213.90" y="290.60" width="7.65" height="7.65" fill="#000058"/>
<rect x="229.10" y="290.60" width="7.65" height="7.65" fill="#000055"/>
<rect x="274.70" y="290.60" width="7.65" height="7.65" fill="#000060"/>
<rect x="289.90" y="290.60" width="7.65" height="7.65" fill="#000058"/>
<rect x="297.50" y="290.60" width="7.65" height="7.65" fill="#000053"/>
<rect x="312.70" y="290.60" width="7.65" height="7.65" fill="#000053"/>
<rect x="320.30" y="290.60" width="7.65" height="7.65" fill="#fa0000"/>
<rect x="54.30" y="283.00" width="7.65" height="7.65" fill="#000078"/>
<rect x="99.90" y="283.00" width="7.65" height="7.65" fill="#000068"/>
<rect x="153.10" y="283.00" width="7.65" height="7.65" fill="#000051"/>
<rect x="191.10" y="283.00" width="7.65" height="7.65" fill="#000052"/>
<rect x="221.50" y="283.00" width="7.65" height="7.65" fill="#000058"/>
<rect x="251.90" y="283.00" width="7.65" height="7.65" fill="#000057"/>
<rect x="289.90" y="283.00" width="7.65" height="7.65" fill="#000057"/>
<rect x="312.70" y="283.00" width="7.65" height="7.65" fill="#000053"/>
<rect x="327.90" y="283.00" width="7.65" height="7.65" fill="#ff0000"/>
</g>
<rect x="46.70" y="283.00" width="288.80" height="288.80" fill="none" stroke="#000" stroke-width="0.8"/>
<line x1="43.70" y1="568.00" x2="46.70" y2="568.00" stroke="#000" stroke-width="0.85"/>
<text x="40.4" y="570.5" font-size="7.1" text-anchor="end" >blca-normal</text>
<line x1="50.50" y1="571.80" x2="50.50" y2="574.80" stroke="#000" stroke-width="0.85"/>
<text x="53.0" y="578.6" font-size="7.1" text-anchor="end" transform="rotate(-90 53.0 578.6)" >blca-normal</text>
<line x1="43.70" y1="560.40" x2="46.70" y2="560.40" stroke="#000" stroke-width="0.85"/>
<text x="40.4" y="562.9" font-size="7.1" text-anchor="end" >blca-tumor</text>
<line x1="58.10" y1="571.80" x2="58.10" y2="574.80" stroke="#000" stroke-width="0.85"/>
<text x="60.6" y="578.6" font-size="7.1" text-anchor="end" transform="rotate(-90 60.6 578.6)" >blca-tumor</text>
<line x1="43.70" y1="552.80" x2="46.70" y2="552.80" stroke="#000" stroke-width="0.85"/>
<text x="40.4" y="555.3" font-size="7.1" text-anchor="end" >brca-normal</text>
<line x1="65.70" y1="571.80" x2="65.70" y2="574.80" stroke="#000" stroke-width="0.85"/>
<text x="68.2" y="578.6" font-size="7.1" text-anchor="end" transform="rotate(-90 68.2 578.6)" >brca-normal</text>
<line x1="43.70" y1="545.20" x2="46.70" y2="545.20" stroke="#000" stroke-width="0.85"/>
<text x="40.4" y="547.7" font-size="7.1" text-anchor="end" >brca-tumor</text>
<line x1="73.30" y1="571.80" x2="73.30" y2="574.80" stroke="#000" stroke-width="0.85"/>
<text x="75.8" y="578.6" font-size="7.1" text-anchor="end" transform="rotate(-90 75.8 578.6)" >brca-tumor</text>
<line x1="43.70" y1="537.60" x2="46.70" y2="537.60" stroke="#000" stroke-width="0.85"/>
<text x="40.4" y="540.1" font-size="7.1" text-anchor="end" >coad-normal</text>
<line x1="80.90" y1="571.80" x2="80.90" y2="574.80" stroke="#000" stroke-width="0.85"/>
<text x="83.4" y="578.6" font-size="7.1" text-anchor="end" transform="rotate(-90 83.4 578.6)" >coad-normal</text>
<line x1="43.70" y1="530.00" x2="46.70" y2="530.00" stroke="#000" stroke-width="0.85"/>
<text x="40.4" y="532.5" font-size="7.1" text-anchor="end" >coad-tumor</text>
<line x1="88.50" y1="571.80" x2="88.50" y2="574.80" stroke="#000" stroke-width="0.85"/>
<text x="91.0" y="578.6" font-size="7.1" text-anchor="end" transform="rotate(-90 91.0 578.6)" >coad-tumor</text>
<line x1="43.70" y1="522.40" x2="46.70" y2="522.40" stroke="#000" stroke-width="0.85"/>
<text x="40.4" y="524.9" font-size="7.1" text-anchor="end" >esca-normal</text>
<line x1="96.10" y1="571.80" x2="96.10" y2="574.80" stroke="#000" stroke-width="0.85"/>
<text x="98.6" y="578.6" font-size="7.1" text-anchor="end" transform="rotate(-90 98.6 578.6)" >esca-normal</text>
<line x1="43.70" y1="514.80" x2="46.70" y2="514.80" stroke="#000" stroke-width="0.85"/>
<text x="40.4" y="517.3" font-size="7.1" text-anchor="end" >esca-tumor</text>
<line x1="103.70" y1="571.80" x2="103.70" y2="574.80" stroke="#000" stroke-width="0.85"/>
<text x="106.2" y="578.6" font-size="7.1" text-anchor="end" transform="rotate(-90 106.2 578.6)" >esca-tumor</text>
<line x1="43.70" y1="507.20" x2="46.70" y2="507.20" stroke="#000" stroke-width="0.85"/>
<text x="40.4" y="509.7" font-size="7.1" text-anchor="end" >hnsc-normal</text>
<line x1="111.30" y1="571.80" x2="111.30" y2="574.80" stroke="#000" stroke-width="0.85"/>
<text x="113.8" y="578.6" font-size="7.1" text-anchor="end" transform="rotate(-90 113.8 578.6)" >hnsc-normal</text>
<line x1="43.70" y1="499.60" x2="46.70" y2="499.60" stroke="#000" stroke-width="0.85"/>
<text x="40.4" y="502.1" font-size="7.1" text-anchor="end" >hnsc-tumor</text>
<line x1="118.90" y1="571.80" x2="118.90" y2="574.80" stroke="#000" stroke-width="0.85"/>
<text x="121.4" y="578.6" font-size="7.1" text-anchor="end" transform="rotate(-90 121.4 578.6)" >hnsc-tumor</text>
<line x1="43.70" y1="492.00" x2="46.70" y2="492.00" stroke="#000" stroke-width="0.85"/>
<text x="40.4" y="494.5" font-size="7.1" text-anchor="end" >kich-normal</text>
<line x1="126.50" y1="571.80" x2="126.50" y2="574.80" stroke="#000" stroke-width="0.85"/>
<text x="129.0" y="578.6" font-size="7.1" text-anchor="end" transform="rotate(-90 129.0 578.6)" >kich-normal</text>
<line x1="43.70" y1="484.40" x2="46.70" y2="484.40" stroke="#000" stroke-width="0.85"/>
<text x="40.4" y="486.9" font-size="7.1" text-anchor="end" >kich-tumor</text>
<line x1="134.10" y1="571.80" x2="134.10" y2="574.80" stroke="#000" stroke-width="0.85"/>
<text x="136.6" y="578.6" font-size="7.1" text-anchor="end" transform="rotate(-90 136.6 578.6)" >kich-tumor</text>
<line x1="43.70" y1="476.80" x2="46.70" y2="476.80" stroke="#000" stroke-width="0.85"/>
<text x="40.4" y="479.3" font-size="7.1" text-anchor="end" >kirc-normal</text>
<line x1="141.70" y1="571.80" x2="141.70" y2="574.80" stroke="#000" stroke-width="0.85"/>
<text x="144.2" y="578.6" font-size="7.1" text-anchor="end" transform="rotate(-90 144.2 578.6)" >kirc-normal</text>
<line x1="43.70" y1="469.20" x2="46.70" y2="469.20" stroke="#000" stroke-width="0.85"/>
<text x="40.4" y="471.7" font-size="7.1" text-anchor="end" >kirc-tumor</text>
<line x1="149.30" y1="571.80" x2="149.30" y2="574.80" stroke="#000" stroke-width="0.85"/>
<text x="151.8" y="578.6" font-size="7.1" text-anchor="end" transform="rotate(-90 151.8 578.6)" >kirc-tumor</text>
<line x1="43.70" y1="461.60" x2="46.70" y2="461.60" stroke="#000" stroke-width="0.85"/>
<text x="40.4" y="464.1" font-size="7.1" text-anchor="end" >kirp-normal</text>
<line x1="156.90" y1="571.80" x2="156.90" y2="574.80" stroke="#000" stroke-width="0.85"/>
<text x="159.4" y="578.6" font-size="7.1" text-anchor="end" transform="rotate(-90 159.4 578.6)" >kirp-normal</text>
<line x1="43.70" y1="454.00" x2="46.70" y2="454.00" stroke="#000" stroke-width="0.85"/>
<text x="40.4" y="456.5" font-size="7.1" text-anchor="end" >kirp-tumor</text>
<line x1="164.50" y1="571.80" x2="164.50" y2="574.80" stroke="#000" stroke-width="0.85"/>
<text x="167.0" y="578.6" font-size="7.1" text-anchor="end" transform="rotate(-90 167.0 578.6)" >kirp-tumor</text>
<line x1="43.70" y1="446.40" x2="46.70" y2="446.40" stroke="#000" stroke-width="0.85"/>
<text x="40.4" y="448.9" font-size="7.1" text-anchor="end" >lihc-normal</text>
<line x1="172.10" y1="571.80" x2="172.10" y2="574.80" stroke="#000" stroke-width="0.85"/>
<text x="174.6" y="578.6" font-size="7.1" text-anchor="end" transform="rotate(-90 174.6 578.6)" >lihc-normal</text>
<line x1="43.70" y1="438.80" x2="46.70" y2="438.80" stroke="#000" stroke-width="0.85"/>
<text x="40.4" y="441.3" font-size="7.1" text-anchor="end" >lihc-tumor</text>
<line x1="179.70" y1="571.80" x2="179.70" y2="574.80" stroke="#000" stroke-width="0.85"/>
<text x="182.2" y="578.6" font-size="7.1" text-anchor="end" transform="rotate(-90 182.2 578.6)" >lihc-tumor</text>
<line x1="43.70" y1="431.20" x2="46.70" y2="431.20" stroke="#000" stroke-width="0.85"/>
<text x="40.4" y="433.7" font-size="7.1" text-anchor="end" >luad-normal</text>
<line x1="187.30" y1="571.80" x2="187.30" y2="574.80" stroke="#000" stroke-width="0.85"/>
<text x="189.8" y="578.6" font-size="7.1" text-anchor="end" transform="rotate(-90 189.8 578.6)" >luad-normal</text>
<line x1="43.70" y1="423.60" x2="46.70" y2="423.60" stroke="#000" stroke-width="0.85"/>
<text x="40.4" y="426.1" font-size="7.1" text-anchor="end" >luad-tumor</text>
<line x1="194.90" y1="571.80" x2="194.90" y2="574.80" stroke="#000" stroke-width="0.85"/>
<text x="197.4" y="578.6" font-size="7.1" text-anchor="end" transform="rotate(-90 197.4 578.6)" >luad-tumor</text>
<line x1="43.70" y1="416.00" x2="46.70" y2="416.00" stroke="#000" stroke-width="0.85"/>
<text x="40.4" y="418.5" font-size="7.1" text-anchor="end" >lusc-normal</text>
<line x1="202.50" y1="571.80" x2="202.50" y2="574.80" stroke="#000" stroke-width="0.85"/>
<text x="205.0" y="578.6" font-size="7.1" text-anchor="end" transform="rotate(-90 205.0 578.6)" >lusc-normal</text>
<line x1="43.70" y1="408.40" x2="46.70" y2="408.40" stroke="#000" stroke-width="0.85"/>
<text x="40.4" y="410.9" font-size="7.1" text-anchor="end" >lusc-tumor</text>
<line x1="210.10" y1="571.80" x2="210.10" y2="574.80" stroke="#000" stroke-width="0.85"/>
<text x="212.6" y="578.6" font-size="7.1" text-anchor="end" transform="rotate(-90 212.6 578.6)" >lusc-tumor</text>
<line x1="43.70" y1="400.80" x2="46.70" y2="400.80" stroke="#000" stroke-width="0.85"/>
<text x="40.4" y="403.3" font-size="7.1" text-anchor="end" >ov-normal</text>
<line x1="217.70" y1="571.80" x2="217.70" y2="574.80" stroke="#000" stroke-width="0.85"/>
<text x="220.2" y="578.6" font-size="7.1" text-anchor="end" transform="rotate(-90 220.2 578.6)" >ov-normal</text>
<line x1="43.70" y1="393.20" x2="46.70" y2="393.20" stroke="#000" stroke-width="0.85"/>
<text x="40.4" y="395.7" font-size="7.1" text-anchor="end" >ov-tumor</text>
<line x1="225.30" y1="571.80" x2="225.30" y2="574.80" stroke="#000" stroke-width="0.85"/>
<text x="227.8" y="578.6" font-size="7.1" text-anchor="end" transform="rotate(-90 227.8 578.6)" >ov-tumor</text>
<line x1="43.70" y1="385.60" x2="46.70" y2="385.60" stroke="#000" stroke-width="0.85"/>
<text x="40.4" y="388.1" font-size="7.1" text-anchor="end" >paad-normal</text>
<line x1="232.90" y1="571.80" x2="232.90" y2="574.80" stroke="#000" stroke-width="0.85"/>
<text x="235.4" y="578.6" font-size="7.1" text-anchor="end" transform="rotate(-90 235.4 578.6)" >paad-normal</text>
<line x1="43.70" y1="378.00" x2="46.70" y2="378.00" stroke="#000" stroke-width="0.85"/>
<text x="40.4" y="380.5" font-size="7.1" text-anchor="end" >paad-tumor</text>
<line x1="240.50" y1="571.80" x2="240.50" y2="574.80" stroke="#000" stroke-width="0.85"/>
<text x="243.0" y="578.6" font-size="7.1" text-anchor="end" transform="rotate(-90 243.0 578.6)" >paad-tumor</text>
<line x1="43.70" y1="370.40" x2="46.70" y2="370.40" stroke="#000" stroke-width="0.85"/>
<text x="40.4" y="372.9" font-size="7.1" text-anchor="end" >prad-normal</text>
<line x1="248.10" y1="571.80" x2="248.10" y2="574.80" stroke="#000" stroke-width="0.85"/>
<text x="250.6" y="578.6" font-size="7.1" text-anchor="end" transform="rotate(-90 250.6 578.6)" >prad-normal</text>
<line x1="43.70" y1="362.80" x2="46.70" y2="362.80" stroke="#000" stroke-width="0.85"/>
<text x="40.4" y="365.3" font-size="7.1" text-anchor="end" >prad-tumor</text>
<line x1="255.70" y1="571.80" x2="255.70" y2="574.80" stroke="#000" stroke-width="0.85"/>
<text x="258.2" y="578.6" font-size="7.1" text-anchor="end" transform="rotate(-90 258.2 578.6)" >prad-tumor</text>
<line x1="43.70" y1="355.20" x2="46.70" y2="355.20" stroke="#000" stroke-width="0.85"/>
<text x="40.4" y="357.7" font-size="7.1" text-anchor="end" >read-normal</text>
<line x1="263.30" y1="571.80" x2="263.30" y2="574.80" stroke="#000" stroke-width="0.85"/>
<text x="265.8" y="578.6" font-size="7.1" text-anchor="end" transform="rotate(-90 265.8 578.6)" >read-normal</text>
<line x1="43.70" y1="347.60" x2="46.70" y2="347.60" stroke="#000" stroke-width="0.85"/>
<text x="40.4" y="350.1" font-size="7.1" text-anchor="end" >read-tumor</text>
<line x1="270.90" y1="571.80" x2="270.90" y2="574.80" stroke="#000" stroke-width="0.85"/>
<text x="273.4" y="578.6" font-size="7.1" text-anchor="end" transform="rotate(-90 273.4 578.6)" >read-tumor</text>
<line x1="43.70" y1="340.00" x2="46.70" y2="340.00" stroke="#000" stroke-width="0.85"/>
<text x="40.4" y="342.5" font-size="7.1" text-anchor="end" >sarc-normal</text>
<line x1="278.50" y1="571.80" x2="278.50" y2="574.80" stroke="#000" stroke-width="0.85"/>
<text x="281.0" y="578.6" font-size="7.1" text-anchor="end" transform="rotate(-90 281.0 578.6)" >sarc-normal</text>
<line x1="43.70" y1="332.40" x2="46.70" y2="332.40" stroke="#000" stroke-width="0.85"/>
<text x="40.4" y="334.9" font-size="7.1" text-anchor="end" >sarc-tumor</text>
<line x1="286.10" y1="571.80" x2="286.10" y2="574.80" stroke="#000" stroke-width="0.85"/>
<text x="288.6" y="578.6" font-size="7.1" text-anchor="end" transform="rotate(-90 288.6 578.6)" >sarc-tumor</text>
<line x1="43.70" y1="324.80" x2="46.70" y2="324.80" stroke="#000" stroke-width="0.85"/>
<text x="40.4" y="327.3" font-size="7.1" text-anchor="end" >stad-normal</text>
<line x1="293.70" y1="571.80" x2="293.70" y2="574.80" stroke="#000" stroke-width="0.85"/>
<text x="296.2" y="578.6" font-size="7.1" text-anchor="end" transform="rotate(-90 296.2 578.6)" >stad-normal</text>
<line x1="43.70" y1="317.20" x2="46.70" y2="317.20" stroke="#000" stroke-width="0.85"/>
<text x="40.4" y="319.7" font-size="7.1" text-anchor="end" >stad-tumor</text>
<line x1="301.30" y1="571.80" x2="301.30" y2="574.80" stroke="#000" stroke-width="0.85"/>
<text x="303.8" y="578.6" font-size="7.1" text-anchor="end" transform="rotate(-90 303.8 578.6)" >stad-tumor</text>
<line x1="43.70" y1="309.60" x2="46.70" y2="309.60" stroke="#000" stroke-width="0.85"/>
<text x="40.4" y="312.1" font-size="7.1" text-anchor="end" >thca-normal</text>
<line x1="308.90" y1="571.80" x2="308.90" y2="574.80" stroke="#000" stroke-width="0.85"/>
<text x="311.4" y="578.6" font-size="7.1" text-anchor="end" transform="rotate(-90 311.4 578.6)" >thca-normal</text>
<line x1="43.70" y1="302.00" x2="46.70" y2="302.00" stroke="#000" stroke-width="0.85"/>
<text x="40.4" y="304.5" font-size="7.1" text-anchor="end" >thca-tumor</text>
<line x1="316.50" y1="571.80" x2="316.50" y2="574.80" stroke="#000" stroke-width="0.85"/>
<text x="319.0" y="578.6" font-size="7.1" text-anchor="end" transform="rotate(-90 319.0 578.6)" >thca-tumor</text>
<line x1="43.70" y1="294.40" x2="46.70" y2="294.40" stroke="#000" stroke-width="0.85"/>
<text x="40.4" y="296.9" font-size="7.1" text-anchor="end" >ucec-normal</text>
<line x1="324.10" y1="571.80" x2="324.10" y2="574.80" stroke="#000" stroke-width="0.85"/>
<text x="326.6" y="578.6" font-size="7.1" text-anchor="end" transform="rotate(-90 326.6 578.6)" >ucec-normal</text>
<line x1="43.70" y1="286.80" x2="46.70" y2="286.80" stroke="#000" stroke-width="0.85"/>
<text x="40.4" y="289.3" font-size="7.1" text-anchor="end" >ucec-tumor</text>
<line x1="331.70" y1="571.80" x2="331.70" y2="574.80" stroke="#000" stroke-width="0.85"/>
<text x="334.2" y="578.6" font-size="7.1" text-anchor="end" transform="rotate(-90 334.2 578.6)" >ucec-tumor</text>
<defs><linearGradient id="sm" x1="0" y1="1" x2="0" y2="0"><stop offset="0" stop-color="#00004c"/><stop offset="0.25" stop-color="#0000ff"/><stop offset="0.5" stop-color="#ffffff"/><stop offset="0.75" stop-color="#ff0000"/><stop offset="1" stop-color="#800000"/></linearGradient></defs>
<rect x="354.30" y="283.00" width="15.00" height="288.80" fill="url(#sm)" stroke="#000" stroke-width="0.7"/>
<line x1="369.30" y1="571.80" x2="372.50" y2="571.80" stroke="#000" stroke-width="0.85"/>
<text x="376.0" y="575.4" font-size="9.3" text-anchor="start" >0.0</text>
<line x1="369.30" y1="514.04" x2="372.50" y2="514.04" stroke="#000" stroke-width="0.85"/>
<text x="376.0" y="517.7" font-size="9.3" text-anchor="start" >0.2</text>
<line x1="369.30" y1="456.28" x2="372.50" y2="456.28" stroke="#000" stroke-width="0.85"/>
<text x="376.0" y="459.9" font-size="9.3" text-anchor="start" >0.4</text>
<line x1="369.30" y1="398.52" x2="372.50" y2="398.52" stroke="#000" stroke-width="0.85"/>
<text x="376.0" y="402.2" font-size="9.3" text-anchor="start" >0.6</text>
<line x1="369.30" y1="340.76" x2="372.50" y2="340.76" stroke="#000" stroke-width="0.85"/>
<text x="376.0" y="344.4" font-size="9.3" text-anchor="start" >0.8</text>
<line x1="369.30" y1="283.00" x2="372.50" y2="283.00" stroke="#000" stroke-width="0.85"/>
<text x="376.0" y="286.6" font-size="9.3" text-anchor="start" >1.0</text>
<text x="395.6" y="410.3" font-size="11.2" text-anchor="middle" transform="rotate(-90 395.6 410.3)" textLength="64.5" lengthAdjust="spacingAndGlyphs" >Ratio of slides</text>
<g shape-rendering="crispEdges">
<rect x="451.20" y="329.40" width="9.58" height="9.58" fill="#a00000"/>
<rect x="460.73" y="329.40" width="9.58" height="9.58" fill="#b80000"/>
<rect x="470.26" y="329.40" width="9.58" height="9.58" fill="#e20000"/>
<rect x="479.79" y="329.40" width="9.58" height="9.58" fill="#d8d8ff"/>
<rect x="489.32" y="329.40" width="9.58" height="9.58" fill="#f80000"/>
<rect x="498.85" y="329.40" width="9.58" height="9.58" fill="#ff2222"/>
<rect x="508.38" y="329.40" width="9.58" height="9.58" fill="#ffe9e9"/>
<rect x="517.91" y="329.40" width="9.58" height="9.58" fill="#ffaeae"/>
<rect x="527.44" y="329.40" width="9.58" height="9.58" fill="#ffe9e9"/>
<rect x="536.97" y="329.40" width="9.58" height="9.58" fill="#f80000"/>
<rect x="546.50" y="329.40" width="9.58" height="9.58" fill="#f80000"/>
<rect x="556.03" y="329.40" width="9.58" height="9.58" fill="#a00000"/>
<rect x="565.56" y="329.40" width="9.58" height="9.58" fill="#6c6cff"/>
<rect x="575.09" y="329.40" width="9.58" height="9.58" fill="#b80000"/>
<rect x="584.62" y="329.40" width="9.58" height="9.58" fill="#b80000"/>
<rect x="594.15" y="329.40" width="9.58" height="9.58" fill="#ff2222"/>
<rect x="603.68" y="329.40" width="9.58" height="9.58" fill="#ff2222"/>
<rect x="613.21" y="329.40" width="9.58" height="9.58" fill="#cc0000"/>
<rect x="622.74" y="329.40" width="9.58" height="9.58" fill="#8b0000"/>
<rect x="451.20" y="338.93" width="9.58" height="9.58" fill="#a00000"/>
<rect x="460.73" y="338.93" width="9.58" height="9.58" fill="#8b0000"/>
<rect x="470.26" y="338.93" width="9.58" height="9.58" fill="#e20000"/>
<rect x="479.79" y="338.93" width="9.58" height="9.58" fill="#a00000"/>
<rect x="489.32" y="338.93" width="9.58" height="9.58" fill="#e20000"/>
<rect x="498.85" y="338.93" width="9.58" height="9.58" fill="#e20000"/>
<rect x="508.38" y="338.93" width="9.58" height="9.58" fill="#6c6cff"/>
<rect x="517.91" y="338.93" width="9.58" height="9.58" fill="#ffcccc"/>
<rect x="527.44" y="338.93" width="9.58" height="9.58" fill="#ffe9e9"/>
<rect x="536.97" y="338.93" width="9.58" height="9.58" fill="#ff8888"/>
<rect x="546.50" y="338.93" width="9.58" height="9.58" fill="#f80000"/>
<rect x="556.03" y="338.93" width="9.58" height="9.58" fill="#a00000"/>
<rect x="565.56" y="338.93" width="9.58" height="9.58" fill="#b80000"/>
<rect x="575.09" y="338.93" width="9.58" height="9.58" fill="#ff6666"/>
<rect x="584.62" y="338.93" width="9.58" height="9.58" fill="#f80000"/>
<rect x="594.15" y="338.93" width="9.58" height="9.58" fill="#a00000"/>
<rect x="603.68" y="338.93" width="9.58" height="9.58" fill="#ff2222"/>
<rect x="613.21" y="338.93" width="9.58" height="9.58" fill="#8b0000"/>
<rect x="622.74" y="338.93" width="9.58" height="9.58" fill="#b80000"/>
<rect x="451.20" y="348.46" width="9.58" height="9.58" fill="#a00000"/>
<rect x="460.73" y="348.46" width="9.58" height="9.58" fill="#a00000"/>
<rect x="470.26" y="348.46" width="9.58" height="9.58" fill="#8b0000"/>
<rect x="479.79" y="348.46" width="9.58" height="9.58" fill="#8b0000"/>
<rect x="489.32" y="348.46" width="9.58" height="9.58" fill="#b80000"/>
<rect x="498.85" y="348.46" width="9.58" height="9.58" fill="#ff4444"/>
<rect x="508.38" y="348.46" width="9.58" height="9.58" fill="#f80000"/>
<rect x="517.91" y="348.46" width="9.58" height="9.58" fill="#e20000"/>
<rect x="527.44" y="348.46" width="9.58" height="9.58" fill="#f80000"/>
<rect x="536.97" y="348.46" width="9.58" height="9.58" fill="#f80000"/>
<rect x="546.50" y="348.46" width="9.58" height="9.58" fill="#cc0000"/>
<rect x="556.03" y="348.46" width="9.58" height="9.58" fill="#b80000"/>
<rect x="565.56" y="348.46" width="9.58" height="9.58" fill="#e20000"/>
<rect x="575.09" y="348.46" width="9.58" height="9.58" fill="#cc0000"/>
<rect x="584.62" y="348.46" width="9.58" height="9.58" fill="#a00000"/>
<rect x="594.15" y="348.46" width="9.58" height="9.58" fill="#cc0000"/>
<rect x="603.68" y="348.46" width="9.58" height="9.58" fill="#8b0000"/>
<rect x="613.21" y="348.46" width="9.58" height="9.58" fill="#fbfbff"/>
<rect x="622.74" y="348.46" width="9.58" height="9.58" fill="#f80000"/>
<rect x="451.20" y="357.99" width="9.58" height="9.58" fill="#a00000"/>
<rect x="460.73" y="357.99" width="9.58" height="9.58" fill="#8b0000"/>
<rect x="470.26" y="357.99" width="9.58" height="9.58" fill="#a00000"/>
<rect x="479.79" y="357.99" width="9.58" height="9.58" fill="#8b0000"/>
<rect x="489.32" y="357.99" width="9.58" height="9.58" fill="#cc0000"/>
<rect x="498.85" y="357.99" width="9.58" height="9.58" fill="#b80000"/>
<rect x="508.38" y="357.99" width="9.58" height="9.58" fill="#b80000"/>
<rect x="517.91" y="357.99" width="9.58" height="9.58" fill="#b80000"/>
<rect x="527.44" y="357.99" width="9.58" height="9.58" fill="#ff6666"/>
<rect x="536.97" y="357.99" width="9.58" height="9.58" fill="#f80000"/>
<rect x="546.50" y="357.99" width="9.58" height="9.58" fill="#cc0000"/>
<rect x="556.03" y="357.99" width="9.58" height="9.58" fill="#a00000"/>
<rect x="565.56" y="357.99" width="9.58" height="9.58" fill="#b80000"/>
<rect x="575.09" y="357.99" width="9.58" height="9.58" fill="#ff8888"/>
<rect x="584.62" y="357.99" width="9.58" height="9.58" fill="#a00000"/>
<rect x="594.15" y="357.99" width="9.58" height="9.58" fill="#8b0000"/>
<rect x="603.68" y="357.99" width="9.58" height="9.58" fill="#b80000"/>
<rect x="613.21" y="357.99" width="9.58" height="9.58" fill="#a00000"/>
<rect x="622.74" y="357.99" width="9.58" height="9.58" fill="#a00000"/>
<rect x="451.20" y="367.52" width="9.58" height="9.58" fill="#a00000"/>
<rect x="460.73" y="367.52" width="9.58" height="9.58" fill="#a00000"/>
<rect x="470.26" y="367.52" width="9.58" height="9.58" fill="#8b0000"/>
<rect x="479.79" y="367.52" width="9.58" height="9.58" fill="#b80000"/>
<rect x="489.32" y="367.52" width="9.58" height="9.58" fill="#cc0000"/>
<rect x="498.85" y="367.52" width="9.58" height="9.58" fill="#cc0000"/>
<rect x="508.38" y="367.52" width="9.58" height="9.58" fill="#f80000"/>
<rect x="517.91" y="367.52" width="9.58" height="9.58" fill="#e20000"/>
<rect x="527.44" y="367.52" width="9.58" height="9.58" fill="#ffaeae"/>
<rect x="536.97" y="367.52" width="9.58" height="9.58" fill="#e20000"/>
<rect x="546.50" y="367.52" width="9.58" height="9.58" fill="#e20000"/>
<rect x="556.03" y="367.52" width="9.58" height="9.58" fill="#a00000"/>
<rect x="565.56" y="367.52" width="9.58" height="9.58" fill="#ffaeae"/>
<rect x="575.09" y="367.52" width="9.58" height="9.58" fill="#cc0000"/>
<rect x="584.62" y="367.52" width="9.58" height="9.58" fill="#8b0000"/>
<rect x="594.15" y="367.52" width="9.58" height="9.58" fill="#e20000"/>
<rect x="603.68" y="367.52" width="9.58" height="9.58" fill="#b80000"/>
<rect x="613.21" y="367.52" width="9.58" height="9.58" fill="#ff2222"/>
<rect x="622.74" y="367.52" width="9.58" height="9.58" fill="#a00000"/>
<rect x="451.20" y="377.05" width="9.58" height="9.58" fill="#a00000"/>
<rect x="460.73" y="377.05" width="9.58" height="9.58" fill="#a00000"/>
<rect x="470.26" y="377.05" width="9.58" height="9.58" fill="#cc0000"/>
<rect x="479.79" y="377.05" width="9.58" height="9.58" fill="#ffe9e9"/>
<rect x="489.32" y="377.05" width="9.58" height="9.58" fill="#ff4444"/>
<rect x="498.85" y="377.05" width="9.58" height="9.58" fill="#ffcccc"/>
<rect x="508.38" y="377.05" width="9.58" height="9.58" fill="#ffe9e9"/>
<rect x="517.91" y="377.05" width="9.58" height="9.58" fill="#ff8888"/>
<rect x="527.44" y="377.05" width="9.58" height="9.58" fill="#ff8888"/>
<rect x="536.97" y="377.05" width="9.58" height="9.58" fill="#ff6666"/>
<rect x="546.50" y="377.05" width="9.58" height="9.58" fill="#ffcccc"/>
<rect x="556.03" y="377.05" width="9.58" height="9.58" fill="#e20000"/>
<rect x="565.56" y="377.05" width="9.58" height="9.58" fill="#ffcccc"/>
<rect x="575.09" y="377.05" width="9.58" height="9.58" fill="#a00000"/>
<rect x="584.62" y="377.05" width="9.58" height="9.58" fill="#cc0000"/>
<rect x="594.15" y="377.05" width="9.58" height="9.58" fill="#ff2222"/>
<rect x="603.68" y="377.05" width="9.58" height="9.58" fill="#cc0000"/>
<rect x="613.21" y="377.05" width="9.58" height="9.58" fill="#d8d8ff"/>
<rect x="622.74" y="377.05" width="9.58" height="9.58" fill="#a00000"/>
<rect x="451.20" y="386.58" width="9.58" height="9.58" fill="#f80000"/>
<rect x="460.73" y="386.58" width="9.58" height="9.58" fill="#a00000"/>
<rect x="470.26" y="386.58" width="9.58" height="9.58" fill="#e20000"/>
<rect x="479.79" y="386.58" width="9.58" height="9.58" fill="#b80000"/>
<rect x="489.32" y="386.58" width="9.58" height="9.58" fill="#b80000"/>
<rect x="498.85" y="386.58" width="9.58" height="9.58" fill="#ff2222"/>
<rect x="508.38" y="386.58" width="9.58" height="9.58" fill="#ff6666"/>
<rect x="517.91" y="386.58" width="9.58" height="9.58" fill="#ff8888"/>
<rect x="527.44" y="386.58" width="9.58" height="9.58" fill="#f80000"/>
<rect x="536.97" y="386.58" width="9.58" height="9.58" fill="#ff6666"/>
<rect x="546.50" y="386.58" width="9.58" height="9.58" fill="#ff2222"/>
<rect x="556.03" y="386.58" width="9.58" height="9.58" fill="#ff8888"/>
<rect x="565.56" y="386.58" width="9.58" height="9.58" fill="#a00000"/>
<rect x="575.09" y="386.58" width="9.58" height="9.58" fill="#ffcccc"/>
<rect x="584.62" y="386.58" width="9.58" height="9.58" fill="#ff2222"/>
<rect x="594.15" y="386.58" width="9.58" height="9.58" fill="#cc0000"/>
<rect x="603.68" y="386.58" width="9.58" height="9.58" fill="#ff2222"/>
<rect x="613.21" y="386.58" width="9.58" height="9.58" fill="#e20000"/>
<rect x="622.74" y="386.58" width="9.58" height="9.58" fill="#ff8888"/>
<rect x="451.20" y="396.11" width="9.58" height="9.58" fill="#a00000"/>
<rect x="460.73" y="396.11" width="9.58" height="9.58" fill="#b80000"/>
<rect x="470.26" y="396.11" width="9.58" height="9.58" fill="#e20000"/>
<rect x="479.79" y="396.11" width="9.58" height="9.58" fill="#ff2222"/>
<rect x="489.32" y="396.11" width="9.58" height="9.58" fill="#b80000"/>
<rect x="498.85" y="396.11" width="9.58" height="9.58" fill="#cc0000"/>
<rect x="508.38" y="396.11" width="9.58" height="9.58" fill="#ff2222"/>
<rect x="517.91" y="396.11" width="9.58" height="9.58" fill="#cc0000"/>
<rect x="527.44" y="396.11" width="9.58" height="9.58" fill="#ff8888"/>
<rect x="536.97" y="396.11" width="9.58" height="9.58" fill="#b80000"/>
<rect x="546.50" y="396.11" width="9.58" height="9.58" fill="#b80000"/>
<rect x="556.03" y="396.11" width="9.58" height="9.58" fill="#8b0000"/>
<rect x="565.56" y="396.11" width="9.58" height="9.58" fill="#fbfbff"/>
<rect x="575.09" y="396.11" width="9.58" height="9.58" fill="#e20000"/>
<rect x="584.62" y="396.11" width="9.58" height="9.58" fill="#cc0000"/>
<rect x="594.15" y="396.11" width="9.58" height="9.58" fill="#b80000"/>
<rect x="603.68" y="396.11" width="9.58" height="9.58" fill="#e20000"/>
<rect x="613.21" y="396.11" width="9.58" height="9.58" fill="#b80000"/>
<rect x="622.74" y="396.11" width="9.58" height="9.58" fill="#a00000"/>
<rect x="451.20" y="405.64" width="9.58" height="9.58" fill="#b80000"/>
<rect x="460.73" y="405.64" width="9.58" height="9.58" fill="#a00000"/>
<rect x="470.26" y="405.64" width="9.58" height="9.58" fill="#cc0000"/>
<rect x="479.79" y="405.64" width="9.58" height="9.58" fill="#b80000"/>
<rect x="489.32" y="405.64" width="9.58" height="9.58" fill="#cc0000"/>
<rect x="498.85" y="405.64" width="9.58" height="9.58" fill="#e20000"/>
<rect x="508.38" y="405.64" width="9.58" height="9.58" fill="#ff2222"/>
<rect x="517.91" y="405.64" width="9.58" height="9.58" fill="#cc0000"/>
<rect x="527.44" y="405.64" width="9.58" height="9.58" fill="#8686ff"/>
<rect x="536.97" y="405.64" width="9.58" height="9.58" fill="#8b0000"/>
<rect x="546.50" y="405.64" width="9.58" height="9.58" fill="#8b0000"/>
<rect x="556.03" y="405.64" width="9.58" height="9.58" fill="#a00000"/>
<rect x="565.56" y="405.64" width="9.58" height="9.58" fill="#cc0000"/>
<rect x="575.09" y="405.64" width="9.58" height="9.58" fill="#ffcccc"/>
<rect x="584.62" y="405.64" width="9.58" height="9.58" fill="#cc0000"/>
<rect x="594.15" y="405.64" width="9.58" height="9.58" fill="#cc0000"/>
<rect x="603.68" y="405.64" width="9.58" height="9.58" fill="#e20000"/>
<rect x="613.21" y="405.64" width="9.58" height="9.58" fill="#cc0000"/>
<rect x="622.74" y="405.64" width="9.58" height="9.58" fill="#cc0000"/>
<rect x="451.20" y="415.17" width="9.58" height="9.58" fill="#a00000"/>
<rect x="460.73" y="415.17" width="9.58" height="9.58" fill="#a00000"/>
<rect x="470.26" y="415.17" width="9.58" height="9.58" fill="#ff6666"/>
<rect x="479.79" y="415.17" width="9.58" height="9.58" fill="#fbfbff"/>
<rect x="489.32" y="415.17" width="9.58" height="9.58" fill="#a00000"/>
<rect x="498.85" y="415.17" width="9.58" height="9.58" fill="#e20000"/>
<rect x="508.38" y="415.17" width="9.58" height="9.58" fill="#ff4444"/>
<rect x="517.91" y="415.17" width="9.58" height="9.58" fill="#e20000"/>
<rect x="527.44" y="415.17" width="9.58" height="9.58" fill="#8686ff"/>
<rect x="536.97" y="415.17" width="9.58" height="9.58" fill="#8b0000"/>
<rect x="546.50" y="415.17" width="9.58" height="9.58" fill="#8b0000"/>
<rect x="556.03" y="415.17" width="9.58" height="9.58" fill="#a00000"/>
<rect x="565.56" y="415.17" width="9.58" height="9.58" fill="#ffaeae"/>
<rect x="575.09" y="415.17" width="9.58" height="9.58" fill="#f80000"/>
<rect x="584.62" y="415.17" width="9.58" height="9.58" fill="#f80000"/>
<rect x="594.15" y="415.17" width="9.58" height="9.58" fill="#cc0000"/>
<rect x="603.68" y="415.17" width="9.58" height="9.58" fill="#ff6666"/>
<rect x="613.21" y="415.17" width="9.58" height="9.58" fill="#f80000"/>
<rect x="622.74" y="415.17" width="9.58" height="9.58" fill="#a00000"/>
<rect x="451.20" y="424.70" width="9.58" height="9.58" fill="#a00000"/>
<rect x="460.73" y="424.70" width="9.58" height="9.58" fill="#b80000"/>
<rect x="470.26" y="424.70" width="9.58" height="9.58" fill="#ff8888"/>
<rect x="479.79" y="424.70" width="9.58" height="9.58" fill="#ff2222"/>
<rect x="489.32" y="424.70" width="9.58" height="9.58" fill="#ffcccc"/>
<rect x="498.85" y="424.70" width="9.58" height="9.58" fill="#a6a6ff"/>
<rect x="508.38" y="424.70" width="9.58" height="9.58" fill="#ffe9e9"/>
<rect x="517.91" y="424.70" width="9.58" height="9.58" fill="#ffaeae"/>
<rect x="527.44" y="424.70" width="9.58" height="9.58" fill="#8b0000"/>
<rect x="536.97" y="424.70" width="9.58" height="9.58" fill="#ffaeae"/>
<rect x="546.50" y="424.70" width="9.58" height="9.58" fill="#ffaeae"/>
<rect x="556.03" y="424.70" width="9.58" height="9.58" fill="#ff2222"/>
<rect x="565.56" y="424.70" width="9.58" height="9.58" fill="#ff2222"/>
<rect x="575.09" y="424.70" width="9.58" height="9.58" fill="#f80000"/>
<rect x="584.62" y="424.70" width="9.58" height="9.58" fill="#f80000"/>
<rect x="594.15" y="424.70" width="9.58" height="9.58" fill="#ff6666"/>
<rect x="603.68" y="424.70" width="9.58" height="9.58" fill="#f80000"/>
<rect x="613.21" y="424.70" width="9.58" height="9.58" fill="#ff8888"/>
<rect x="622.74" y="424.70" width="9.58" height="9.58" fill="#b80000"/>
<rect x="451.20" y="434.23" width="9.58" height="9.58" fill="#a00000"/>
<rect x="460.73" y="434.23" width="9.58" height="9.58" fill="#b80000"/>
<rect x="470.26" y="434.23" width="9.58" height="9.58" fill="#a00000"/>
<rect x="479.79" y="434.23" width="9.58" height="9.58" fill="#a00000"/>
<rect x="489.32" y="434.23" width="9.58" height="9.58" fill="#f80000"/>
<rect x="498.85" y="434.23" width="9.58" height="9.58" fill="#8b0000"/>
<rect x="508.38" y="434.23" width="9.58" height="9.58" fill="#8b0000"/>
<rect x="517.91" y="434.23" width="9.58" height="9.58" fill="#8b0000"/>
<rect x="527.44" y="434.23" width="9.58" height="9.58" fill="#ff6666"/>
<rect x="536.97" y="434.23" width="9.58" height="9.58" fill="#f80000"/>
<rect x="546.50" y="434.23" width="9.58" height="9.58" fill="#e20000"/>
<rect x="556.03" y="434.23" width="9.58" height="9.58" fill="#a00000"/>
<rect x="565.56" y="434.23" width="9.58" height="9.58" fill="#8686ff"/>
<rect x="575.09" y="434.23" width="9.58" height="9.58" fill="#f80000"/>
<rect x="584.62" y="434.23" width="9.58" height="9.58" fill="#a00000"/>
<rect x="594.15" y="434.23" width="9.58" height="9.58" fill="#cc0000"/>
<rect x="603.68" y="434.23" width="9.58" height="9.58" fill="#b80000"/>
<rect x="613.21" y="434.23" width="9.58" height="9.58" fill="#e20000"/>
<rect x="622.74" y="434.23" width="9.58" height="9.58" fill="#a00000"/>
<rect x="451.20" y="443.76" width="9.58" height="9.58" fill="#b80000"/>
<rect x="460.73" y="443.76" width="9.58" height="9.58" fill="#ff2222"/>
<rect x="470.26" y="443.76" width="9.58" height="9.58" fill="#b80000"/>
<rect x="479.79" y="443.76" width="9.58" height="9.58" fill="#a00000"/>
<rect x="489.32" y="443.76" width="9.58" height="9.58" fill="#f80000"/>
<rect x="498.85" y="443.76" width="9.58" height="9.58" fill="#8b0000"/>
<rect x="508.38" y="443.76" width="9.58" height="9.58" fill="#8b0000"/>
<rect x="517.91" y="443.76" width="9.58" height="9.58" fill="#8b0000"/>
<rect x="527.44" y="443.76" width="9.58" height="9.58" fill="#ff8888"/>
<rect x="536.97" y="443.76" width="9.58" height="9.58" fill="#ff2222"/>
<rect x="546.50" y="443.76" width="9.58" height="9.58" fill="#f80000"/>
<rect x="556.03" y="443.76" width="9.58" height="9.58" fill="#a00000"/>
<rect x="565.56" y="443.76" width="9.58" height="9.58" fill="#ff6666"/>
<rect x="575.09" y="443.76" width="9.58" height="9.58" fill="#ff8888"/>
<rect x="584.62" y="443.76" width="9.58" height="9.58" fill="#b80000"/>
<rect x="594.15" y="443.76" width="9.58" height="9.58" fill="#ff6666"/>
<rect x="603.68" y="443.76" width="9.58" height="9.58" fill="#b80000"/>
<rect x="613.21" y="443.76" width="9.58" height="9.58" fill="#ff2222"/>
<rect x="622.74" y="443.76" width="9.58" height="9.58" fill="#a00000"/>
<rect x="451.20" y="453.29" width="9.58" height="9.58" fill="#b80000"/>
<rect x="460.73" y="453.29" width="9.58" height="9.58" fill="#f80000"/>
<rect x="470.26" y="453.29" width="9.58" height="9.58" fill="#cc0000"/>
<rect x="479.79" y="453.29" width="9.58" height="9.58" fill="#f80000"/>
<rect x="489.32" y="453.29" width="9.58" height="9.58" fill="#e20000"/>
<rect x="498.85" y="453.29" width="9.58" height="9.58" fill="#8b0000"/>
<rect x="508.38" y="453.29" width="9.58" height="9.58" fill="#a00000"/>
<rect x="517.91" y="453.29" width="9.58" height="9.58" fill="#8b0000"/>
<rect x="527.44" y="453.29" width="9.58" height="9.58" fill="#d8d8ff"/>
<rect x="536.97" y="453.29" width="9.58" height="9.58" fill="#f80000"/>
<rect x="546.50" y="453.29" width="9.58" height="9.58" fill="#ff2222"/>
<rect x="556.03" y="453.29" width="9.58" height="9.58" fill="#a00000"/>
<rect x="565.56" y="453.29" width="9.58" height="9.58" fill="#0000e4"/>
<rect x="575.09" y="453.29" width="9.58" height="9.58" fill="#cc0000"/>
<rect x="584.62" y="453.29" width="9.58" height="9.58" fill="#a00000"/>
<rect x="594.15" y="453.29" width="9.58" height="9.58" fill="#ff8888"/>
<rect x="603.68" y="453.29" width="9.58" height="9.58" fill="#f80000"/>
<rect x="613.21" y="453.29" width="9.58" height="9.58" fill="#e20000"/>
<rect x="622.74" y="453.29" width="9.58" height="9.58" fill="#8b0000"/>
<rect x="451.20" y="462.82" width="9.58" height="9.58" fill="#a00000"/>
<rect x="460.73" y="462.82" width="9.58" height="9.58" fill="#a00000"/>
<rect x="470.26" y="462.82" width="9.58" height="9.58" fill="#cc0000"/>
<rect x="479.79" y="462.82" width="9.58" height="9.58" fill="#b80000"/>
<rect x="489.32" y="462.82" width="9.58" height="9.58" fill="#a00000"/>
<rect x="498.85" y="462.82" width="9.58" height="9.58" fill="#ff2222"/>
<rect x="508.38" y="462.82" width="9.58" height="9.58" fill="#ff8888"/>
<rect x="517.91" y="462.82" width="9.58" height="9.58" fill="#f80000"/>
<rect x="527.44" y="462.82" width="9.58" height="9.58" fill="#ff6666"/>
<rect x="536.97" y="462.82" width="9.58" height="9.58" fill="#cc0000"/>
<rect x="546.50" y="462.82" width="9.58" height="9.58" fill="#b80000"/>
<rect x="556.03" y="462.82" width="9.58" height="9.58" fill="#8b0000"/>
<rect x="565.56" y="462.82" width="9.58" height="9.58" fill="#ff6666"/>
<rect x="575.09" y="462.82" width="9.58" height="9.58" fill="#cc0000"/>
<rect x="584.62" y="462.82" width="9.58" height="9.58" fill="#cc0000"/>
<rect x="594.15" y="462.82" width="9.58" height="9.58" fill="#cc0000"/>
<rect x="603.68" y="462.82" width="9.58" height="9.58" fill="#cc0000"/>
<rect x="613.21" y="462.82" width="9.58" height="9.58" fill="#cc0000"/>
<rect x="622.74" y="462.82" width="9.58" height="9.58" fill="#b80000"/>
<rect x="451.20" y="472.35" width="9.58" height="9.58" fill="#a00000"/>
<rect x="460.73" y="472.35" width="9.58" height="9.58" fill="#8b0000"/>
<rect x="470.26" y="472.35" width="9.58" height="9.58" fill="#a00000"/>
<rect x="479.79" y="472.35" width="9.58" height="9.58" fill="#8b0000"/>
<rect x="489.32" y="472.35" width="9.58" height="9.58" fill="#b80000"/>
<rect x="498.85" y="472.35" width="9.58" height="9.58" fill="#cc0000"/>
<rect x="508.38" y="472.35" width="9.58" height="9.58" fill="#e20000"/>
<rect x="517.91" y="472.35" width="9.58" height="9.58" fill="#cc0000"/>
<rect x="527.44" y="472.35" width="9.58" height="9.58" fill="#ff2222"/>
<rect x="536.97" y="472.35" width="9.58" height="9.58" fill="#ff2222"/>
<rect x="546.50" y="472.35" width="9.58" height="9.58" fill="#cc0000"/>
<rect x="556.03" y="472.35" width="9.58" height="9.58" fill="#a00000"/>
<rect x="565.56" y="472.35" width="9.58" height="9.58" fill="#b80000"/>
<rect x="575.09" y="472.35" width="9.58" height="9.58" fill="#e20000"/>
<rect x="584.62" y="472.35" width="9.58" height="9.58" fill="#b80000"/>
<rect x="594.15" y="472.35" width="9.58" height="9.58" fill="#8b0000"/>
<rect x="603.68" y="472.35" width="9.58" height="9.58" fill="#a00000"/>
<rect x="613.21" y="472.35" width="9.58" height="9.58" fill="#a00000"/>
<rect x="622.74" y="472.35" width="9.58" height="9.58" fill="#b80000"/>
<rect x="451.20" y="481.88" width="9.58" height="9.58" fill="#8b0000"/>
<rect x="460.73" y="481.88" width="9.58" height="9.58" fill="#8b0000"/>
<rect x="470.26" y="481.88" width="9.58" height="9.58" fill="#8b0000"/>
<rect x="479.79" y="481.88" width="9.58" height="9.58" fill="#a00000"/>
<rect x="489.32" y="481.88" width="9.58" height="9.58" fill="#b80000"/>
<rect x="498.85" y="481.88" width="9.58" height="9.58" fill="#cc0000"/>
<rect x="508.38" y="481.88" width="9.58" height="9.58" fill="#f80000"/>
<rect x="517.91" y="481.88" width="9.58" height="9.58" fill="#e20000"/>
<rect x="527.44" y="481.88" width="9.58" height="9.58" fill="#a6a6ff"/>
<rect x="536.97" y="481.88" width="9.58" height="9.58" fill="#e20000"/>
<rect x="546.50" y="481.88" width="9.58" height="9.58" fill="#cc0000"/>
<rect x="556.03" y="481.88" width="9.58" height="9.58" fill="#8b0000"/>
<rect x="565.56" y="481.88" width="9.58" height="9.58" fill="#ff6666"/>
<rect x="575.09" y="481.88" width="9.58" height="9.58" fill="#cc0000"/>
<rect x="584.62" y="481.88" width="9.58" height="9.58" fill="#8b0000"/>
<rect x="594.15" y="481.88" width="9.58" height="9.58" fill="#f80000"/>
<rect x="603.68" y="481.88" width="9.58" height="9.58" fill="#a00000"/>
<rect x="613.21" y="481.88" width="9.58" height="9.58" fill="#ff6666"/>
<rect x="622.74" y="481.88" width="9.58" height="9.58" fill="#b80000"/>
<rect x="451.20" y="491.41" width="9.58" height="9.58" fill="#8b0000"/>
<rect x="460.73" y="491.41" width="9.58" height="9.58" fill="#8b0000"/>
<rect x="470.26" y="491.41" width="9.58" height="9.58" fill="#b80000"/>
<rect x="479.79" y="491.41" width="9.58" height="9.58" fill="#a00000"/>
<rect x="489.32" y="491.41" width="9.58" height="9.58" fill="#a00000"/>
<rect x="498.85" y="491.41" width="9.58" height="9.58" fill="#ffaeae"/>
<rect x="508.38" y="491.41" width="9.58" height="9.58" fill="#ff8888"/>
<rect x="517.91" y="491.41" width="9.58" height="9.58" fill="#f80000"/>
<rect x="527.44" y="491.41" width="9.58" height="9.58" fill="#b80000"/>
<rect x="536.97" y="491.41" width="9.58" height="9.58" fill="#f80000"/>
<rect x="546.50" y="491.41" width="9.58" height="9.58" fill="#cc0000"/>
<rect x="556.03" y="491.41" width="9.58" height="9.58" fill="#a00000"/>
<rect x="565.56" y="491.41" width="9.58" height="9.58" fill="#cc0000"/>
<rect x="575.09" y="491.41" width="9.58" height="9.58" fill="#cc0000"/>
<rect x="584.62" y="491.41" width="9.58" height="9.58" fill="#b80000"/>
<rect x="594.15" y="491.41" width="9.58" height="9.58" fill="#8b0000"/>
<rect x="603.68" y="491.41" width="9.58" height="9.58" fill="#cc0000"/>
<rect x="613.21" y="491.41" width="9.58" height="9.58" fill="#a00000"/>
<rect x="622.74" y="491.41" width="9.58" height="9.58" fill="#a00000"/>
<rect x="451.20" y="500.94" width="9.58" height="9.58" fill="#8b0000"/>
<rect x="460.73" y="500.94" width="9.58" height="9.58" fill="#8b0000"/>
<rect x="470.26" y="500.94" width="9.58" height="9.58" fill="#b80000"/>
<rect x="479.79" y="500.94" width="9.58" height="9.58" fill="#b80000"/>
<rect x="489.32" y="500.94" width="9.58" height="9.58" fill="#a00000"/>
<rect x="498.85" y="500.94" width="9.58" height="9.58" fill="#ff6666"/>
<rect x="508.38" y="500.94" width="9.58" height="9.58" fill="#fbfbff"/>
<rect x="517.91" y="500.94" width="9.58" height="9.58" fill="#ff2222"/>
<rect x="527.44" y="500.94" width="9.58" height="9.58" fill="#cc0000"/>
<rect x="536.97" y="500.94" width="9.58" height="9.58" fill="#f80000"/>
<rect x="546.50" y="500.94" width="9.58" height="9.58" fill="#e20000"/>
<rect x="556.03" y="500.94" width="9.58" height="9.58" fill="#8b0000"/>
<rect x="565.56" y="500.94" width="9.58" height="9.58" fill="#ffcccc"/>
<rect x="575.09" y="500.94" width="9.58" height="9.58" fill="#b80000"/>
<rect x="584.62" y="500.94" width="9.58" height="9.58" fill="#b80000"/>
<rect x="594.15" y="500.94" width="9.58" height="9.58" fill="#cc0000"/>
<rect x="603.68" y="500.94" width="9.58" height="9.58" fill="#cc0000"/>
<rect x="613.21" y="500.94" width="9.58" height="9.58" fill="#b80000"/>
<rect x="622.74" y="500.94" width="9.58" height="9.58" fill="#a00000"/>
</g>
<rect x="451.20" y="329.40" width="181.07" height="181.07" fill="none" stroke="#000" stroke-width="0.6"/>
<line x1="448.00" y1="505.70" x2="451.20" y2="505.70" stroke="#000" stroke-width="0.85"/>
<text x="445.2" y="509.3" font-size="9.5" text-anchor="end" >blca</text>
<line x1="455.96" y1="510.47" x2="455.96" y2="513.67" stroke="#000" stroke-width="0.85"/>
<text x="459.5" y="516.9" font-size="9.5" text-anchor="end" transform="rotate(-90 459.5 516.9)" >blca</text>
<line x1="448.00" y1="496.17" x2="451.20" y2="496.17" stroke="#000" stroke-width="0.85"/>
<text x="445.2" y="499.8" font-size="9.5" text-anchor="end" >brca</text>
<line x1="465.49" y1="510.47" x2="465.49" y2="513.67" stroke="#000" stroke-width="0.85"/>
<text x="469.0" y="516.9" font-size="9.5" text-anchor="end" transform="rotate(-90 469.0 516.9)" >brca</text>
<line x1="448.00" y1="486.64" x2="451.20" y2="486.64" stroke="#000" stroke-width="0.85"/>
<text x="445.2" y="490.2" font-size="9.5" text-anchor="end" >coad</text>
<line x1="475.02" y1="510.47" x2="475.02" y2="513.67" stroke="#000" stroke-width="0.85"/>
<text x="478.5" y="516.9" font-size="9.5" text-anchor="end" transform="rotate(-90 478.5 516.9)" >coad</text>
<line x1="448.00" y1="477.11" x2="451.20" y2="477.11" stroke="#000" stroke-width="0.85"/>
<text x="445.2" y="480.7" font-size="9.5" text-anchor="end" >esca</text>
<line x1="484.55" y1="510.47" x2="484.55" y2="513.67" stroke="#000" stroke-width="0.85"/>
<text x="488.1" y="516.9" font-size="9.5" text-anchor="end" transform="rotate(-90 488.1 516.9)" >esca</text>
<line x1="448.00" y1="467.58" x2="451.20" y2="467.58" stroke="#000" stroke-width="0.85"/>
<text x="445.2" y="471.2" font-size="9.5" text-anchor="end" >hnsc</text>
<line x1="494.08" y1="510.47" x2="494.08" y2="513.67" stroke="#000" stroke-width="0.85"/>
<text x="497.6" y="516.9" font-size="9.5" text-anchor="end" transform="rotate(-90 497.6 516.9)" >hnsc</text>
<line x1="448.00" y1="458.05" x2="451.20" y2="458.05" stroke="#000" stroke-width="0.85"/>
<text x="445.2" y="461.7" font-size="9.5" text-anchor="end" >kich</text>
<line x1="503.61" y1="510.47" x2="503.61" y2="513.67" stroke="#000" stroke-width="0.85"/>
<text x="507.1" y="516.9" font-size="9.5" text-anchor="end" transform="rotate(-90 507.1 516.9)" >kich</text>
<line x1="448.00" y1="448.52" x2="451.20" y2="448.52" stroke="#000" stroke-width="0.85"/>
<text x="445.2" y="452.1" font-size="9.5" text-anchor="end" >kirc</text>
<line x1="513.14" y1="510.47" x2="513.14" y2="513.67" stroke="#000" stroke-width="0.85"/>
<text x="516.6" y="516.9" font-size="9.5" text-anchor="end" transform="rotate(-90 516.6 516.9)" >kirc</text>
<line x1="448.00" y1="438.99" x2="451.20" y2="438.99" stroke="#000" stroke-width="0.85"/>
<text x="445.2" y="442.6" font-size="9.5" text-anchor="end" >kirp</text>
<line x1="522.67" y1="510.47" x2="522.67" y2="513.67" stroke="#000" stroke-width="0.85"/>
<text x="526.2" y="516.9" font-size="9.5" text-anchor="end" transform="rotate(-90 526.2 516.9)" >kirp</text>
<line x1="448.00" y1="429.46" x2="451.20" y2="429.46" stroke="#000" stroke-width="0.85"/>
<text x="445.2" y="433.1" font-size="9.5" text-anchor="end" >lihc</text>
<line x1="532.20" y1="510.47" x2="532.20" y2="513.67" stroke="#000" stroke-width="0.85"/>
<text x="535.7" y="516.9" font-size="9.5" text-anchor="end" transform="rotate(-90 535.7 516.9)" >lihc</text>
<line x1="448.00" y1="419.93" x2="451.20" y2="419.93" stroke="#000" stroke-width="0.85"/>
<text x="445.2" y="423.5" font-size="9.5" text-anchor="end" >luad</text>
<line x1="541.74" y1="510.47" x2="541.74" y2="513.67" stroke="#000" stroke-width="0.85"/>
<text x="545.2" y="516.9" font-size="9.5" text-anchor="end" transform="rotate(-90 545.2 516.9)" >luad</text>
<line x1="448.00" y1="410.40" x2="451.20" y2="410.40" stroke="#000" stroke-width="0.85"/>
<text x="445.2" y="414.0" font-size="9.5" text-anchor="end" >lusc</text>
<line x1="551.26" y1="510.47" x2="551.26" y2="513.67" stroke="#000" stroke-width="0.85"/>
<text x="554.8" y="516.9" font-size="9.5" text-anchor="end" transform="rotate(-90 554.8 516.9)" >lusc</text>
<line x1="448.00" y1="400.87" x2="451.20" y2="400.87" stroke="#000" stroke-width="0.85"/>
<text x="445.2" y="404.5" font-size="9.5" text-anchor="end" >ov</text>
<line x1="560.79" y1="510.47" x2="560.79" y2="513.67" stroke="#000" stroke-width="0.85"/>
<text x="564.3" y="516.9" font-size="9.5" text-anchor="end" transform="rotate(-90 564.3 516.9)" >ov</text>
<line x1="448.00" y1="391.34" x2="451.20" y2="391.34" stroke="#000" stroke-width="0.85"/>
<text x="445.2" y="394.9" font-size="9.5" text-anchor="end" >paad</text>
<line x1="570.32" y1="510.47" x2="570.32" y2="513.67" stroke="#000" stroke-width="0.85"/>
<text x="573.8" y="516.9" font-size="9.5" text-anchor="end" transform="rotate(-90 573.8 516.9)" >paad</text>
<line x1="448.00" y1="381.81" x2="451.20" y2="381.81" stroke="#000" stroke-width="0.85"/>
<text x="445.2" y="385.4" font-size="9.5" text-anchor="end" >prad</text>
<line x1="579.85" y1="510.47" x2="579.85" y2="513.67" stroke="#000" stroke-width="0.85"/>
<text x="583.4" y="516.9" font-size="9.5" text-anchor="end" transform="rotate(-90 583.4 516.9)" >prad</text>
<line x1="448.00" y1="372.28" x2="451.20" y2="372.28" stroke="#000" stroke-width="0.85"/>
<text x="445.2" y="375.9" font-size="9.5" text-anchor="end" >read</text>
<line x1="589.38" y1="510.47" x2="589.38" y2="513.67" stroke="#000" stroke-width="0.85"/>
<text x="592.9" y="516.9" font-size="9.5" text-anchor="end" transform="rotate(-90 592.9 516.9)" >read</text>
<line x1="448.00" y1="362.75" x2="451.20" y2="362.75" stroke="#000" stroke-width="0.85"/>
<text x="445.2" y="366.4" font-size="9.5" text-anchor="end" >sarc</text>
<line x1="598.91" y1="510.47" x2="598.91" y2="513.67" stroke="#000" stroke-width="0.85"/>
<text x="602.4" y="516.9" font-size="9.5" text-anchor="end" transform="rotate(-90 602.4 516.9)" >sarc</text>
<line x1="448.00" y1="353.22" x2="451.20" y2="353.22" stroke="#000" stroke-width="0.85"/>
<text x="445.2" y="356.8" font-size="9.5" text-anchor="end" >stad</text>
<line x1="608.44" y1="510.47" x2="608.44" y2="513.67" stroke="#000" stroke-width="0.85"/>
<text x="611.9" y="516.9" font-size="9.5" text-anchor="end" transform="rotate(-90 611.9 516.9)" >stad</text>
<line x1="448.00" y1="343.69" x2="451.20" y2="343.69" stroke="#000" stroke-width="0.85"/>
<text x="445.2" y="347.3" font-size="9.5" text-anchor="end" >thca</text>
<line x1="617.98" y1="510.47" x2="617.98" y2="513.67" stroke="#000" stroke-width="0.85"/>
<text x="621.5" y="516.9" font-size="9.5" text-anchor="end" transform="rotate(-90 621.5 516.9)" >thca</text>
<line x1="448.00" y1="334.16" x2="451.20" y2="334.16" stroke="#000" stroke-width="0.85"/>
<text x="445.2" y="337.8" font-size="9.5" text-anchor="end" >ucec</text>
<line x1="627.50" y1="510.47" x2="627.50" y2="513.67" stroke="#000" stroke-width="0.85"/>
<text x="631.0" y="516.9" font-size="9.5" text-anchor="end" transform="rotate(-90 631.0 516.9)" >ucec</text>
<rect x="645.80" y="329.40" width="9.50" height="181.07" fill="url(#sm)" stroke="#000" stroke-width="0.7"/>
<line x1="655.30" y1="510.47" x2="658.50" y2="510.47" stroke="#000" stroke-width="0.85"/>
<text x="661.2" y="514.1" font-size="9.3" text-anchor="start" >0.0</text>
<line x1="655.30" y1="474.26" x2="658.50" y2="474.26" stroke="#000" stroke-width="0.85"/>
<text x="661.2" y="477.9" font-size="9.3" text-anchor="start" >0.2</text>
<line x1="655.30" y1="438.04" x2="658.50" y2="438.04" stroke="#000" stroke-width="0.85"/>
<text x="661.2" y="441.7" font-size="9.3" text-anchor="start" >0.4</text>
<line x1="655.30" y1="401.83" x2="658.50" y2="401.83" stroke="#000" stroke-width="0.85"/>
<text x="661.2" y="405.5" font-size="9.3" text-anchor="start" >0.6</text>
<line x1="655.30" y1="365.61" x2="658.50" y2="365.61" stroke="#000" stroke-width="0.85"/>
<text x="661.2" y="369.3" font-size="9.3" text-anchor="start" >0.8</text>
<line x1="655.30" y1="329.40" x2="658.50" y2="329.40" stroke="#000" stroke-width="0.85"/>
<text x="661.2" y="333.0" font-size="9.3" text-anchor="start" >1.0</text>
<text x="684.0" y="420.4" font-size="11" text-anchor="middle" transform="rotate(-90 684.0 420.4)" textLength="21.0" lengthAdjust="spacingAndGlyphs" >AUC</text>
<text x="420.3" y="412.6" font-size="11.6" text-anchor="middle" transform="rotate(-90 420.3 412.6)" textLength="60.0" lengthAdjust="spacingAndGlyphs" >train cancer</text>
<text x="547.5" y="554.3" font-size="11.6" text-anchor="middle" textLength="56.0" lengthAdjust="spacingAndGlyphs" >test cancer</text>
</svg></body></html>
